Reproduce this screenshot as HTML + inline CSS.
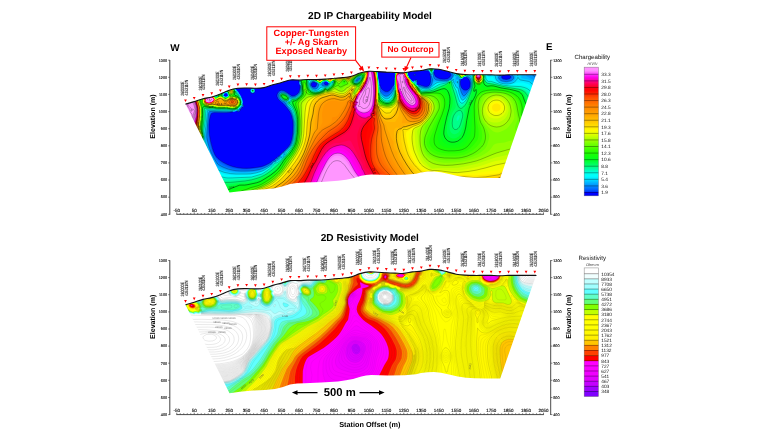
<!DOCTYPE html>
<html lang="en"><head><meta charset="utf-8"><title>2D IP Chargeability and Resistivity Models</title>
<style>html,body{margin:0;padding:0;background:#fff;overflow:hidden}svg{display:block}</style></head>
<body>
<svg width="768" height="432" viewBox="0 0 768 432" text-rendering="geometricPrecision" font-family='&quot;Liberation Sans&quot;, sans-serif'>
<rect width="768" height="432" fill="#fff"/>
<clipPath id="clipip"><rect x="181.0" y="61.0" width="360.0" height="136.0"/></clipPath>
<g clip-path="url(#clipip)">
<rect x="181.0" y="61.0" width="360.0" height="136.0" fill="#0000ff"/>
<g transform="scale(.1)">
<path fill="#004fff" d="M1830 620l38 0 34 110 19 50 20 45 20 40 22 35 17 22 15 12 20 6 60-1 20 3 20 6 10-1 5-6 6-11 22-75 17-32 15-16 15-10 15-6 20-2 20 3 15 6 15 10 12 12 18 25 20 48 25 27 10 19 9 11 3 10 11 15 12 45 0 5-5 15 10 10 3 10-1 5-5 5-13 5-4 12-12 8-1 10-7 9-5 2-10 0-15-6-5-1-10 8-15 0-45 8-55 3-90-2-20 3-10 6-11 20-9 40-5 55 2 70 8 62 8 38 22 80 18 45 16 25 11 12 25 21 30 20 43 22 37 15 34 10 36 7 45 5 40 2 65-4 70-11 20-4 28-10 41-20 21-14 15-13 16-8 14-15 15-9 10-10 10-6 8-10 12-9 8-11 13-10 54-55 14-20 11-25 10-36 7-39 4-90-1-35-11-55-9-25-10-19-25-35-30-36-15-16-35-29-13-15-12-25 0-15 7-20 8-12 15-11 15-4 20 3 15 7 65 44 10 3 20-3 10-4 15-10 17-18 9-25 4-30-15-75-10-25-20-26-46-44-23-25-19-25-19-30 974 0-22 45-15 36-7 24 2 35 4 35 11 45 10 28 10 20 14 12 16 11 10 4 10 1 15-2 20-14 13-15 12-25 10-5 5-13 2-27-1-10 5-10-1-10 5-25-2-15 2-60 10-65 757 0 11 65 6 15 6 5 10 1 25-4 20 0 45 13 20 3 15-2 15-5 15-8 15-12 22-26 24-45 434 0 0 1340-3570 0 0-1335zM2250 934l-5 3-4 8-1 5 2 5 4 5 9 4 10-1 10-5 3-8-8-16-10-2-5 0zM3125 824l-7 6-6 10 0 10 3 8 5 7 10 5 10 1 10-2 6-4 6-10 6-15-1-5-7-5-15-7-10-2-5 1zM3255 819l-9 6-3 5 2 10 3 5 8 5 9 1 5-1 7-5 3-5 0-10-7-10-8-3-5 0zM4125 665l-15 8-10 12-10 18-8 22-3 20 15 35 10 10 6 12 16 13 9 0 15-13 10-4 5 0 5 3 4 9-1 10-7 15 4 8 10 3 10 0 59 19 21 0 13-5 11-10 6-12 5-18 2-20-2-35-10-47-5-4-10-5-35-2-15-4-40-15-40-21-10-3-10-1zM4375 684l-25 13-10 9-4 9 9 32 5 11 5 6 25 17 30 9 30 3 35-6 20-14 12-18 1-5-2-10-14-20-27-21-30-14-30-5-25 3zM4635 773l-5 3-5 10-13 4-5 5-4 30 2 24 10 26 15 17 10 6 10 3 20-2 15-9 13-20 3-20 1-25-12-29-8-11-17-11-15-3-10 1zM5045 748l-18 7-7 5-4 10 4 10 15 10 15 3 15 1 20-3 13-6 7-6 3-9-4-10-7-5-22-8-15-2-10 2zM4149 740l6 2 2 3 0 5-2 4-5 3-10-2 0-7 5-7zM2513 890l7-3 10-1 10 3 6 6 3 5 2 10-2 10-4 6-10 7-10 1-10-3-8-6-3-5-1-10 2-10 5-7z"/>
<path fill="#0067ff" d="M1830 620l33 0 35 110 20 50 20 45 20 40 22 35 20 25 15 12 10 4 15 2 60-2 15 3 20 6 10 0 5-5 6-10 21-70 8-20 10-16 15-17 15-11 15-6 20-2 15 1 15 5 15 9 15 13 20 29 20 45 25 28 9 17 9 10 3 10 10 15 7 25 6 25-5 10 0 5 8 10 2 10-2 5-7 4-15-4 4 15-4 6-5 2-10-2-3 4 5 5 1 5-3 9-5 4-10 1-20-6-10 8-15 0-45 6-60 2-90-2-23 3-12 7-6 13-4 15-7 55-4 65 1 50 13 95 17 63 12 32 14 30 19 30 15 18 25 22 25 16 36 19 34 14 35 10 35 7 40 5 40 2 75-3 65-9 50-14 50-22 26-15 19-20 15-6 10-14 15-9 9-11 15-10 26-29 15-11 50-50 15-20 10-20 15-55 7-60 3-60-2-35-10-50-12-35-16-29-55-74-25-16-26-26-6-10-5-15-1-15 5-15 13-16 15-7 15-1 15 2 25 13 50 37 15 1 20-4 25-16 15-18 5-12 4-19 3-25-2-15-8-25-6-40-11-27-20-26-61-62-19-25-19-30 962 0-18 38-22 62-2 10 6 50 7 45 13 50 3 20 5 13 10 10 15 8 15 6 10 1 20-4 15-9 10-8 15-17 20-37 4-18 1-35 3-10-1-10 3-10-1-35 3-55 5-30 9-35 747 0 12 70 5 14 5 5 10 2 30-7 20 0 15 4 30 11 25 3 15-1 15-5 15-8 17-13 23-28 26-47 400 0 13 45 11 28 0 1267-3570 0 0-1335zM2260 930l-15 5-5 9-1 6 0 5 4 5 12 6 5 0 10-3 5-3 4-5 0-5-6-15-3-3-9-2zM3130 819l-10 4-6 7-5 10 0 10 4 10 7 9 10 6 15 2 10-2 10-10 8-15 2-10-2-5-5-5-23-10-10-2zM3260 815l-30 14-2 6 1 5 5 5 26 10 15-4 6-6 2-5 0-5-3-10-5-6-10-4zM4125 653l-15 10-10 13-10 20-10 29-2 20 15 35 10 10 7 12 15 14 10 0 10-9 10-5 10 0 6 8-1 10-5 15 1 5 4 5 15 7 55 16 15 2 15 0 15-6 12-9 9-15 4-17 2-23-4-35-5-15-4-25-4-10-15-8-50-11-30-14-45-25-15-5-10 0zM4395 674l-20 6-15 7-15 11-9 12-1 10 5 22 5 17 5 8 10 10 10 7 14 6 16 4 40 4 45-4 9-4 6-7 12-18 4-10-2-15-9-14-25-26-25-16-26-9-29-1zM4645 770l-15 5-6 10-15 5-4 5-5 25-1 15 6 30 10 22 20 23 5 3 10 3 10-3 15-8 10-9 10-14 7-17 4-35-6-24-11-21-6-5-13-7-20-3zM5045 745l-20 6-12 9-5 10 0 5 5 10 16 10 26 6 15-1 20-4 15-6 10-10 1-10-5-10-11-9-25-8-15-2-10 2zM2515 890l10-3 10 1 5 3 8 9 1 15-2 5-7 8-10 4-10-1-5-2-8-9-2-15 5-10 5-5z"/>
<path fill="#0080ff" d="M1830 620l28 0 36 110 38 90 21 40 22 37 20 27 15 13 10 5 15 3 65-3 20 4 20 7 5-1 5-3 8-14 21-70 9-20 10-15 12-14 15-10 15-7 20-3 15 2 15 5 15 9 15 13 20 29 18 41 27 30 7 15 9 10 3 10 10 15 8 25 6 25-5 10 0 5 8 15 0 5-6 5-5 1-10-2-2 1 3 15-6 5-15 0-1 5 5 5 1 5-1 5-4 5-10 2-20-6-10 8-15 0-40 5-65 1-85-3-35 3-10 3-9 22-4 30-8 90-2 75 12 90 7 30 14 40 19 45 16 28 15 23 20 23 15 15 30 18 30 15 30 12 30 8 30 7 75 7 75-1 75-8 30-7 30-9 55-25 30-17 15-20 10-4 10-1 5-14 5-5 15-8 8-12 12-8 9-12 8-5 8-11 14-9 50-50 17-20 11-20 14-50 9-67 2-68-2-35-8-40-11-35-16-34-35-46-18-30-7-6-25-14-24-25-8-20-1-15 6-15 12-13 10-4 20-3 15 4 25 13 22 18 18 17 15 1 25-4 10-5 15-11 16-18 5-10 4-17 3-33-2-15-7-25-6-45-11-25-17-24-62-66-35-50 951 0-19 44-20 61 6 55 19 111 5 20 10 13 20 15 10 6 15 3 20-4 15-10 10-8 20-24 8-22 8-15 5-25 2-25-2-10 4-10-2-10 3-10-1-35 3-50 7-35 12-35 736 0 12 70 5 15 5 7 10 4 35-10 20 0 15 4 30 12 30 5 15-1 15-5 20-10 14-11 21-26 31-54 354 0 10 65 8 25 15 25 27 28 0 1197-3570 0 0-1335zM2255 929l-12 6-5 10 0 10 7 8 15 5 15-6 5-7 0-5-6-15-4-4-10-2zM3120 820l-10 10-4 10 0 10 6 15 8 8 15 8 15 2 10-3 10-9 8-16 2-10-2-10-4-5-29-12-10-2-10 1zM3255 814l-27 11-4 5-2 10 3 7 5 4 20 5 15 1 15-7 5-8 1-7-8-15-8-5-10-2zM3580 789l-10 11 0 3 5 0 10-8 2-5-2-4zM4130 640l-15 6-10 10-10 20-10 27-6 22-2 15 2 10 10 25 6 8 8 7 7 13 15 13 10 2 10-9 10-5 5 0 5 2 4 9-5 20 1 7 20 15 50 14 25 4 20-4 15-7 12-14 6-15 4-40-18-75-4-6-10-7-55-18-26-14-44-28-15-6-10-1zM4390 670l-20 7-15 10-15 14-6 9 0 10 6 39 10 19 10 9 10 5 31 8 39 3 50-3 17-15 13-20 4-10-3-15-11-17-25-28-15-11-15-9-15-6-15-2-15-1-15 2zM4640 770l-10 4-7 11-17 5-5 5-5 40 4 30 10 27 20 35 8 8 7 1 10-4 10-9 20-21 10-14 10-23 4-35-2-15-4-15-5-10-7-10-7-5-13-5-26-1zM5050 739l-30 9-11 7-10 15-1 5 3 10 14 13 15 5 30 5 30-4 20-8 10-7 5-9 1-5-3-10-8-10-10-7-35-10-15 0zM2518 890l7-2 10 1 5 4 6 7 2 5-1 10-6 10-6 4-15 0-11-9-2-5-1-10 2-5 7-8z"/>
<path fill="#009aff" d="M1830 620l23 0 37 110 39 90 21 40 24 40 21 27 15 13 10 5 15 2 50-4 15 0 20 4 20 7 5 1 5-3 5-7 7-15 20-65 16-30 12-14 15-11 15-7 20-3 15 2 15 5 15 8 15 14 19 26 18 40 27 30 7 15 9 10 3 10 10 15 8 25 5 25-5 10 0 5 7 10 1 5-4 7-5 2-10-2-3 3 2 10-1 5-3 3-10 0-6 2-1 5 4 5 1 5-2 5-6 4-10 0-15-4-10 8-55 4-70 0-80-3-50 1-4 5-7 30-15 195 0 30 3 20 13 55 15 47 21 48 18 35 38 60 48 29 50 19 55 14 55 6 60 2 40 0 70-7 30-6 30-9 55-23 50-30 9-15 6-5 5-2 10 0 5-3 4-15 6-5 12 0 5-15 5-5 11-5 5-10 12-10 7-10 13-7 15-17 30-27 21-24 12-20 8-20 7-30 10-70 2-70-3-35-6-35-12-40-18-40-35-45-15-30-7-5-24-11-24-24-8-20-2-15 7-15 7-8 10-5 20-3 15 4 25 12 24 20 11 15 5 2 30-3 15-3 10-6 15-12 15-20 6-23 4-35-2-15-8-25-5-46-10-27-20-28-58-64-32-45 941 0-16 38-20 63 0 14 5 46 19 119 4 15 7 11 25 24 15 8 10 2 20-4 20-14 15-16 17-26 5-20 7-15 4-25-1-10 2-15-1-10 3-10-1-10 1-10 0-35 4-53 8-32 14-35 727 0 15 80 6 15 5 5 10 1 30-12 20-2 20 5 35 15 35 6 15-3 20-7 15-9 15-12 17-22 34-60 311 0 2 35-2 60 5 20 13 16 75 56 0 1153-3570 0 0-1335zM2250 929l-5 3-5 6-4 12 0 5 3 5 6 5 15 4 15-5 6-9 0-5-6-17-4-3-6-2-10 0zM3125 815l-10 5-10 14-2 11 2 11 7 14 13 11 15 7 15 1 11-4 9-9 10-21 0-10-4-10-6-7-30-12-15-2zM3250 814l-26 11-6 15 1 10 6 5 10 3 25 2 10-2 13-8 4-5 1-10-5-10-8-8-10-5-10 1zM3590 778l-12 7-10 10-6 10 0 5 3 2 7-2 13-10 10-13 1-7-1-1zM4120 628l-10 6-10 15-20 65-3 21 0 10 12 30 6 9 7 6 8 13 15 14 10 2 10-9 10-4 5 0 4 4 2 5-3 20 1 10 11 6 10 9 60 17 15 2 15-2 20-8 15-14 9-20 5-30 0-15-7-15-4-15-5-10-8-30-3-5-7-7-10-5-34-13-20-10-71-47-15-6-15 0zM4410 660l-20 4-20 9-20 15-15 17-2 5-1 10 5 50 8 16 10 8 10 5 15 3 30 4 45 1 35-4 21-13 20-30 0-10-7-15-13-20-16-19-15-13-15-11-15-7-15-5-20-1zM4640 769l-10 4-10 13-18 4-7 5-3 40 4 35 19 55 7 15 6 10 7 5 5 1 10-5 10-9 35-48 13-29 4-35-1-15-4-15-6-15-6-8-10-6-10-3-15-1-15 1zM5055 734l-18 6-17 2-10 4-19 19-4 10 1 5 10 15 17 13 40 8 15-1 30-6 20-9 11-10 4-7 2-8-2-6-6-9-19-15-25-5-15-6-10 0zM2521 890l14 1 6 4 5 10 0 10-3 5-8 7-5 2-10-2-4-2-8-10 0-10 1-5 4-5 7-5z"/>
<path fill="#00b6ff" d="M1830 620l18 0 38 110 21 50 21 45 22 40 25 40 20 26 15 12 10 4 10 2 55-5 15 0 20 4 20 8 10-1 5-5 8-15 20-65 17-33 15-16 15-10 15-6 20-1 15 2 15 6 15 11 10 9 16 23 19 40 27 30 7 15 9 10 4 10 7 10 7 20 8 30 1 5-5 10 0 5 6 10 1 5-3 5-4 2-10-1-4 4 1 10-2 5-15 2-2 3-1 5 3 5 0 5-5 6-10 1-15-4-10 9-50 2-75 0-75-4-50 0-10 2-4 3-7 30-4 55-12 125-8 55 1 10 11 25 18 60 15 42 40 83 24 45 6 8 10 8 23 14 52 21 55 15 50 6 95 3 75-5 60-11 30-10 30-12 35-19 30-20 9-8 11-16 5-3 15-1 3-5 2-10 5-6 5-1 11 2 3-5-1-10 2-5 10-5 15 3 5-2 1-6-11-4 0-6 13-10 7-9 10-3 5-4 10-14 40-38 15-18 10-16 7-18 8-30 11-75 1-75-2-30-6-35-12-40-12-32-14-23-29-35-9-25-16-10-17-6-25-23-6-11-4-15-1-10 8-15 8-8 20-5 10 0 25 10 13 8 21 20 11 17 5 0 45-7 10-6 15-12 10-11 7-11 6-20 4-40-2-15-8-25-5-50-9-25-18-26-60-69-28-40 930 0-22 61-10 35-2 14 23 170 4 17 4 8 21 25 20 16 15 4 10 0 10-4 20-13 15-16 21-37 3-15 7-20 3-25-1-10 3-15-2-10 2-10-1-10 2-25-1-20 5-50 10-35 18-35 119 0-9 20-18 90 0 15 12 30 7 10 7 5 8 14 15 14 10 3 15-12 5-1 6 2 3 5 0 5-2 25 13 8 5 7 30 13 40 9 15 0 15-3 15-5 10-7 7-7 10-15 11-30 7-9 5-1 25 3 65 4 25-1 20-5 15-1 10-8 10-3 3-4 19-30-2-15-10-18-15-21-20-23-15-13-15-9-15-6-15-3-15 0-20 5-20 9-20 14-15 16-8 14-1 40-6 16-5-3-10-14-9-29-6-9-15-10-51-26-59-45-16-10 546 0 16 85 4 12 5 6 5 3 10-1 25-12 25-4 20 5 35 17 25 6 15 2 15-2 19-7 20-10 13-10 16-20 40-70 268 0 2 20-2 25-4 25-13 45-1 10 1 10 10 10 81 40 25 18 25 22 0 1115-3570 0 0-1335zM2250 928l-5 2-5 6-4 9-2 10 3 5 6 5 12 5 5 0 16-5 7-10 0-5-9-20-9-3-10 0zM2840 1537l-5 3-2 5 2 5 5-2 2-3-1-5zM3120 813l-10 8-9 14 0 15 4 13 10 14 15 12 15 6 15 0 11-5 9-9 10-21 2-10-12-20-5-4-35-14-15 0zM3245 814l-17 6-7 5-9 20 0 5 2 5 8 5 8 2 30 1 10-2 10-5 7-6 3-6 0-9-5-10-11-10-14-4-10 1zM3320 814l-1 1 1 5 5 0 1-5-1-1zM3590 775l-17 10-13 15-3 10 3 5 5 1 5-1 14-10 11-12 4-8 1-5-5-5zM4670 765l-25 2-10 3-8 5-7 10-20 3-10-1-10-17-5-2-10 4-5 8 1 5 4 5 15 2 5 4 2 4 2 10-1 25 2 30 12 50 8 25 10 20 5 7 10 5 5-1 10-6 15-18 35-57 11-30 3-40-4-23-5-14-5-9-5-4-10-4-14-1zM5055 730l-20 6-20 1-17 8-16 15-4 10 0 10 4 10 7 10 21 16 20 5 25 3 15 0 35-7 20-9 15-14 5-9 2-10-3-10-4-6-20-16-15-5-45-9zM2514 895l11-5 10 2 4 3 6 10-1 10-3 5-11 7-11-2-6-5-3-5-1-10 2-5z"/>
<path fill="#00d3ff" d="M1830 620l13 0 20 60 23 60 24 55 25 50 41 65 19 24 13 11 12 5 10 1 50-6 20 0 20 4 20 8 10 1 5-4 8-14 22-69 17-31 13-15 15-10 15-6 20-2 15 3 15 6 15 10 10 10 15 20 20 41 25 28 8 15 9 10 3 10 7 10 8 20 8 30 1 5-5 10 0 5 6 10 0 5-5 5-10 0-5 5 0 11-5 3-10 2-4 4 0 5 3 5-1 5-3 4-10 1-15-3-10 8-35 2-50-2-45 1-90-5-35 0-15 4-6 30-5 85-20 155 1 13 13 32 17 56 14 39 56 122 15 23 10 10 15 11 45 19 55 15 55 8 110 2 65-4 35-5 30-7 30-10 25-10 40-22 30-21 15-14 13-17 7-3 10 0 4-2 6-17 5-2 10 3 5-2 3-7-2-10 4-6 5-1 15 4 6-2 5-5 2-5-3-4-11-1 0-5 11-6 4-4 1-5 5-3 2 3-4 5-1 5 3 5 5 0 8-5 3-5-1-15 4-10 38-35 21-25 10-15 7-20 8-30 10-70 2-80-2-30-6-35-11-40-13-35-13-21-29-34-5-10-1-15-3-5-37-14-22-21-7-10-4-15 0-10 4-10 9-9 20-6 10 0 25 10 15 10 16 15 9 19 5 4 55-12 25-20 15-21 5-20 3-40-2-15-7-20-2-15-2-40-8-25-17-27-58-68-29-40 921 0-19 55-10 37-3 18 16 110 7 65 6 20 24 33 20 16 15 6 20-4 15-9 10-8 15-19 20-40 1-15 5-15 4-30 0-35 2-10-1-10 2-25-1-20 5-45 5-20 8-22 10-19 11-14 94 0-1 45-9 75 4 15 12 25 10 10 9 15 10 10 15 7 5 6 0-8 5-7 10-3 5 2 3 8-3 25 15 10 5 7 30 15 30 7 20 2 25-4 20-9 14-13 21-30 5-5 9-5 26-4 80-1 20-7 15-1 10-7 10 0 5-2 21-33 2-10 0-5-7-15-16-24-20-26-15-15-15-12-15-8-15-4-15-1-20 3-20 7-20 13-15 13-10 12-9 17-3 35-3 7-5 2-5-3-4-6-8-25-8-11-15-11-49-28-59-50 524 0 8 35 10 60 6 12 5 3 10 1 35-18 10-2 15 0 15 5 25 14 30 11 25 6 15-2 40-14 10-3 10-7 8-11 26-55 21-35 228 0 2 25-4 30-9 30-22 50-3 10 0 10 3 4 5 3 65 13 24 10 42 30 49 47 0 1078-3570 0 0-1335zM2245 929l-6 6-5 10-1 10 2 5 5 5 15 6 15-2 7-4 7-10 0-5-8-20-11-4-15 1zM3125 809l-14 6-8 10-5 15 1 15 7 15 14 16 15 10 20 5 15-3 12-8 8-10 6-15 4-5 5 0 11 5 9 2 45-4 10-4 10-9 3-5-1-10-6-10-11-11-10-4-10 0-31 10-14 21-5 5-5 1-10-7-13-15-32-13-15-3zM3320 812l-3 3 1 5 2 2 5 1 3-3 1-5-4-3zM3585 774l-20 16-10 15 0 10 5 4 10-2 18-12 12-15 3-10-2-5-6-3-5 0zM4565 764l-11 11-1 5-1 20-9 10-1 10 3 7 5 4 5-1 5-9 1-16 9-5 5 1 7 4 2 10-1 20 2 15-3 15 6 15 10 50 8 25 10 20 9 10 5 2 5-1 10-6 15-16 15-23 30-56 7-20 4-30 0-20-4-25-7-18-5-6-5-3-20 0-30 3-15 6-10 12-15 2-10-2-4-4-9-15-12-3zM5055 725l-20 4-35 2-20 7-6 7-4 10-3 15 1 10 3 10 9 14 13 11 12 8 30 8 35 2 40-8 25-13 17-17 4-10 1-15-3-10-4-7-9-8-11-6-20-7-20-2-30-6zM4570 859l-4 1 4 3 2-3zM2516 895l4-3 10-1 10 6 4 8 0 5-5 10-4 4-10 2-10-6-5-10 2-10 3-4z"/>
<path fill="#00ebff" d="M1830 620l8 0 20 60 22 55 24 55 23 45 43 71 20 26 15 14 10 5 10 2 55-7 20 0 20 4 24 10 9 0 2-2 12-23 21-65 17-29 10-11 15-11 15-6 20-2 15 2 15 6 15 10 10 10 15 21 20 40 25 27 6 13 9 10 4 10 7 10 8 20 8 30 0 5-4 10 0 5 5 10 0 5-3 3-10 1-5 4-2 12-13 5-5 5 2 10-1 5-6 3-20-2-10 7-35 2-45-3-50 1-90-5-45 0-10 3-2 4-3 30-4 60-5 50-13 90 0 25-3 25 32 100 13 38 48 112 17 31 15 18 13 11 37 16 40 12 65 10 120 2 65-3 40-6 40-10 45-16 45-27 30-22 33-36 12 0 5-2 3-3 7-15 10 3 7-3 4-5 2-5-3-11 5-1 15 3 12-6 8-10 17-15 3-10 0-15 3-5 37-33 22-27 9-15 8-20 7-30 10-75 2-75-7-65-12-40-15-40-12-20-23-25-7-10-4-15 3-15-16-1-25-9-10-6-15-15-6-9-4-15-1-10 5-10 6-7 20-6 10 0 25 10 15 10 15 15 10 24 5 3 20-9 35-5 25-20 15-20 6-20 4-45-2-15-8-25-2-15 0-35-8-27-17-28-54-65-29-40 910 0-20 67-8 43 15 110 7 70 6 20 20 30 20 19 10 6 10 3 20-3 15-8 10-9 10-11 8-12 17-37 3-8 0-15 5-15 3-30 0-35 2-10-1-10 2-25-2-15 6-50 7-24 10-21 10-15 14-15 72 0 6 20 3 25-6 75 2 10 11 25 33 41 15 8 5 6 6 0-4-5-1-5 4-5 10-3 5 3 1 5 0 20-2 5 1 3 10 4 10 12 30 17 40 9 15 0 15-3 15-4 15-8 35-35 28-15 22-4 60-2 10-2 16-7 14-1 10-8 15 3 10-3 7 24 14 20 7 20 7 7 15 9 9 44 11 35 15 32 5 6 5 2 5 0 10-5 15-15 10-14 35-64 13-32 4-20 2-35-7-40-7-15-10-3-50 8-15 6-10 13-20-1-5-3-8-15-6-5-11-3-15 2-40-63-20-25-15-14-25-15-25-5-15 2-20 6-20 10-15 12-15 17-10 14-6 12-4 32-5 6-5-1-14-32-6-8-62-42-48-45 507 0 11 45 9 60 3 7 4 3 16-1 30-17 15-4 10-1 20 6 25 15 50 23 15 0 25-6 17 0 8 5 7 30 5 10 7 10 10 10 26 15 30 7 25 3 20-1 25-3 31-11 15-10 10-10 11-15 3-11 5-6 10 17 15 10 80 14 13 6 52 46 50 53 0 1041-3570 0 0-1335zM2260 925l-10 1-10 6-7 13-2 10 2 5 5 5 12 6 10 2 19-8 6-10-8-25-7-5-5 0zM3115 809l-9 6-6 7-4 8 0 20 7 20 12 16 15 12 20 7 15 0 21-10 19-21 60-7 15-5 14-12 3-10-2-5-12-15-8-7-10-4-10-1-23 7-10 5-12 17-10 5-10-5-10-12-11-5-29-11-20-1zM3320 811l-4 4 0 5 4 4 5 1 5-4 1-6-6-4zM3595 770l-5 0-11 5-12 10-9 10-6 15 3 9 5 3 10-2 8-5 12-9 10-12 5-9 0-5-1-5-8-5zM5035 620l185 0 3 30-4 30-12 30-22 39-5 6-30-20-30-9-30-2-25-6-40 3-21-6-6-5-2-5 2-20 14-30 19-30zM4535 790l2 5-2 3-3-3zM4572 815l3-4 1 14-1 7-3-2 0-10zM2518 895l7-3 5 0 5 2 5 5 3 11-6 10-7 4-5 0-8-4-6-10 0-5 4-7z"/>
<path fill="#00ffff" d="M1830 620l3 0 23 65 24 60 38 80 23 40 26 40 23 31 15 14 10 4 10 1 55-8 20 0 20 4 20 9 15 4 14-29 20-60 16-29 10-12 15-11 15-7 20-2 15 2 15 7 15 10 10 9 15 21 19 37 26 30 4 10 9 10 12 22 7 18 8 28 1 7-4 10 0 5 4 10-1 5-15 6-3 4-1 10-11 4-5 5-1 6 1 5-5 6-20-2-10 7-35 2-45-4-50 1-85-5-50-1-10 2-6 4-1 5-8 115-15 100 0 40-3 25 3 14 35 115 55 137 15 27 15 18 20 16 40 19 30 8 44 6 51 2 160-3 85-20 30-11 30-17 35-23 25-21 27-32 3-2 10 0 8-3 9-10 18-7 10-14 15-5 10-7 25-27 3-10 2-15 35-34 22-26 10-15 8-20 8-30 11-75 2-55-1-30-7-65-18-60-9-20-11-17-25-27-7-11-2-10 6-15-2-3-20 0-30-12-21-20-5-10-3-15 2-10 3-5 6-5 8-4 20-2 25 10 15 11 15 16 7 19 0 5-5 10 0 5 3 2 5-2 11-15 9-6 10-2 25-3 10-4 28-25 7-10 6-15 5-60-11-45 0-40-3-20-7-15-12-20-57-70-25-35 901 0-17 60-9 50 15 110 6 70 3 14 5 11 20 32 20 19 10 6 10 4 10 0 10-2 20-12 17-17 13-24 15-41 1-15 4-16 3-54-2-10 3-10-2-10 2-25-1-15 7-51 8-24 12-23 15-17 14-10 47 0 5 5 9 15 4 15 2 30-3 55 2 10 12 25 33 42 14 8 6 6 5 1 2-2-4-5-1-5 3-4 5-3 7 2 2 5 1 20-3 5 2 5 11 4 10 11 30 20 20 6 20 3 30-3 31-11 39-31 23-14 12-5 75-8 25-11 10-1 10-7 5 0 14 7 4 5 7 17 19 38 19 20 12 50 15 43 10 19 10 8 5 1 10-3 10-7 10-12 25-42 30-62 7-25 4-40-3-35-6-35 4-5 24-9 25-17 20-5 15 2 11 4 19 13 24 12 36 28 10 1 25-6 4 2 19 30 17 15 27 15 31 10 42 6 40-1 30-5 40-14 20-2 35 1 50 16 20 12 35 30 30 32 35 43 0 1002-3570 0 0-1335zM2250 924l-10 6-3 5-7 20 1 5 5 5 14 7 10 2 20-8 7-11-1-5-4-5-4-15-3-4-5-2-15 0zM3120 805l-16 5-6 5-3 5-3 25 6 20 12 20 15 14 20 9 15 2 15-4 14-6 29-20 27-8 25-4 10-4 10-6 7-8 3-10-6-10-14-14-15-8-15 0-21 7-9 5-10 14-5 4-5 1-5-1-15-14-8-4-27-12-20-3zM3320 810l-5 5 0 5 5 7 5 1 5-4 3-9-8-5zM3585 770l-21 15-9 10-5 10-1 10 2 5 9 4 5 0 10-4 14-10 16-20 2-10-2-7-5-4-10-1zM4197 620l491 0 14 60 5 60-2 5-15 8-55 15-10 7-5 8-5 0-15-2-5-6-5-11-5-5-30-12-45-66-15-19-20-18-20-10-20-4-20 1-25 9-20 14-20 19-15 22-7 15-3 21-5 10-5-1-13-25-7-9-54-41-41-42zM5048 625l5-5 137 0 6 20 0 25-6 22-11 18-14 10-15 2-55-1-30-5-30-1-10-4-7-6-2-5 0-15 10-25 19-26zM2520 895l10-2 9 7 2 10-6 10-10 3-6-3-5-5-1-5 2-11z"/>
<path fill="#00ffee" d="M2902 620l892 0-14 52-10 58 15 110 6 75 9 27 20 32 25 22 10 5 10 3 10-1 10-3 15-9 16-16 14-23 15-44 3-13-1-10 4-10 3-60-2-10 2-10-1-10 2-10-2-30 10-55 12-29 15-20 20-15 20-5 10 1 10 5 10 9 8 14 6 30-1 65 17 35 10 10 9 15 11 13 13 7 7 7 5 1 4-3-4-5 0-7 5-3 5 1 3 4 1 20-4 5 2 5 13 5 10 12 25 21 15 6 25 4 20-1 25-4 30-13 35-24 30-17 15-4 60-9 25-14 10-1 10-6 5 0 9 5 5 5 23 55 18 25 31 100 9 16 5 5 8 4 7 1 10-4 10-7 10-12 30-53 25-55 8-25 4-30 1-20-4-55 2-10 5-5 19-9 15-13 10-5 15-3 15 2 10 4 20 15 15 7 9 7 8 10 5 10 6 20 10 10 7 2 20-1 10 1 46 23 34 14 35 8 50 6 30 0 70-4 25 0 20 4 45 14 25 15 30 27 30 36 40 54 0 961-3570 0 0-1334 40 104 22 50 23 45 23 40 26 40 26 34 15 14 10 4 10 1 55-10 20 0 20 4 30 13 10 7 5-1-5-11 12-25 17-55 13-25 13-16 15-12 15-7 20-2 15 2 15 6 15 10 10 10 15 21 17 33 26 30 4 10 12 15 11 20 13 40 1 10-3 10 0 5 4 10-3 5-12 5-8 15-7 3-5 4-2 3 0 10-3 3-5 2-15-2-12 7-13 1-65-5-55 1-90-6-45 0-12 4-4 5-2 10-5 90-6 55-10 55 0 30 2 20-3 25 3 20 22 80 13 40 47 125 18 35 12 17 15 15 20 15 25 13 20 7 30 5 65 4 185-6 105-30 40-24 35-25 25-23 25-30 20-4 25-16 15-14 21-14 27-30 8-25 34-34 21-26 9-15 8-20 8-30 11-75 2-55-1-30-7-65-17-60-8-20-13-20-25-25-7-10-2-10 7-15-2-5-24 0-20-7-10-6-21-22-6-20 2-10 5-6 15-7 15-1 25 10 18 14 12 15 4 20-6 15 2 5 5 0 10-5 6-10 9-8 10-3 25-2 10-3 30-27 8-12 5-10 2-15 3-50-12-45 2-40-4-25-7-15-12-18-53-67-22-31zM3105 805l-12 5-3 5-1 15 2 25 11 25 13 15 20 14 20 5 15-2 25-10 37-22 18-6 20-3 15-7 17-14 2-10-2-5-22-21-15-7-15 0-24 8-7 5-9 12-10 4-10-4-15-12-30-13-20-5-15 2zM3320 809l-6 6 0 5 6 10 5 0 7-5 2-10-3-5-6-1zM3580 770l-14 10-9 10-7 10-3 10 1 10 6 5 6 1 10-1 25-18 9-12 5-10 0-10-4-6-10-3-10 1zM2245 925l-6 5-6 10-5 15 2 5 4 5 16 8 10 2 5-2 15-6 8-12 0-5-5-5-3-15-5-5-10-3-15 1zM4207 620l477 0 10 35 6 30 3 35-3 17-6 8-7 5-52 17-10 7-5 8-5 1-13-3-5-5-8-15-28-15-6-5-55-81-20-21-20-12-20-4-20 1-25 8-20 13-15 13-15 19-15 26-8 28-2 4-5 0-5-5-6-14-9-11-52-44-33-37zM5074 625l8-5 69 0 12 15 5 20-4 20-6 10-8 8-20 8-35 3-40-7-7-2-7-5-4-10 3-15 13-20 17-17zM2522 895l8-1 5 3 5 8-2 10-8 6-10-2-5-6-1-8 6-9z"/>
<path fill="#00ffd4" d="M2908 620l883 0-13 55-9 55 15 110 7 80 9 29 20 31 25 22 20 8 10 0 10-3 19-12 16-17 13-23 12-38 5-22-1-10 3-10 2-35-1-10 1-15-1-10 2-10-2-10 2-10-1-30 9-50 12-29 15-20 15-12 20-6 15 2 10 5 9 10 6 11 7 29 1 60 16 35 10 10 9 15 12 13 12 7 8 8 5 1 5-4-5-10 5-3 5 2 3 21-4 5 1 5 15 6 10 13 25 24 10 6 15 3 25 1 45-9 23-9 70-40 67-15 10-5 13-10 12-3 10-6 10 4 7 10 19 50 19 35 31 100 9 15 5 6 10 6 10-1 10-4 10-8 10-12 20-34 38-83 8-25 3-25 1-60-2-20 3-10 6-5 13-6 10-10 10-7 20-5 15 2 10 4 20 16 19 11 4 5 4 10 0 15 3 11 10 14 15 10 20-1 10 1 80 27 40 10 65 8 105 6 30 6 30 11 21 12 22 20 25 30 29 40 38 58 0 917-3570 0 0-1320 40 100 44 90 24 40 27 40 25 33 15 13 15 4 60-11 20 0 20 4 27 12 13 10 5-2 3-3-5-10 9-20 18-55 15-29 15-17 15-11 15-5 20-2 15 4 15 7 15 12 10 11 10 15 19 35 21 25 8 15 9 10 17 35 8 30-2 15 2 15-4 5-10 5-4 10-14 10-3 5-2 9-5 3-15-1-15 7-10 1-65-6-55 1-80-6-55 0-11 2-7 5-5 15-4 90-16 110 4 50-3 20 0 15 27 109 47 136 15 35 17 30 21 24 20 16 25 15 25 9 35 5 30 1 215-9 105-31 45-29 30-22 25-23 25-31 5-3 20-5 20-13 41-34 26-30 10-25 29-30 30-40 11-25 6-25 11-75 3-65-5-75-11-50-16-45-15-25-30-29-3-11 3-9 5-6 15-3 4-2 10-15 6-5 10-3 25-2 10-3 31-27 10-15 5-15 4-55-2-15-7-20-3-15 3-45-6-25-20-35-70-92zM3115 800l-20 3-5 2-5 5 2 35 5 20 10 20 13 15 20 12 20 5 18-2 22-8 50-29 30-5 15-8 12-10 8-10 1-5-3-5-13-8-15-14-15-7-15 0-20 6-10 5-15 16-5 1-5-1-15-11-30-15-15-5-15-2zM3320 809l-6 6-1 10 2 5 5 4 5-1 9-8 2-10-3-5-8-2zM3590 764l-10 4-16 12-14 15-5 10-1 10 1 5 3 5 7 3 10 0 10-4 15-10 10-10 10-14 2-10-3-10-6-5-8-2zM2245 923l-8 7-5 10-5 10 1 10 5 5 12 7 10 4 5 0 20-8 9-13 1-5-6-5-3-15-6-7-10-2-15 1zM4217 620l186 0-23 13-25 24-20 32-15 40-5 2-5-5-5-11-10-13-45-42-30-36zM4468 620l211 0 11 32 7 33 2 30-3 20-8 10-8 5-45 17-10 7-5 7-5 1-10-2-5-4-10-17-25-16-9-8-56-87-15-16-15-11zM5095 645l10-2 10 2 7 5 3 5 1 10-2 5-12 10-12 3-10 0-11-3-6-5-2-5 3-10 6-6 10-7zM2517 900l8-5 5 0 7 5 2 10-4 7-5 3-5 0-7-5-3-10zM2815 935l15-2 20 5 15 8 16 14 7 10 4 15-2 10-5 9-5 3-20 1-20-5-15-8-15-15-9-15-1-15 5-9 10-6z"/>
<path fill="#00ffaf" d="M2914 620l874 0-13 61-6 49 14 110 2 40 5 45 10 30 18 30 27 23 20 7 10 1 10-3 20-12 19-21 11-21 12-39 5-25-1-10 3-10-1-20 1-15-1-10 2-12-2-13 2-10-1-10 1-10-1-30 9-45 9-25 13-19 10-10 10-7 20-5 10 1 10 4 10 9 7 12 7 25 3 60 17 35 10 10 9 15 12 14 10 6 10 9 5 1 10-3 2 8-4 5 2 7 15 5 30 36 15 11 10 3 25 0 30-4 25-6 32-12 63-33 65-20 10-7 11-10 9-2 10-5 7 2 4 5 19 55 20 43 31 102 12 20 12 10 10 0 10-3 15-12 10-12 16-28 34-75 10-25 9-30 4-45-1-60 3-5 15-9 15-15 10-5 10-3 15 1 10 3 25 19 15 9 6 10-1 20 2 10 13 20 13 10 7 2 20 0 130 34 55 9 105 12 35 8 26 10 19 12 22 23 26 35 77 124 0 871-3570 0 0-1307 41 97 43 85 24 40 28 40 24 31 15 14 15 3 60-13 20 0 20 4 25 11 11 10 9 0 6-5 0-5-5-5 7-15 18-55 15-30 14-17 15-11 15-6 20-1 15 3 15 7 15 12 10 11 10 15 17 32 38 51 17 34 9 30-3 15 2 15-13 10-5 10-12 9-10 15-15 0-15 6-10 1-65-6-55 1-90-6-50 0-15 5-5 7-3 13-3 80-16 115 1 20 5 35-4 35 5 27 20 83 49 150 16 36 18 29 22 25 25 20 25 14 25 7 30 3 35 0 55-2 155-12 95-29 16-6 69-46 26-24 29-35 20-7 15-9 50-44 22-25 17-30 26-29 29-41 11-25 6-25 12-80 2-65-4-75-13-55-15-40-18-27-26-23-5-10 1-5 5-6 15-3 5-3 15-20 10-4 20 0 15-5 19-14 15-15 10-15 5-15 2-55-1-15-11-35 0-10 6-35-6-25-19-35-70-94zM3095 799l-10 5-3 6-1 5 4 40 5 15 8 15 12 15 20 14 20 6 20-1 20-6 18-8 17-9 12-11 8-4 10-3 15 1 25-13 14-11 11-15 10-7 5-6 3-12-3-5-10-3-8 3-4 5-3 12-5 2-10-4-25-19-10-2-10 0-25 9-9 7-6 8-10 5-10-4-15-11-35-16-20-4-20 0zM3585 763l-25 18-12 14-5 10-1 15 3 6 10 4 15-1 25-16 14-18 4-10 1-10-4-8-10-5-10 0zM2265 920l-15 1-10 4-5 6-11 24 2 5 5 5 24 12 10-2 15-6 10-14 1-5-7-5-4-19-5-4-10-2zM4226 620l162 0-18 14-20 24-15 26-15 41-5 2-20-27-43-45-23-30zM4485 620l190 0 11 30 7 30 3 30-3 20-5 10-8 7-16 8-34 13-7 7-3 6-5 0-7-1-7-5-11-18-24-17-10-10-13-20-33-59-11-16-14-15zM4148 820l2-1 3 1 0 5-3 2-1-2zM2519 900l6-4 5 1 5 3 3 5-1 5-2 5-5 3-5 0-6-3-3-5 0-5zM2823 935l12 0 20 8 18 12 12 14 5 16-2 10-3 6-5 3-10 3-15-1-18-6-17-12-12-13-5-10-1-15 2-5 5-5 11-5z"/>
<path fill="#00ff8a" d="M2920 620l865 0-10 51-7 59 11 80 7 95 4 27 7 23 18 34 25 22 10 5 15 4 20-2 20-11 15-14 15-25 9-28 10-45-1-10 2-10-1-20 1-15-1-10 1-15-1-10 2-10-1-50 8-40 9-25 13-20 10-10 10-6 20-5 10 2 10 4 10 10 6 10 7 25 3 55 6 15 11 20 11 10 6 12 15 18 10 6 10 9 5 1 10 0 1 4-4 5 3 8 15 5 5 9 13 13 12 18 15 12 10 2 30-1 45-7 25-7 28-12 49-25 58-22 15-8 8-10 6-5 11-2 5-4 5 2 4 4 4 20 11 35 21 53 30 102 15 28 10 9 5 2 10-3 15-9 15-15 9-12 15-30 35-80 9-25 8-30 4-40 0-65 5-7 10-4 15-16 10-6 10-2 10-1 15 4 10 7 10 10 16 10 6 10-2 25 3 10 12 18 15 13 10 3 20 1 130 31 55 10 95 13 30 7 25 10 20 13 16 16 15 20 36 60 45 85 28 40 0 825-3570 0 0-1295 41 95 43 80 25 40 28 40 23 30 15 14 5 1 10 1 60-15 20 0 25 6 20 9 10 10 10 0 8-6 3-5-2-10 11-41 11-29 14-25 13-15 14-10 18-6 15-1 15 3 15 7 15 12 10 11 40 67 24 32 16 30 9 30-2 15 1 15-13 10-5 10-10 7-10 14-15 1-20 6-75-6-60 1-80-7-50 1-20 4-4 4-3 15-3 30 0 51-15 114 1 20 6 40-4 25 0 15 12 63 11 47 49 156 15 34 20 32 25 29 25 20 25 14 25 7 20 2 55-1 130-10 70-9 90-27 30-14 40-25 31-23 22-20 22-25 40-28 50-47 24-30 16-25 26-30 27-40 8-20 8-25 12-80 2-70-3-70-9-50-16-45-10-19-12-16-13-13-15-11-3-6 1-5 7-5 15-3 15-21 5-3 25-1 15-5 35-29 10-13 5-15 3-60-2-15-6-20-4-20 7-40 0-10-4-15-20-35-69-95zM3095 795l-11 5-4 5-2 10 4 40 4 15 8 15 11 15 20 15 20 7 20 0 25-5 26-12 10-5 19-17 10-2 15 3 25-14 20-15 20-25 4-10 1-5-3-5-7-4-10 2-5 3-10 15-10-3-25-18-10-2-10 0-25 9-15 14-10 5-5-1-20-13-35-17-20-5-20-1zM3590 760l-10 4-20 14-15 17-4 10-2 10 2 10 9 6 15 2 10-4 20-14 19-25 3-15-2-6-5-6-5-3-10-1zM4585 1153l-12 12-7 20-1 10 3 10 2 3 5 0 5-3 10-15 7-20 1-10-3-6-5-2zM2250 919l-10 4-5 6-13 26 1 5 5 5 22 12 10 1 21-8 11-15 0-5-7-5-2-15-3-5-10-6-15 0zM4234 620l143 0-17 17-15 22-10 20-15 41-5 4-20-26-37-43-23-34zM4498 620l173 0 12 30 7 30 3 30-3 20-6 10-9 7-45 21-8 7-2 5-5 1-12-6-13-20-25-20-9-10-15-25-26-53-15-24zM2520 900l5-3 5 1 5 4 1 8-6 7-5 0-5-3-2-9zM2813 940l12-3 15 2 15 6 16 10 12 15 5 10-1 15-7 7-15 3-20-4-25-15-15-21-1-15 6-8z"/>
<path fill="#00ff69" d="M2925 620l858 0-10 50-6 60 11 80 7 95 5 35 5 18 10 24 9 13 26 21 10 5 15 4 10 0 15-4 19-11 16-17 15-28 6-20 10-50-1-145 7-40 9-25 14-21 15-13 10-5 10-2 15 2 10 5 9 9 6 10 7 25 4 50 6 15 11 20 10 10 7 12 15 19 10 5 10 9 13 5-2 5 4 10 15 5 5 9 10 11 13 20 17 15 10 2 35-2 40-6 30-7 30-12 45-22 45-18 25-15 11-15 4-3 15-6 5 3 13 56 27 83 23 87 12 26 10 13 10 5 10 0 5-3 15-11 24-30 14-25 39-100 16-50 4-45 0-65 4-5 10-5 14-16 15-7 15-2 15 5 8 5 12 13 15 9 4 8-3 25 4 13 15 24 15 11 55 8 105 25 162 29 23 8 20 12 15 13 13 17 45 80 42 93 20 30 25 28 0 784-3570 0 0-1284 40 89 41 75 25 40 28 40 26 34 15 13 5 2 10-1 55-15 20-2 25 4 25 12 10 10 10 0 10-7 4-5 1-20 7-30 12-30 11-20 13-15 12-10 15-6 20-2 15 2 15 7 15 12 10 11 10 15 22 41 3 10 25 29 20 36 7 25-2 30-10 8-7 12-8 5-10 12-5 3-35 6-70-7-80 0-65-7-70 1-5 2-2 5-3 40 0 60-13 110 1 25 7 40-4 25 0 20 9 54 11 51 46 155 16 40 21 35 26 32 25 22 30 17 25 8 20 2 45-2 145-14 65-11 70-20 30-12 30-15 40-25 30-22 35-30 40-39 54-56 25-30 41-54 24-36 11-25 7-25 11-75 4-70-3-70-9-55-5-20-12-30-13-23-15-19-10-9-10-4-4-5 1-5 18-3 7-7 8-15 5-4 25-1 10-3 30-21 15-14 8-12 5-15 2-60-2-15-8-25-3-15 10-40 0-10-4-15-19-35-65-90zM3085 794l-6 6-4 10 1 30 5 25 6 15 9 15 9 10 15 10 25 10 25-1 20-4 35-15 7-5 8-10 10-6 10 0 10 7 35-23 15-13 15-21 6-14-1-10-5-3-5-2-10 2-5 3-10 14-5 0-30-20-10-2-10 0-25 9-20 18-5 1-5-1-20-13-40-20-25-4-20 0zM3585 759l-15 9-14 12-13 15-5 10-1 15 5 10 13 5 15-1 29-19 15-20 4-10 1-15-4-8-10-5-15 1zM4590 1104l-10 4-15 10-20 22-12 25-8 35-3 40 5 30 4 10 9 11 10 4 10 1 10-4 10-7 15-19 10-25 21-71 1-25-7-24-10-13-5-4-10-1zM2245 919l-5 2-7 9-11 20-2 5 1 5 5 5 24 13 10 1 22-9 11-15 0-5-8-7-1-13-2-5-6-5-6-3-20 1zM4243 620l124 0-12 15-12 20-23 60-5 6-5-5-42-56-23-36zM4509 620l157 0 13 30 8 25 3 30-2 20-4 10-10 10-17 10-27 12-10 11-5 2-11-5-12-20-23-20-13-15-13-25-33-73zM2522 900l3-2 7 2 3 5 0 5-5 5-5 0-6-5 1-8zM2818 940l12-1 15 3 15 8 13 10 8 10 5 10-1 14-6 6-14 3-17-3-11-5-15-10-12-14-4-11 0-10 3-5 6-4z"/>
<path fill="#00ff4b" d="M2931 620l849 0-8 50-5 60 11 80 7 105 5 33 12 37 8 13 30 23 10 4 15 3 10 1 15-4 20-11 15-15 16-29 8-30 8-45-2-90 1-55 3-20 8-30 12-25 16-17 15-8 15-2 10 2 10 6 8 9 7 12 4 13 6 55 14 30 14 15 7 13 15 19 10 5 10 9 8 4 3 10 4 6 15 6 16 23 9 16 15 17 5 3 85-7 35-7 115-48 30-23 9-16 16-6 4 6 1 20 11 55 24 85 12 80-1 10-3 10-28 44-16 41-11 55-3 30 0 26 5 29 10 20 15 12 15 5 10 0 15-5 20-13 18-24 14-30 9-30 17-75 2-20-2-35 2-15 6-15 21-40 11-25 49-150 3-45-1-20 1-20-2-20 1-5 15-10 7-10 9-8 15-5 10 0 10 2 11 6 14 15 14 10 2 10-3 20 2 10 6 15 8 15 16 14 10 3 30 2 30 4 85 21 162 31 23 9 15 9 14 12 12 15 48 95 24 70 12 26 25 36 40 40 0 748-3570 0 0-1274 39 84 42 75 55 80 29 38 10 9 10 1 37-13 28-7 15-1 25 4 25 12 10 10 10 0 12-8 4-5 2-25 7-25 10-26 15-25 13-14 12-8 15-6 15-1 15 3 15 7 15 11 10 11 10 15 17 33 8 25 25 24 20 36 5 20-1 25-2 5-7 6-10 14-15 14-5 3-35 6-30-2-40-5-75 0-65-7-35 1-40-3-11 3-4 10-1 100-10 110 1 20 8 45-5 30 1 20 6 43 11 57 40 145 14 40 15 32 20 31 25 30 25 22 30 18 25 9 30 2 60-6 70-11 60-6 55-10 70-19 30-14 35-18 60-39 40-31 20-18 59-72 16-16 37-44 30-40 23-35 12-25 6-20 13-80 4-75-1-65-8-55-8-30-15-35-26-40-3-10 11-25 5-6 5-2 20 2 10-3 41-31 15-20 4-10 2-15-1-60-12-45 12-35 0-10-2-15-9-20-12-20-64-90zM3085 790l-8 5-4 10 0 35 7 33 15 26 20 17 25 10 20 2 30-5 41-18 12-15 7-4 10 1 10 9 35-23 16-13 16-25 6-15-1-10-7-5-10 0-10 5-10 12-5 1-30-20-10-2-10 0-25 9-20 17-5 2-5-1-20-13-40-20-25-6-20 0zM3595 755l-15 4-15 11-16 15-12 15-3 15 2 10 3 5 11 6 15 1 10-3 22-14 17-20 5-10 4-20-3-9-10-6-10-1zM2240 919l-6 6-9 17-6 8-2 5 2 5 5 5 31 15 10-2 15-6 14-17 1-5-8-5-2-4-2-16-5-5-8-4-25 1zM4251 620l107 0-18 32-17 53-3 7-5 5-5-3-10-14-30-45-17-30zM4519 620l142 0 14 28 7 22 5 25 0 20-4 15-12 15-41 22-10 10-5 2-10-5-10-18-27-26-11-15-14-30-23-63zM2524 900l6 0 4 5-1 5-3 3-5 1-4-4-1-5zM2813 945l12-4 10 1 11 3 19 11 5 4 11 15 3 10-2 10-12 6-11-1-14-3-19-12-17-20-1-10 2-8z"/>
<path fill="#00ff2d" d="M2936 620l841 0-7 50-4 60 11 80 7 110 6 37 9 33 6 11 35 24 25 7 10 0 15-3 10-4 15-10 15-17 14-28 12-50 0-15 3-10 1-15-4-25 0-105 2-15 8-30 12-25 17-19 15-7 10-2 10 1 10 4 10 9 6 9 6 15 9 60 12 25 15 15 7 14 15 18 10 6 15 12 10 17 15 7 14 21 11 20 15 18 5 2 85-5 35-7 80-32 40-14 25-22 13-25 12 0 4 80 17 80 2 25-1 25-6 35-26 75-12 45-11 65-5 55 5 30 6 15 7 10 16 15 10 5 14 4 15 0 15-2 15-6 16-11 14-14 10-14 20-42 13-50 16-85 10-70 35-90 12-60 14-56 7-19 1-30-2-30 1-20-2-25 1-5 14-9 7-11 8-7 10-4 10-2 15 3 10 6 15 16 12 8 2 10-4 20 8 30 6 15 6 8 15 11 10 2 30 0 25 2 80 21 105 18 55 12 20 7 16 9 12 10 12 15 10 20 16 40 21 40 7 25 11 50 12 30 13 20 21 25 24 25 30 27 0 713-3570 0 0-1264 38 79 40 70 48 70 39 53 10 8 10 1 35-15 30-8 15-1 25 4 25 12 10 10 10 0 13-9 4-5 6-30 7-25 10-24 10-16 13-15 12-9 15-6 15-2 15 3 15 7 15 11 10 11 10 15 15 30 3 30 5 5 12 5 10 8 12 17 11 20 5 20-1 25-17 22-15 15-10 4-30 5-35-2-35-6-85 0-50-8-40 2-45-6-10 4-6 10 0 100-8 100 1 30 9 50-5 30 1 25 7 55 10 50 39 150 15 40 18 35 24 36 25 28 30 24 30 17 30 10 25 1 110-26 75-6 100-21 40-15 70-40 55-38 30-24 15-15 56-76 58-65 26-36 25-39 11-25 6-20 11-70 5-65 0-80-5-40-9-45-16-40-22-40-3-10 1-5 6-21 5-3 20 2 15-6 35-27 10-10 9-15 6-20-2-65-11-45 3-11 9-19 3-10-4-20-14-30-70-100zM3090 785l-10 3-5 3-3 4-3 10 1 40 4 20 5 15 12 20 19 17 25 11 25 2 30-5 40-16 6-4 6-10 8-7 5 0 5 2 5 7 5 2 5-1 15-12 15-8 20-18 17-30 3-10-1-10-9-6-10 0-10 5-10 11-5 1-30-18-10-3-10 0-25 9-20 17-5 2-5-1-20-14-35-18-25-8-20-2zM3585 755l-20 12-14 13-13 15-6 15 1 15 7 9 20 5 15-2 20-12 10-10 14-20 7-20-1-15-5-6-10-3-20 2zM2250 914l-10 3-5 4-10 19-9 10-2 5 7 10 34 16 5 0 20-8 16-18 0-5-7-5-3-5-1-12-5-9-10-4-15-1zM4259 620l91 0-16 35-13 50-6 9-5-3-8-11-26-45-16-33zM4529 620l127 0 16 30 10 30 3 30-3 15-5 10-16 15-31 16-10 9-5 3-5-2-6-6-9-15-28-30-9-15-15-35-13-51zM2522 905l3-4 5 1 2 3-2 6-5 1-2-2zM2818 945l12-1 15 4 21 12 15 20 0 10-4 5-7 3-20-3-20-10-10-10-9-15 1-10 3-3z"/>
<path fill="#05ff19" d="M2941 620l833 0-5 45-4 65 11 80 9 126 10 54 7 15 28 19 20 9 20 3 20-3 20-9 15-14 15-24 12-36 5-30 0-15 3-10 1-15-5-25 0-105 8-35 13-30 8-11 10-9 10-6 10-3 10 0 10 2 15 12 8 15 5 20 6 40 14 30 14 15 8 14 12 16 28 22 5 11 5 5 13 7 14 20 11 20 17 22 10 2 20-3 60-2 30-4 85-29 25-5 10 2 15 7 15 20 11 25 8 35 1 30-2 35-8 50-21 75-16 65-12 65-3 35 2 19 5 16 7 15 8 12 21 18 14 7 15 4 20 1 20-2 20-6 15-7 20-16 15-16 10-16 9-19 9-30 10-40 9-65 25-125 16-40 34-60 12-25 8-25 1-15-3-21-15 19-5 2-3-5 3-25 7-15 3-10-12-50 1-25-3-20 3-10 11-7 9-13 6-5 10-5 10-1 15 2 10 6 15 18 9 5 2 10-3 20 4 20 0 25 2 5 10 15 11 8 20 4 30-4 25 1 75 20 85 14 55 12 30 9 15 7 12 9 12 15 15 30 12 35 14 25 6 15 6 30 6 50 4 15 7 15 17 25 29 34 30 30 35 31 0 680-3570 0 0-1255 37 75 41 70 27 40 60 82 10 9 10 0 18-11 17-7 30-8 15-1 25 4 20 9 15 14 10-1 15-10 7-10 9-45 9-21 15-25 13-14 12-7 10-4 15-2 15 2 15 7 15 11 10 11 11 17 12 25 1 10-4 25 5 5 20 5 10 8 10 12 11 20 5 20-2 25-15 20-14 14-10 5-15 3-10 2-25-1-50-7-50 1-35-1-20-2-30-7-40 2-45-8-10 2-5 3-5 13 0 86-7 110 2 35 9 45-5 40 1 34 6 46 9 50 25 105 15 53 15 39 20 39 25 36 25 28 30 25 35 21 35 14 25 4 10-3 20-11 75-28 70-3 93-19 22-6 35-16 75-46 55-41 20-17 18-19 55-80 65-75 20-30 21-35 11-25 6-20 11-70 4-55 0-85-4-45-8-45-13-35-21-45-3-10 0-10 4-10 14 0 10-3 44-32 15-15 9-15 5-20-3-35 0-30-11-45 6-13 11-17 2-10-5-20-15-30-68-100zM3075 785l-7 5-3 10 1 40 4 25 5 15 11 20 9 10 15 11 25 10 15 2 15-1 30-6 38-16 7-5 4-10 6-5 5 0 5 2 5 8 10 0 30-18 24-22 13-25 5-15-1-10-4-5-7-3-10 1-10 6-10 10-5 1-5-1-25-17-10-3-10 0-10 2-15 7-20 17-5 1-10-3-40-25-20-9-30-7-20 1zM3595 750l-15 5-20 14-21 21-9 15-1 15 5 10 5 5 16 5 20 0 15-8 15-13 15-21 7-18 3-15-1-10-4-4-5-2-20 0zM2240 915l-7 5-8 17-14 13 0 5 9 11 30 15 5 1 10-2 20-10 12-15 0-5-7-5-3-5-2-15-5-7-10-5-25 0zM4268 620l73 0-12 35-8 45-1 5-5 6-5-2-7-9-23-50-10-25zM4539 620l111 0 13 20 10 20 6 20 3 20 0 15-2 10-10 15-12 10-28 15-10 9-5 2-5-1-5-5-10-17-25-28-11-20-14-40-6-40zM4494 825l6 0-5 8-1-3zM2523 905l2-2 6 2-1 3-5 1zM2817 950l8-2 15 2 20 10 15 17 2 8-1 5-6 4-5 0-20-4-8-5-12-10-7-10-3-5 0-7z"/>
<path fill="#0fff0f" d="M2947 620l825 0-5 45-2 65 11 80 8 130 9 55 2 7 5 7 30 19 20 8 20 3 25-4 19-10 16-15 11-20 10-25 8-45-1-15 3-10 0-15-4-25 0-105 6-30 12-29 10-14 10-9 10-6 10-3 10 0 10 3 11 8 10 15 6 20 6 40 14 30 15 15 8 15 11 15 4 4 10 5 15 14 5 12 5 5 11 5 14 20 10 20 20 25 10 2 20-2 65-4 30-3 70-17 20-2 10 2 6 4 10 10 11 15 11 25 5 25 2 30-2 40-10 50-38 130-14 55-7 35-1 30 3 20 7 20 8 15 9 12 15 13 15 8 15 6 20 4 25 1 30-2 25-6 23-11 20-15 17-18 14-22 11-25 8-25 7-40 10-90 23-130 15-45 47-95 6-20-3-45-3-5-15-12-7-8-11-25-3-10 2-20-3-15 0-10 3-5 9-5 6-10 9-9 15-6 10 0 10 2 12 8 22 25-3 25 3 20-1 10-23 40 1 5 3 5 11 7 15 4 25 1 20-2 30-6 20 0 70 17 90 15 55 14 25 9 18 11 13 15 15 30 29 75 5 30 1 55 7 20 27 41 35 42 35 35 40 34 0 648-3570 0 0-1246 36 71 35 60 94 133 5 6 5 3 10-1 13-11 17-9 45-11 30 3 20 9 15 15 10-1 16-11 11-15 4-25 4-16 10-22 14-22 10-10 11-8 10-4 15-2 15 2 15 6 15 11 10 10 13 20 8 20 0 10-7 25 0 5 11 5 15 2 10 5 12 13 12 20 5 20-3 25-15 20-11 11-10 5-15 4-15 2-20-1-50-7-50 1-40-1-45-10-35 2-25-2-35-8-5 1-5 4-3 14 1 70-8 125 2 35 11 50-6 40 1 40 6 55 11 55 21 95 16 55 18 45 18 35 24 35 28 31 35 30 35 22 40 17 25 3 24-8 41-21 35-21 60-4 105-22 22-7 33-16 80-51 55-43 35-35 14-20 37-60 28-35 26-27 15-19 36-59 11-25 6-20 10-55 6-55 2-90-4-50-7-50-9-30-21-50-3-15 1-5 4-5 18-11 49-39 9-10 9-15 4-20-4-40 1-25-10-45 7-11 19-14 1-5-9-25-15-30-71-105zM3075 779l-15 6-6 5-1 5 7 20 8 55 15 30 7 10 10 9 20 11 25 5 25-2 25-5 40-17 5-4 5-9 5-6 5-1 5 3 5 8 10 1 30-18 23-20 7-10 12-25 2-10-1-10-8-7-10-2-15 7-10 10-5 1-5-1-25-17-10-3-10 0-20 6-10 6-15 14-5 1-10-3-35-23-25-12-30-8-20-1zM3605 745l-20 5-20 13-29 27-9 15 0 15 4 10 5 5 14 6 25 2 15-7 15-13 17-23 6-15 6-25-2-10-7-5-15-1zM2250 910l-10 2-5 3-5 5-6 15-19 15 0 5 15 12 35 17 10-3 20-10 5-8 9-8 0-5-11-10-2-15-6-9-10-5-15-1zM4279 620l52 0-7 35-4 44-5 9-5-1-5-8-15-39-10-35zM4548 620l96 0 16 22 12 23 7 25 0 25-4 15-13 15-32 20-10 8-5 2-5-2-15-22-22-26-11-20-12-40-2-20 0-20zM2831 960l4-3 5-1 10 4 8 5 7 10-1 5-5 5-11 0-15-10-3-5 0-5z"/>
<path fill="#19ff05" d="M2951 620l818 0-4 45-1 65 11 80 8 130 8 60 4 10 5 5 26 15 19 8 25 4 25-4 20-9 15-14 12-20 11-30 7-45-1-15 3-10 0-15-4-25-1-90 1-20 3-15 13-35 16-20 10-8 10-4 15-1 10 4 12 9 9 15 6 20 5 35 15 30 15 15 8 15 10 15 5 5 10 5 15 15 4 10 4 5 12 6 13 19 12 23 15 20 5 4 10 3 20-2 35-1 95-10 35-2 15 4 10 6 10 10 10 15 9 25 4 25 1 30-3 30-14 55-41 115-11 38-16 67-2 40 3 20 5 18 9 17 8 10 13 11 20 12 20 7 23 5 37 3 40-2 34-6 26-9 20-12 20-17 17-22 18-30 13-30 8-40 5-55 10-165 7-50 18-55 14-30 24-35 11-26 5-5 30 3 95-12 25 2 110 16 50 12 45 18 20 12 20 25 15 30 20 60 4 35-4 50 5 15 40 62 35 45 40 41 45 36 0 616-3570 0 0-1237 30 57 32 55 34 50 52 70 22 37 5 2 14-4 11-14 15-8 30-10 15-3 20 2 15 4 18 9 7 9 5 4 5 0 10-4 13-9 12-13 5-1 10 5 10 7 15 6 15 10 10 0 20-8 21-21 0-5-11-8-2-17-3-5-10-9-15-3-20 1-10 6-10 20-15 6-5-6 1-10 4-13 14-27 11-15 10-10 10-6 14-4 11 0 20 5 15 8 15 15 10 15 8 17 1 10-3 15-8 15 0 5 2 3 5 3 25 5 10 5 10 9 12 20 5 20 0 15-3 10-14 18-13 12-7 4-15 4-35 1-50-7-50 1-40-1-45-10-35 2-25-3-40-12-5 2-3 4-3 10 1 80-8 120 3 38 10 40 1 12-7 45 1 45 6 50 10 55 19 91 16 59 17 45 22 42 25 36 30 34 35 31 40 25 35 14 15 3 15 0 20-4 27-11 23-10 30-18 10-4 40-7 50-15 60-13 24-8 41-20 62-40 53-41 45-43 20-26 39-65 23-30 28-30 25-35 26-45 15-40 10-55 7-60 1-90-4-65-9-50-21-60-3-15 4-10 29-29 34-26 12-15 5-10 3-20-5-40 0-35-6-30 2-6 5-5 10-1 10 5 5 6 8 31 3 25 14 26 10 15 10 8 10 6 25 7 25 0 35-7 40-17 5-3 9-15 6-2 5 3 5 7 5 2 10-2 30-18 22-20 10-15 6-15 4-20-5-10-7-4-5-1-10 2-10 6-10 9-5 1-5-1-25-17-10-3-10 0-20 6-10 6-15 14-5 1-10-3-40-26-25-12-30-8-30-1-10-2-10-9-32-53-58-85zM3615 740l-25 6-20 10-37 34-10 15 1 15 5 10 6 7 15 6 25 3 10-3 15-11 20-25 9-17 8-25 0-15-7-8-10-2zM2015 1021l0 7 1-3zM4294 620l22 0-1 30 3 45-3 11-5-2-6-14-4-20-5-45zM4559 620l78 0 18 21 15 29 7 30 0 15-3 10-9 15-11 10-24 14-10 8-5 2-5-2-11-17-23-30-13-25-5-20-3-20 0-20 2-15zM4768 730l17-4 15 2 10 7 21 25 1 5-2 20 1 15-1 11-15 25-15 13-10 4-5 0-20-9-9-9-14-25-1-10 1-15-3-15 1-10 10-9 7-11 8-8z"/>
<path fill="#28ff00" d="M2956 620l810 0-2 45-1 65 12 80 7 130 7 65 6 11 30 18 20 8 20 3 25-2 21-8 19-14 13-21 13-35 6-45-2-15 3-10 0-15-5-20-1-55 0-50 4-20 12-35 7-11 10-12 10-7 10-4 15-1 10 4 10 8 10 15 5 16 8 42 13 25 15 15 8 15 11 16 5 5 10 5 14 14 6 14 16 11 23 40 15 20 6 5 15 3 15-2 40 0 50-6 35 0 15 1 17 4 13 6 15 13 11 16 7 20 5 25 0 30-5 30-8 30-12 35-36 85-9 25-32 105-5 25-1 20 2 25 4 15 7 15 12 14 15 11 20 10 29 10 26 6 45 3 60-1 40-6 30-9 26-13 19-15 14-15 44-60 8-15 4-15 5-55 0-40-8-165 0-40 3-25 10-40 14-30 21-26 15-14 25-12 25-7 65-7 65 1 55 6 30 6 26 8 36 15 18 11 20 15 14 14 11 15 13 30 13 50 2 35-5 40 4 15 48 85 30 42 20 23 25 24 55 42 0 584-3570 0 0-1229 32 59 30 50 27 40 63 85 10 20 3 11 5 8 7 6 3 25 7 10 1 105-9 120 4 40 11 45 0 10-7 45 1 55 9 65 18 98 15 63 16 49 19 42 25 42 30 38 30 30 35 28 35 19 30 9 30 1 20-4 20-6 30-12 40-20 40-12 45-18 60-15 20-7 44-20 71-45 50-40 46-45 19-26 46-74 15-20 29-32 20-28 28-50 15-35 9-40 9-75 2-90-2-55-9-65-19-60-1-20 8-15 17-20 27-20 10-10 11-15 5-10 3-20-6-40 1-25-3-35 3-5 7-2 5 2 5 5 10 25 3 25 17 33 8 12 17 12 15 5 15 3 30-2 35-8 36-15 6-5 8-13 5-2 5 2 5 8 5 2 10-2 30-17 25-23 14-20 5-15 1-15-5-10-10-5-15 1-15 12-10 4-5-1-25-17-10-3-15 1-20 8-20 17-5 1-10-3-35-24-25-13-30-10-41-8-9-7-10-12-80-121zM3440 812l-2 3 2 6 4-1 1-5zM3600 739l-20 9-25 18-29 29-4 5-3 10 4 15 7 10 6 5 34 9 15-1 10-7 10-10 19-26 11-25 6-20-1-13-5-7-15-4-15 2zM4567 625l4-5 57 0 12 10 20 25 11 25 3 15 1 15-5 20-7 10-12 10-31 21-5 2-5-3-32-45-11-25-5-20-2-20 1-15 4-15zM4309 690l1-3 5 8 0 5-5-2-1-3zM4770 730l10-3 10 0 15 5 24 28 2 5-3 45-18 26-15 9-5 2-10-1-15-7-5-4-13-20-4-10 0-20-3-15 2-10 8-8 10-15 10-7zM2260 855l15-2 15 3 15 7 15 12 14 20 8 20-2 15-11 20-1 5 3 5 4 2 30 6 10 6 10 10 10 16 5 20-1 20-18 25-12 10-14 6-15 2-20 0-20-2-30-6-90 0-20-2-30-8-30 2-30-3-20-6-14-8-5-5 0-5-7-10-2-10 0-20 2-10 4-10 17-11 35-11 15-2 25 4 20 9 10 11 5 4 10-2 12-7 18-14 5-1 10 2 10 8 15 5 10 7 10 4 10-2 20-11 6-8 12-10 0-5-13-9 0-11-3-10-12-11-10-3-15-2-15 2-6 4-4 5-7 15-3 3-5 0-3-3 0-5 3-11 20-37 15-15 15-7z"/>
<path fill="#3cff00" d="M2961 620l803 0-2 40 1 65 11 85 7 130 6 70 3 6 4 4 31 18 20 7 20 3 25-2 25-9 16-12 14-21 12-34 6-50-2-15 3-10 0-15-5-20-1-30-1-70 3-21 12-34 8-14 10-11 10-7 15-5 10 0 10 4 10 8 9 15 5 15 9 40 13 25 15 15 8 15 11 17 5 5 10 5 12 13 8 15 15 11 20 36 20 27 10 6 10 2 55-1 50-5 39 4 13 5 16 10 14 15 9 15 8 25 3 25-2 25-6 30-19 49-37 81-28 75-37 80-7 25-2 20 1 15 7 20 13 19 16 16 19 13 24 12 26 8 30 7 55 5 75-1 41-4 38-10 33-15 29-20 39-40 28-35 10-20 5-20 3-25 0-25-3-35-13-60-6-40-8-105 0-45 7-40 12-25 10-13 20-18 20-12 20-8 20-6 30-4 60-2 75 5 45 10 25 10 20 10 35 25 13 13 12 15 15 30 10 40 3 30-1 45 1 15 47 109 25 39 33 37 40 35 47 33 0 552-3071 0 46-15 50-24 80-33 70-21 40-17 61-35 37-25 47-40 44-45 18-25 51-80 37-45 21-30 28-50 13-35 9-40 9-70 2-85-2-60-8-70-16-60-1-15 4-15 10-15 9-10 32-25 13-15 7-15 3-20-8-45 2-35 3-12 5 0 5 4 5 8 3 30 27 49 10 8 10 5 30 6 30-3 35-8 40-17 5-5 5-11 5-2 5 2 5 7 5 2 15-3 27-15 32-30 10-15 5-15 0-15-6-10-8-5-10-2-10 2-15 13-10 3-5-1-25-17-10-3-12 0-18 6-10 6-15 14-5 1-10-3-35-24-25-14-20-7-40-11-10-4-10-9-10-12-76-113zM3440 803l-9 7-4 10 1 10 7 5 10 0 5-2 6-8-2-10-9-11zM3605 735l-25 10-20 14-38 36-3 5-3 10 3 15 8 10 8 7 40 11 10 0 15-12 25-34 10-21 8-26 1-10-4-10-7-5-8-2-15 0zM4580 625l8-5 27 0 20 12 20 22 13 26 4 25-2 20-10 15-11 10-29 20-5 2-5-3-32-49-9-25-4-20 0-15 3-15 7-15zM4773 730l17-2 15 5 22 27 2 5-1 35-3 10-15 22-15 9-15 1-15-7-16-20-4-10 0-20-4-15 2-10 10-10 7-11 10-8zM1830 740l34 60 28 45 28 40 50 65 13 20 4 10 8 25 6 10 4 16 7 19 4 95-9 130 4 35 12 45-9 60 2 60 8 65 16 91 13 59 16 50 16 39 20 38 25 37 25 30 30 29 30 22 30 16 26 9-441 0 0-1215zM2260 860l15-3 15 2 15 7 15 12 13 17 7 20-2 15-14 20-1 5 4 5 8 5 25 4 10 4 10 7 13 20 6 20-2 20-17 23-20 14-20 5-20-1-50-7-90 0-20-3-30-7-30 1-20-2-20-4-15-6-9-8-9-15-2-10 1-30 5-10 6-5 13-7 35-11 20 0 20 5 16 8 9 11 5 4 10-2 30-20 5-1 10 2 10 7 15 5 15 10 5 1 10-2 20-11 8-9 14-10-1-5-14-10-2-15-5-10-5-5-10-6-35-6-5-3 3-10 6-10 16-13z"/>
<path fill="#50ff00" d="M2966 620l795 0-1 40 2 65 11 85 8 150 4 52 5 9 30 19 20 7 25 5 25-2 25-9 20-16 13-20 12-35 3-30 1-25-2-10 3-10-1-15-4-20-2-55 0-45 2-20 13-35 7-11 10-12 10-7 10-4 15 0 10 4 10 8 7 12 6 15 9 40 13 25 16 15 7 15 12 18 5 5 12 7 9 10 7 15 17 14 20 36 20 26 10 6 15 4 50 0 50-2 25 6 15 7 15 13 12 15 8 15 6 20 2 25-1 25-6 25-13 30-43 85-30 71-43 79-10 30-3 30 2 20 8 25 12 20 18 20 21 16 25 14 25 10 30 7 60 6 85 1 50-3 40-9 43-17 42-25 46-40 29-34 12-21 7-25 2-25-1-30-8-45-21-55-8-30-12-105-3-55 4-35 8-22 12-18 22-20 21-13 19-7 16-4 30-5 55-2 75 6 40 10 25 10 18 10 32 25 20 25 13 25 8 30 6 35 6 65 13 40 14 60 14 35 26 40 37 40 44 35 54 35 0 520-3028 0 138-65 65-21 45-20 60-34 40-27 45-39 42-44 19-25 55-85 36-45 20-30 27-50 13-35 9-40 8-65 2-90-1-60-9-75-13-55 0-15 4-15 9-15 41-35 12-15 8-15 2-10 0-10-7-25-2-15 5-37 6 2-1 15 2 10 17 25 6 20 7 10 8 6 15 6 30 4 20-2 25-5 50-17 13-7 9-15 3-2 5 2 5 8 5 2 15-3 30-16 10-11 25-20 13-15 2-15-2-15-6-10-12-7-15 0-10 5-10 9-10 3-5-1-25-17-10-3-15 0-20 9-20 17-5 2-10-4-35-25-20-11-25-11-45-16-13-10-12-14-71-106zM3440 799l-5 2-10 9-9 20-1 10 4 5 6 2 20-3 11-4 7-5 2-5-3-10-9-15-8-6zM3615 729l-20 6-25 14-46 41-9 10-2 5 0 15 16 20 9 5 42 14 5-1 10-7 20-25 16-26 12-30 4-20-3-10-9-7-15-4zM4589 630l11-4 10 1 15 5 10 7 10 9 10 13 8 14 5 15 2 25-3 10-5 10-14 15-28 19-5 1-6-5-26-40-10-25-3-20 1-20 4-15 10-12zM4775 730l15-2 15 6 6 6 17 25-2 35-3 10-18 23-15 7-15-2-10-6-15-18-5-14 1-15-4-15 3-10 20-25 10-5zM1830 750l0-4 33 59 33 50 81 110 10 20 3 15 9 20 10 30 4 40 1 55-9 126 5 41 12 43-10 60 1 65 7 65 15 90 12 55 13 46 15 39 15 32 20 34 20 29 25 29 25 24 28 22 26 15-404 0 0-1205zM2261 865l19-3 15 2 20 12 13 14 8 15 2 15-5 15-13 13-5 2-5-1-15-9-6-20-9-13-10-6-19-6-7-5-1-5 1-5 9-10 7-4zM2078 960l17-3 25 4 20 9 10 13 5 3 10-2 25-17 10-4 10 2 10 6 15 6 15 11 10 0 25-12 10-11 20-9 20 11 30 6 15 10 12 17 4 15 1 15-5 15-11 15-16 13-10 4-15 3-20 0-55-8-85 0-20-3-30-7-35 1-25-3-15-4-16-11-12-20 1-35 5-10 6-5 16-8 20-6z"/>
<path fill="#66ff00" d="M2971 620l788 0-1 35 3 70 12 85 10 205 2 5 5 5 20 15 25 10 30 5 30-3 25-10 20-17 12-20 10-30 3-35 0-25-2-10 2-10 0-15-5-20-1-30-1-70 2-17 15-38 15-20 10-7 15-5 10 1 10 4 10 9 8 13 13 50 14 25 8 10 7 5 8 15 12 19 5 5 11 6 9 11 6 14 18 15 19 35 19 25 8 7 15 6 75 6 35 10 18 11 11 10 13 15 8 15 6 20 3 20-1 20-5 20-28 55-59 100-26 55-15 36-9 29-6 30-1 20 3 25 9 30 14 25 20 24 20 16 26 15 29 11 35 9 65 6 90 1 50-4 45-10 50-18 50-26 27-19 24-20 15-15 14-18 12-22 9-25 4-25-1-30-6-35-7-25-11-25-23-40-8-25-12-70-5-75 4-40 10-30 13-20 16-15 16-10 14-6 15-5 30-5 50-3 45 3 30 4 40 10 35 17 26 20 13 15 11 15 11 25 8 30 16 90 11 40-1 55 2 20 5 20 12 25 15 25 15 20 39 40 52 38 65 38 0 489-2998 0 113-58 65-25 45-20 60-33 40-28 42-36 43-45 20-26 59-89 31-41 20-29 27-50 14-35 9-40 8-65 3-90-1-60-9-85-10-50 1-20 6-15 6-10 31-26 18-19 10-15 12-24 1 4 14 10 25 7 30 2 35-6 25-6 40-15 10-7 10-15 10 10 5 2 10-1 10-4 24-12 16-17 45-24 5-1 5 3 15 14 10 0 29-15 27-10 9-5 1-5-1-5-14-20-11-11-10-3-10 4-6 5-24 28-10 6-5 1-5-3-20-32-10-7-10-3-15 4-15 13-10 2-5-1-25-17-10-3-15 0-20 9-20 17-5 2-5-1-55-37-25-12-41-16-15-10-24-28-61-92zM3600 730l-30 16-50 44-8 10-5 15 3 10 20 19 30 10 20 11 5-1 10-8 10-12 25-38 11-26 7-25 1-10-2-5-11-10-16-4-15 2zM4599 635l11-1 10 2 20 13 10 11 9 15 8 25-1 20-6 15-14 15-26 18-5 1-5-4-19-30-10-20-6-20-1-20 3-15 7-15 11-9zM4779 730l16 0 10 5 19 25 3 10-3 30-3 10-16 20-15 7-10 0-15-8-15-18-4-11 0-15-3-15 3-10 15-20 14-9zM1830 755l63 100 82 110 8 15 7 25 17 45 5 40 0 55-8 105-1 25 7 45 10 35-11 60-1 30 2 40 6 60 13 85 11 58 13 47 12 36 15 34 16 30 19 30 20 27 25 28 25 22 25 18-380 0 0-1200zM2264 870l16-4 15 2 15 7 15 14 9 16 3 10-4 15-8 10-5 4-10 1-11-5-4-3-4-17-6-10-10-9-18-11-3-5 1-5 5-7zM3048 895l2-4 5 0 5 4 5 5 1 10-1 14-5 1-10-18-2-7zM2080 960l15-2 25 3 19 9 11 14 5 3 10-2 25-16 10-4 10 1 25 12 10 9 10 3 10-3 20-10 10-10 15-5 5-1 20 7 30 7 15 10 10 15 5 15 0 15-5 15-11 15-14 11-15 6-15 2-25-1-45-8-85 1-20-3-30-8-35 2-25-4-15-4-13-9-13-20-1-5 2-10 0-20 5-10 7-5 13-6 25-9z"/>
<path fill="#7dff00" d="M2975 620l781 0 0 35 5 70 10 75 3 40 7 175 4 9 15 17 35 12 30 5 30-2 15-5 15-8 10-8 10-11 15-29 5-20 1-35 0-25-2-10 2-10-1-15-4-20-2-30-1-70 2-15 13-35 7-12 10-11 10-7 10-4 15 0 10 4 10 10 6 10 6 15 9 35 13 25 9 10 7 5 7 15 13 20 5 5 10 5 10 13 5 12 16 15 20 35 19 26 10 8 15 8 65 10 28 13 14 10 15 15 10 15 8 15 5 20 3 20-3 20-8 20-35 60-22 30-40 45-9 15-5 10-6 45-13 65-2 25 0 25 5 30 10 30 15 29 20 25 21 16 29 16 35 13 40 9 65 6 80-1 60-5 59-13 60-20 52-25 24-15 25-19 17-16 12-15 12-25 18-60 4-20-1-20-6-20-14-30-47-75-10-21-12-49-6-55 0-45 6-35 13-35 10-15 9-10 25-15 15-5 30-7 45-3 60 4 40 10 33 16 26 20 20 25 10 20 6 20 30 135-1 20-18 50-6 25 0 15 7 15 53 70 19 20 23 20 27 20 32 20 89 46 0 459-2974 0 94-51 105-46 34-18 34-20 52-39 45-42 30-34 125-179 27-51 14-35 8-35 8-55 3-45 1-100-8-105-8-60 4-20 10-15 29-25 27-28 10-6 60 1 50-9 20-6 40-15 8-7 7-10 10 7 5 2 10-1 10-3 25-12 18-18 27-10 15 2 25 14 15 0 10-5 22-21 10-5 20-5 11-10 1-10-34-30-8-5-7-1-15 6-25 23-10 2-10-3-22-22-8-4-10-2-15 4-15 13-10 3-30-19-10-3-15 0-20 9-20 17-5 2-5-1-55-38-65-30-15-10-25-30-57-86zM3610 724l-25 10-25 18-48 43-11 25-1 5 3 5 27 17 30 9 10 9 5 8 5 2 15-14 30-43 12-23 13-39 1-11-6-12-15-9-15-1zM3565 899l-5 3-5 7 0 8 5-3 5-8 1-6zM4596 645l9-3 10 0 10 3 10 6 18 19 10 25 2 20-2 10-5 10-14 15-24 17-5 1-5-5-22-38-9-25-1-15 2-17 5-13 10-10zM4768 735l7-3 10-2 15 3 10 9 15 23 0 10-3 30-12 18-10 8-15 4-10-2-15-11-11-17-4-40 2-5 18-23zM1830 765l0-5 33 55 30 45 80 105 10 20 4 15 16 45 7 40 1 60-9 130 6 45 10 35-11 60-1 65 9 94 17 106 11 45 12 40 15 37 20 39 20 33 25 33 26 28 29 25-360 0 0-1190zM2270 875l10-4 15 0 15 7 10 8 10 13 4 11-1 15-6 10-12 7-5 0-10-4-3-3-7-20-10-14-12-11-3-5 1-5zM2083 960l17-1 25 5 14 6 11 15 5 3 10-2 25-16 10-3 10 0 25 13 10 8 10 4 10-3 20-11 10-9 10-4 15 1 45 10 13 9 10 15 6 15 0 15-6 15-12 15-12 10-14 5-15 2-25 0-45-8-90 0-45-10-35 1-25-3-15-5-11-7-14-20-1-5 2-10 0-20 4-8 9-7 36-14z"/>
<path fill="#94ff00" d="M2980 620l773 0 1 35 6 70 12 90 8 205 9 15 3 10 3 2 45 11 25 4 20-1 15-3 25-11 20-18 15-25 5-13 2-11 0-35 1-5-4-35 2-10 0-15-5-20-1-30-2-70 2-13 5-16 10-22 15-20 10-7 15-4 10 1 10 4 10 9 7 13 13 45 14 25 8 10 8 5 7 15 13 21 5 5 10 6 10 13 3 10 20 20 17 31 17 24 13 11 15 9 51 10 24 11 12 9 15 15 11 15 9 20 7 25 1 20-5 20-8 20-29 50-19 25-44 50-11 15-7 15-14 90-3 35 2 35 6 35 10 35 15 30 17 23 20 18 20 13 30 13 35 12 35 8 35 5 40 1 55-2 60-6 50-8 50-11 45-13 36-13 43-20 35-20 22-15 17-15 18-20 24-35 15-11 25-6 70-9 55-16 20-4 20 1 20 7 117 63 123 56 0 429-2952 0 77-46 144-69 33-20 48-36 45-43 35-41 118-170 27-50 14-35 10-35 7-45 4-55 1-105-5-105-6-60 5-20 11-15 44-40 10-7 15-4 55-5 35-8 60-20 11-6 9-8 15 4 15-2 30-12 18-17 12-5 10-1 10 1 25 15 10 4 15 2 10-2 12-9 18-26 5-2 20-3 25-16 10 1 15 6 22 5 9 5 4 5 2 5 0 10-17 25-5 15 0 9 5 2 5-3 11-13 15-30 44-64 15-29 12-37 0-15-7-10-7-5-13-4-10-1-25 8-25 17-55 49-10 16-5 5-5 3-5 0-10-4-20-17-10-5-15 2-25 19-15 5-10-4-20-15-15-6-15 2-10 6-10 9-10 3-30-19-15-4-20 4-15 9-15 14-5 2-5-1-50-36-65-33-20-14-28-35-52-79zM4602 650l8-2 10 1 10 4 10 8 15 19 7 20 0 20-6 15-14 15-22 16-5 0-5-4-18-32-9-25-1-20 3-15 5-10 10-9zM4769 735l16-4 15 3 10 9 14 22 0 10-4 30-10 15-10 9-15 4-10-2-15-11-10-15-4-30 0-10 19-27zM1830 770l0-3 33 53 31 45 77 100 10 20 22 65 6 40 0 55-9 130 7 45 10 35-13 65-1 65 7 85 15 105 10 45 13 45 15 40 17 35 20 35 25 35 25 29 23 21-343 0 0-1185zM2290 875l10 1 15 8 10 10 6 11 2 10-2 10-6 9-10 5-10-1-6-3-9-23-14-22-1-5 2-5 8-4zM4940 940l40 0 40 7 35 14 20 13 12 11 20 25 14 30 14 60 7 50 1 25-8 25-19 30-31 38-20 19-25 16-35 15-25 6-25-2-25-10-30-24-30-31-25-31-16-26-10-30-7-35-2-40 4-40 11-35 15-31 15-18 15-11 35-14 30-5zM2087 960l28 1 20 8 8 6 7 11 5 3 10-2 25-16 10-3 10 0 23 12 12 10 10 3 10-3 20-11 10-8 10-3 15 0 45 10 10 7 12 15 5 15 1 15-6 15-12 14-15 11-15 5-35 0-45-8-90 1-45-10-35 1-25-4-15-5-10-7-13-18-2-5 2-30 7-10 8-5 38-15z"/>
<path fill="#adff00" d="M2984 620l767 0 1 35 7 70 12 90 7 205 8 15 1 10 2 5 51 12 25 3 20 0 15-3 25-10 15-12 9-10 16-30 5-20 0-25-2-10 2-5-4-15-1-20 2-10-1-15-5-25-2-95 1-11 13-34 7-12 10-12 10-7 15-4 10 1 10 5 10 9 6 10 13 45 14 25 17 16 6 14 14 23 15 11 8 11 4 10 18 20 20 34 15 21 10 10 15 10 50 14 14 6 11 7 14 13 13 15 9 15 6 15 5 25-1 20-5 20-13 30-17 30-18 25-58 65-15 25-8 25-4 25-3 55 2 50 6 40 10 40 15 35 17 26 25 25 30 21 30 14 30 8 30 5 35 4 50 1 90-7 95-15 60-12 45-13 40-14 150-61 130-39 45-9 40 1 50 11 65 22 110 42 0 400-2934 0 59-37 68-38 47-20 48-25 42-29 32-26 38-37 36-43 95-135 23-35 24-45 15-35 10-35 8-45 5-55 2-100-7-170 4-20 6-10 9-10 33-30 17-10 65-14 50-14 40-13 20-12 20 1 10-2 33-11 22-17 10-1 10 3 25 15 15 6 15 2 15-3 18-10 17-22 20-7 20-17 10-4 35 6 7 4 4 5 1 10-17 32-6 18 0 10 1 4 5 1 10-7 15-18 16-30 42-65 12-24 13-41 1-15-4-8-10-9-10-4-15-2-20 6-25 15-59 52-16 19-5 3-10 0-25-18-15-5-15 5-20 15-10 3-15-3-25-15-15-2-15 4-15 14-10 2-30-19-15-4-20 4-15 9-15 13-5 3-5-1-55-40-55-29-20-13-14-15-16-21-50-77zM4610 655l10 0 10 4 15 13 11 18 4 20-2 15-8 15-15 15-15 10-5 0-11-15-12-25-5-15-2-15 2-15 3-10 10-11 10-4zM4771 735l14-3 15 3 10 9 13 21 0 10-4 30-9 13-15 11-10 2-15-5-15-15-5-11-4-25 1-10 13-20 10-10zM1830 775l57 85 83 107 9 18 22 65 7 40 0 50-10 135 7 45 10 35-13 65-2 30 0 40 6 80 13 100 10 50 11 40 14 40 15 35 21 40 20 30 23 30 25 25-328 0 0-1180zM2290 880l10 0 15 7 10 10 5 8 2 10-3 10-4 6-10 6-10-1-6-6-17-40 1-5 7-5zM4931 955l29-5 25 2 25 5 27 13 23 18 16 17 16 25 11 30 7 40 0 20-8 45-10 25-17 25-20 22-25 17-30 12-25 4-30-2-30-9-25-14-20-17-20-25-12-23-10-30-5-35 1-25 6-30 12-30 20-30 21-20 27-17 20-8zM2073 965l17-5 30 3 17 7 13 17 5 3 10-2 30-17 15-2 21 11 14 12 10 3 10-3 10-7 25-14 20-1 40 8 13 7 9 10 8 15 2 15-4 15-7 10-11 12-15 9-15 3-20 0-55-8-85 1-15-2-35-9-35 1-35-7-11-5-16-20-1-10 1-10 0-10 2-8 6-7 14-8 15-6z"/>
<path fill="#c6ff00" d="M2988 620l760 0 4 45 18 145 5 85 1 120 8 20 0 15 6 3 45 12 30 4 20 0 15-2 25-10 15-12 9-10 16-27 4-13 2-15 0-25-2-10 2-5-4-15-1-45-4-25-3-95 1-9 5-17 9-19 16-22 10-7 15-4 10 1 10 5 10 10 5 8 14 44 13 25 18 17 6 13 14 24 15 12 10 19 22 25 17 30 15 20 16 16 10 7 45 15 25 14 25 28 8 15 6 15 4 25-3 25-13 35-12 25-21 30-20 25-64 67-24 23-4 15 13 150 8 40 13 40 17 35 20 30 57 62 10 8 10 5 15 1 40-7 165 1 40-3 40-6 95-20 60-15 135-47 45-13 155-35 40-7 45 0 55 8 65 17 85 29 0 372-2918 0 45-30 68-41 50-22 52-27 38-26 34-29 36-35 38-45 40-55 74-110 22-40 18-40 10-30 7-35 7-45 2-40 3-100-1-160 6-20 16-20 23-21 24-14 106-32 35-12 20-10 25-1 35-10 25-12 10 0 30 16 20 6 20 2 12-2 13-6 14-9 31-25 15-17 15-7 30 3 8 6 0 10-18 35-7 25 3 10 4 2 5-1 15-14 13-17 67-115 15-45 1-15-6-11-10-8-10-5-15-2-20 6-25 15-80 73-10 0-29-18-11-3-12 3-23 15-10 3-10-1-30-15-10-2-10 1-10 4-15 14-10 2-30-19-10-3-10 0-20 6-25 19-5 3-5-1-50-37-59-34-21-15-30-37-45-70zM4603 665l12-4 15 4 15 12 10 18 3 15-2 15-8 15-15 15-13 8-5 0-9-13-12-25-5-20 0-15 5-15 6-8zM4773 735l12-3 15 4 10 9 12 20 1 10-6 30-7 11-15 11-10 2-15-5-15-14-4-10-4-25 1-10 12-20 10-9zM1830 780l54 80 71 89 15 21 8 15 22 65 6 40 1 50-10 135 6 45 10 35-14 70-2 70 5 80 11 95 9 45 9 40 14 42 15 37 20 40 19 31 21 29 23 26-313 0 0-1175zM2293 885l7-1 10 2 10 8 5 6 4 10 0 10-4 8-5 4-10 3-9-5-12-30-1-10 2-3zM2075 965l20-4 25 3 16 6 5 5 9 13 5 3 10-2 30-17 15-1 20 10 15 13 10 3 10-3 12-9 23-12 20-1 40 8 10 4 11 11 7 15 2 15-4 15-7 10-9 10-15 9-15 3-20 1-55-8-90 0-45-10-35 1-35-7-10-6-15-18-2-10 2-10-1-10 4-10 5-5 12-7 20-8zM4957 965l23 0 21 5 24 12 20 17 18 21 12 20 8 25 3 25-2 25-8 25-11 24-15 20-15 14-20 13-20 9-25 5-25 1-25-3-20-7-20-14-15-16-12-21-9-25-4-25 1-25 5-25 10-25 14-22 20-21 20-15 20-10 25-7z"/>
<path fill="#deff00" d="M2993 620l752 0 3 35 22 155 4 85 1 120 7 20 0 15 8 6 40 12 35 6 35-2 25-10 15-11 10-11 15-25 5-15 3-20-2-10 2-15-3-10 3-5-5-15-2-20 2-15-6-35-2-102 5-17 7-16 8-13 10-12 10-7 15-4 10 1 10 5 10 10 5 9 13 41 11 20 7 10 14 13 5 12 15 25 15 13 8 17 22 25 17 30 15 20 23 23 50 20 20 13 25 29 8 15 5 15 1 25-5 30-11 30-19 35-32 40-47 46-20 15-37 19-6 10-2 10 8 110 5 45 11 45 16 45 21 45 20 30 27 25 47 35 30 8 40-3 170 11 35 0 30-3 72-13 93-21 55-16 95-32 35-10 90-15 85-19 40-5 50 0 50 7 60 14 70 22 0 345-2904 0 99-67 55-23 57-30 35-25 33-28 46-47 44-55 63-90 35-55 24-45 14-30 11-30 7-30 7-40 4-35 6-205 5-65 3-15 6-15 20-25 17-15 26-15 122-41 25-11 20-1 60-12 10 1 30 12 20 5 20 2 15-3 15-7 16-10 28-25 13-15 8-6 10-4 15 0 10 2 4 3 1 5-16 35-10 30 1 11 5 6 5 0 5-2 15-15 15-20 55-93 11-22 8-20 8-30 1-10-2-5-6-8-10-9-10-5-15-1-20 5-25 15-60 54-15 16-5 2-5 1-10-2-20-13-15-5-15 4-20 12-10 3-10-1-30-13-10-1-10 1-10 4-15 15-10 1-30-19-10-3-10-1-20 7-25 19-5 3-5-1-50-38-60-36-20-16-28-35-42-66zM4606 670l14-3 15 6 11 12 9 20 0 15-5 15-12 15-13 10-5 2-5 0-5-6-10-21-7-20-1-15 1-10 4-10 8-9zM4774 735l16-2 10 4 10 10 11 18 1 10-6 30-11 14-10 6-10 3-15-5-13-13-5-10-4-25 1-10 12-20 9-8zM1830 790l0-4 29 44 33 45 63 77 13 18 10 20 20 60 7 40 1 45-11 140 7 45 9 35-15 70-2 35-1 40 5 80 9 85 8 47 10 43 12 40 13 35 16 35 20 35 20 30 24 30-300 0 0-1165zM2295 890l5-2 10 1 10 7 5 7 3 7-1 10-7 10-10 2-5-2-4-5-8-25 0-5 2-5zM2077 965l18-4 25 3 15 6 6 5 9 14 5 3 10-2 25-15 10-3 10 0 20 11 15 12 10 3 10-3 15-10 20-9 25-2 35 7 10 5 10 11 7 13 2 15-4 14-7 11-11 10-12 8-15 3-20 1-15-1-40-8-90 1-45-11-35 1-35-7-10-6-15-19-1-7 2-10-1-10 4-10 6-5 15-9 15-5zM4944 985l16-3 20 1 15 3 20 11 17 13 13 15 12 20 6 20 2 20-2 20-8 20-8 15-12 14-15 12-15 8-20 8-20 3-25 0-20-5-15-6-15-10-13-14-8-15-7-20-2-20 2-20 5-20 9-20 12-15 17-16 15-10 20-8z"/>
<path fill="#f3ff00" d="M2997 620l746 0 26 185 4 90 1 120 1 8 5 12 0 15 10 8 35 14 20 5 20 2 35-2 25-9 15-11 10-10 14-22 6-16 3-14 1-15-1-15 1-10-3-5 0-5 3-5-5-15-2-20 1-15-5-30-3-105 10-29 10-17 10-12 10-7 15-4 10 2 10 5 10 10 5 9 12 38 11 20 7 10 15 13 5 12 15 27 14 13 7 15 24 28 20 34 15 18 20 20 45 20 22 15 24 30 10 25 2 20-4 30-9 30-16 30-17 25-16 20-41 39-25 17-40 17-10 7-8 10-5 15-7 60 1 30 3 35 11 55 11 35 34 75 20 33 20 21 28 21 38 20 14 5 25 5 55 1 150 19 40 1 40-3 100-12 55-10 90-22 105-30 85-17 85-21 60-7 45 1 50 6 55 12 60 18 0 319-2890 0 90-65 55-22 30-14 25-15 35-25 35-29 45-46 47-59 60-85 35-55 30-55 11-25 11-30 8-30 7-40 4-30 12-210 6-50 5-25 6-15 12-20 13-15 18-15 28-15 52-20 70-23 20-2 25-5 30-2 10 1 35 11 23 5 17 2 15-2 15-7 20-14 26-24 14-17 10-6 10-3 19 1 1 5-25 65 0 10 5 10 5 3 5-1 10-7 27-35 53-90 13-25 7-20 9-30 0-10-1-5-8-11-10-9-10-4-15-2-20 5-25 15-80 72-10 1-25-15-15-4-15 3-20 12-10 2-10-1-25-9-15-3-10 1-10 5-15 15-5 2-10-3-25-17-10-3-10-1-20 6-25 20-5 3-5-1-45-36-61-38-19-15-29-35-41-65zM4610 675l10-2 15 6 10 11 7 15 1 15-3 10-9 15-11 10-10 6-5-1-7-10-9-20-3-15-1-15 5-15 5-7zM4777 735l13-1 13 6 15 20 3 10-3 25-3 10-10 12-15 8-5 1-10-2-15-12-7-12-4-25 1-10 2-5 13-19 10-6zM1830 795l0-4 29 44 30 40 77 95 11 20 21 65 6 35 0 50-10 135 6 45 9 35-15 70-3 35-1 40 3 80 9 85 8 50 9 40 11 40 13 35 15 35 18 35 19 30 23 30-288 0 0-1160zM2298 895l7-3 5 1 10 6 6 11-1 10-5 7-5 3-5 0-5-3-6-12-3-15zM2079 965l16-3 20 2 10 3 10 3 5 5 10 16 5 2 10-2 25-15 10-3 10 0 20 12 11 10 14 5 10-3 15-10 20-9 25-2 35 7 10 5 11 12 4 10 2 15-2 10-9 15-11 10-10 6-15 3-25 1-50-8-90 0-45-10-35 1-35-8-10-6-14-19 0-25 4-9 7-6 13-8 15-5zM4936 1005l14-3 20-1 15 2 10 3 16 9 14 12 10 13 7 15 3 15 1 15-7 25-9 14-10 10-15 10-15 7-15 3-20 1-15-2-15-6-15-9-10-9-10-14-7-15-3-15 1-15 3-15 6-14 9-11 11-11 10-7 15-7z"/>
<path fill="#fffa00" d="M3001 620l739 0 28 185 4 90 0 120 2 10 5 10 0 15 11 11 30 16 20 6 25 3 30 0 15-4 15-7 15-10 10-10 8-10 9-15 4-15 3-20 1-15-1-10 2-15-3-5-1-5 3-5-5-15-2-20 1-15-5-30-4-104 10-28 10-17 10-12 10-7 15-4 10 2 10 5 10 10 5 9 14 41 8 15 8 11 15 13 4 11 16 29 13 11 7 15 24 30 21 35 30 34 20 12 30 13 20 16 20 25 10 25 2 15-1 15-8 40-13 30-19 30-26 30-35 31-20 13-42 16-16 10-14 15-16 25-7 15-4 15 1 40 9 60 13 55 15 40 28 55 26 40 12 15 20 18 15 12 15 8 45 13 25 1 20 4 65 5 90 19 45 6 30 1 180-10 140-20 80-7 15-5 50-28 35-13 55-16 55-9 50-1 50 4 60 12 65 18 0 293-2878 0 78-59 80-34 30-16 40-28 30-25 48-48 49-60 40-55 40-60 32-55 18-35 15-35 11-35 8-40 4-30 10-142 8-78 6-40 6-30 8-20 11-20 12-15 24-20 29-15 56-21 45-13 40-7 25-1 20 2 55 16 20 2 15-2 15-7 15-10 35-33 10-13 10-6 10-3 9 1 2 10-5 20-13 30-1 15 3 11 5 6 5 1 5-2 10-8 29-38 53-90 12-25 8-20 8-30 1-10-2-5-9-14-10-8-10-5-15-2-20 5-25 15-80 73-10 0-25-14-15-4-15 3-20 10-10 3-10-1-25-8-15-2-10 1-10 5-12 13-8 4-10-3-15-12-10-5-20-4-20 6-25 20-5 2-5 0-45-36-60-40-20-17-28-35-38-60zM4614 680l11-1 10 5 5 5 7 11 3 15-2 15-5 10-13 14-10 6-5-1-6-9-8-20-3-15 2-20 5-9 5-4zM4781 735l14 1 10 7 12 17 3 10-3 25-7 15-10 9-15 5-15-5-10-9-6-10-4-25 0-10 13-20 7-7 10-3zM1830 800l0-3 56 78 79 96 12 24 20 60 6 35 0 45-11 140 7 45 8 35-16 75-3 35-2 40 3 75 8 85 14 85 11 40 13 40 15 36 17 34 18 30 22 30-277 0 0-1155zM2300 900l5-4 10 2 6 7 3 10-4 9-5 3-5 0-7-7-4-15zM2081 965l14-3 15 2 23 6 7 5 10 17 5 3 10-3 25-14 20-4 18 11 12 11 15 6 10-3 15-11 20-8 25-2 20 2 15 4 10 6 9 10 6 14 1 11-3 10-8 13-10 10-12 7-13 3-25 1-50-9-90 1-45-10-35 0-30-6-11-5-17-20-1-5 1-20 3-7 9-8 11-7 20-8zM4945 1020l25-2 20 5 20 13 13 19 3 10 1 15-6 20-6 11-9 9-21 11-25 4-15-3-10-3-19-14-13-20-3-10-1-15 6-20 15-18 20-11z"/>
<path fill="#ffe900" d="M3005 620l732 0 19 105 12 80 4 90-1 120 2 10 4 10 1 15 12 14 35 24 15 6 30 5 15 0 15-2 30-16 25-22 14-24 5-20 2-60-3-10 3-5-6-15-2-20 1-15-5-30-4-102 10-29 10-17 10-11 10-7 15-4 10 2 10 5 10 11 5 9 11 33 8 15 10 15 16 15 3 10 17 30 11 10 7 15 25 30 20 35 32 36 50 27 14 12 20 25 10 25 2 15-1 20-9 40-17 35-25 35-19 20-25 20-25 15-52 20-38 29-25 16-6 5-3 10-1 15 2 25 13 70 15 65 17 45 26 50 31 45 31 33 25 22 10 6 13 4 22 2 55 1 25 6 55 6 65 18 70 12 35 1 55-5 120 4 55-4 175-17 15-5 50-32 35-15 50-14 50-7 50-2 55 5 55 10 65 18 0 268-2866 0 69-55 82-34 30-15 35-24 39-32 41-41 53-64 45-60 40-60 29-50 20-40 14-35 10-35 13-60 11-145 18-130 6-25 10-25 12-20 12-15 11-10 15-10 41-19 69-21 36-6 35-1 70 18 20 2 15-2 15-6 20-14 40-43 15-8 5 0 5 3 1 12-2 10-14 30-2 15 7 20 5 3 5 0 15-12 30-40 53-91 12-24 8-21 9-35-2-12-10-14-10-9-10-5-15-2-20 5-25 15-70 65-10 8-10 1-25-14-15-3-15 2-20 9-10 3-10-1-25-7-15-2-10 2-10 5-13 14-7 4-10-4-15-12-10-6-20-3-20 6-25 20-5 2-5 0-45-37-58-40-17-15-29-35-38-60zM4618 685l7 0 10 5 8 10 5 15-2 15-5 10-8 10-13 9-5-2-5-7-7-20-2-15 1-10 3-10 5-6 5-3zM4769 740l11-4 15 1 10 7 11 16 3 15-3 20-4 10-7 9-15 8-10 0-15-8-7-9-4-10-4-25 3-10 12-17zM1830 805l0-2 56 77 64 74 15 20 13 26 20 65 4 25 0 50-12 135 3 20 11 60-16 75-3 35-2 40 2 75 6 80 14 90 21 75 14 37 16 33 19 35 21 30-266 0 0-1150zM2306 900l4-1 5 2 6 9-1 10-5 4-5 0-5-5-3-9 3-10zM2083 965l12-2 20 2 20 7 4 3 11 18 5 3 10-2 22-14 23-5 15 10 15 14 15 5 5-1 20-13 20-8 25-3 32 6 10 5 10 10 5 10 2 15-4 13-9 12-11 9-10 5-15 3-20 0-50-8-90 1-45-11-35 1-30-7-10-5-16-18-1-5 1-20 1-5 11-10 9-6 20-8zM4944 1040l16-4 20 2 13 7 8 10 5 15-1 15-7 15-13 11-15 4-15 0-15-5-12-10-7-15-1-15 6-15 4-6 10-7z"/>
<path fill="#ffdc00" d="M3010 620l724 0 21 101 12 79 4 95-1 120 2 10 5 15 0 10 38 46 15 16 20 14 15 5 25-1 15-5 14-20 36-35 15-24 5-16 1-15 1-35-1-10 1-15-3-10 3-5-6-15-2-20 1-15-5-30-5-101 5-17 10-20 10-14 10-9 10-5 10-2 10 2 11 6 9 10 5 9 12 36 6 10 10 15 17 15 3 10 15 30 11 10 7 15 25 30 20 35 34 38 46 27 18 15 18 25 7 20 2 15-2 25-5 25-7 20-10 20-13 20-16 20-18 19-20 16-15 9-60 23-50 27-20 6-30-1-5 2-2 4 3 15 5 60 7 40 21 85 20 55 25 45 36 50 33 35 32 31 10 7 10 2 15 0 75-6 30 8 50 8 75 22 60 11 35 1 50-4 110 10 30 1 95-7 130-21 10-3 50-28 30-12 45-12 50-8 50-1 55 4 60 11 65 18 0 243-2855 0 60-50 20-10 70-27 28-13 32-22 45-36 38-37 54-65 60-80 27-40 25-45 19-40 16-40 12-40 13-60 10-135 22-140 6-25 10-25 11-20 12-15 25-20 30-15 30-10 75-17 20-1 20 2 50 15 20 4 15 1 15-2 15-6 20-14 10-9 32-38 8-5 5-1 5 2 3 4 0 10-16 35-2 15 3 15 5 10 7 4 5-2 15-14 30-40 55-93 10-21 9-24 9-35 0-5-3-10-10-14-10-9-10-5-15-2-20 5-25 15-70 66-10 7-10 1-25-13-15-3-15 2-30 11-35-7-15-1-10 2-10 4-13 16-7 3-9-3-16-13-10-6-20-3-20 6-25 20-5 2-5-1-45-37-59-43-17-15-28-35-36-59zM4611 695l9-5 10 2 9 8 5 10 1 10-1 10-5 10-8 10-11 7-5-2-6-10-4-15-1-15 1-10 5-9zM4770 740l10-4 15 2 10 7 10 15 3 10-2 20-3 10-8 12-15 8-10 0-10-4-11-11-4-10-4-25 3-10 11-16zM1830 810l53 70 67 76 14 19 12 25 21 65 3 25 1 50-12 135 13 80-15 70-7 60 0 80 6 95 13 90 20 75 15 40 16 35 16 30 19 30-255 0 0-1145zM2307 905l3-2 5 2 4 5 0 5-4 6-5-1-5-10zM2085 965l10-1 20 1 20 7 15 23 5 3 10-3 25-15 15-3 5 0 5 3 25 21 15 4 10-3 19-12 16-6 25-3 30 5 10 5 10 9 6 10 2 15-3 10-10 14-15 11-10 4-35 1-45-8-90 1-40-10-15-1-25 1-30-7-10-5-14-16-2-5 1-20 5-9 10-8 30-13z"/>
<path fill="#ffd100" d="M3014 620l717 0 24 104 11 76 4 95-1 120 1 10 5 15 1 10 22 35 27 47 15 14 10 5 10 3 15 0 15-3 15-6 10-7 45-60 13-23 4-20 2-20-2-45 1-15-3-10 3-5-6-15-3-20 1-15-5-30-5-100 5-17 10-20 10-13 10-9 10-5 10-2 10 2 10 5 8 9 7 12 12 33 5 10 10 15 13 10 4 5 3 10 15 30 10 10 8 15 24 30 21 35 35 40 45 28 14 12 18 25 7 20 2 15-2 25-3 20-6 20-20 37-15 20-16 18-25 20-24 13-50 17-55 24-15 4-25 1-10 2-5 4-8 10-5 10-3 15 0 45 4 40 16 75 14 35 37 73 32 47 28 34 24 26 28 25 16 10 12 4 20 0 70-12 10 0 35 9 40 8 70 23 55 12 40 4 65-3 100 13 40 2 75-4 65-11 85-22 60-25 35-11 40-9 40-5 55-1 55 5 60 12 65 18 0 218-2844 0 54-46 19-9 101-39 51-36 32-25 31-30 52-60 89-121 25-44 20-44 15-39 16-52 14-65 10-135 16-80 10-60 6-25 8-20 11-20 12-15 17-15 30-16 25-9 75-16 20-1 20 1 50 16 20 3 20 1 15-3 15-7 20-15 37-44 8-6 5 0 5 4 1 7-16 30-4 15 4 21 5 14 5 5 5 0 10-8 10-11 30-41 56-95 10-20 9-25 10-40-4-10-11-17-10-8-10-6-15-2-20 4-25 15-70 68-10 7-10 1-25-13-15-3-15 1-30 11-35-6-15-1-10 2-10 5-5 4-9 13-6 2-7-2-18-14-10-6-20-3-20 6-25 20-5 2-5-1-45-38-49-36-22-20-29-35-35-58zM4614 700l6-4 10 2 5 4 5 8 2 15-2 10-6 10-9 9-5 2-5-3-2-3-6-25 0-10 3-10zM4771 740l14-3 13 3 10 10 8 15 1 10-5 25-7 10-10 7-10 2-10-2-10-7-7-10-6-30 6-15 12-14zM1830 815l54 70 61 68 17 22 15 30 19 60 3 25 1 45-13 140 13 80-17 75-6 55-1 80 5 95 11 85 9 40 11 40 13 37 15 35 17 33 18 30-245 0 0-1140zM2310 910l5 0 0 5-5 0zM2088 965l27 1 20 7 15 24 5 2 10-2 10-7 15-8 15-3 5 0 5 3 25 21 15 5 10-4 23-14 15-5 22-2 30 5 10 5 10 10 5 12 1 10-6 15-9 10-11 8-10 4-35 2-45-9-90 1-40-10-15-1-25 1-30-6-10-7-12-13-2-5 0-20 4-7 10-9 30-13z"/>
<path fill="#ffc600" d="M3018 620l710 0 26 105 11 75 5 95-2 125 6 20 0 10 7 10 29 67 10 18 10 12 10 8 10 4 10 3 15-1 20-4 15-6 15-11 18-25 22-37 10-22 4-16 2-20-4-60 2-15-3-10 2-5-5-15-3-20 1-15-7-55-3-75 4-15 10-20 10-14 10-8 10-6 10-1 10 1 12 8 13 19 11 31 5 10 11 15 16 15 18 40 13 15 4 10 15 20 9 10 14 20 7 15 35 40 44 30 16 15 17 25 5 20-1 40-9 35-20 37-14 18-18 20-23 17-25 12-110 38-40 7-32 26-6 10-4 15-3 45 1 35 18 75 10 30 53 95 31 45 52 64 20 16 19 10 21 7 20 1 25-4 50-12 15-1 70 17 70 25 55 13 40 5 70 0 100 14 40 3 60-3 60-9 50-13 65-23 60-19 45-10 50-6 55-1 60 6 60 11 70 20 0 194-2833 0 33-30 15-11 30-14 90-31 85-60 31-29 54-60 85-117 29-53 16-35 19-50 17-55 14-60 11-130 19-85 9-65 6-22 10-23 12-20 11-15 11-10 15-10 23-10 89-20 19-1 15 1 45 14 20 5 20 1 20-3 15-7 27-20 30-40 8-7 5 1 3 6-3 8-12 17-5 10-1 10 10 40 3 4 5 3 5-2 10-9 15-19 40-58 42-74 10-20 9-25 10-40-3-10-13-19-10-9-10-6-15-2-20 4-25 15-20 18-50 50-10 8-10 0-25-12-15-3-15 1-30 10-35-5-15 0-10 2-10 5-8 8-6 10-6 1-6-1-24-19-10-4-15-1-20 6-10 6-15 13-5 3-5-1-45-39-51-39-19-18-29-37-31-51zM4616 705l9-3 5 2 6 6 3 10 0 10-4 10-10 12-5 2-5-3-5-16 0-19 5-10zM4773 740l12-3 10 2 5 3 7 8 8 15 2 10-7 25-5 8-10 7-10 2-10-2-10-6-6-9-7-30 6-15 12-14zM1830 820l51 65 64 71 19 24 12 25 20 65 2 25 0 45-12 135 11 80-2 15-14 60-7 55-2 80 4 95 10 85 9 40 10 40 26 70 17 35 17 30-235 0 0-1135zM2093 965l22 1 20 7 15 25 5 4 10-3 23-14 17-4 5 0 5 3 20 19 15 6 10 0 25-16 20-7 25-1 26 5 9 5 10 11 4 14-1 10-8 13-14 12-11 5-15 2-20 0-45-9-90 1-50-11-25 2-35-7-11-8-12-15 0-20 3-5 15-13 30-12z"/>
<path fill="#ffbb00" d="M3022 620l703 0 29 105 11 75 4 95-2 125 6 20 0 10 6 10 26 73 10 20 20 25 10 7 15 5 20 0 15-2 15-5 10-5 16-13 13-15 10-15 9-20 12-40 3-20 0-25-4-30-1-30 2-15-3-10 2-5-5-15-3-20 0-15-5-30-2-35-3-65 4-14 10-20 10-13 10-9 10-5 15-1 10 4 10 8 10 16 10 29 6 10 10 15 17 15 17 41 12 14 5 10 14 20 10 10 16 25 4 10 14 14 21 26 44 32 13 13 17 25 5 20-1 40-9 35-20 36-10 14-20 22-25 18-20 8-123 37-27 6-20 16-15 3-11 5-12 15-5 15-4 50 4 40 16 65 17 44 34 66 46 75 47 65 12 10 16 10 35 13 30 4 30-4 55-15 20 0 65 17 80 29 45 10 40 5 70 4 95 13 45 3 55-1 55-8 60-17 70-29 75-16 60-7 60 0 65 6 65 13 70 20 0 170-2823 0 33-29 20-12 35-13 65-19 15-7 85-60 33-30 47-50 20-26 65-96 18-33 27-55 20-53 20-62 17-65 5-40 8-90 20-80 9-65 11-31 10-17 14-17 21-18 25-14 75-23 20-4 20 0 60 19 25 2 20-3 15-7 45-34 12 52 8 12 5 2 5-3 15-18 51-73 18-35 11-15 3-10 10-15 10-20 10-25 9-40-3-10-9-16-10-12-15-9-15-2-20 4-25 15-20 17-52 53-8 6-10 1-25-12-15-3-15 1-30 9-35-4-15 0-20 8-9 9-6 10-5 1-5-2-25-19-10-4-15-1-20 5-10 7-15 13-5 3-5-1-45-40-52-42-16-15-27-35-31-50zM4619 710l6-1 5 2 6 9-1 15-10 15-5 2-6-7-2-15 3-16zM4774 740l16-2 10 5 10 12 5 10 1 10-6 23-5 8-10 7-10 3-10-2-10-7-7-12-5-25 6-15 11-13zM1830 825l52 65 63 69 15 18 15 28 19 65 3 25 0 45-13 135 11 80-2 15-15 60-8 60-2 80 3 90 10 85 17 80 25 70 16 35 17 30-226 0 0-1130zM3519 895l4 0-3 7-5 4 0-6zM2078 970l12-4 20 0 10 2 15 6 15 27 5 3 10-2 25-15 15-4 5 1 25 22 15 6 10-1 26-16 19-7 20-2 25 4 12 5 8 7 5 8 2 10-2 10-5 10-10 10-8 5-17 4-20 1-50-9-90 1-50-12-25 3-30-5-10-5-13-13-3-5-1-15 3-10 11-10 18-9z"/>
<path fill="#ffb000" d="M3026 620l695 0 32 105 11 75 4 90-2 130 5 20 1 10 6 10 26 85 16 32 15 19 15 12 15 8 20 4 50 1 15-2 10-11 20-33 7-15 3-25-5-105-5-30-1-30 2-15-3-10 2-5-1-5-5-10-3-20 1-15-8-65-3-65 4-13 10-19 10-13 10-9 10-5 15-1 10 3 10 9 10 16 15 37 10 15 17 15 5 15 13 29 10 11 5 10 15 21 10 10 8 14 8 10 3 10 16 15 20 25 44 35 9 10 17 25 5 20 0 20-2 25-11 35-10 20-14 20-18 20-12 10-18 11-20 8-100 22-40 12-10 5-15 15-5 2-30-4-15 1-5 3-9 10-5 15-2 20 0 35 4 20 9 35 6 45 8 25 19 32 16 53 11 20 25 35 23 48 27 42 24 30 13 10 16 9 35 12 20 4 20 1 30-4 60-16 25 0 53 14 87 32 45 11 35 5 80 7 90 12 40 4 55-1 55-8 60-17 80-35 60-9 55-5 65 0 65 7 70 14 75 21 0 147-2812 0 27-24 19-11 36-13 75-22 60-39 33-26 60-55 32-37 30-43 40-65 35-68 23-52 29-85 17-55 14-60 4-25 5-60 18-75 9-65 10-25 17-25 19-18 26-17 31-15 43-16 20-5 15 0 55 17 20 3 20 0 15-4 10-5 24-20 11-6 5 0 5 5 4 11 5 25 8 10 8 6 5-4 67-97 19-35 9-13 5-12 10-15 3-10 7-10 9-25 9-40-3-10-10-19-10-12-15-9-15-2-20 4-25 14-20 18-50 52-10 8-10 1-25-12-15-3-15 1-30 8-35-3-15 1-20 7-7 6-8 13-5 2-9-5-21-16-10-4-15-1-20 5-10 6-15 14-5 2-5 0-109-96-27-35-31-50zM4618 720l2-3 5-1 5 3 3 11-3 10-5 7-5 3-5-10 0-15zM4776 740l14-1 10 5 9 11 6 15-2 15-5 15-8 9-10 4-15-1-10-6-5-8-6-23 1-10 5-10 5-8 10-7zM1830 830l53 65 62 66 15 19 13 25 20 65 3 40-1 40-13 120 11 85-2 15-17 65-7 55-3 80 2 90 9 85 17 80 23 70 15 33 17 32-217 0 0-1125zM2079 970l11-4 20 1 10 1 15 6 15 31 5 3 10-4 25-14 15-3 7 3 18 17 10 6 10 2 10-1 30-19 15-5 20-2 25 4 10 4 9 9 6 15-2 10-6 10-17 13-15 4-20 1-50-9-90 1-50-13-25 5-30-5-10-6-11-11-5-10 0-10 4-10 10-10 17-8z"/>
<path fill="#ffa500" d="M3030 620l688 0 5 20 27 76 10 54 5 50 3 70-3 135 5 25 6 10 4 20 20 72 10 24 15 27 35 47 15 44 20 41 15 40 23 40 2 10-1 30 4 20 9 20 24 30 4 40 10 25 12 20 21 25 19 45 30 50 23 25 30 20 20 9 20 6 25 4 20 1 35-3 65-16 15-2 15 2 40 10 90 32 50 13 195 27 45 4 60-1 55-8 60-18 68-30 17-6 35-5 55-4 75 1 70 8 70 15 80 23 0 123-2801 0 21-17 20-12 30-11 75-20 19-10 36-24 40-32 61-54 32-35 30-40 32-56 59-119 42-110 31-90 17-40 3-15 0-35 3-25 20-119 10-31 9-15 11-15 22-20 23-15 30-15 30-10 20-5 11 0 59 16 15 2 20 0 15-3 10-5 10-7 17-18 8-4 5 1 5 7 2 21 6 10 15 15 2 1 3-1 34-55 23-29 5-11 8-10 5-10 7-10 7-15 8-11 6-14 9-13 4-12 7-10 9-25 9-40-4-13-10-19-10-12-15-9-15-2-20 4-25 14-20 17-60 61-10 1-25-11-15-3-15 1-30 8-45-2-15 3-10 5-8 7-7 12-5 2-7-4-23-17-10-4-15-2-20 6-10 6-15 13-5 3-5-1-45-42-44-37-20-20-27-35-29-49zM3999 705l11-4 10 0 10 4 10 9 10 16 14 35 15 20 12 10 5 15 8 15 5 15 10 10 4 10 12 15 5 9 10 9 6 12 9 10 3 10 16 15 21 27 44 38 12 15 8 15 5 20 0 25-3 25-7 25-10 20-18 25-16 17-20 15-25 10-45 9-100 6-5 1-6-3 0-5 7-30 0-20-6-25-20-49-7-31-8-55-3-10-2-35 2-15-2-10 1-5-1-5-5-10-3-20 0-15-4-30-5-60-1-40 3-12 15-26 15-14zM4624 725l4 5-3 12-5 2-2-9 2-7zM4779 740l11 0 10 4 9 11 5 15-2 15-5 15-7 7-10 5-15-1-10-7-5-8-6-21 2-10 4-10 8-10 7-4zM1830 835l50 60 65 69 15 19 12 22 20 65 3 30-1 45-14 125 10 85-2 15-16 65-8 55-4 80 1 90 9 85 15 78 23 72 15 35 15 30-208 0 0-1120zM2080 970l15-3 20 1 20 7 12 25 1 15 2 2 30-18 11-4 9 0 5 14 10-1 20 9 15 3 10-1 26-19 14-6 25-4 20 3 10 3 10 7 5 7 2 10-2 10-5 8-15 12-15 5-20 1-50-10-95 0-15-4-15-8-5-1-15 1-10 5-10 1-30-4-10-6-10-10-5-10 0-10 5-10 9-10 21-10z"/>
<path fill="#ff9c00" d="M3033 620l681 0 8 25 28 74 5 26 8 55 3 70 1 50-3 100 1 20 9 20 11 55 12 45 23 55 18 35 7 40 25 80 45 136 15 39 16 35 39 70 64 95 26 24 30 19 20 9 25 8 45 5 40-3 70-16 30 0 35 8 90 32 55 14 180 27 55 5 60 0 60-8 55-16 90-36 30-6 45-3 75 2 75 9 75 16 85 26 0 99-2788 0 18-14 20-10 30-11 65-16 20-9 30-20 35-26 79-69 31-34 30-40 25-45 65-136 75-187 13-23 24-30 12-140 5-35 6-25 10-25 8-15 11-15 17-15 24-15 24-10 26-7 30-2 60 15 15 0 20-2 15-7 15-10 7-7 8-12 5-4 5 3 1 18 6 10 23 19 5-2 34-57 36-50 18-35 8-10 6-15 7-10 4-10 9-15 9-25 9-40-10-27-10-16-10-9-10-5-15-2-20 4-25 14-25 23-50 53-9 5-6-1-25-11-15-2-15 0-30 8-45-1-15 3-10 5-10 9-5 10-5 2-6-2-24-19-10-3-15-2-20 5-10 6-15 14-5 3-5-2-105-97-27-35-28-47zM4003 705l12-2 10 2 15 11 10 16 14 33 14 20 13 10 5 20 7 10 4 15 10 10 7 15 10 10 5 10 11 10 4 10 10 10 2 10 4 5 13 10 22 29 39 36 12 15 8 15 5 20 0 25-3 25-8 25-13 24-16 21-19 18-21 12-29 8-35 4-25-3-22-9-12-10-7-10-42-70-14-30-9-30-7-40-4-10-2-35 2-15-2-10 1-5-1-5-5-10-3-20 0-15-3-10-5-55-3-65 3-11 10-18 10-13 15-12zM4769 745l11-5 10 0 10 5 8 10 4 10 1 10-5 20-8 10-10 5-10 0-10-4-7-6-7-20-1-10 3-10 7-11zM1830 840l0-2 51 62 64 66 15 19 13 25 18 60 3 35-1 45-14 120 9 85-2 15-17 65-9 60-4 80 1 85 7 85 15 80 21 70 30 65-200 0 0-1115zM2082 970l13-3 20 1 20 8 8 14 3 15-8 20-8 4-10 2-10 5-10 3-30-5-19-14-5-10 0-10 1-5 13-15 20-9zM2303 995l17-3 15 0 15 4 13 9 6 10 0 5-3 10-7 10-14 9-15 3-20 0-15-3-35-12-15 0-8-2 6-5 12 2 5-3 17-19 23-14zM2177 1010l5 0 2 15 6 10-3 5-7 2-19-2-8-5-1-5 7-10 16-10z"/>
<path fill="#ff9400" d="M3037 620l673 0 7 20 33 82 9 53 5 45 2 70-2 150 7 20 10 55 12 50 33 90 19 109 25 93 35 103 20 40 35 61 31 44 43 55 22 20 32 20 22 10 25 8 25 5 25 2 45-2 80-16 30 1 30 6 95 33 55 14 160 25 65 7 60 0 60-7 60-16 95-36 30-5 35-2 75 3 75 10 80 18 85 27 0 75-2774 0 19-12 20-9 70-18 20-7 20-10 22-14 28-21 91-79 29-31 30-39 20-35 33-75 39-80 73-170 15-25 33-40 35-65 3-15-6-55 3-40 11-50 7-15 9-13 15-13 20-12 20-6 30-4 25 0 50 15 20-1 15-5 30-23 10-4 10 3 27 18 3 1 5-2 35-59 35-49 19-36 8-10 6-15 8-10 3-10 8-15 9-25 9-40-10-30-10-16-10-9-10-5-15-2-20 4-25 14-25 22-50 53-10 6-30-11-15-3-15 1-30 7-45 0-15 4-10 5-10 8-5 9-5 4-30-21-10-4-15-1-20 5-10 6-17 14-3 2-5-1-102-96-26-35-27-45zM4009 705l6-1 10 2 15 12 10 16 13 31 14 20 13 10 5 20 7 10 3 16 10 9 6 15 9 6 6 14 12 10 4 10 11 10 2 10 3 5 14 10 23 30 39 40 10 15 6 15 3 20-1 30-5 25-11 25-16 24-20 20-20 12-20 7-25 4-20-1-20-6-20-13-25-27-34-45-16-28-13-32-9-40-4-10-1-65-6-15-4-20 0-15-2-10-6-59-3-61 8-20 10-15 10-10 15-9zM4770 745l10-4 10 0 10 5 7 9 5 10 0 10-5 20-7 9-10 5-10 0-10-4-5-5-5-11-4-19 3-10 6-10zM1830 845l0-2 53 62 57 59 20 24 12 22 13 40 5 23 3 37-1 40-15 120 9 85-3 15-17 65-9 60-5 80 0 85 7 85 14 80 20 70 28 65-191 0 0-1110zM2083 970l12-2 20 1 20 8 7 13 2 15-7 15-7 6-30 11-30-4-18-13-6-15 2-10 12-14 20-10zM2312 995l18-1 15 3 14 8 6 10 0 10-6 10-13 10-11 3-15 2-15-2-24-8-8-5-2-5 1-5 6-10 17-14 15-6zM2168 1030l2 0z"/>
<path fill="#ff8c00" d="M3041 620l665 0 7 20 27 58 11 32 10 70 4 70 1 45-4 125 7 20 8 55 12 55 26 85 16 135 13 55 19 65 15 45 15 35 27 50 25 40 40 54 26 31 27 25 32 21 25 12 25 8 25 6 30 4 50-2 85-14 35 1 35 8 95 31 50 12 135 23 75 9 65 1 60-7 60-14 100-35 30-6 40-2 75 5 75 12 75 18 85 28 0 51-2756 0 34-15 72-20 20-8 20-12 40-29 35-32 47-39 33-33 30-37 20-32 40-93 38-80 42-93 30-61 20-33 55-62 20-13 44-23 23-20 8-10 4-10 0-25 6-8 10-3 20 0 10-4 10-8 15-20 31-52 34-45 14-25 8-10 8-5 10-1 10 3 20 11 6-3 8-10 27-50 34-47 6-13 8-10 6-15 8-10 3-10 10-15 4-10 8-15 9-25 9-40-11-35-10-16-10-9-10-4-15-2-25 6-25 16-20 18-50 54-10 6-30-10-15-3-15 1-30 6-45 1-15 4-10 5-9 7-11 14-30-20-10-4-15-1-20 5-30 21-5-1-83-79-19-20-26-35-23-40zM3999 710l11-4 10 0 10 4 10 9 9 16 13 30 15 20 13 12 3 18 8 10 3 20 10 5 6 17 5 2 6 6 4 12 12 8 3 11 12 9 2 10 3 5 13 10 23 30 33 35 14 25 6 20 1 25-2 20-7 25-10 20-13 19-15 15-15 11-25 9-25 4-20-3-25-12-30-26-28-32-24-35-16-30-17-56-1-64-6-15-4-20 0-15-3-10-5-55-3-50 0-15 7-19 10-14 15-15zM4771 745l9-3 15 1 8 7 6 10 3 10-2 12-5 14-10 9-10 3-10-2-9-6-3-5-6-25 5-15 8-9zM1830 850l0-3 45 53 65 66 20 24 10 20 13 40 6 25 2 35-1 40-15 120 8 85-2 15-18 70-9 55-6 80-1 85 6 85 12 75 20 72 12 33 16 35-183 0 0-1105zM2085 970l10-2 25 2 15 8 7 12 2 10-1 5-9 15-4 4-15 5-5 4-10 3-30-4-15-11-5-6-3-10 3-10 10-13 20-10zM2304 1000l11-3 15-1 15 4 9 5 7 10-1 10-7 10-8 6-15 5-15 0-15-3-15-8-3-5 0-10 7-10 11-8z"/>
<path fill="#ff8200" d="M3045 620l656 0 8 20 36 73 5 14 3 18 8 55 3 70 1 45-4 125 5 20 19 115 21 80 4 35 1 70 3 35 10 55 18 70 13 40 18 40 24 45 23 35 48 65 22 26 31 29 34 23 25 12 27 10 28 7 30 4 55-1 90-12 40 1 35 9 95 29 50 12 115 20 80 10 65 2 65-6 60-12 110-35 35-5 35-1 70 5 75 13 76 20 84 28 0 27-2734 0 89-27 20-9 24-14 31-23 40-37 45-36 40-41 25-32 20-31 16-35 25-65 64-133 30-58 35-59 30-37 25-23 20-12 55-28 54-40 26-25 25-32 40-63 25-51 8-29 7-10 8-5 7-1 10 3 15 8 5-2 7-8 30-55 33-46 7-14 8-10 5-13 9-12 3-10 10-15 4-10 8-15 9-25 9-40-2-11-10-28-10-17-10-8-10-4-15-2-25 7-25 15-20 19-50 53-10 6-10-1-20-8-15-2-15 1-35 6-40 2-15 4-10 4-11 9-9 11-5-1-25-18-10-3-15-1-20 4-10 6-15 12-5 3-5-1-80-77-18-20-26-35-23-40zM4003 710l7-2 10 0 10 4 10 9 8 14 13 30 14 19 15 15 2 16 8 10 2 20 10 5 3 5 2 10 3 5 5 1 5 4 4 15 12 5 4 13 11 7 4 15 19 15 16 23 32 37 11 20 6 20 1 25-1 20-7 25-9 20-13 19-15 14-20 12-25 7-20 1-20-6-20-11-30-25-30-33-20-28-20-38-14-47-2-60-6-20-3-15-9-80-3-65 7-17 10-15 10-10 10-7zM4772 745l13-3 10 2 7 6 6 10 3 10-1 10-6 15-9 8-15 3-10-4-6-7-5-15-2-10 6-15 7-9zM1830 855l0-3 46 53 64 64 18 21 12 22 12 38 6 25 2 30-1 45-16 120 7 65 1 20-4 20-17 65-9 55-7 80-1 85 5 85 12 78 19 72 26 65-175 0 0-1100zM2087 970l23-1 15 3 10 7 6 11 2 10-1 5-10 15-27 14-35-3-15-11-6-10-1-10 10-15 7-6 20-9zM2311 1000l14-2 10 1 14 6 5 5 2 5-1 10-9 10-11 5-10 2-15-1-10-4-8-7-2-5 1-10 10-10 9-5z"/>
<path fill="#ff7600" d="M3049 620l648 0 7 20 26 45 15 31 5 14 6 40 6 50 2 70-5 150 5 20 15 110 19 90 2 35-3 65 1 40 9 70 13 60 13 40 15 35 19 35 23 35 65 84 20 23 30 28 36 25 24 12 30 12 30 8 30 4 55 1 100-11 45 3 35 8 95 27 55 13 105 18 75 10 65 2 65-4 60-11 120-33 35-5 35 0 65 5 75 14 80 22 80 28 0 2-2702 0 67-21 25-13 20-12 25-19 43-40 42-35 26-25 22-25 19-25 21-35 14-30 29-75 59-120 30-52 30-45 32-43 25-25 21-15 61-35 29-20 36-30 33-35 28-40 25-44 23-51 3-25 4-10 5-5 10-2 20 8 5-2 9-9 29-55 32-45 16-25 4-11 10-14 3-10 10-15 4-10 8-15 9-25 9-40-3-14-8-26-7-14-10-12-10-5-15-3-25 5-25 14-25 22-50 53-10 6-10-1-25-7-15-1-45 7-40 2-25 9-20 18-5-1-17-12-13-6-10-2-15 0-20 6-25 17-5 0-95-95-25-35-25-43zM4008 710l7-1 10 2 15 12 8 12 12 30 15 20 14 15 2 15 8 10 1 5 0 15 10 5 4 5 2 15 9 2 4 3 3 15 3 3 5 0 5 3 4 14 11 5 4 15 19 15 45 60 10 20 4 20 1 30-4 25-9 24-13 21-15 15-17 11-20 6-20 2-20-4-20-10-25-19-30-29-20-24-18-28-14-30-11-35-2-60-6-20-6-40-8-80-2-40 7-16 10-14 10-11 15-8zM4773 745l12-2 10 2 6 5 7 10 2 10-1 10-7 15-7 7-15 2-10-4-5-6-5-14-2-10 5-15 7-8zM1830 860l0-4 47 54 63 61 16 19 12 20 13 40 6 25 2 35-1 40-17 120 7 60 0 25-3 20-18 65-10 60-7 75-2 85 5 85 10 75 19 75 25 65-167 0 0-1095zM2089 970l26 0 10 3 10 7 7 15-2 10-10 15-15 6-10 6-30 0-5-2-14-10-6-10-1-10 10-15 6-5 20-9zM2307 1005l13-4 10 0 15 6 5 8 0 5-5 10-5 3-10 4-10 1-15-4-5-5-4-9 1-5 8-8z"/>
<path fill="#ff6a00" d="M3053 620l638 0 8 20 31 48 18 37 11 75 4 115-5 125 15 125 17 100 0 30-8 70-1 45 6 80 4 30 7 30 10 30 16 35 17 30 21 30 100 120 33 30 35 24 25 13 25 10 25 7 30 6 30 3 30 1 110-9 45 2 40 8 100 27 65 14 95 17 70 8 65 3 65-4 60-11 115-28 30-4 35-1 55 3 60 10 65 15 68 21-2605 0 27-9 25-11 25-15 20-14 95-84 30-29 24-28 30-45 17-35 31-80 28-60 30-56 30-47 35-46 57-66 30-25 64-40 29-21 35-32 28-32 30-45 25-50 16-40 1-10-2-15 2-6 3-4 7-3 5 0 10 6 5 0 5-2 11-11 27-55 33-45 16-25 3-10 10-13 4-12 10-15 3-10 8-12 10-28 8-40-3-19-9-31-6-11-10-11-10-4-15-2-25 5-25 14-25 22-45 48-15 11-10 0-25-6-15-2-45 7-35 2-25 7-10 6-15 13-5 0-20-12-10-4-10-3-15 0-20 7-25 16-5-1-10-8-81-84-26-35-23-41zM3999 715l11-4 10 0 10 5 10 9 7 10 12 30 16 21 13 14 1 15 9 10 1 5 0 15 11 7 3 3 1 15 13 5 4 15 4 4 7 1 3 5 2 10 13 7 1 8 4 8 17 12 29 40 18 30 6 20 2 20-2 25-4 20-8 20-9 15-13 15-14 10-22 8-20 2-20-4-25-13-30-23-29-30-21-28-18-32-14-40-2-15 2-25-2-20-7-20-6-40-9-105 0-15 6-15 10-14 15-14zM4775 745l10-2 10 3 6 4 6 10 2 10-2 10-6 15-6 5-10 3-10-2-5-3-5-7-5-13-1-8 5-15 6-7zM1830 865l0-4 49 54 61 59 15 16 11 20 13 40 6 25 3 35-2 45-17 115 6 60 1 25-4 20-19 70-10 55-7 75-2 85 3 85 10 75 18 73 24 67-159 0 0-1090zM2093 970l22 1 13 4 7 6 6 14-2 10-9 14-30 13-30-3-15-11-5-13 2-10 8-10 7-5 23-10zM2318 1005l7-1 10 2 7 4 3 5 0 5-3 5-12 7-15 1-6-3-5-5 0-10 3-5 8-4z"/>
<path fill="#ff5c00" d="M3057 620l628 0 8 20 32 44 20 37 3 9 7 41 5 49 2 70-5 150 4 60 20 170-2 30-11 65-3 30-1 60 1 50 5 40 10 42 13 33 20 35 29 35 58 60 35 43 26 27 24 20 25 17 25 14 30 13 50 14 50 7 45 0 95-6 50 3 40 7 130 33 95 18-1857 0 41-20 36-25 90-80 44-45 26-35 33-60 13-30 20-55 39-80 25-41 35-49 25-29 84-86 18-15 53-34 25-19 30-27 31-35 15-20 19-33 22-47 19-45 1-10-6-15 0-5 9-5 10 5 5 0 5-2 13-13 26-55 34-45 15-25 3-10 9-11 5-14 10-14 3-11 7-10 11-30 8-40-4-25-8-30-4-10-8-10-10-6-15-2-25 4-15 7-15 9-25 22-45 48-15 10-10 1-25-5-15-1-45 7-35 3-25 7-25 17-5 0-30-15-15-2-10 0-20 6-25 15-5-1-10-8-78-81-25-35-23-40zM4002 715l8-2 10 0 10 4 10 9 8 14 11 25 16 23 12 12 1 15 9 10 1 5 0 15 2 3 11 7 2 15 2 2 11 3 4 17 5 4 5-1 4 5 1 10 10 4 5 5 0 7 5 8 16 11 27 40 14 25 6 20 2 20-1 25-6 25-9 20-10 15-14 13-15 8-20 5-20 0-20-7-25-15-25-20-25-26-25-35-14-28-11-29-3-16 2-25-2-20-7-22-6-38-8-85-2-35 6-14 10-14 10-10 10-6zM4777 745l8-1 10 2 9 9 4 10 0 10-3 10-7 10-8 5-10 1-10-5-10-21 1-10 3-10 6-7 5-3zM1830 865l50 55 65 61 15 19 7 15 15 50 3 20 1 30-4 65-15 85 1 20 5 45 0 25-4 20-19 70-10 55-8 75-3 80 3 85 10 80 17 75 23 65-152 0 0-1090zM2079 975l16-5 20 1 10 3 8 6 7 10 1 10-9 15-7 6-25 10-25-1-5-2-12-8-6-10-1-10 10-15 14-8zM2317 1010l8-1 10 3 2 3 0 5-4 5-8 3-12-3-3-5 1-5 4-4zM5051 1935l44-2 50 4 55 9 59 14-335 0 81-18 45-7z"/>
<path fill="#ff4b00" d="M3060 620l617 0 7 20 36 40 25 43 5 21 8 56 2 45 2 70-6 115 1 25-2 15 3 10-2 15 4 20 11 160-3 25-14 65-5 35-3 60-1 55 3 45 5 40 8 25 12 25 15 20 22 25 70 66 65 69 24 20 26 18 25 15 26 12 54 17 55 9 50 2 105-5 50 4 45 8 125 30-1743 0 38-22 36-28 79-71 30-31 28-33 25-40 24-45 11-25 27-69 25-52 43-69 31-40 31-32 80-72 20-15 42-26 23-18 33-32 27-32 27-43 32-70 18-50-4-20 12-2 20-18 22-50 13-20 24-30 6-13 9-12 4-10 7-10 6-15 9-12 20-48 6-25 3-25-7-45-5-20-7-10-5-4-10-4-15-1-25 6-30 16-25 22-45 47-15 11-10 1-25-4-20 0-75 10-25 7-25 16-5 0-30-13-10-2-15 0-20 5-20 13-5 1-5-1-15-13-69-73-25-35-23-40zM4007 715l8-1 10 2 15 12 7 12 11 25 17 24 11 11 1 15 2 5 7 5 0 20 4 5 10 5 1 15 4 4 10 2 5 18 5 3 5 0 3 3 1 10 11 6 4 4 1 9 4 6 16 10 26 40 12 25 4 20 1 25-3 25-6 20-10 20-12 15-14 10-18 7-20 1-25-6-25-14-25-20-25-26-20-27-15-26-13-34-4-15 2-25-2-25-6-15-8-40-10-120 6-13 10-13 15-14 10-5zM4779 745l6-1 10 3 8 8 4 10 0 10-4 10-7 10-6 3-10 1-9-4-6-9-4-11 0-10 4-10 10-9zM1830 870l52 55 63 59 15 19 6 12 15 50 3 25 1 25-5 66-15 84 6 65-1 25-3 20-20 70-10 55-9 75-4 80 3 85 9 80 15 70 23 70-144 0 0-1085zM2080 975l15-4 20 1 10 2 8 6 6 10 1 10-9 15-6 5-25 10-25-1-15-8-8-11 0-10 9-15 14-7zM5030 1960l55-3 55 3-110 0z"/>
<path fill="#ff3a00" d="M3064 620l605 0-1 20 2 7 25 14 15 12 15 18 20 34 12 75 2 45 2 70-7 115 1 25-3 10 2 20-4 10 6 20-2 20 2 15-1 20 2 20-1 40 3 50-3 25-16 60-7 35-5 60-3 55 2 45 4 40 8 30 11 25 25 35 40 45 55 49 58 56 47 37 25 15 30 15 55 19 55 10 55 4 100-2 40 1 50 7 67 14-1643 0 46-32 80-70 35-34 37-44 26-40 30-55 24-50 27-65 11-23 42-72 26-35 32-30 75-58 86-57 29-28 25-30 18-27 14-25 27-65 10-20 7-35 8-20 0-15 11-14 10-8 9-23 14-30 13-20 24-30 5-11 7-9 7-15 8-10 5-15 8-10 5-15 7-10 3-12 6-13 6-25 3-25-7-85-13-4-20-1-20 3-15 5-30 16-25 21-45 48-15 11-10 2-45-3-75 10-20 5-30 17-5 0-30-12-25-2-20 6-20 11-5 1-5 0-15-13-70-76-24-35-21-38zM3730 1163l0 4 4-2zM3998 720l12-4 10 0 10 4 10 10 6 10 11 25 18 25 10 10 1 15 2 5 7 7 0 18 5 7 8 3 2 15 5 5 5 1 5 3 4 16 12 5 1 10 16 10 1 10 3 5 16 10 30 50 7 20 2 15 0 20-3 25-6 20-11 20-12 15-10 7-20 7-20 1-20-5-20-11-25-18-25-24-20-25-20-34-16-43 2-25-2-20-6-20-8-40-10-105 0-15 5-11 10-14 15-13zM4770 750l10-5 10 1 5 2 8 7 3 15-1 7-7 13-6 5-7 2-10-2-5-4-8-16 0-10 4-10zM1830 875l54 55 56 51 17 19 7 15 15 50 3 20 2 25-4 60-17 95 5 65 0 25-4 20-21 75-9 50-10 75-4 80 1 85 9 80 15 73 22 67-137 0 0-1080zM2081 975l19-4 20 2 10 5 9 12 0 10-9 15-25 13-25 1-10-2-10-7-7-10-1-10 8-13 20-12z"/>
<path fill="#ff1600" d="M3068 620l590 0-7 10-6 3-45 15-30 17-25 21-45 47-17 12-13 2-40-2-75 11-20 5-30 16-5 1-30-11-25-2-15 3-30 13-5-1-10-7-63-68-26-35-26-46zM3678 670l7-4 5 0 10 4 10 8 15 17 18 30 3 5 7 45 4 45 3 95-8 140-3 10 1 18-6 7 0 10-4 10 10 5 1 35-6 8-15-4-5 5-1 6 1 6 5 7 5 2 10 2 1 3-6 45 5 40 0 20-28 100-6 45-4 55 0 50 4 45 8 35 11 30 15 26 20 29 35 45 10 10 120 106 35 26 40 22 30 14 30 10 35 9 35 6 55 4 110 0 48 3-1519 0 41-30 90-80 24-25 44-55 25-40 48-90 15-30 21-50 34-70 29-43 23-22 32-24 60-41 70-43 22-17 28-28 20-27 15-25 15-30 25-70 10-20 1-30 9-25-1-15 2-5 4-6 10-6 8-23 16-35 13-20 24-30 4-10 8-10 7-15 8-10 6-15 7-10 5-15 7-10 2-10 7-15 9-45-3-40 3-25zM4001 720l9-3 10 1 10 4 10 9 5 9 11 25 18 25 9 10 2 5 0 10 2 5 6 5 1 5 0 15 6 8 6 2 4 17 5 5 9 3 3 15 3 3 10 2 1 10 4 5 11 5 2 10 3 5 16 10 13 20 15 30 6 20 1 20-1 20-3 20-8 20-10 17-10 11-15 9-20 6-20-2-25-10-25-17-25-22-20-24-20-31-16-37-4-10 3-25-2-20-7-20-8-40-11-105 0-15 5-10 10-14 20-15zM4771 750l9-4 10 0 5 2 7 7 3 10 0 8-5 12-5 6-5 3-10 1-10-6-5-9-3-10 2-10 6-10zM1830 880l0-2 45 47 65 58 15 17 8 15 14 45 3 20 2 30-1 35-3 30-17 90 5 65-1 25-4 20-21 75-11 55-9 75-5 80 2 85 7 75 15 75 20 65-129 0 0-1075zM2083 975l17-3 20 2 10 5 8 11 1 10-9 14-5 4-20 9-10 1-20-1-14-7-6-7-3-8 1-5 6-10 6-6 15-8z"/>
<path fill="#ff0500" d="M3072 620l573 0-10 7-40 18-25 16-25 21-45 47-10 8-10 5-10 1-45 0-70 11-20 5-30 15-5 1-30-10-20-2-20 4-30 11-5-1-10-7-60-65-25-35-26-45zM3685 675l10-1 15 8 15 16 20 32 10 70 4 90-4 95-4 65-5 15 1 15-6 10-1 10-4 10 3 5 5 5 2 5 0 20-6 6-6-1-9-11-3 6 3 50-6 25-2 15 6 40 0 15-3 16-22 64-6 25-3 30-2 55 2 50 5 45 10 40 13 35 23 42 45 68 15 18 20 19 80 70 55 40 30 17 30 14 30 12 35 10-1232 0 39-30 88-77 31-33 29-38 25-39 40-78 31-55 55-120 14-24 13-16 21-20 31-23 151-97 28-25 21-28 15-26 12-26 39-105 1-5-5-15-1-10 8-25-2-15 2-5 4-5 7-4 9-26 16-35 13-20 24-30 5-10 7-10 6-13 9-12 6-15 8-10 5-15 6-10 2-10 7-15 6-25 3-20-1-45 4-14 5-6zM4006 720l9-1 10 2 15 12 5 8 9 24 28 35 1 5 0 10 10 15-1 15 3 5 10 6 2 14 3 5 11 5 5 15 9 7 8 13 12 5 1 10 4 6 16 9 15 25 11 25 5 20 1 25-4 25-5 15-7 15-12 16-15 12-15 6-20 1-20-6-25-14-25-19-20-21-20-27-27-53-1-5 2-25-2-20-7-20-8-40-11-105 0-15 4-9 10-13 15-13 10-5zM4772 750l8-3 10 0 5 2 6 6 3 15-4 12-5 7-5 3-10 1-5-2-5-5-5-9-2-7 2-10 5-9zM1830 885l0-3 47 48 63 56 15 17 6 12 14 45 5 25 1 25-1 26-4 39-17 90 4 65-1 25-4 20-21 75-11 55-10 75-5 80 0 85 7 75 14 70 20 70-122 0 0-1070zM2084 975l16-3 20 2 10 5 8 11 0 10-8 12-5 5-20 9-10 2-20-1-13-7-7-8-2-7 1-5 6-11 5-5 15-8z"/>
<path fill="#ff0000" d="M3075 620l556 0-46 26-20 14-25 22-40 42-10 8-10 5-10 2-45 1-70 12-20 5-25 12-10 3-30-8-20-3-15 2-35 12-10-4-10-9-51-57-26-35-25-45zM3692 680l13 3 10 7 15 19 13 21 7 42 5 48 2 95-8 135-5 15-1 15-5 10-1 10-3 10 1 6 7 9 0 15-2 5-5 1-5-8-5-2-5 4-1 5 2 20-3 15-3 9-16 21-11 25-10 55-13 45-4 25-2 40 3 55 9 80 11 55 20 55 18 35 45 81 26 34 58 55 63 50 53 33 57 27-1154 0 114-95 27-25 22-25 34-55 43-90 37-60 56-120 24-35 20-20 26-20 159-100 28-25 19-25 14-25 13-30 24-70 5-25 9-20-11-20 0-10 6-15-1-20 2-5 7-6 2-4 8-25 16-35 13-20 24-30 5-10 8-10 4-11 11-14 4-13 9-12 5-15 6-10 3-10 6-15 9-45-1-25 3-20 4-10 6-5zM3998 725l12-4 10 0 10 4 10 10 6 10 7 20 27 35 3 20 8 10 0 15 4 7 9 8 4 15 12 8 5 14 10 7 6 11 9 5 10 19 15 7 15 27 8 22 5 20 0 20-2 20-6 20-8 15-12 15-13 10-17 6-20 0-25-9-25-15-20-17-20-22-16-23-24-45-1-5 1-25-2-20-8-23-7-37-12-105 1-15 3-8 10-13 15-12zM4773 750l7-3 10 1 11 7 2 15-3 9-5 7-5 3-10 2-10-8-6-13 1-10 5-8zM1830 890l0-4 43 44 67 58 15 17 5 11 15 50 3 24 1 20-4 60-18 95 4 65-1 25-5 23-22 77-11 55-10 75-6 75 0 80 7 80 12 70 20 70-115 0 0-1065zM2086 975l14-2 20 2 10 5 7 10 0 10-7 11-13 9-17 6-20 0-10-2-10-7-5-7 0-10 5-10 5-5 20-10z"/>
<path fill="#ff0039" d="M3079 620l540 0-39 24-20 15-60 60-20 14-15 3-40 2-65 10-20 6-40 16-30-8-20-2-15 2-35 10-10-4-10-9-48-54-28-40-24-43zM3695 685l10 2 15 12 19 26 4 10 9 65 4 70-1 65-5 80-3 35-5 15 0 10-11 35 1 5 5 10-1 15-2-5-4-2-5 0-5 2-4 10 2 20-3 12-5 6-18 12-46 55-19 30-12 30-4 20-1 20 4 35 6 35 15 58 17 77 15 45 24 55 39 73 17 37 12 20 16 21 20 21 65 57 60 44 57 32-1089 0 111-90 31-28 15-16 38-71 37-85 36-55 33-70 26-50 28-40 27-25 29-20 146-88 25-22 19-25 14-25 13-30 22-75 2-30 8-20 0-5-8-7-5-8 0-10 8-15-4-15 0-5 8-10 10-30 16-35 13-20 20-25 16-25 4-10 11-15 3-11 10-14 5-15 6-10 3-10 7-15 4-25 4-20 1-35 5-14 5-4zM4001 725l9-3 10 1 10 4 10 9 5 9 7 20 12 15 16 25 1 15 8 10 0 15 6 9 7 6 5 15 11 10 7 14 7 6 7 10 11 8 5 12 4 5 16 9 13 26 7 21 3 19 0 25-3 19-6 16-9 14-10 10-15 10-20 5-20-3-20-8-25-16-20-18-20-24-10-15-25-45 2-25-3-25-8-20-7-35-12-115 2-10 6-9 10-10 15-11zM4774 750l6-2 10 0 10 7 2 5 0 10-2 6-8 9-7 3-5 0-10-7-5-11 0-5 5-12zM1830 890l45 45 65 56 13 14 7 15 14 50 3 40-4 60-18 90-1 20 4 50-1 25-6 25-21 75-12 55-10 75-6 75-1 80 6 80 13 75 18 65-108 0 0-1065zM2089 975l11-2 20 2 9 5 8 10 0 10-7 10-15 10-15 5-20 1-10-2-10-7-4-7-1-10 6-10 4-4 20-10z"/>
<path fill="#ff004e" d="M3083 620l525 0-48 35-60 59-13 11-11 5-11 3-45 3-60 10-20 5-40 16-35-8-15-1-15 2-25 8-10 1-10-4-10-9-45-51-28-40-22-40zM3699 690l6 1 10 7 25 32 10 70 4 70 0 45-3 70-7 65-4 15 0 10-11 35 1 15-10 6-6 9-1 10 3 15-2 5-4 6-20 9-64 45-16 17-13 23-16 45-8 35 0 40 5 40 8 35 19 59 8 41 5 10 22 29 8 16 7 20 3 30 5 5 17 12 15 18 15 27 18 38 15 25 33 40 48 45 58 45 56 35-1029 0 116-91 22-19 13-15 20-39 51-121 35-55 34-66 30-52 30-42 20-19 25-17 35-19 50-23 65-41 30-26 22-30 16-30 12-30 8-25 6-35 1-20-5-30 7-20 0-5-11-10-3-10 2-10 5-6 11-4 0-5-11-3-3-7 0-5 7-10 9-30 16-35 13-20 24-30 13-20 4-10 11-15 2-10 11-15 2-10 9-15 2-10 7-15 8-45 0-20 3-15 5-10 7-5zM4005 725l10-1 10 2 15 12 5 9 6 18 12 15 12 21 4 19 7 10 1 15 12 15 6 15 10 10 10 17 15 17 9 6 7 15 17 10 12 25 7 25 2 20 0 20-4 17-5 13-11 15-14 12-15 6-15 2-20-3-25-12-20-14-20-19-15-19-32-53 1-25-4-25-8-20-7-35-2-30-4-20-1-20-3-10-2-35 2-10 10-13 15-12 10-5zM4776 750l14-1 5 3 5 5 1 8-1 7-5 8-5 3-10 2-5-2-6-8-2-5 0-10 2-5 6-5zM1830 895l52 50 53 44 16 16 5 10 14 45 5 25 1 25-2 35-4 30-18 85 0 20 4 50-2 25-5 25-22 75-12 55-11 75-7 75-1 80 6 80 11 70 18 70-101 0 0-1060zM2092 975l13-1 15 2 8 4 8 10 0 10-6 9-17 11-13 4-10 2-20-3-11-8-4-10 3-10 7-8 15-9 10-3z"/>
<path fill="#ff0064" d="M3086 620l513 0-49 39-55 55-20 12-15 3-40 4-60 11-20 5-40 15-35-6-15-1-15 1-30 8-10-2-10-7-38-42-33-45-25-45zM3696 695l9 1 10 6 20 24 5 9 5 40 5 50 2 90-3 70-7 65-3 10-2 15-4 10-2 15-4 10-1 10-3 5-8 7-4 8 1 25-2 3-5 4-20 6-25 14-30 8-35 1-10-5-5-6-29-70-1-10 5-15 0-5-12-15-1-10 3-7 13-8 1-5-11-5-3-5 1-5 7-5 2-5-3-5 6-20 17-40 14-20 24-30 12-20 4-10 9-10 5-15 11-15 2-10 6-10 12-30 10-75 5-10 6-5zM3560 1018l-5 2 1 5 9 0 0-5zM3998 730l12-4 10 0 10 4 10 10 9 25 13 15 12 25 2 15 6 10 3 15 11 15 6 15 13 14 10 17 20 19 8 15 7 6 9 4 3 5 9 20 7 30 2 15-1 20-4 15-8 15-8 10-14 10-20 6-18-1-22-7-20-11-15-12-15-16-15-20-16-29-11-15 0-20-6-30-7-16-10-44-2-30-3-15-1-20-6-35 2-18 10-14 15-11zM4778 750l12 0 8 5 2 4-1 11-4 6-5 4-10 1-5-2-5-5-2-14 2-5 5-4zM1830 900l0-2 53 52 52 42 15 15 5 10 15 49 3 24 1 20-5 60-15 65-4 25 3 70-2 25-5 25-22 75-13 55-11 75-7 75-2 80 5 80 11 70 17 70-94 0 0-1055zM2095 975l10-1 15 2 8 4 8 10-1 10-5 8-20 13-20 4-15-1-10-5-8-9 0-10 8-13 15-9 15-3zM3468 1410l17-4 10-1 10 5 8 10 58 115 19 48 23 32 9 15 5 15 4 30 3 10 35 35 42 65 21 30 33 37 40 38 50 39 46 31-970 0 113-85 21-20 13-15 13-25 43-110 14-30 72-125 30-44 25-31 30-24 35-18 25-4 35 1 40-13 25-6z"/>
<path fill="#ff00cd" d="M3090 620l500 0-40 34-55 55-20 13-15 4-45 5-55 11-60 20-50-7-15 1-30 7-10-2-10-7-35-39-33-45-24-45zM3695 700l10 0 10 6 15 17 7 12 9 70 4 75 0 40-5 85-5 45-5 15 0 10-4 10-3 15-7 20-12 15-4 26-5 4-15 2-25 12-15 1-20-3-20-9-20-14-15-17-14-22-1-5 3-15 0-5-12-15-1-10 3-5 12-10 1-5-12-10 1-3 5-4 10-1 3-2 0-5-14-5 6-23 10-22 20-35 22-25 16-25 4-10 8-10 5-15 8-10 5-15 6-10 11-30 9-70 6-11 5-4zM4001 730l9-2 10 0 10 4 10 10 7 23 13 15 3 5 6 20 3 15 8 15 2 10 13 19 8 16 12 14 10 16 19 20 10 15 13 10 1 10 7 15 8 30 1 10-1 20-5 15-6 10-10 10-12 6-20 5-20-2-20-7-19-12-21-20-20-28-11-22-9-10-2-5-1-15-7-19-1-11-8-20-8-35-4-35-4-20 0-15-6-35 0-15 6-9 10-11 15-9zM4781 750l6 0 8 3 4 7 0 5-4 8-10 4-10-1-5-5-1-6 2-10 9-5zM1830 905l0-3 50 48 55 44 15 16 19 60 3 35-2 40-4 25-12 50-6 35-1 25 3 50-2 25-5 25-24 80-12 55-11 70-8 75-2 80 4 80 10 70 17 70-87 0 0-1050zM2098 975l11 0 16 4 10 11 0 8-5 9-20 13-20 4-15-1-10-5-7-8-1-10 8-12 15-9 15-3zM3413 1450l22 3 25 9 25 15 25 21 15 18 20 29 39 65 29 55 8 25 14 20 17 40 7 10 68 80 33 35 50 44 56 41-910 0 99-73 24-22 17-20 12-20 32-87 40-88 40-69 25-36 20-25 30-28 30-19 40-14 30-7 15-2z"/>
<path fill="#ff00e4" d="M3094 620l489 0-38 34-50 50-15 11-10 5-110 19-60 20-50-6-45 7-10-3-10-7-36-40-28-40-26-48zM3695 705l5-1 10 3 13 13 10 15 10 75 4 75-2 75-5 65-4 25-3 10-2 15-4 10-2 15-10 20-9 10-6 21-5 4-40 9-25-4-25-11-20-13-20-19-4-7 0-20-12-20 3-10 10-10 1-5-9-10 17-10-1-5-10-5-3-5 4-15 6-10 3-11 9-19 11-17 24-28 13-20 8-15 8-10 5-15 10-15 2-10 7-10 10-30 8-65 5-11zM4007 730l8-1 10 2 10 7 5 6 6 21 15 20 5 35 12 25 12 18 12 22 9 10 8 15 20 20 9 15 9 10 2 15 8 15 9 25 0 25-5 15-6 10-10 7-15 6-20 2-15-3-16-7-19-14-15-15-15-21-12-25-23-39-3-16-7-15-11-40-2-30-4-20-2-20-7-35 1-14 7-11 13-12 15-7zM4772 755l13-4 10 3 3 6-3 10-5 3-15 0-5-6 0-8zM1830 910l0-4 50 48 55 43 12 13 18 52 3 18 2 25-2 35-3 25-6 25-9 30-4 30-1 25 2 55-2 25-5 25-24 80-13 55-11 70-8 75-3 80 4 80 10 73 16 67-81 0 0-1045zM2102 975l23 4 10 11 0 5-5 12-11 8-9 4-20 4-20-2-10-8-3-8 3-9 5-7 15-10 20-4zM3386 1480l24-1 25 7 35 21 30 27 25 31 23 35 42 76 36 74 16 25 66 75 37 38 41 37 45 35-848 0 87-63 25-24 19-23 14-25 34-85 45-100 30-50 33-45 25-25 25-17 30-13 35-10z"/>
<path fill="#ff00fa" d="M3098 620l477 0-30 28-46 47-24 18-20 6-95 18-50 17-15 3-45-6-45 6-15-6-21-21-28-35-23-35-18-35zM3695 710l5-2 5 1 9 6 11 15 3 10 1 15 6 35 6 65 2 70-6 90-11 60-6 25-10 15-10 10-9 15-6 3-10 2-30 1-25-5-20-9-19-12-11-11-7-24-8-14-1-6 4-10 5-5 2-5-7-10 12-5 3-5-1-5-9-5-4-5 5-15 6-10 10-27 15-23 22-25 30-45 3-11 10-14 4-15 6-10 8-25 8-65 4-10zM3999 735l11-4 10 0 10 5 9 9 7 25 12 15-2 20 4 18 5 13 8 14 12 17 12 23 9 10 12 20 14 15 13 23 19 42 4 20-4 20-6 10-8 7-15 6-15 1-20-6-15-10-28-28-32-56-15-16-5-18-10-20-10-35-1-30-5-15-1-20-4-10-4-25 0-10 5-10 5-7 15-11zM4774 755l11-3 10 3 2 5-2 7-5 2-15 1-4-5 0-5zM1830 910l53 50 52 40 10 10 5 10 14 45 4 40-3 45-9 40-9 25-4 30-1 30 3 55-3 25-5 25-25 85-13 55-12 70-8 75-3 80 3 75 9 70 16 70-74 0 0-1045zM2080 980l25-4 20 4 9 10 0 5-4 11-20 12-20 4-20-2-10-8-2-7 2-8 5-7 10-6zM3362 1510l33-3 25 5 30 17 25 21 17 20 19 25 64 120 50 70 50 58 44 47 36 35 43 35-786 0 68-49 22-21 18-20 14-20 11-20 58-130 35-70 23-40 22-30 22-22 25-17 30-11z"/>
<path fill="#ff73ff" d="M3101 620l468 0-69 69-25 19-20 8-95 19-50 17-15 2-45-5-45 5-15-7-22-22-27-35-19-30-18-35zM3695 715l5-1 5 1 5 4 4 6 4 15 12 90 0 15 3 10 3 50 0 45-7 80-3 20-9 25-12 23-20 17-10 6-20 6-20 2-15-3-20-7-25-18-16-36-1-5 9-15-1-10 9-5 2-5-2-5-13-10 1-5 2-6 8-9 12-34 7-6 3-10 11-10 43-60 17-35 15-45 8-65 6-10zM4004 735l11-2 10 2 13 10 2 5 4 20 7 15-3 5 2 15 5 20 12 30 16 30 50 70 17 30 7 20 1 20-6 15-12 10-15 4-10 0-10-4-15-9-25-24-21-32-18-35-2-10-6-10-3-16-10-4-3-5-1-5 4-4 3-6-3-2-5 7-10-15-2-15 1-20-7-15-2-20-5-12-3-28 2-10 6-10 20-13zM4775 755l10-2 5 1 5 4 0 5-5 4-15 0-3-7zM1830 915l55 50 57 45 5 10 13 40 4 20 2 25-3 35-4 25-17 55-3 45 3 60-3 30-5 25-26 85-13 55-12 70-8 75-4 80 3 75 8 70 15 70-67 0 0-1040zM2083 980l22-4 19 4 6 6 4 9-4 9-20 13-20 5-15-2-10-4-5-6-2-5 4-10 3-4 15-10zM3352 1535l28-3 15 1 15 4 25 13 25 22 20 23 14 20 52 95 24 35 70 87 40 47 40 41 46 40-724 0 33-24 25-20 20-20 17-21 27-45 48-110 44-85 17-30 22-30 15-16 20-15 20-8z"/>
<path fill="#ff8eff" d="M3105 620l457 0-67 69-25 17-20 7-90 19-50 17-15 3-45-4-40 3-10-2-8-4-17-16-27-34-23-35-18-35zM3693 725l2-3 5-2 5 3 3 7 10 60 8 70 3 90-5 60-6 35-13 25-20 23-20 14-25 7-25-3-15-5-15-9-10-9-13-28 10-20 8-10 1-5-2-5-4-5-10-5 1-5 4-5 8-5 10-20 2-10 7-10 5-15 8-8 28-37 16-25 16-35 13-40 9-65zM4015 735l15 5 9 10 1 15 4 15-1 10 3 15 8 30 11 27 15 29 53 74 15 30 4 20-4 15-8 11-15 6-10-1-15-6-25-20-20-25-12-20-11-25-16-45-6-35-6-15 1-10-6-15 2-10-4-10 0-10-2-5-5-3-5 9-5 1-7-27 2-12 5 1 4 6 0 10 6 8 5-7 0-6-6-15-6-5 2-5 14-10 11-4zM4778 755l7-1 5 1 4 5-4 4-10 1-5-2 0-5zM1830 920l0-2 60 55 40 30 10 9 5 10 14 43 5 40-5 45-4 20-16 50-2 45 2 65-3 25-6 27-25 83-13 55-13 70-9 75-4 80 3 75 7 70 15 70-61 0 0-1035zM2095 980l10-3 17 3 8 7 3 8-5 10-15 10-13 2-10 4-20-3-9-8-2-5 6-13 15-10 10-1zM3348 1560l12-3 15-1 25 4 25 12 25 21 29 37 58 95 39 50 54 75 50 59 54 51-661 0 47-39 31-36 23-40 54-125 47-89 15-23 20-23 15-13 20-11z"/>
<path fill="#ff96ff" d="M3109 620l447 0-61 63-25 19-20 7-85 19-55 18-15 3-45-3-40 2-15-5-20-18-24-30-22-35-19-37zM4004 740l11-3 10 2 9 6 3 5 3 40 3 15 7 30 12 30 13 26 49 69 17 30 4 15 1 10-3 10-8 11-10 4-10-1-15-5-10-6-14-13-11-14-20-31-11-25-9-28-21-87-3-30-3-10 2-15-3-10-6-10 0-5 9-8zM3697 750l3-4 9 24 8 60 5 70-1 50-6 54-7 36-10 20-18 22-10 8-15 7-15 3-15-1-25-8-15-7-18-24 1-5 17-20 2-5-1-10-6-9-3-1-1-5 9-7 6-8 20-45 12-20 19-25 26-50 10-25 8-25 3-30 6-18zM4783 755l3 0 4 6-10 1-3-2 3-3zM3975 775l0-4 4 4-4 2zM3980 785l0 2zM1830 925l0-3 55 51 45 33 8 9 17 45 4 20 3 25-6 45-20 70-2 45 2 60-3 30-7 30-24 80-14 55-13 70-9 75-5 80 2 75 8 70 13 70-54 0 0-1030zM2098 980l7-2 15 2 5 3 6 7 1 5-6 10-15 10-11 0-10 5-15-2-8-3-7-10 5-11 10-5 5-6 15 0zM3368 1580l22 2 20 8 20 13 20 20 20 26 53 81 36 45 40 65 21 30 37 45 45 45-599 0 22-19 20-20 17-21 13-20 10-21 20-54 35-80 25-50 25-42 15-18 20-18 20-12 20-5z"/>
<path d="M1868 620l22 75 25 70 26 60 29 55 20 30 20 21 10 5 10 4 29 1M3822 620l-17 33-20 48M4717 620l11 65 6 15 6 5 10 1 25-4 20 0 45 13 20 3 15-2 15-5 15-8 15-12 22-26 24-45M3949 696l3-31 8-45M4287 712l-12-4-30-1-15-4-40-15-40-21-15-4-15 3-10 7-15 20-10 22M4337 718l9 32 9 14 24 16 26 9 35 4 35-6 20-14 12-18 0-10-4-10-16-20-27-19-25-11-30-5-25 3-20 7-20 16M4149 740l6 2 2 3 0 5-2 4-5 3-10-2 0-7 5-7 4-1M5045 748l-20 8-5 5-4 9 4 10 15 10 25 4 20-2 18-7 9-10 0-10-3-5-9-6-25-8-15 0-10 2M4609 794l-6 31 0 15 5 20 7 15 10 13 15 10 15 4 15-3 15-9 10-15 5-15 2-30-2-11-14-29-17-15-11-3M4148 803l12-5 5 0 5 3 4 9-1 10-3 5M3262 817l-10 3-9 10 2 10 3 5 12 6 10-1 7-5 3-5 0-10M3125 824l-7 6-6 10 0 10 3 8 5 7 10 5 10 1 10-2 6-4 6-10 6-15-1-5-7-5-20-8-5-1-10 3M2990 825l-7-35-13-27-20-24-60-59-23-30-19-30M3795 840l10 28 10 20 14 12 21 13 15 3 10-1 10-4 15-11 13-15 12-25 10-5 5-13 2-27-1-10 4-7M4168 842l7 3 15 1 40 14 25 6 20-3 15-8 10-17 6-28-1-45-4-15-1-15M2550 902l1 8-2 10-9 11-10 3-10-1-13-8-4-10 0-7M2132 947l8 1 5-1 8-12 22-73 15-32 20-23 10-7 15-7 15-4 20 1 20 6 15 8 15 14 14 17 11 21 9 23M2240 950l2 5 4 5M2254 964l6 1M2415 970l3 8M2427 1042l10 13 0 10-7 7-11 3-4 12-12 8-1 10-2 5-6 5-9 2-10-2-9-5M2329 1119l-34 6-30 2-125-1-17 4-8 5-10 18-9 37-6 60 0 35 4 60 12 70 13 50 16 50 15 34 15 22 15 15 25 21 25 16 32 17 35 15 33 11 35 9 35 5 35 3 65-1 90-11 30-6 30-11 39-19 21-14 15-13 16-8 14-15 15-9 10-10 10-6 8-10 12-9 8-11 13-10 49-50 16-20 9-17 10-29 8-34 4-30 4-85-1-35-11-55-9-25-10-19-25-35-30-36-15-16-35-29-16-20-7-15-3-10 2-15 4-10 9-15 11-10 15-7 10 0 15 3 15 7 65 44 15 3 20-4 25-17 15-19 7-25 3-20 0-10-4-19M1853 620l26 80 27 70 28 60 30 55 26 36 20 19 15 6 29 0M3811 620l-11 24-16 45M4704 620l15 80 6 15 5 5 10 1 30-12 20-2 20 5 35 15 35 6 15-3 20-7 15-9 15-12 17-22 34-60M5307 620l2 35-2 60 5 20 13 16 75 56M3954 691l9-36 14-35M4285 705l-39-15-20-10-71-47-15-6-10-1-15 4-6 5-7 10-7 16-14 50M4332 723l4 42 5 15 4 6 10 8 10 5 15 3 55 5 55-4 21-13 20-30 0-10-6-14-25-34-25-23-15-10-15-6-25-4-15 1-15 4-25 12-15 12-10 10M5055 734l-15 5-28 6-7 5-14 15-4 10 1 5 5 10 12 12 16 8 44 6 30-6 15-4 10-6 11-10 5-10 0-10-7-10-10-10-14-7-20-3-15-6-15 0M3590 778l-10 5-10 9-6 8-2 10 3 2 5-1 10-6 10-10 6-10 0-5-6-2M4604 789l-9 6-1 5-2 35 4 35 14 42 15 33 10 10 10-1 15-12 35-48 11-24 4-20 1-35-6-20-5-12-7-8-8-4-22-4M4152 807l8-1 4 4 2 5 0 6M3125 815l-10 5-11 15-1 15 6 15 11 13 15 8 15 4 15-4 11-11 9-20 0-10-4-10-6-7-30-12-10-2-10 1M3247 815l-11 4M2994 821l-5-41-5-15-8-15-16-21-58-64-32-45M3233 820l-6 3M3224 825l-6 15 0 5 2 6 10 6 22 3 13 0 15-7 7-8 1-5-2-10M3792 853l1 5M4180 857l5 3 20 7 50 11 15 0 11-3 14-6 10-8 8-11 6-15 6-35-1-10-7-15-4-15-5-10-4-15M3795 873l5 34 9 18 21 21 10 8 15 6 10 0 10-2 15-8 15-12 10-12 17-26 5-20 8-21M2523 928l-7-3M2538 925l-6 3M2139 954l6 1 5-3 8-12 22-70 15-31 20-22 20-12 15-4 20 0 15 3 15 8 15 12 10 10 11 16 10 21M2236 954l1 3M2427 1048l2 7-1 5-8 4-3-1M2408 1072l0 8-3 3-8 0M2389 1091l3 4 1 5-3 6-10 4-8-2M2325 1115l-25 2-70 0-95-3-39 1-5 5-7 25-2 25-10 125-3 50 0 30 11 55 16 55 16 40 28 56 37 59 7 5 34 20 27 12 40 15 40 9 35 6 50 3 85-1 35-3 40-6 35-8 30-11 40-18 40-24 5-4 9-15 6-5 5-2 10 0 5-3 2-10 3-6 5-4 12 0 5-15 3-4 13-6 7-13 10-7 10-12 13-8 12-14 30-27 21-24 14-25 13-45 9-65 3-70-2-35-4-30-13-45-17-40-14-20-24-30-15-30-7-5-24-11-24-24-6-10-4-15 1-15 8-13 10-8 20-5 10 1 10 3 25 12 24 20 11 15 5 2 30-3 15-3 10-6 15-12 10-12 6-11 5-15 4-30 0-15-3-13M1838 620l28 80 29 70 29 60 32 55 29 41 20 20 15 6 29-1M3800 620l-20 65M4071 620l5 15 3 20 0 25-2 27M4692 620l11 45 8 55 4 12 5 3 15-1 26-15M5220 620l3 30-1 15-5 20-12 30-25 40-25-17-25-9-40-5-25-6-40 3-15-3-10-6-4-7 0-5 4-20 14-30 21-30M3959 690l6-20 10-20 10-15 14-15M4285 700l-52-35-48-45M4806 716l29 17 50 23 15 0 30-7 15 2 5 4 2 5 7 30 14 20 13 10 19 10 30 7 30 3 20-1 25-4 20-7 15-9 16-14 11-15 3-11 5-6 10 17 15 10 80 14 13 6 52 46 50 53M4328 725l-3 17-5 6-5-1-7-15M3595 770l-5 0-10 4-20 18-5 8-3 10 3 9 5 3 10-2 15-10 10-10 8-10 2-10-1-5-9-5M4600 783l-5-3-8-15-6-5-11-3-15 2-30-48-25-34-20-20-25-15-15-4-15-1-15 3-15 5-15 7-15 11-15 15-12 15M4535 790l2 5-2 3-3-3 3-5M4507 802l13 2 10-3 7 24 14 20 7 20 7 7 15 8 10 50 15 43 12 22 7 5 6 0 15-9 21-26 39-74 8-21 3-15 3-40-4-28-6-22-4-5-5-3-35 5M3153 813l-23-6-17 3-13 12-4 8-1 10 3 20 12 21 10 10 10 7 20 7 15 0 15-6 12-9 13-16 60-7 15-5 9-7 7-10 1-5-5-10M4154 811l6 4 1 5M4572 815l3-4 1 4-1 17-3-2 0-15M2998 817l-1-42-4-15-7-15-16-23-51-62-29-40M3318 822l7 3 6-5 0-6M3214 831l-4 6-10 5-11-7M4146 831l0-2M4185 867l20 12 25 7 25 4 20-2 20-5 15-8 35-35 28-15 22-4 60-2 31-10M3795 916l5 14 15 23 20 22 20 12 10 1 10-1 10-4 15-10 10-10 10-13 21-45 2-20 5-12M2150 961l5-3 10-18 17-55 14-30 19-25 20-14 15-4 15-1 15 2 15 6 15 10 10 10 10 13 11 18M2423 1050l0 5-4 4M2386 1094l-1 7-5 2-7 0M2331 1109l-31 1-35-3-45 1-115-5-25 1-5 2-2 4-9 115-16 115 0 25-3 25 40 125 55 130 10 19 10 14 15 16 10 7 55 22 65 13 55 4 100 0 45-2 55-9 55-16 30-14 45-28 25-19 25-30 5-3 10 1 5-2 3-3 7-15 10 3 7-3 4-5 2-5-3-11 5-1 15 3 12-6 8-10 17-15 3-10 0-15 3-5 37-33 22-27 9-15 8-20 7-30 10-75 2-75-7-65-12-40-15-40-12-20-23-25-7-10-4-15 3-15-16-1-25-9-10-6-15-15-6-9-4-15-1-10 5-10 6-7 20-6 10 0 25 10 15 10 15 15 10 24 5 3 20-9 35-5 10-7 20-18 12-20 4-15 4-35 0-15-3-12M2346 1109l-2 0M3791 620l-15 61M4403 620l-18 10-20 16-15 18-16 26M4679 620l10 30 6 25 4 25 0 20-2 10-4 10-13 10-15 6M1830 640l29 75 30 65 31 60 34 55 31 42 20 19 15 4 24-4M5095 645l15-1 12 6 3 5 1 10-6 10-10 6-15 2-15-3-7-5-2-5 3-10 10-10 11-5M3966 685l14-27 15-17 20-11 10-2 10 1 15 6 12 15 8 23 2 29M4289 696l-44-41-28-35M4323 723l-3 6-5 2-5-5M4820 730l10 9 15 8 8 8 4 10 0 15 3 11 10 14 15 10 20-1 10 1 80 27 40 10 63 8 112 7 30 7 30 11 25 17 26 28 30 40 49 73M4585 755l-20-12-9-8-56-87-15-16-17-12M3590 764l-10 4-11 7-19 20-6 15 1 10 3 5 12 4 10-2 20-13 17-19 5-15-3-10-9-6-10 0M4600 776l-2-3M3145 805l-20-5-20 1-15 4-5 5 0 5 3 40 6 15 8 15 8 10 12 10 13 7 15 4 20 0 18-6 21-10 31-20 10-4 20-1 20-10 12-10 8-10 1-5-3-5-11-7M4508 807l12 8 21 55 19 34 25 83 10 25 5 8 10 10 5 2 10-1 10-4 10-8 15-19 15-27 30-63 8-20 9-35 4-40-3-60 7-9 15-7 5-5M3003 818l3-43-2-15-6-15-18-30-47-60-25-35M4145 820l5-3 5 2 1 5M3313 825l2 5 5 4 10-4 6-10 0-5-2-4M4148 833l2-3-2-3M3009 844l-4-12M4185 873l20 20 15 7 30 3 30-4 20-5 20-8 70-40 15-5 55-11 10-5 15-11M2358 910l17 20 20 32M3792 928l13 30 11 17 13 15 16 12 10 5 15 3 10-1 10-4 15-11 10-10 10-14 10-21 10-32 5-22-1-10 3-8M2815 935l15-2 10 2 20 8 16 12 9 10 6 15 1 10-7 14-5 3-15 2-15-3-20-8-16-13-11-15-3-15 0-5 5-9 10-6M2227 952l1 8M2168 970l-5-10 9-20 13-41 10-24 15-26 10-10 12-9 13-6 15-3 15 1 15 5 15 8 10 9 10 11 12 18M2399 969l6 12M2159 974l1 1M2408 988l2 4M2417 1047l-3 7M2381 1091l-2 4-4 2-9-1M2358 1097l-13 6-10 1-65-6-55 1-80-6-55 0-15 4-6 8-4 30-2 70-16 110 4 50-3 20 0 15 27 110 53 150 11 25 11 19 15 19 15 15 20 16 20 11 20 7 20 5 30 3 45-1 190-8 105-31 45-29 30-22 25-23 25-31 5-3 20-5 20-13 41-34 26-30 10-25 33-35 20-26 11-19 7-20 6-25 11-75 2-65-5-75-13-50-14-40-15-25-30-29-3-11 3-9 5-6 15-3 4-2 10-15 6-5 10-3 25-2 10-3 21-17 14-15 8-15 4-15 3-50-5-24M3783 620l-11 57M4367 620l-22 31-16 40M4666 620l9 20 9 25 5 20 1 20-1 15-5 15-10 10-9 6M1830 676l31 69 30 60 32 55 34 50 33 44 15 13 10 2 22-6M3971 685l9-15 15-16 15-8 10-2 10 0 15 7 10 11 8 18 4 20M4295 695l-31-40-21-35M4320 715l-5 6-5-5M4825 743l13 7 4 5 2 10-3 20 9 23 10 14 15 11 65 10 110 26 135 23 30 9 25 14 20 19 17 26 38 70 30 68 14 27 18 25 23 26M4585 748l-16-13-16-20-44-95M3585 759l-25 17-20 24-3 10 0 10 3 8 5 4 15 3 15-3 24-17 15-20 4-10 1-10-2-10-5-5-7-3-20 2M4732 768l0-13 3-4 8-4M3140 798l-15-4-20-3-10 0-11 4-5 5-4 10 2 35 8 30 8 15 7 10 12 10 13 8 15 6 15 1 20-2 20-5 35-16 10-12 10-6 10 0 10 7 5-2 30-21 15-13 19-30 2-10-4-7M4503 812l2-1 6 4 3 20 9 35 27 83 17 67 10 30 7 15 11 14 5 4 10 2 10-4 15-11 15-17 12-18 15-30 33-85 19-60 3-40 0-48M4183 877l17 26 15 12 10 2 25-1 50-7 35-9 70-32 40-16 30-17 13-17M3955 886l0-2M2352 910l8 20 25 29 15 25 10 26 2 18M2247 918l-5 2M2818 940l12-1 15 3 25 15 15 20 1 8-1 10-10 7-15 0-15-3-23-14-12-14-4-11 0-10 3-5 9-5M3790 940l5 18 10 24 10 14 20 17 13 7 17 5 15-1 15-5 14-9 11-11 10-14 10-20 5-17 8-40M2225 945l-5 10 1 5M2179 965l0-15 3-15 8-28 9-22 16-27 10-10 10-8 11-5 14-3 10 0 15 2 15 7 10 8 10 9 14 18M2411 1041l-1 9M2376 1086l-6 4-30 6-35-2-40-5-80 0-60-7-70 1-10 2-2 5-3 40 0 60-13 110 1 25 4 22M4590 1104l-20 10-20 19-15 27-9 30-4 40 3 34 5 14 5 8 5 5 10 4 10 1 10-4 10-7 13-15 12-29 21-71 1-25-7-24-5-8-10-9-5-1-10 1M2034 1356l1 9-4 25 0 15 12 75 17 68 40 132 20 43 25 37 30 31 15 11 20 12 20 8 15 3 60-1 145-14 65-11 60-17 40-15 30-15 25-15 51-37 29-25 40-39 54-56 25-30 41-54 21-31 14-30 8-30 10-70 3-40 1-65-6-60-11-50-17-40-13-20-15-18-5-3-10-4-4-5 1-5 18-3 7-7 8-15 5-4 30-2 15-7 27-22 16-20 6-20 1-60-3-15-7-20-3-15 8-30 2-15-4-20-13-25-75-105M3766 620l-3 55M4628 620l12 10 15 18 10 17 7 20 3 20-2 15-6 15-8 9M3982 687l13-14 10-5 10-3 10 0 10 4 10 8 11 18M4309 690l1-3 5 7 0 6-5-2-1-8M1830 731l29 54 30 50 34 50 52 70 13 20 7 21 5 8 7 6 3 25 7 10 1 5-2 15 2 85-9 120 4 40 8 30M3600 739l-20 9-15 10-30 27-13 15-3 10 2 10 5 10 9 9 10 5 25 5 15-1 15-12 20-25 9-16 6-15 5-17 1-13-6-10-10-4-10 0-15 3M4587 738l-16-28-6-15-4-20 0-30 4-15 6-10M4830 763l1 3M3140 788l-35-13-40-8-15-9-94-138M4829 801l-1 9-3 5-14 20-11 8-10 4-10-1-15-7-8-9-13-21M3440 812l-2 3 2 6 4-1 1-5-5-3M4169 874l17 31 13 19M2277 910l-7-3-15-3-20 2-6 4-4 5-7 15-3 3-5 0-3-3 0-5 2-10 16-30 11-15 14-11 20-6 20 3 20 10 17 17M3269 906l11-1 25-14 35-31 11-20 5-20-2-10-10-9M2341 910l1 15-4 10-9 15-1 5 3 5 4 2 25 5 10 3 10 8 7 9M4200 925l10 10 15 3 15-2 40 0 50-6 35 0 25 3 15 5 16 12 9 10 10 20 6 20 2 25-1 25-5 30-22 67-40 98-33 105-7 40 2 35 4 15 7 15 8 10 14 12 15 9 20 8 40 11 35 4 60-1 45-4 30-7 27-12 23-15 19-20 44-60 8-15 5-20 3-35 1-45-6-115-2-90 4-40 9-35 15-32 30-34 10-7 20-9 40-9 50-5 35 0 60 4 35 5 46 12 29 12 25 14 20 15 15 15 13 19 9 20 9 30 5 25 2 20-5 60 7 15 45 80 30 42 20 23 25 24 55 42M2300 958l3-3 0-5-3-3M2192 962l8-2M3785 972l4 33 6 11 30 18 20 8 25 3 20-2 15-5 14-8 11-9 8-11 16-40 6-35M2390 991l5 9M2395 1000l3 8M2400 1018l-1 22-18 25-11 9-10 5-15 4-13 0M2143 1068l-13-3-30 2-30-3-20-6-14-8-5-5 0-5-7-10-2-10 2-30 4-10 7-6M2163 1073l-12-3M2253 1075l-38 1-38-1M2282 1077l-14-2M2301 1081l-6-1M2025 1360l-9 55 4 70 7 50 13 68 23 97 21 60 26 48 30 43 40 41 35 28 35 19 30 9 30 1 20-4 20-6 30-12 40-20 40-12 45-18 75-20 40-17 65-40 48-35 49-45 18-20 15-20 32-55 18-25 40-47 15-21 20-32 18-35 14-40 10-60 4-50 2-80-1-45-7-55-7-35-16-50 0-15 8-15 17-20 27-20 10-10 11-15 5-10 3-20-6-40 1-25-3-35 3-5 7-2 5 2 5 5 10 25 3 25 22 41 10 10 18 9 17 4 20 1 45-8 41-17 6-5 8-13 5-2M3759 620l0 55M3985 690l15-12 10-4 10-1 15 5 10 9 6 8M4591 734l-8-14-7-20-2-20 1-15 5-14 9-11 11-5 10-1 15 5 15 10 13 16 8 15 6 20 0 15-4 15-7 11M1830 753l30 52 29 45 83 110 11 20 5 18M3646 764l3-19-4-8-5-5-15-6-20 2-20 9-20 13-50 45-6 10-1 15 2 5 15 15 10 6 28 9 17 10 5-1 5-3 10-11 30-44M3642 778l3-9M3140 783l-25-12-41-16-19-13-25-32-59-90M3639 786l1-3M3631 804l4-8M4822 808l-2 4M4814 820l-9 10-15 7-15-2-14-10M4158 870l9 10 21 37M3048 895l2-4 5 0 10 9 1 10-1 14-5 1-5-7-6-13-1-10M2285 910l-10-9-18-11-3-5 1-5 3-5 6-5 16-4 15 2 15 7 15 14M3265 910l5 2 10-1 25-10 10-7 15-16 45-24 5-1 5 3 15 14 10 0 29-15 36-15 1-5-3-10-16-20-12-8-5-1-10 4-30 33-10 6-5 1-5-3-20-32-6-5-9-4M2336 910l1 10-4 10-13 14-10 1-11-5-4-3M4200 933l10 9 15 6 75 6 37 11 22 15 14 15 12 20 6 20 2 15 0 20-2 15-5 15-26 50-72 125-33 80-6 20-4 30 0 30 4 20 7 20 14 25 15 19 15 14 18 12 22 12 25 9 25 7 55 7 105 2 35-2 30-4 55-14 55-24 23-13 27-19 41-36 19-25 11-25 8-30 1-30-4-30-10-40-11-25-23-40-11-35-9-60-5-60 0-25 4-30 4-15 8-20 11-15 16-15 20-12 23-8 52-8 30-1 45 3 30 4 25 5 25 9 25 13 15 10 20 20 20 30 12 35 18 100 11 40-1 55 2 20 5 20 12 25 15 25 15 20 39 40 52 38 65 38M2300 965l15-4 30 9M2351 971l14 4 10 5M3782 1003l3 17 25 20 25 10 20 4 20 1 20-3 15-5 13-7 12-10 8-10 15-30 4-15 2-21M1990 1006l3 7M1995 1017l5 13M2000 1030l7 20 2 14M2091 1061l-21-3-15-4-13-9-7-10M2373 1065l-8 6-11 5M2010 1073l0 2M2011 1164l-1 13M2008 1207l-4 43 0 30 6 40 7 23M2020 1350l0 3M2020 1355l-11 65-1 35 3 45 7 60 12 78 10 52 13 45 12 36 15 34 16 30 19 30 20 27 25 28 25 22 25 18M2402 1960l113-58 65-25 40-17 63-35 37-25 25-20 40-38 25-27 20-26 59-89 31-41 20-29 29-55 14-40 8-35 7-55 3-95 0-40-4-55-6-55-10-50 1-15 6-15 11-15 25-20 15-15 14-20 12-24 1 4 6 5 8 5 15 5 25 3 30-1 45-10 40-15 10-7 10-15 1 1M3751 620l3 55M3991 691l14-9 15-2 15 6 10 9M4594 731l-8-26 1-25 3-10 9-10 6-4 10-1 15 4 10 7 10 12 5 10 4 12 1 15-2 10-6 12M3655 745l-5-13-8-7-9-5-18-3-20 6-15 8-20 15-49 44-16 19-5 3-5 1-10-4-20-15-10-4-15 2-25 17-10 3-10-1-25-15-12-4M1830 773l50 77 29 40 53 65 17 29M3142 778l-62-33-20-15-30-38-46-72M4804 824l-9 5-10 2-10-2-7-4M3624 826l1-2M3615 840l5-8M4150 870l14 15 10 19M4182 918l3 3M2296 921l-14-31 1-5 7-5 10 0 15 7 10 10 5 9 2 9-2 8-4 7-6 5-5 2-10-1-5-4-2-5M4205 945l15 10 53 15 12 6 13 9 16 15 14 20 9 20 4 20 1 20-4 20-10 25-16 30-28 40-54 60-15 25-9 30-6 50 0 50 3 40 10 50 12 35 15 27 20 25 25 22 30 18 20 9 30 8 35 6 55 4 70-3 110-13 70-14 60-15 40-14 125-52 40-15 125-36 45-8 40 2 45 10 65 22 110 42M4931 955l29-5 30 2 25 7 25 13 25 20 18 23 14 25 7 25 6 35 0 20-8 45-10 25-17 25-24 25-26 16-30 11-30 3-25-3-30-10-25-16-20-19-17-22-12-25-9-30-4-35 2-25 7-30 13-30 20-29 20-18 25-15 21-8M3970 960l0-5M2295 973l5-2 15-1 17 3M2357 977l14 7M3780 1024l6 11 1 10 3 5 65 14 25 1 20-3 25-10 20-17 10-15 10-20 5-25M2086 1056l-16-3-15-5-13-10M2368 1063l-16 9M1999 1256l0 24 3 22M2003 1312l12 43-11 50-3 25-2 40 2 50 12 110 16 90 21 71 14 34 16 32 35 55 20 25 23 23M2466 1960l59-37 68-38 47-20 48-25 42-29 32-26 38-37 36-43 95-135 23-35 24-45 15-35 10-35 8-45 5-55 2-100-7-170 4-20 6-10 9-10 33-30 17-10 65-14 50-14 40-13 20-12 20 1 10-2 33-11 22-17 10-1 10 3 25 15 15 6 15 2 15-3 18-10 17-22 20-7 20-17 10-4 35 6 7 4 4 5 1 10-17 32-6 18 0 10 1 4 5 1 10-7 15-18 16-30 29-45M3743 620l7 55M3994 694l11-6 15-2 10 4 11 9M4599 730l-4-20 3-20 7-12 5-3 10-2 15 6 13 16 5 20-1 10-4 10M3655 730l-10-11-15-8-15-2-20 5-15 8-15 11-70 65-10 4-10-2-20-13-10-3-16 1-24 13-10 2-10-1-24-9-11-2M3145 775l-56-35-24-20-27-35-41-65M1830 791l51 74 74 89 14 21M4801 821l-16 5-12-4M4126 841l7 12M3601 874l4-7M3593 887l7-11M4160 888l3 5M2298 895l7-3 5 1 11 7 4 8 1 7-1 5-5 7-5 3-5 0-7-5-7-20 2-10M3586 899l4-6M3579 911l1-2M4210 957l15 9 30 12 14 7 13 10 17 20 12 20 6 20 1 15-3 25-8 30-12 25-19 30-21 26-25 25-25 21-20 12-40 16-9 10-8 15-5 35-3 30 1 30 5 45 10 50 10 30 27 60 17 32 16 23 21 20 23 16 40 21 35 8 50 0 145 19 55 2 105-11 85-14 90-22 103-29 87-18 80-20 45-7 50-1 50 5 60 12 70 20M2295 979l20-3 15 1M2358 982l12 6M2235 990l15 9 5 1 8-2M4936 1005l14-3 20-1 15 2 10 3 15 9 13 10 9 10 8 15 5 15 1 15-2 15-4 12-10 17-10 10-25 15-15 5-20 1-15-1-15-5-25-15-10-11-10-18-4-15-1-15 3-15 5-15 7-11 14-14 11-8 16-7M2380 1044l-2 3M2088 1052l-28-7-9-5-6-7M2366 1059l-11 7-20 4M3787 1057l38 15 20 5 35 2 25-3 20-8 23-18 14-20 9-24M1994 1259l0 21 3 23M1999 1314l10 41-12 50-4 30-3 40 0 45 7 100 12 90 16 70 25 68 30 58 19 29 19 25M2510 1960l90-65 55-22 30-14 25-15 35-25 35-29 45-46 47-59 60-85 35-55 30-55 11-25 11-30 8-30 7-40 4-30 12-210 6-50 5-25 6-15 12-20 13-15 18-15 28-15 52-20 70-23 20-2 25-5 30-2 10 1 35 11 23 5 17 2 15-2 15-7 20-14 26-24 14-17 10-6 10-3 19 1 1 5-25 65 2 15 3 5 5 3 5-1 10-7 10-12M3734 620l12 59M3997 697l8-3 10-2 10 2 11 6M3655 722l-10-11-15-9-15-2-20 5-15 7-15 12-65 62-10 7-5 2-10-3-20-11-15-3-15 2-30 11-45-8M4607 737l-3-17 1-15 5-9 5-4 10-1 10 5 9 14 1 15-6 15M3148 772l-51-37-27-24-27-36-33-55M1830 808l49 67 71 81 14 19M4797 817l-12 4-9-2M2307 905l3-2 5 2 4 5 0 5-4 6-5-1-4-5-1-5 2-5M4218 968l37 21 14 11 17 20 10 20 5 25-2 30-8 30-14 30-16 25-21 24-20 18-20 14-20 10-45 16-55 29-15 4-25-2-9 2-3 5 0 5 3 10 4 50 8 50 21 85 18 50 24 45 35 50 24 27 50 48 10 4 15 1 80-6 30 8 50 8 75 22 60 11 35 1 50-4 110 10 30 1 95-7 130-21 10-3 50-28 30-12 45-12 50-8 50-1 55 4 60 11 65 18M2222 985l13 12 10 6 10 2 13-5M2286 989l19-6 27-1M2352 985l13 6 10 9M2273 997l11-7M2375 1000l5 9M2382 1017l1 8-3 10-11 15-19 12-20 3M2067 1042l-12-6-15-18M2128 1047l-28 1-20-3M2142 1050l-9-2M2253 1057l-75 1M2284 1060l-27-3M2308 1065l-10-2M3787 1063l33 39 25 21 10 5 10 3 30-2 10-4 14-20 41-41 12-24 5-28M1990 1255l0 30 12 70-16 75-6 65 1 100 9 101 15 79 20 68 27 62 33 55M2545 1960l60-50 20-10 70-27 28-13 32-22 45-36 38-37 54-65 60-80 27-40 25-45 19-40 14-35 13-40 14-65 10-140 23-140 7-25 10-25 13-20 13-15 20-15 30-15 30-10 75-17 20-1 20 2 50 15 20 4 15 1 15-2 15-6 20-14 10-9 32-38 8-5 5-1 5 2 3 4 0 10-18 40 0 10 3 15 7 12 5 2 10-5 10-11M3714 620l8 25 16 42M4004 704l11-1 14 3M3659 711l-9-14-15-12-15-4-15 1-20 8-22 15-73 74-10 0-25-11-15-2-15 0-30 8-35-2-16 2M3161 770l-52-45-24-25-25-35-27-45M4790 810l-10 0M1830 838l51 62 73 76M4121 860l4 5M4217 978l32 32 10 15 7 15 3 30-5 40-4 15-10 21-15 22-15 16-15 12-15 9-35 9-30 3-25-3-20-8-14-11-43-70-16-30-12-35-8-40M2303 995l17-3 15 0 15 4 13 9 6 10-1 10-8 14-10 8-20 5-20 0-15-3-35-12-15 0-8-2 6-5 12 2 5-3 17-19 14-10 12-5M2145 1005l0 2M3531 1005l9-15M2177 1010l5 0 2 15 6 10-3 5-17 2-9-2-8-5-1-5 7-10 18-10M2143 1012l-5 13-8 4-5 1M2125 1030l-17 7M3765 1036l3 11M3772 1057l13 58 12 45 23 55 18 35 7 40 15 49 55 167 29 69 41 75 64 95 27 25 32 20 22 9 20 6 45 5 40-3 70-16 30 0 35 8 90 32 55 14 180 27 55 5 60 0 60-8 55-16 90-36 30-6 45-3 75 2 75 9 75 16 85 26M1984 1224l-5 51 9 80-2 15-18 70-8 60-4 90 2 90 8 80 14 70 22 70 28 60M2612 1960l18-14 20-10 30-11 65-16 20-9 30-20 35-26 79-69 31-34 30-40 25-45 65-136 75-187 13-23 24-30 12-140 5-35 6-25 10-25 8-15 11-15 17-15 24-15 24-10 26-7 30-2 60 15 15 0 20-2 15-7 15-10 7-7 8-12 5-4 5 3 0 13 3 10 21 20 7 4M3701 620l8 20 26 51M3664 710l-9-19-10-12-15-7-20-1-20 6-25 15-20 19-50 53-10 6-5 0-30-10-15-1-40 7-40 1-15 3M4005 709l10-1 10 2M3172 775l-57-55-23-25-24-35-23-40M3310 790l-5 6-6-2M3205 795l-5 3-5-1-5-4M4795 803l-15 3M1830 852l51 58 69 70M4116 864l4 6M4212 980l23 30 11 25 3 15 1 20-3 30-12 31-10 16-11 13-11 10-13 8-15 6-15 3-20 1-20-6-25-15-30-26-30-34-18-27-17-33-8-29M2311 1000l19-2 8 2 11 5 7 10-1 10-10 11-15 5-15 1-15-5-8-7-2-5 1-10 10-10 10-5M3536 1006l4-5M3762 1048l4 12 19 115 22 85 3 35 2 75 5 45 19 85 19 60 20 45 25 45 23 35 45 60 22 26 25 24 20 15 25 16 25 11 30 10 25 6 30 3 50-1 90-12 40 1 35 9 95 29 50 12 120 21 80 9 65 2 60-6 60-12 110-35 35-5 35-1 70 5 75 13 76 20 84 28M1980 1220l-7 50 7 65 1 20-3 15-19 75-10 60-6 85 0 85 6 80 13 75 18 68 25 62M2666 1960l89-27 40-20 38-28 37-35 45-36 30-29 30-37 25-38 16-35 25-65 64-133 45-85 27-42 28-32 20-18 20-12 55-28 54-40 26-25 25-32 40-63 25-51 8-29 7-10 8-5 7-1 10 3 15 8M3685 620l8 20 27 36 13 21M3669 710l-9-31-10-14-15-7-20 0-25 7-25 16-21 19-44 47-15 10-10 1-25-5-20-1-40 7-40 3-23 8M4008 713l14 0M3322 773l-17 13-5 0-10-5M3211 784l-11 6-10-4-65-66-18-20-18-25-32-55M4795 798l-10 3-12-3M1830 865l50 55 70 67M4205 980l17 30 6 20 2 30-4 30-11 28-15 21-20 15-20 7-20 0-20-5-25-13-25-20-25-24-20-26-20-33-10-28M2317 1010l8-1 7 1 5 5 0 5-7 7-10 1-5-2-5-6 1-5 6-5M3539 1009l3-2M3993 1008l-3-7M3758 1048l3 52 20 165-2 35-12 75-3 50 2 85 3 30 6 29 16 46 13 25 13 20 29 35 54 55 45 54 35 32 40 27 40 19 45 14 35 7 40 3 40-1 85-6 45 2 45 8 135 34 90 17M1980 1192l-13 73 1 20 5 45 0 25-4 20-19 70-11 60-8 80-2 80 4 85 9 75 17 70 23 65M2763 1960l41-20 36-25 90-80 30-30 22-25 21-30 30-55 13-30 19-52 25-55 30-53 30-45 40-49 78-81 17-15 60-39 25-19 30-27 23-25 19-25 16-25 29-60 20-50 0-5-6-15 0-5 9-5 10 5 8-2M4924 1960l101-22 60-5 40 2 40 5 45 8 49 12M3658 620l-7 10-6 3-45 15-30 17-25 21-45 47-15 11-15 3-40-2-75 11-20 5-30 16-5 1-20-8M3674 710l1-33 5-9 5-2 10 1 10 6 10 10 15 19M3734 709l1 1M4007 718l13 0M3225 770l-25 11-5-1-10-7-50-53-25-30-20-30-22-40M4800 785l-5 6-10 4-10-2-5-4M1830 878l50 52 70 64M4124 880l1 5M4195 975l10 20 6 25 1 25-4 30-11 25-14 20-18 12-20 6-20-2-20-7-25-16-25-21-20-22-20-29-21-45M3539 1016l6-3 0-3M3752 1042l0 13-3 10 2 15-2 5-5 5 0 10-4 10 10 5 1 35-6 8-15-4-5 5-1 6 1 6 5 7 5 2 10 2 1 3-6 45 5 40 0 20-22 75-7 30-7 55-2 60 2 55 6 40 13 40 17 31 50 68 20 21 120 105 35 25 40 22 30 12 30 10 30 8 35 6 55 4 110 0 48 3M1980 1156l-5 37-14 72 5 65-1 25-4 20-21 75-11 55-9 75-5 80 2 85 7 75 15 75 20 65M2829 1960l41-30 90-80 24-25 44-55 25-40 48-90 15-30 21-50 34-70 29-43 23-22 32-24 55-38 75-46 16-12 17-15 23-25 19-28 20-37 30-80 10-20 1-30 9-25-1-15 5-10M3590 620l-40 34-55 55-20 13-15 4-45 5-55 11-60 20-50-7-15 1-30 7-10-2-10-7-39-44-32-45-24-45M3684 719l6-15 5-4 10 0 10 6 20 24 11 75 4 70-1 60-4 75-5 40-4 10-1 15-4 10-3 15-7 20-12 15-4 26-5 4-15 2-20 10-10 3-15 0-15-3-15-6-25-17-10-11-17-23-3-10 3-15 0-5-3-6-5-4-5-10 3-10 12-10 1-5-12-10 1-3 5-4 10-1 3-2 0-5-8-3-5-1-1-5M3999 731l11-3 15 1M4796 771l-6 5-10 1-5-1-5-5M4064 789l8 31 8 15 2 10 13 19 8 16 12 14 10 16 19 20 10 15 13 10 1 10 7 15 9 35-1 25-5 15-3 6-10 11-10 7-15 6-15 1-12-1-28-11-15-10-15-13-20-26-16-30-9-10-2-5-1-15-7-19M3670 797l2-4M3665 813l1-4M3660 821l2-3M3650 844l3-4 4-12M3640 865l3-8M3630 878l9-12M3625 889l4-8M1830 902l50 48 66 55 6 10 13 39 6 31 1 25-3 40-7 40-9 35-5 30-1 25 3 50-2 25-5 25-24 80-12 55-12 75-7 75-2 80 4 75 10 70 17 70M3615 904l6-10M3610 912l4-6M4000 940l-2-10-8-18M3565 983l2-5M3560 992l3-5M2956 1960l99-73 24-22 17-20 12-20 32-87 40-88 45-77 25-35 20-24 30-26 35-19 35-12 30-6 15-1 25 4 30 14 25 16 17 16 33 45 39 65 29 55 8 25 14 20 17 40 7 10 68 80 33 35 50 44 56 41M3569 620l-69 69-25 19-20 8-95 19-50 17-15 2-45-5-45 5-15-7-22-22-27-35-22-35-18-35M3695 715l5-1 5 1 5 4 4 6 4 15 12 90 0 15 3 10 3 50 0 45-7 80-3 20-9 25-12 23-20 17-10 6-25 7-25 0-15-5-15-7-20-15-5-8-11-28-1-5 9-15-1-10 9-5 2-5-2-5-13-10 1-5 2-6 8-9 10-30 9-10 3-10 11-10 26-35 28-46 19-54 10-70 6-10M3980 751l14-11 11-5 15-2 10 5M4042 762l2 8 7 15-3 5 2 15 5 20 12 30 16 30 56 80 17 35 3 15-1 10-6 15-7 7-10 5-10 2-15-2-20-11-27-26-19-30-18-35-2-10-6-10-3-16-10-4-3-5-1-5 4-4 3-6-3-2-5 7-10-15-2-15 1-20-7-15-2-17M4795 763l-5 4-16-1M3977 802l-2-4M1830 914l55 51 57 45 5 10 13 40 4 20 2 20-4 50-6 25-14 45-3 45 3 60-3 30-5 25-26 85-13 55-12 70-8 75-4 80 3 75 8 70 15 70M3042 1960l35-25 28-24 20-21 19-25 21-37 43-98 45-90 20-35 17-24 20-22 20-15 20-8 25-4 25 2 20 7 21 14 24 22 29 38 52 95 24 35 70 87 40 47 40 41 46 40M3550 620l-55 58-15 13-15 9-20 7-85 20-50 17-20 3-35-3-45 1-15-6-20-18-24-31-21-35-17-35M4015 740l10 2 10 8 1 40 9 30 2 15 23 55 12 20 38 51 16 29 4 15 0 11-5 10-10 7-10 0-15-5-20-16-15-18-15-24-14-30-22-80-1-15-5-15-6-40 2-15-7-20 0-5 5-5 13-5M3696 775l4-4 4 19 6 31 4 44 0 65-3 30-6 45-12 40-12 20-11 10-10 6-15 4-10 0-15-6-15-14-5-1-13 1-7-5 2-5 13-7 1-3-2-35 2-5 55-115 12-20 18-40 12-35 3-20M1830 926l55 51 50 39 5 9 12 35 7 45-6 45-18 57-2 13-2 45 2 60-3 30-7 30-26 85-14 55-13 70-9 70-4 80 1 75 7 70 13 70M2092 985l3 3 1-3M2074 991l1 4 3-8M2115 994l-4 1 4 3 0-4M2107 1013l-5-3 2-10-4-4-5-3-3 7 1 15M3133 1960l34-35 24-35 13-30 11-40 35-83 20-42 24-40 16-20 20-17 20-9 20-3 20 3 15 6 20 15 20 20 61 85 39 45 34 65 26 41 30 38 35 36M3532 620l-42 46-16 14-17 10-22 8-75 21-50 17-20 3-75-3-10-3-10-6-17-17-19-25-18-30-17-35M4020 815l5-4 5 9 0 5-5 3-5-7 0-6M4037 870l3-2 6 7 4 14 2 16 38 45 26 40 5 15-3 5-3 2-9-2-6-5-25-31-10-16-10-23-7-30-13-21-1-9 3-5M3678 880l7-2 5 3 2 4 3 15-2 20-17 75-6 18-10 15-5 4-10 1-10-8-4-10 3-30 6-18 15-27 3-40 7-10 13-10M1830 938l65 62 26 20 9 9 11 26 10 40 2 15-10 45-14 40-5 20-2 35 2 70-4 35-48 170-14 70-10 70-6 80 0 75 5 70 12 70M2070 1005l0 2 0-2M3233 1960l47-42 30-16 20-7 25-4 85-8 25 3 25 10 25 19 47 45M3515 620l-37 40-18 14-15 8-25 10-105 33-20 5-15 0-55-3-15-4-10-5-15-14-18-24-17-30-14-30M1830 951l34 34 19 25 5 15-8 25 5 9 5 6 10 10 14 10 4 5-7 15 0 5 4 2 5-2 2-5-1-10 4-6 5 1 5 4 5 5 5 11-8 20-5 25-12 35-5 25-2 25 1 80-4 35-7 30-31 100-16 60-16 80-10 79M1830 1893l10 67M3497 620l-18 20-16 15-14 10-19 10-115 41-20 4-20 2-30-2-20-3-10-4-13-8-12-11-15-21-15-26-12-27M1830 964l24 26 14 20 4 15 0 25 2 10 6 11 15 19 3 5 3 20 4 8 14 17 2 10-1 10-11 35-4 20-1 100-4 40-9 35-39 125-22 95" fill="none" stroke="#000" stroke-width="3.8" stroke-opacity="0.7"/>
<path d="M3774 620l-8 86M4341 620l-12 35-8 45-1 5-5 6-5-2-7-9-23-50-12-30M4650 620l13 20 10 20 7 25 3 20-2 15-7 15-9 10-15 10M1830 705l34 70 37 65 34 50 65 88 5 3 10 0 25-14 26-8M3965 710l10-22 15-19 15-10 10-3 10 0 15 5 13 14 8 20 4 25M4776 725l9-1 11 1M4765 730l1-1M4802 727l8 5 15 18 10 8 1 7-3 20 4 20 0 25 2 5 10 15 11 8 15 4 35-4 29 2 71 19 85 14 55 12 32 10 13 6 12 9 12 15 9 15 18 50 18 35 8 30 7 60 10 25 17 25 29 34 30 30 35 31M3595 750l-15 5-15 10-30 30-5 10-1 10 2 10 8 10 21 6 10 0 10-3 20-14 19-24 5-10 6-20-1-15-5-5-9-2-20 2M4614 776l-4-1-5-5-8-15-23-25-13-20-14-40-6-25-2-25M3260 799l-10 0-15 4M3170 809l-35-18-35-9-15 0-10 3-7 5-3 10 1 40 4 25 5 15 10 18 15 16 15 10 20 7 20 2 40-7 35-15 10-6 4-10 6-5 5 0 5 2 5 8 5 1 6-1 29-18 24-22 15-30 3-10-1-10-4-5-9-3M3205 825l-5 1-5-1M4494 825l6 0-5 8-1-8M4144 841l4 6M4151 854l4 4 13 7 14 20 13 24 13 16 7 4 85-5 30-4 85-29 25-5 10 2 14 7 11 12 12 23 10 35 3 25-2 45-7 50-25 90-20 90-7 45-1 30 5 20 7 17 10 15 15 14 15 9 20 6 20 1 20-2 25-8 20-12 25-25 15-25 12-35 11-45 9-65 25-125 16-40 34-60 12-25 8-25 1-15-3-21-15 19-5 2-3-5 3-25 7-15 3-10-12-55 1-20-2-25 2-5 11-7M2523 905l2-2 6 2-1 3-5 1-2-4M2287 932l-5-12-7-6-20-2-15 3-7 5-8 17-14 13 0 5 8 10M3784 931l11 60 7 14 28 19 13 6 17 5 20 0 15-4 15-7 15-14 10-14 10-22 6-19 6-35 1-17M2817 950l8-2 15 2 20 10 15 17 2 8-1 5-6 4-5 0-20-4-8-5-12-10-10-14-1-6 3-5M2294 959l3-4 0-5-3-4M2180 970l8-15 4-25 8-25 10-21 13-19 12-11 16-9 19-3 15 2 15 7 10 7 15 15 8 12 11 20 5 15-4 30 5 5 15 3 10 5 15 17 9 15 6 20 0 25-1 5-14 19-15 15-10 5-25 5-35-2-40-6-50 1-35-1-20-2-30-7-40 2-45-8-10 2-5 3-3 4-2 15 1 55-2 40-6 95 2 35 9 45-5 40 2 40 13 85 26 110 17 60 19 45 14 26 20 30 20 24 25 23 25 19 25 14 25 11 25 6 10 1 10-3 20-11 75-28 15-1 35 0 25-3 95-20 35-12 29-16 76-48 45-35 29-27 16-20 43-65 27-33 26-27 24-33 29-47 14-35 7-35 10-70 2-85-1-45-7-50-6-30-12-30-21-45-3-15 3-14 20-2 15-8 40-31 10-12 8-13 5-20-3-35 0-30-11-45 6-13 11-17 2-10-5-20-15-30-72-105M2221 966l5 3M2246 979l9 3 7 0M3725 620l7 30 17 56M4619 710l6-1 5 2 5 7 1 7-1 10-5 10-5 5-5 2-5-5-3-17 3-15 4-5M3982 717l8-9 10-7 15-4 10 2 10 6 13 17M3665 733l-10-19-15-15-15-7-20 0-20 8-20 14-67 66-8 6-10 1-25-12-20-3-10 1-30 9-35-4-15 0-15 5-12 9M4813 788l-3 10-5 8-5 5-10 4-10 0-10-4-7-6-5-8M3289 795l-19-12-15-3-20 3-19 12M3205 805l-5 3-10-4-35-33-68-56-29-35-36-60M1830 824l48 61 67 74 15 18 15 28 19 65 3 25 0 45-13 135 11 80-2 15-15 60-8 60-2 80 3 90 10 85 17 80 25 70 16 35 17 30M3636 829l4-9M4109 834l13 16 5 10 14 20 10 10 16 25 4 10 10 10M3627 843l8-12M3611 874l3-9 11-16M3602 888l8-12M3519 895l4 0-3 7-5 4 0-6 4-5M3597 898l3-7M3561 949l4-5M4193 947l13 18 53 40 15 20 8 15 3 25-2 35-8 30-10 21-20 29-13 15-12 11-20 14-25 10-120 36-20 3-10 5-15 13-15 3-11 5-9 10-5 10-6 35 0 35 4 35 15 60 17 44 31 61 39 65 53 75 16 15 16 10 24 10 20 5 16 2 30-3 60-16 20 0 65 17 80 29 45 10 40 5 70 4 95 13 40 3 60-1 55-8 60-17 70-29 75-16 60-7 60 0 65 6 65 13 70 20M3979 951l-2-6 1-2M3979 971l0-7M3768 992l-1 28 6 20 0 10 6 10 31 84 15 24 15 14 15 7 15 1 30-3 20-9 21-18 18-25 15-35 8-35 1-35-3-35M2148 997l7 7 5-1 23-13 12-5 10-2 5 1 5 4 20 18 10 5 10 1 10-3 21-14 14-6 25-3 25 4 12 5 10 10 4 10-1 15-10 15-10 8-10 4-15 3-20 0-45-9-90 1-50-12-25 3-25-4-10-3-10-7-8-9-4-12M2043 1002l0-7 7-9M2577 1960l33-29 20-12 35-13 65-19 15-7 85-60 33-30 47-50 20-26 65-96 18-33 27-55 20-53 20-62 17-65 5-40 8-90 20-80 9-65 6-20 7-15 10-15 13-16 20-17 25-14 75-23 20-4 20 0 60 19 25 2 20-3 15-7 45-34 12 52 8 12 5 2 15-15 20-28M3619 620l-39 24-20 15-60 60-20 14-15 3-40 2-65 10-20 6-40 16-30-8-20-2-15 2-35 10-10-4-10-9-52-59-24-35-25-45M3678 728l1-18 4-15 7-8 5-2 10 2 10 7 15 18 12 18 7 45 4 45 3 50-1 65-8 115-5 15 0 10-11 35 1 5 5 10-1 15-2-5-4-2-5 0-5 2-4 10 2 20-3 12-5 6-12 7-10 10-50 60-16 30-10 35-2 30 5 40 32 140 16 55 26 60 41 78 17 37 19 30 39 42 62 53 56 40 54 30M3985 736l15-11 15-3 15 5 10 9M4050 760l0 1M3675 762l0-2M4802 767l-2 9-5 7-10 5-10-2-5-5-5-11M4069 789l11 16 1 15 8 10 0 15 6 9 7 6 5 15 11 10 7 14 7 6 7 10 11 8 5 12 4 5 16 9 15 31 8 30 1 25-6 30-10 20-13 14-10 7-15 6-15 2-15-3-20-8-20-12-15-12-18-19-17-22-30-53 2-25-3-25-9-24M3665 797l6-12 1-12M3640 849l10-14 5-15 6-10 2-8M1830 890l50 50 55 47 15 14 8 14 11 35 7 35 1 30-2 40-5 35-13 55-3 20 4 65-1 25-6 25-21 75-12 55-10 75-6 75-1 80 6 80 13 75 18 65M3985 910l-2-13M3600 917l6-7 16-25 4-10 11-15 3-10M2888 1960l111-90 31-28 15-16 38-71 37-85 36-55 33-70 26-50 28-40 27-25 29-20 146-88 25-22 16-20 15-25 13-30 23-75 3-15 0-20 8-20 0-5-11-10-3-10 2-10 7-10-4-15 0-5 8-10 10-30 14-31" fill="none" stroke="#000" stroke-width="6" stroke-opacity="0.8"/>
</g>
</g>
<path fill="#fff" fill-rule="evenodd" d="M180.0 60.0H542.0V198.0H180.0Z M185.5 104.1C187.0 103.7 191.3 102.5 194.2 101.6C197.1 100.7 200.1 99.6 203.0 98.8C205.9 98.0 208.8 97.8 211.7 97.0C214.6 96.2 217.5 95.2 220.4 94.1C223.3 93.0 226.3 91.3 229.2 90.3C232.1 89.3 235.0 88.7 237.9 88.3C240.8 87.9 243.7 88.0 246.6 88.0C249.5 88.0 252.4 88.4 255.4 88.3C258.3 88.2 261.2 88.2 264.1 87.6C267.0 87.0 269.9 85.6 272.8 84.8C275.7 84.0 278.6 83.3 281.6 82.5C284.5 81.7 287.4 80.4 290.3 80.0C293.2 79.6 296.1 80.1 299.0 80.0C301.9 79.9 304.8 79.6 307.8 79.5C310.7 79.4 313.6 79.6 316.5 79.5C319.4 79.4 322.3 79.3 325.2 79.1C328.1 78.9 331.0 78.5 334.0 78.3C336.9 78.0 339.8 77.9 342.7 77.6C345.6 77.3 348.5 77.1 351.4 76.3C354.3 75.5 357.2 73.8 360.1 73.0C363.1 72.2 366.0 71.5 368.9 71.3C371.8 71.1 374.7 71.5 377.6 71.6C380.5 71.7 383.4 71.9 386.3 72.1C389.3 72.2 392.2 72.4 395.1 72.5C398.0 72.6 400.9 73.0 403.8 72.8C406.7 72.6 409.6 71.7 412.5 71.3C415.5 70.9 418.4 70.9 421.3 70.5C424.2 70.1 427.1 69.0 430.0 68.8C432.9 68.6 435.8 68.9 438.7 69.3C441.7 69.7 444.6 70.6 447.5 71.3C450.4 72.0 453.3 73.1 456.2 73.6C459.1 74.1 462.0 74.3 464.9 74.5C467.9 74.7 470.8 74.8 473.7 74.8C476.6 74.8 479.5 74.8 482.4 74.8C485.3 74.8 488.2 74.8 491.1 74.8C494.0 74.8 497.0 75.1 499.9 75.1C502.8 75.1 505.7 74.8 508.6 74.8C511.5 74.8 514.4 74.8 517.3 74.8C520.2 74.8 523.2 74.8 526.1 74.8C529.0 74.8 533.1 74.8 534.8 74.8C536.5 74.8 535.8 74.8 536.0 74.8L500.2 177.9L487.0 177.9L474.3 177.7L466.0 177.2L457.7 176.0L449.0 174.0L441.0 172.2L434.0 171.5L427.7 171.6L421.0 172.4L416.0 173.7L404.7 174.7L388.0 175.0L371.3 174.5L366.0 174.9L361.3 175.8L353.0 178.3L346.0 179.7L338.0 180.8L321.3 182.0L304.7 182.6L297.0 183.0L290.0 184.0L283.0 186.3L275.0 188.3L265.0 189.3L252.5 190.0L240.0 191.2L229.5 192.6Z"/>
<path d="M185.5 104.1C187.0 103.7 191.3 102.5 194.2 101.6C197.1 100.7 200.1 99.6 203.0 98.8C205.9 98.0 208.8 97.8 211.7 97.0C214.6 96.2 217.5 95.2 220.4 94.1C223.3 93.0 226.3 91.3 229.2 90.3C232.1 89.3 235.0 88.7 237.9 88.3C240.8 87.9 243.7 88.0 246.6 88.0C249.5 88.0 252.4 88.4 255.4 88.3C258.3 88.2 261.2 88.2 264.1 87.6C267.0 87.0 269.9 85.6 272.8 84.8C275.7 84.0 278.6 83.3 281.6 82.5C284.5 81.7 287.4 80.4 290.3 80.0C293.2 79.6 296.1 80.1 299.0 80.0C301.9 79.9 304.8 79.6 307.8 79.5C310.7 79.4 313.6 79.6 316.5 79.5C319.4 79.4 322.3 79.3 325.2 79.1C328.1 78.9 331.0 78.5 334.0 78.3C336.9 78.0 339.8 77.9 342.7 77.6C345.6 77.3 348.5 77.1 351.4 76.3C354.3 75.5 357.2 73.8 360.1 73.0C363.1 72.2 366.0 71.5 368.9 71.3C371.8 71.1 374.7 71.5 377.6 71.6C380.5 71.7 383.4 71.9 386.3 72.1C389.3 72.2 392.2 72.4 395.1 72.5C398.0 72.6 400.9 73.0 403.8 72.8C406.7 72.6 409.6 71.7 412.5 71.3C415.5 70.9 418.4 70.9 421.3 70.5C424.2 70.1 427.1 69.0 430.0 68.8C432.9 68.6 435.8 68.9 438.7 69.3C441.7 69.7 444.6 70.6 447.5 71.3C450.4 72.0 453.3 73.1 456.2 73.6C459.1 74.1 462.0 74.3 464.9 74.5C467.9 74.7 470.8 74.8 473.7 74.8C476.6 74.8 479.5 74.8 482.4 74.8C485.3 74.8 488.2 74.8 491.1 74.8C494.0 74.8 497.0 75.1 499.9 75.1C502.8 75.1 505.7 74.8 508.6 74.8C511.5 74.8 514.4 74.8 517.3 74.8C520.2 74.8 523.2 74.8 526.1 74.8C529.0 74.8 533.1 74.8 534.8 74.8C536.5 74.8 535.8 74.8 536.0 74.8" fill="none" stroke="#111" stroke-width="1.1" stroke-linejoin="round"/>
<clipPath id="clipres"><rect x="181.0" y="261.6" width="360.0" height="136.0"/></clipPath>
<g clip-path="url(#clipres)">
<rect x="181.0" y="261.6" width="360.0" height="136.0" fill="#8000ff"/>
<g transform="scale(.1)">
<path fill="#a000ff" d="M1830 2620l1809 0 16 15 15 18 30 48 5 4 5 1 5-4 5-8 33-74 1647 0 0 1340-3570 0 0-1335z"/>
<path fill="#c400ff" d="M1830 2620l1793 0 22 16 15 15 11 14 27 40 7 7 5 1 5-3 5-7 43-83 1637 0 0 1340-3570 0 0-1335z"/>
<path fill="#e000ff" d="M1830 2620l1770 0 25 11 25 18 20 22 28 39 7 6 5 1 5-2 5-6 52-89 1628 0 0 1340-3570 0 0-1335zM3545 3440l-15 7-10 12-5 16 2 15 9 25 9 15 15 11 10 2 10-1 15-7 10-10 7-15 1-20-6-20-14-20-8-6-10-4-15-1z"/>
<path fill="#f000ff" d="M1830 2620l1714 0 56 11 20 7 15 8 25 20 39 49 6 5 5 1 5-3 8-8 22-37 37-53 1618 0 0 1340-3570 0 0-1335zM3530 3404l-20 8-15 12-14 16-8 15-10 25-4 25-2 25 2 20 7 20 8 15 11 12 15 12 15 8 20 6 20 1 15-2 15-5 15-9 13-13 12-17 27-63 5-25-1-20-3-15-8-15-9-10-11-8-25-11-25-7-20-3-20 2z"/>
<path fill="#f800ff" d="M1830 2620l1640 0 20 9 25 6 20 2 55 2 20 3 15 6 15 8 15 11 40 48 6 5 9 3 5-2 7-6 28-42 43-53 1607 0 0 1340-3570 0 0-1335zM3525 2953l-3 7 3 3 7-3 2-5-4-3zM3535 3359l-25 7-25 14-24 20-20 25-27 45-47 90-10 30-3 30 3 20 8 20 10 13 16 12 35 15 59 19 35 7 35 1 40-7 35-13 26-17 18-20 10-25 14-70 17-60 5-25 1-20-4-25-9-25-14-20-19-16-25-10-50-5-35-8-25-2zM4000 2750l-6 5 6 5 14 0 4-5-5-5-8-1z"/>
<path fill="#ff00ff" d="M1830 2620l1592 0 13 13 15 9 20 7 25 6 35 2 60-9 20 2 15 5 25 14 15 14 27 32 8 7 10 4 5-2 10-9 30-42 49-53 1596 0 0 1340-3570 0 0-1335zM3535 2935l-15 7-8 8-8 15-9 26-3 19 3 18 5 6 10 4 5-2 5-5 5-21 15-25 20-18 6-12 1-10-7-9-10-3-10 1zM4005 2745l-20 5-6 5 6 5 25 5 15-2 7-8-4-5-22-5zM4890 2655l-10 1-7 4-12 15-21 67-2 13 3 10 9 12 15 6 20 11 15 3 25-2 13-5 12-10 10-1 10-4 8-10 3-10-2-10-9-19-30-43-20-18-15-8-10-2zM3555 3258l-15 10-80 74-35 38-75 91-83 79-15 20-11 20-7 20-3 20-3 80 3 30 5 25 9 29 12 26 13 23 20 24 15 13 20 13 15 5 20 4 25 1 30-3 40-5 35-8 60-19 30-13 30-17 30-19 25-20 25-23 20-22 23-34 16-35 7-30 9-60 22-60 6-30 0-35-8-35-16-35-24-30-22-20-28-20-65-35-45-32-15-6-10 0z"/>
<path fill="#ff0000" d="M1830 2620l1558 0 12 26 15 14 20 8 55 10 25 3 15-1 40-17 20-5 20-1 15 4 25 13 45 46 7 5 8 2 6-2 7-5 32-42 48-43 13-15 1021 0-6 10-3 15 4 60-4 50 2 10 10 20 13 10 22 11 15 3 15 1 35-4 25-12 17-14 7-15 3-10-2-14-5-18-20-47-10-16-15-19-25-21 485 0 0 1340-1721 0 21-40 67-115 77-155 31-50 6-15 5-20 3-30-1-25-6-35-16-45-23-45-27-40-26-27-30-25-49-38-56-38-25-20-34-37-13-20-10-20-6-25 3-27 9-28 21-44 11-31 8-30 6-35-2-15 47-12 15-8 4-5-3-5-41-13-40-19-5 2 0 5 8 40-2 5-26 9-60 44-21 22-14 27-6 23 1 35 16 55-3 35-11 65-3 10-22 30-35 65-19 30-18 25-23 25-27 26-50 42-50 37-145 84-16 16-13 20-11 25-10 30-7 30-5 25-2 100 4 90-2 30-5 30-1193 0 0-1335zM1910 3048l-4 7 4 5 10 1 5-1 0-6-5-1-5-4zM3850 2754l-7 6-1 10 4 10 4 3 5 1 5-4 5-15-1-5-4-5-5-2zM3985 2744l-11 6-4 5 5 6 15 6 35 1 5-2 11-11 0-5-13-5-13-2-25 0z"/>
<path fill="#ff4000" d="M1830 2620l1533 0 12 53 5 12 10 10 10 2 40-2 25 1 60 14 10 1 10-5 16-21 14-12 20-8 20-1 15 4 15 7 15 12 32 33 8 6 10 2 9-3 6-5 35-42 52-38 18-20 941 0 6 15 23 31 15 30 6 24 2 40 7 20 5 9 12 11 23 12 15 4 20 1 35-3 11-4 18-10 18-15 10-25 1-10-2-25-10-40-14-35-19-30 447 0 0 1263-20 16-15 16-32 45-1538 0 14-45 18-50 22-50 31-65 33-85 10-20 27-40 7-15 5-20 4-25 0-25-2-20-5-20-9-25-35-69-38-61-32-39-28-26-47-35-30-15-55-18-22-12-29-25-12-15-9-15-7-20 1-25 6-20 12-25 11-30 11-70 0-20 2-10 9-10 31-15 15-10 11-10 4-5 0-5-14-5-45-7-20-7-25-18-35-35-5-1-5 3-4 5-2 10 6 25 10 20-2 5-3 5-20 14-10 11-54 70-15 30-5 20 1 40-6 45-19 75-15 30-87 107-83 83-52 48-25 21-140 103-20 18-18 25-32 70-14 45-11 65 0 60-4 35-11 50-15 45-1090 0 0-1335zM1910 3040l-5 1-5 4-5 5 0 5 5 8 5 4 10 5 10 1 14-3 5-5 0-5-4-11-15-8-10-1zM3845 2744l-8 6-7 10-4 25 4 5 8 5 12 6 5 0 15-8 7-23-2-10-7-10-8-5-10-1zM3990 2740l-10 3-12 7-2 5 1 5 18 10 35 2 12-2 6-10 8-5 3-5-4-3-20-6-30-2z"/>
<path fill="#ff8000" d="M1830 2620l1512 0 17 145 6 23 5 2 7-25 7-15 11-15 10-8 15-7 15-4 15-1 20 1 20 6 15 7 14 11 8 10 6 15-1 30 2 25-11 40-10 25-9 20-24 39-11 26-5 25 2 30-1 11-20 74-13 35-12 25-12 15-30 30-63 70-104 100-53 45-151 115-26 25-13 20-20 40-20 35-22 45-8 30-14 75-12 50-17 50-22 45-1003 0 0-1335zM1905 3038l-10 6-4 6 0 5 4 10 15 10 15 4 10-1 10-5 5-7 0-6-4-10-6-6-15-6-15-2zM3844 2620l847 0-16 33-5 15-3 17 3 39 5 29 4 7 6-5 14-40 8-15 8-10 10-9 15-7 10-2 15 2 20 9 10 9 10 14 10 24 4 30 5 20 5 10 6 8 10 7 25 13 15 4 20 1 35-3 23-10 16-10 11-10 9-20 4-15 1-20-3-45-9-35-15-35 423 0 0 1059-60-7-25 0-20 3-20 5-15 7-15 11-10 12-9 20-5 20-8 130-6 40-9 40-1315 0 8-45 13-50 61-190 10-25 30-45 10-25 5-40-1-20-4-20-16-45-37-70-42-65-15-20-18-20-22-20-20-15-63-40-22-10-55-20-20-11-35-28-21-26-5-15 2-20 22-65 11-65 2-25 3-10 6-6 25-16 50-38 10-10-5-2-40 1-35-3-20-5-20-9-20-17-21-25-4-10-5-25-14-20-4-15 4-15 12-15 17-8 20-1 15 4 15 8 46 42 9 4 10 0 12-9 23-27 15-14 15-11 40-21 10-8 11-14zM3980 2739l-17 11-1 5 1 5 4 5 13 7 10 3 30 1 10-2 5-3 5-10 11-6 2-5-2-5-31-8-35 0zM4180 2710l-5 4-5 8-13 38-11 25-16 25-15 15-15 11-15 7-20 4-20 0-25-4-40-11-90-30-8-7-2-5 0-5 4-15 0-10-4-12-6-8-9-7-15-4-15 4-10 8-9 34-15 30 4 2 20-3 15 2 25 9 30 17 30 7 22 11 13 2 20 9 20 2 50 9 30-2 20-5 20-9 15-11 15-16 15-22 10-22 6-25 15-25 3-10 0-5-4-8-5-3-5-1z"/>
<path fill="#ffc400" d="M1830 2620l1494 0 18 125 10 30 8 15 5 5 5 1 5-4 15-28 15-16 20-12 20-4 25 2 15 5 10 7 9 9 6 10 3 20-2 40-11 35-8 35-25 55-8 25-3 25 3 30-24 70-17 35-15 25-23 25-23 20-92 95-70 64-50 42-115 86-45 37-26 26-14 20-22 40-39 50-16 25-29 70-48 130-17 35-20 35-924 0 0-1335zM1905 3035l-10 6-7 9-1 5 4 10 9 9 10 6 15 3 10 0 16-8 4-10-2-10-7-10-6-4-20-7-10 0zM3859 2620l795 0-11 35-2 15 1 15 10 30 23 48 5 3 5-2 25-37 20-21 20-10 20 0 10 4 10 7 15 19 7 19 9 40 9 15 10 8 25 14 15 4 20 2 30-1 25-7 30-18 7-7 7-10 8-30 6-55-4-40-13-40 404 0 0 930-50-17-45-12-45-9-45-7-40-4-25 0-20 5-11 9-16 45-13 50-10 45-3 30 2 25 25 80 9 50 1 30-2 30-4 30-7 30-1140 0 2-40 6-45 11-50 14-55 8-25 33-84 26-51 8-25 3-20 1-30-3-25-6-20-26-55-40-70-26-40-44-55-37-30-96-50-65-25-30-16-35-28-16-16-7-15 0-15 24-85 7-60 2-10 9-10 41-36 38-24 32-23 25-13 15-2 60 25 30 9 20 9 15 1 15 9 75 16 25-1 25-5 20-7 15-10 15-13 15-18 19-37 6-30 18-25 4-10 0-10-5-15-12-8-15 1-10 6-9 16-6 25-9 25-17 30-14 17-15 13-15 8-15 4-25 1-20-3-50-14-85-28-5-8 6-25 0-10-3-10-13-18-10-7-10-3-5 0-10 4-15 14-7 10-6 30-5 10-17 23-20 16-20 9-30 5-30 0-30-5-20-8-15-11-19-19-9-15-5-30-11-20-3-10 2-15 10-15 10-6 10-3 10 0 15 3 20 12 38 34 12 6 10-1 15-10 25-28 15-12 20-10 34-10 11-5 10-10 11-20zM3985 2734l-20 9-5 5-2 7 3 10 4 4 20 10 35 0 15-5 5-11 14-8 3-5 1-5-5-5-13-1-15-5-35-1z"/>
<path fill="#fff000" d="M1830 2620l1478 0 12 80 9 40 13 30 18 26 9 4 6-2 15-22 15-14 20-11 20-3 21 2 19 10 10 12 4 18-3 20-11 29-4 16 0 30-3 15-20 50-7 25-2 20 0 35-28 60-16 27-25 30-30 27-50 39-70 60-90 73-130 94-47 40-19 20-23 35-36 65-41 55-23 35-56 110-45 100-15 26-24 34-851 0 0-1335zM1900 3035l-10 6-6 9 1 11 10 14 10 7 20 6 10 0 15-5 8-8 2-10-3-10-7-10-10-7-15-5-10-2-10 1zM3873 2620l754 0-6 20-3 20 1 15 3 15 14 25 39 54 5 2 5-2 30-32 25-20 20-6 15 2 15 8 12 14 8 20 7 35 13 16 10 8 25 13 15 4 20 2 30-1 25-6 30-18 10-8 7-10 16-60 6-30-2-40-9-40 387 0 0 833-60-20-55-15-170-25-30-1-25 6-25 13-15 15-11 19-8 25-3 30 1 45 7 80 11 70 19 95 4 45-2 30-5 30-8 32-12 33-979 0-2-35 1-40 4-35 7-35 9-30 17-40 47-125 7-35 2-30-2-30-4-15-13-35-31-60-27-45-44-65-25-30-20-15-15-15-20-10-15-10-45-19-55-26-65-27-30-18-35-27-13-13-5-10 0-15 13-57 11-23 0-15-3-15 4-30 20-30 18-19 15-10 28-16 32-23 20-10 15-4 105 39 20 3 15 9 60 17 15 2 20 1 20-2 20-5 20-9 15-11 18-17 12-15 30-50-8-10-1-5 2-5 7-4 10-2 3-4 7-25 1-15-4-15-6-10-6-5-15-6-10 0-10 4-10 7-10 13-4 12-3 25-13 33-10 18-19 24-21 15-15 4-25 1-20-4-132-41-1-5 10-25 0-10-2-10-12-20-26-30-4-10 2-15 12-35zM3990 2729l-10 2-20 10-5 4-3 10 2 10 6 8 20 11 10 2 30-3 15-7 5-6 0-5 18-10 5-10 0-5-8-6-15 0-15-4-30 0zM4495 2745l-5 4-1 6 6 5 6-5 0-5-1-4-4-1zM3794 2675l16-1 15 3 10 8 2 5-5 15-18 35-6 30-9 15-19 21-10 8-15 8-20 6-35 2-30-3-25-8-20-14-15-16-9-14-5-30-10-25-1-10 3-10 6-10 11-7 10-2 15 1 20 9 40 34 10 5 10 2 9-2 8-5 38-38 10-6 15-5z"/>
<path fill="#fff800" d="M1830 2620l1462 0 14 75 12 45 15 30 26 30 6 4 10-1 5-5 10-14 15-12 15-6 15-3 20 1 14 6 11 9 5 11-3 10-10 15-4 10 0 70-23 70-4 20-3 40-23 48-20 32-25 29-20 19-125 100-290 207-26 20-22 20-20 25-21 35-46 82-53 103-70 130-27 40-35 45-785 0 0-1335zM1910 3029l-10 3-13 8-6 10 0 10 5 10 9 10 15 8 20 5 10-1 18-7 7-10 0-10-3-10-13-15-9-5-25-6zM3888 2620l717 0-7 25-3 20 1 15 5 15 15 20 39 36 15 20 5 4 10 0 20-20 35-24 20-6 15 1 15 8 10 11 5 10 7 35 6 10 12 11 15 11 20 10 20 5 15 1 30-1 25-6 30-16 13-10 7-10 6-15 6-25 13-35 5-20 1-40-7-40 371 0 0 751-65-23-60-15-45-6-70-3-65-7-35 4-40 12-30 16-22 21-19 30-11 30-6 35-1 50 2 55 6 55 13 70 19 75 2 15-1 20-7 35-12 35-18 41-24 44-801 0-7-35-3-35-1-35 1-40 10-70 38-105 10-40 3-50-4-35-6-20-20-40-16-25-12-25-21-30-14-25-23-28-15-22-32-35-48-34-25-10-20-11-25-10-30-15-65-27-32-18-43-31-16-14-6-10-5-35 0-15 4-15 8-12 2-8 3-30-5-15 1-10 17-40 11-15 11-10 35-19 35-25 20-9 15 0 24 8 16 3 30 13 25 9 25 2 15 10 20 8 55 16 35 1 30-5 25-12 25-20 14-15 26-34 22-21 8-15 4-15 4-40-1-15-4-15-5-10-8-10-10-7-10-5-10-1-15 1-10 4-15 12-11 16-5 15-6 35-15 35-15 25-13 13-10 6-15 2-20-2-34-9-9-5-3-5 5-5 16-7 15-10 5-5 2-8 13-6 12-9 6-10-2-5-6-5-10-2-15 0-15-2-35-1-10 2-25 9-9 9-1 10 5 25-2 5-13 0-14-5-6-5-2-5 7-25-1-5-29-50-8-20 0-20 5-25zM4495 2734l-8 6-5 10 3 12 5 6 5 1 5-3 5-6 8-15-2-10-6-3-5 0zM3777 2685l18-4 17 4 6 5 2 5 1 15-11 30-4 25-7 15-19 22-15 11-15 7-30 6-30 1-30-5-20-10-26-22-10-15-6-30-6-20-1-15 4-11 10-9 10-4 15 0 20 9 40 32 10 5 10 2 15-6 30-29 20-13z"/>
<path fill="#ffff00" d="M1830 2620l1447 0 18 80 15 45 7 15 11 15 27 27 10 6 10-1 5-3 15-17 10-6 15-4 20 2 10 5 5 6 2 10-3 20 5 65-3 20-19 55-12 65-25 50-20 30-20 22-20 18-130 102-107 68-133 94-91 56-30 25-25 30-29 48-20 39-47 103-58 101-45 65-69 84-726 0 0-1335zM1900 3030l-15 9-7 11 1 15 10 15 16 11 20 7 10 0 25-6 8-7 3-15-5-15-7-10-9-8-10-5-20-5-15 1zM3903 2620l681 0-17 65-1 10 3 10 11 10 75 45 15 19 5 3 10-1 5-2 15-16 30-16 20-8 20-1 10 4 10 8 5 9 5 26 4 10 31 29 15 9 15 6 20 4 25 1 25-2 25-8 30-18 15-16 7-15 7-30 14-25 9-30 2-35-5-45 356 0 0 678-70-30-55-17-55-9-80-7-30 1-25 3-30 6-30 9-50 21-75 43-20 8-15 3-25 0-27-9-20-15-11-15-2-5-5-3-1 28-5 40-4 70 1 70 3 60 23 145 8 80 11 45 3 30-2 25-7 30-12 30-13 25-581 0-16-40-10-40-5-45 0-45 3-25 7-20 10-20 22-35 11-30 9-40 3-50-3-50-10-55-20-65-20-41-18-29-32-60-25-25-5-3-14 13-11 4-10-1-15-3-95-39-25-8-80-35-55-21-55-36-30-26-10-19-6-21-1-15 12-40 1-20-4-25 13-35 9-15 16-17 33-18 32-23 15-6 15-3 45 8 45 20 15 4 20-1 15 12 25 12 65 19 25 2 20-2 20-6 20-9 34-27 56-55 11-15 8-20 3-20 1-30-3-25-10-25-15-20-20-13-10-3-15-1-15 3-10 4-20 17-15 23-15 35-10 13-5 1-14-9-21-5-25 2-55-1-45 7-10-5-10-12-17-31-5-25 4-30zM4505 2719l-10 5-10 8-6 8-3 10 5 20 5 5 9 2 10-6 18-21 7-10 4-10 0-5-4-6-10-2-10 1zM4780 3100l-15 5-7 5-6 10-2 10 3 20 15 35 0 35 2 6 5 3 5-6 2-8-3-30 8-20 13-20 5-15-1-10-3-10-6-6-10-5zM4095 3179l-5 1-4 5-3 15 2 14 5 10 5 6 5-1 9-19 2-10-2-10-4-7-5-3zM3619 2690l11 0 15 5 39 30 16 8 10 2 15-5 35-32 15-8 10-3 10 0 9 3 6 5 4 10 0 10-11 50-4 10-16 20-18 14-15 8-15 4-35 4-35-5-25-11-25-22-10-17-10-50 1-10 4-8 6-7 9-4zM4067 2755l8-4 15 0 4 4 7 15 1 10-4 15-9 10-9 7-10 2-20-1-20-10-4-3-2-5 6-10 10-10 4-10 21-9z"/>
<path fill="#ffff00" d="M1830 2620l1432 0 12 50 13 45 12 30 11 20 17 20 28 23 10 4 15-2 15-15 10-4 15-2 14 6 6 9 2 11 7 75-2 15-16 40-14 60-6 20-24 50-21 30-36 33-125 97-30 19-80 45-115 81-50 31-70 38-30 23-30 37-33 51-20 40-40 90-22 38-35 54-50 68-97 110-673 0 0-1335zM1910 3024l-20 8-10 8-5 10 1 15 8 15 11 10 20 11 15 4 41-10 6-10 0-15-5-15-17-18-13-7-27-6zM2090 2999l-5 1-6 5-1 10 7 11 10 4 11-5 5-10-3-10-3-4-10-3zM2340 2898l-7 7 0 5 5 5 7 1 5-1 5-5 0-5-4-5-6-2zM2520 2904l-5 3-5 5-4 13 4 15 5 6 5 3 5-1 6-3 4-5 3-10-3-17-5-6-5-2zM2665 2928l-5 7-2 15 4 10 3 4 5 2 8-6 2-5 1-10-1-8-4-7-6-4zM3918 2620l257 0-20 9-15 13-34 48-11 10-13 5-37 8-35 3-55 0-10-3-10-7-11-16-8-20-2-20 3-25zM4212 2620l353 0-12 35-14 25-16 15-33 23-10 10-9 12-4 10 0 10 6 15 7 9 10 4 10-1 10-6 10-12 15-11 20-10 15-3 25 2 40 13 15 8 15 18 10 4 15-3 20-17 10-5 35-11 20-2 10 4 5 5 10 29 6 10 14 10 25 23 15 8 20 6 20 3 20 2 30-5 25-10 29-17 14-15 5-10 11-30 16-28 9-27 4-40-4-50 341 0 0 610-75-39-40-19-30-9-30-3-85 4-55 5-70 12-90 25-15 6-21 18-9 3-5 0-5-4-1-9 14-35 1-15-2-15-4-15-11-20-11-15-16-17-15-10-15-7-35-7-30-1-30 2-20 4-13 6-10 10-4 15 2 20 10 40 0 15-17 210-3 65 7 110 8 50 16 85 9 80 0 35-3 30-5 25-8 25-19 36-15 19-13 15-316 0-24-30-17-30-12-35-5-35 2-40 16-65 11-50 9-70 2-35-1-45-4-40-6-40-8-35-11-35-16-35-47-90-16-45-19-61-10-21-10-11-10-5-10-2-15 2-20 9-20 13-20 16-35 36-15 10-11 4-14 2-20-1-25-3-55-17-35-14-40-13-18-9-52-37-19-18-14-25-6-25 1-10 7-20 3-15-1-15-4-20 0-5 21-45 7-10 10-9 30-15 28-21 12-6 20-4 45 4 5 1 25 15 15 6 15 2 20-1 20 16 20 11 65 25 35 7 30-2 25-9 30-17 37-28 28-27 23-38 11-30 3-40-2-15-5-20-16-35-10-15-14-14-10-8-15-7zM3617 2695l13-1 15 4 40 29 15 7 10 2 10-2 7-4 33-29 15-7 15-2 9 3 6 5 4 10 0 10-6 35-7 20-21 24-15 10-15 7-35 6-35-2-25-8-25-18-13-14-5-10-8-45 0-10 4-10 12-9zM4062 2760l8-3 10 3 13 15 1 10-3 10-9 10-7 4-15 1-10-2-18-13-1-5 2-5 9-10 3-9 15-5z"/>
<path fill="#ffff00" d="M1830 2620l1417 0 14 50 15 45 14 35 11 20 20 20 29 21 10 5 20 1 20-13 10-2 10 3 5 4 5 8 4 13 2 60-1 12-13 33-12 46-15 44-21 50-19 25-40 35-118 90-112 59-115 81-55 32-65 34-30 23-25 28-49 73-22 40-40 85-60 90-48 60-123 130-623 0 0-1335zM1900 3024l-19 11-5 5-4 10 0 15 7 15 6 7 25 17 15 6 10-1 15-4 25-2 5-3 2-5 2-15-2-15-8-15-16-15-13-7-25-6-15 0zM2085 2989l-15 6-11 10-7 10 0 10 7 10 9 5 17 5 15-1 15-6 11-8 6-10 2-10-4-10-6-5-19-7-15 0zM2335 2894l-7 6-2 5 2 10 7 6 15 1 10-7 2-10-2-5-5-5-15-2zM2515 2898l-10 7-6 10-2 10 0 10 3 11 5 9 10 8 10 1 10-5 8-9 4-10 0-10-3-15-5-10-9-7-10-1zM2660 2893l-4 7-8 25-1 15 1 20 5 15 7 12 5 3 5 1 5-2 10-12 6-12 2-10-2-25-11-35-5-4-10 0zM3040 2889l-5 4-1 7 6 11 15 12 15 3 6-1 4-5 0-5-5-9-15-13-15-4zM3215 2877l-7 8 0 10 7 8 10 1 5-3 5-6 0-8-5-9-10-3zM3934 2620l200 0-14 17-25 36-15 14-13 8-27 10-30 4-45-3-10-4-9-7-10-15-5-15-1-20 2-20zM4251 2620l296 0-11 30-15 25-41 44-20 26-10 9-4 1-2 5 11 9 15 26 10 10 10 3 15-3 10-5 25-21 10-4 10-2 20 1 50 6 10 5 20 14 15 3 15-4 30-18 50-8 10 4 17 24 23 14 15 18 15 11 45 14 30 5 20-3 20-6 25-11 22-12 12-10 9-10 26-40 11-40 5-30 1-40-3-40 327 0 0 551-70-43-75-52-25-11-20-4-20 2-10 5-30 21-15 8-15 6-20 3-30-2-50-16-15-3-55 1-20-2-30-9-56-25-89-15-50-14-20-10-17-11-68-58-10-3-5 1-10 7-7 13-6 20-3 20-1 25 3 25 9 40 7 45 2 30 1 30-9 100-14 110-3 70 7 95 10 60 23 125 0 20-4 20-8 20-12 20-15 17-15 11-20 11-20 6-20 2-20-1-15-4-20-9-15-10-13-13-12-15-8-15-8-20-7-30-2-35 8-60 3-40 1-55-1-55-3-55-11-75-16-60-42-115-9-42-8-63-7-25-19-40-15-20-21-25-8-15 0-10 5-10 28-32 15-26 13-32 10-35 26-55 11-35 0-10-3-10-24-50-18-31-20-25zM3616 2700l9-3 15 3 10 4 37 26 13 6 10 1 10-2 10-5 25-22 15-9 15-3 12 4 7 10 2 10-5 35-5 15-16 21-25 18-30 9-35 1-30-6-24-13-21-20-8-20-5-40 3-10 10-10zM4053 2765l12-3 10 0 13 13 2 5-1 10-7 10-7 5-20 1-17-11-2-5 1-5 7-10 1-5 5-4zM3815 2850l15-3 30 1 20-1 9 3 16 13 15 6 15 3 20-4 5 1 15 15 15 12 10 5 26 9 31 20 44 35 13 15 3 15-5 15-22 45-24 35-25 30-26 23-25 16-20 8-30 4-35-3-20-5-35-13-40-10-10-6-59-44-13-15-12-20-6-15-1-10 9-40-1-15-6-20 3-10 21-40 7-10 8-6 30-15 25-19 10-5z"/>
<path fill="#c0ff00" d="M1830 2620l1402 0 13 45 16 45 17 40 13 25 9 11 10 9 45 27 25 3 20-2 11 2 5 10 2 50-3 20-49 150-8 20-8 11-20 19-25 20-115 86-110 54-109 75-81 50-53 30-27 20-22 25-43 60-45 75-35 68-70 95-45 53-145 144-575 0 0-1335zM1905 3020l-23 10-7 7-5 8-2 10 0 10 12 23 25 19 20 8 5 1 25-7 25 2 7-6 3-15-1-25-8-15-10-10-21-14-15-4-25-3zM2075 2985l-18 10-11 10-6 15 0 11 10 14 15 7 20 4 25-4 16-7 14-11 8-14 1-10-1-5-12-15-11-5-25-5-20 3zM2335 2890l-9 5-4 5-2 10 2 5 3 5 7 5 8 2 10 0 13-7 3-5 1-10-7-12-10-4-10 0zM2510 2894l-11 11-7 10-2 10 2 20 6 15 7 9 10 5 15 0 10-6 10-14 4-14-1-10-4-20-7-10-12-7-15-1zM2655 2888l-14 27-3 10 0 30 1 15 9 25 7 9 5 3 10 2 10-3 9-11 14-30-4-25 0-20-14-30-5-4-5-1-15 0zM3040 2879l-10 4-7 7 0 10 4 10 8 11 11 9 10 5 19 4 10-3 6-6 2-10-3-10-10-14-8-6-12-7-15-4zM3210 2859l-10 6-8 10-3 10 1 15 5 10 10 9 10 3 15 0 12-7 8-10 3-10-1-15-7-12-10-8-10-3-10 1zM3950 2625l1-5 154 0-23 40-17 18-15 10-15 7-25 5-15-1-20-4-10-5-6-5-7-10-5-15 0-15 1-15zM4277 2620l253 0-13 35-18 30-39 50-10 9-18 6-4 5-1 5 2 5 16 13 4 12-2 10-12 20-12 25-23 31-10 10-35 23-25 4-10 0-10-5-8-8-4-10-2-15 1-15 10-30 31-50 8-10 14-8 30-6 9-6 3-5-7-7-40-16-20-14-19-23-36-61zM5087 2620l313 0 0 501-140-84-60-24-23-13-19-15-15-15-30-40-14-25-8-20-7-30-4-25 0-30 9-70 2-30 0-35-3-40zM3615 2705l10-4 15 2 10 5 33 22 17 7 10 2 15-5 35-26 10-6 15-2 10 5 6 10 2 10-4 25-4 15-5 10-13 15-20 15-12 5-20 5-35 1-30-6-20-10-22-20-3-5-6-15-4-35 2-10 8-10zM4062 2765l8 0 5 2 11 13 0 5-4 10-7 6-5 2-15-1-11-7-4-5 0-5 8-15 12-5zM4722 2800l13-1 15 2 20-2 10 2 40 19 10 16 15 12 33 12 42 24 15-1 75-25 20-1 11 3 9 8 8 12 49 100 5 15 3 20-3 15-7 10-12 5-23-1-41-14-49 0-20-2-10-2-11-6-9-10-6-15-3-45 2-30-3-8-5-4-5 1-6 6 1 9 5 16-1 10-16 35-13 12-30 14-30 7-35-1-40-10-38-17-22-19-18-21-11-15-7-20-4-20 0-15 3-15 8-25 7-10 14-10 43-20zM3827 2855l38-1 15-4 5 1 20 17 15 6 15 2 20-5 5 1 15 18 15 14 10 5 20 7 11 9 9 10 8 15 7 50 1 25-8 30-13 25-20 25-25 19-35 16-35 10-30-1-30-9-50-12-63-48-19-25-10-20-2-10 6-20 2-20-2-15-5-15 23-46 10-12 30-16 30-22 15-4z"/>
<path fill="#80ff00" d="M1830 2620l1386 0 26 75 40 90 8 12 10 9 40 22 26 12 6 5 6 20 2 30-4 25-11 26-15 26-20 28 0 10 5 25 0 15-4 15-11 14-44 36-46 30-25 20-15 15-185 103-85 58-70 54-15 8-35 25-24 27-42 60-36 55-56 95-90 110-32 35-31 30-94 84-40 31-7 5-518 0 0-1335zM1900 3018l-23 12-8 10-4 10-1 10 1 10 7 15 7 10 19 15 27 10 5 1 15-6 10-2 25 5 5 0 8-8 4-10-2-15 1-20-3-10-3-5-11-10-29-17-30-6-15 0zM2075 2980l-25 13-10 10-6 12-2 10 3 15 10 11 10 7 10 4 25 2 25-4 22-10 11-10 10-20 1-10-2-5-10-15-7-6-9-4-31-5-20 3zM2330 2888l-9 7-5 10 0 5 3 10 6 6 10 5 10 1 10-2 9-5 6-8 2-7-2-10-5-7-10-6-10-2-10 2zM2510 2890l-13 10-11 15-2 15 2 20 6 15 13 13 15 5 15-2 10-7 7-9 8-20 0-10-6-25-6-10-13-10-10-2-10 0zM2655 2883l-7 7-16 25-3 15 0 35 9 35 6 10 6 5 10 6 15 0 10-4 11-12 14-29 3-16-7-20 0-25-16-25-5-6-5-2-20 0zM3035 2874l-13 6-6 10-1 10 5 11 10 15 10 11 25 9 15 1 10-3 9-9 2-10-2-15-14-18-10-8-20-10-15-1zM3210 2840l-10 1-8 4-17 15-14 20-1 15 10 25 5 6 10 7 15 5 35 1 20-3 9-6 4-5 5-10 2-10-1-20-9-20-10-13-14-7-26-5zM3973 2620l103 0-4 10-13 25-14 16-20 12-20 3-20-5-12-11-5-10-1-10 4-25zM4299 2620l215 0-7 25-8 20-34 55-15 18-20 9-9 8-1 5 6 20 0 10-8 20-18 30-15 18-18 17-17 10-15 5-10-1-5-3-5-11 0-15 9-25 21-34 13-16 12-10 20-7 17-18 0-5-7-10-38-25-21-20-18-25-23-44zM5102 2620l298 0 0 460-92-45-78-33-20-10-15-10-15-14-30-38-15-25-11-25-8-25-6-30-3-25 1-55-6-120zM3625 2705l10 0 10 3 34 22 21 8 10 2 17-5 33-25 10-5 10-1 10 3 7 8 3 15-4 25-6 15-17 20-18 13-10 4-25 6-30 0-30-6-22-12-13-11-7-9-7-20-3-30 3-10 9-8zM4052 2770l18-2 9 7 4 10-2 5-6 7-5 2-10 1-12-5-4-5-1-5 7-13zM4719 2820l21-3 30 0 15 3 25 8 5 3 20 22 34 17 9 10 2 10-5 25-2 30-3 10-7 10-13 12-10 7-15 6-20 4-15 0-25-4-25-7-15-8-20-15-11-10-12-15-10-20-4-15-1-15 3-20 5-12 10-13 15-11 15-8zM3821 2865l14-3 45-2 5 2 20 12 15 5 20 1 16-5 4 3 25 32 10 9 20 10 8 11 4 15 3 60-5 25-8 20-12 17-25 23-20 11-35 15-15 3-15 1-50-8-20-5-30-18-19-14-36-33-11-17-2-10 4-30-3-40 3-10 9-20 10-15 5-5 45-29 20-11z"/>
<path fill="#60ff78" d="M1830 2620l1369 0 24 65 36 80 6 20 2 20-4 15-7 5-11 4-15 1-30-6-15 4-15 12-29 30-6 10-2 10 6 35 0 35-9 14-22 16-8 10 6 10 22 20 40 45 20 30 4 10 3 15-1 10-4 10-16 15-54 30-30 12-40 11-75 12-41 20-34 25-20 22-40 55-80 88-60 90-40 70-40 60-120 133-34 32-31 25-55 41-42 29-68 40-440 0 0-1335zM1905 3014l-10 3-16 8-11 10-6 10-2 10 0 10 4 15 6 12 10 11 15 12 25 8 15 2 10-7 10-1 10 1 20 7 22-20 0-5-7-10 0-9 6-21-4-10-11-10-36-20-20-5-25-2zM2075 2974l-30 16-6 5-10 15-4 10-1 10 3 15 3 5 25 19 15 4 35-1 30-9 15-9 10-17 7-22-4-15-13-16-15-9-35-5-20 3zM2335 2884l-10 4-8 7-5 10 1 10 5 10 7 6 10 4 15 1 10-3 10-8 5-10 1-10-5-10-6-6-10-5-15-1zM2515 2884l-12 6-19 20-4 10-1 20 6 25 10 14 15 9 15 2 15-4 10-7 10-17 6-22-8-30-4-10-9-8-10-6-15-2zM2655 2879l-8 6-20 25-4 15-4 35 11 45 6 10 9 9 10 6 10 2 10 0 15-7 17-20 11-25 3-20-10-20-1-10 3-15-2-5-10-10-10-15-6-5-25-1zM2845 2800l-4 10 1 10 3 10 5 4 5-5 3-14-3-14-5-3zM3030 2869l-10 5-6 6-5 15 2 10 19 35 10 8 25 8 10 2 15-2 12-6 9-15 0-10-3-20-19-20-14-9-20-8-10-1-10 1zM4320 2620l178 0-4 25-7 20-25 50-16 20-26 14-5 0-10-15-38-34-13-15-15-25-16-35zM5116 2620l284 0 0 424-60-24-75-24-38-16-12-8-15-12-30-37-14-23-11-22-8-23-7-30-3-30 1-40-7-55-5-75zM4015 2630l5 0 3 5-3 10-5 3-5 0-2-3 0-5 2-6zM3622 2710l8-2 10 1 40 23 20 8 10 1 15-3 35-25 10-4 10-2 10 5 5 8 2 10-3 20-5 15-14 19-25 18-30 8-30 0-25-5-21-10-19-15-7-10-4-10-4-30 2-10 8-9zM4406 2760l4-3 5 3 0 7-5 4-5-1-2-5 2-3zM4052 2775l8-4 10 1 7 8 1 5-2 5-6 5-15 0-7-5-1-5 3-8zM4732 2835l28-3 25 5 25 13 32 30 3 5 1 10-1 25-3 15-5 10-7 7-10 6-15 7-15 2-15 0-30-7-15-8-15-11-17-21-6-15-3-10 0-15 3-10 5-10 8-10 10-8 15-6zM3844 2870l31 0 30 12 20 4 15 0 15-2 5 5 20 32 20 21 6 13 4 40 0 20-4 20-10 20-16 19-20 15-30 15-25 6-30 0-25-2-15-4-25-11-19-13-36-31-10-11-6-13-1-70 4-15 8-16 7-9 13-12 35-22 20-8 15-3z"/>
<path fill="#60ffc8" d="M1830 2620l1351 0 28 70 36 75 4 15 1 10-6 20-3 5-6 4-5 2-10-1-20-12-10 1-10 4-15 12-45 49-10 7-10-1-20-10-20-7-15-2-20 4-15 12-5 12 0 11 12 30 10 35 8 11 15 9 5 6 63 104 4 10 2 15-1 15-4 10-8 10-12 10-27 15-22 10-28 10-62 16-40 4-31 5-19 10-18 15-14 15-8 14-10 25-7 26-7 15-18 25-46 55-18 25-43 70-36 66-20 31-20 28-21 25-44 47-25 23-25 19-45 26-30 20-15 12-46 33-60 50-64 35-38 25-362 0 0-1335zM2075 2969l-25 12-13 9-12 15-15 24-5 2-15-2-40-15-30-4-20 2-25 11-8 7-7 10-4 10-1 10 3 20 11 20 10 10 11 8 45 14 5-2 1-5 4-2 10-2 10 1 20 6 30-18 6-5 1-5-2-4-13-6 0-5 3-7 10-7 10 1 20 11 15 2 40-3 50-11 8-6 2-20 9-25-2-15-7-12-15-16-15-8-35-4-20 3zM2325 2884l-12 11-4 10-1 10 5 10 7 7 15 7 15 1 10-3 11-7 7-10 2-10-2-10-7-10-11-7-15-3-15 2zM2505 2885l-23 20-5 10-3 25 5 25 11 17 15 11 20 3 20-5 12-11 12-30 1-10-6-20-3-15-6-10-15-10-15-4-15 1zM2650 2878l-28 32-10 45 0 10 7 20 4 25 9 15 13 10 10 5 15 2 15-3 10-6 12-13 10-15 8-20 1-25-8-15-4-10 5-20-2-5-12-11-15-21-10-2-25 0zM2840 2775l-5 5-5 10 0 15 5 15 9 15 6 3 5-2 11-21 4-15 0-10-4-10-6-6-5-2-10 0zM4341 2620l142 0-3 25-4 20-17 45-14 20-13 10-12 5-5-3-46-57-14-25-12-35zM5130 2620l270 0 0 391-50-16-70-16-35-14-15-8-15-12-15-16-15-19-23-40-9-25-7-25-3-25-1-45-8-60-3-65zM3620 2715l10-4 10 1 35 20 25 9 10 2 10-2 10-4 35-24 10-2 10 2 7 7 2 10-4 25-10 19-20 18-20 10-30 5-20 0-15-2-25-10-21-15-10-15-6-30 1-10 6-10zM4060 2775l5 1 6 4 1 5-3 5-9 2-5-2-3-5 3-8zM4741 2850l19-2 20 4 19 13 12 15 5 15-2 20-4 7-7 8-18 8-20 1-20-5-15-10-12-14-6-20 1-15 10-15 17-10zM3835 2880l35-2 30 11 50 7 5 5 13 29 14 20 5 10 4 20 1 25-4 20-8 18-14 17-16 13-22 12-23 7-45 2-45-14-10-6-40-33-9-11-6-14-4-16 0-45 3-10 6-11 12-19 8-7 35-21 20-6z"/>
<path fill="#60ffff" d="M1830 2620l1332 0 40 95 30 60 3 10 1 10-1 10-3 5-7 3-6-3-9-9-10-7-10-1-10 2-19 15-41 45-15 9-10 0-40-9-15-1-20 7-14 14-5 10-1 10 12 40-1 15-6 20 5 22 15 44 30 44 7 15 5 20-2 15-10 13-14 12-26 15-23 10-72 20-55 5-25 6-15 5-13 9-13 20-6 15-7 25-9 45-6 15-16 24-62 81-93 150-61 80-29 30-61 50-19 12-14 13-11 5-17 15-18 9-15 11-70 40-55 25-100 70-300 0 0-1335zM2100 2960l-25 4-30 13-11 8-24 26-10 7-15 1-40-10-35-2-15 3-12 5-13 8-8 7-9 15-3 20 3 20 8 15 9 10 15 11 55 15 5-7 5-3 15-1 20 7 20-11 22-6 33-13 30-6 40-4 35 0 110 7 30 1 45-5 15-4 16-6 14-10 5-10-8-15-12-10-15-3-50-1-74 4-36 3-7 2-8 6-5 1-5-1-4-6 7-15-2-15-6-15-10-16-10-10-15-9-15-3-23-2zM2330 2879l-11 6-10 10-4 10 0 15 6 10 14 10 15 4 15-1 10-4 12-9 5-10 1-15-8-15-10-8-15-4-15 0zM2510 2879l-15 9-20 22-6 20 2 25 4 14 5 10 15 16 20 7 20-1 15-5 11-11 12-30 1-15-7-20-2-15-5-10-10-8-15-7-10-2-10 0zM2650 2874l-8 6-23 25-6 15-9 40 10 25 3 30 7 15 11 9 15 9 15 3 15 0 10-4 10-7 15-17 13-23 4-10 0-25-3-10-9-14-2-6 1-10 6-10-3-5-12-11-13-19-7-6-5-1-15 1-15-1zM2850 2750l-15 6-9 9-6 10-3 15 1 10 7 15 18 25 7 3 7-3 14-20 9-20 4-15-1-15-5-10-8-7-15-4zM4363 2620l102 0 2 20-1 20-9 40-13 25-19 16-5 0-5-5-33-51-12-30-7-30zM5145 2620l255 0 0 359-45-13-65-11-30-10-18-10-17-12-15-15-15-19-20-34-8-20-7-25-5-60-7-60-3-65zM3629 2715l11 1 35 18 25 9 10 1 15-3 40-25 10-2 10 3 5 8 1 10-4 20-4 10-7 10-11 9-25 15-25 5-25 0-25-6-20-10-17-13-6-10-3-10-4-15 0-10 5-10 5-4zM4749 2865l11-2 10 2 9 5 5 5 4 10-1 10-6 10-7 5-9 3-15-2-10-6-4-5-4-10 1-10 7-9 5-4zM3828 2890l42-2 10 2 15 8 15 2 14 5 7 5 14 15 11 30 13 15-2 25 2 15-19 34-5 4-15 7-20 15-15-1-30 7-17-6-29-5-14-13-26-17-19-32-2-8 2-15-2-25 17-34 25-18 15-9 10-3z"/>
<path fill="#a0ffff" d="M1830 2620l1310 0 40 95 6 20 3 15-1 10-3 5-25 24-35 44-15 14-10 4-10 1-35-5-20 1-10 3-10 7-16 17-3 10-1 10 2 10 7 15 1 15-2 10-9 20 7 45 3 45-1 20-3 10-7 15-8 9-20 17-20 13-25 11-40 9-20 1-30 5-45 13-25 12-5 5-7 10-5 15-3 55-5 20-2 15-7 20-4 20-12 30-14 25-19 25-27 30-15 15-51 60-54 61-15 20-15 27-32 72-18 23-20 21-10 6-15 14-13 6-12 11-15 6-15 11-15 6-15 9-30 9-35 4-15 6-119 78-49 35-242 0 0-1335zM2095 2955l-20 4-30 12-14 9-26 23-10 6-15 1-45-7-30 1-15 4-15 7-18 15-9 15-4 20 3 20 10 20 13 12 13 8 42 8 15 6 15-10 10 0 20 6 25-10 90-16 185 7 40-1 61-10 19-7 11-8 4-5 2-10-6-20-13-15-17-10-26-5-45-1-45 0-50 5-15-2-10-5-25-40-15-15-20-9-35-3zM2325 2878l-11 7-11 15-3 10 2 15 8 10 15 9 20 4 15-1 15-9 10-13 3-10-3-15-6-10-14-11-15-4-20 1zM2515 2875l-10 3-10 6-21 21-8 20-1 25 5 21 15 26 10 7 20 5 10 1 25-6 10-7 6-7 14-40-2-10-8-20-1-15-4-10-5-6-10-6-20-8-10-1zM2655 2870l-13 5-25 25-5 10-7 25-9 20 2 10 10 20 1 35 4 15 12 12 25 15 10 2 25-1 10-5 15-12 10-11 10-19 12-16 2-10-1-10-6-20-15-25 1-10 7-10-2-5-18-15-10-18-5-5-10-3-15 2-14-1zM2855 2729l-20 8-15 12-11 16-5 20 2 15 5 10 24 25 5 8 5 5 5 1 5-1 5-5 26-33 10-20 5-20-2-15-9-16-15-9-15-1zM2835 3027l-5 3-1 5 3 15 10 15 13 6 10-2 15-7 7-7-1-5-4-5-8-5-34-13zM4390 2620l52 0 6 15 4 20 1 20-4 25-5 15-6 10-13 11-5-1-16-25-13-35-4-25 2-25zM5159 2620l241 0 0 327-45-13-65-11-25-8-20-10-15-11-15-15-15-18-18-31-10-35-2-35-9-60-2-75zM3625 2720l5-2 10 1 31 16 39 11 15-3 40-24 10-2 5 1 5 4 3 8 0 10-6 20-12 16-11 9-14 8-25 7-25 1-25-5-20-8-17-13-10-15-6-25 3-10 5-5zM3826 2900l14-4 15 2 15-2 10 3 15 10 15 3 5 4 10 17 10 12 8 30-1 15-8 25-24 26-35 14-20-2-20 0-15-9-20-10-10-14-14-15-6-35 6-30 4-6 10-9 10-13 10-5 10-2 5-4z"/>
<path fill="#c0ffff" d="M1830 2620l1285 0 37 85 6 20 2 15-3 15-6 15-28 45-13 16-10 7-10 2-40-2-20 3-10 4-10 8-17 22-3 10 0 10 9 25 1 10-5 16-14 14-2 5 1 10 7 20 3 35-4 35-11 23-4-3-3-15-12-15-46-30-35-20-11-10-14-18-10-8-10 0-25 3-40 1-10-3-5-3-25-32 1-10 5-5 3-5-1-5-19-15-14-25-10-5-20 3-20-1-10 5-28 28-12 34-5 6-5 3-5-2-10-15-3-26-5-10-7-6-10-5-25-8-15 2-15 8-23 24-9 15-4 15 2 30 18 50-2 5-22 16-15 7-10-2-40-20-25-5-90-4-50 6-15-1-10-4-5-4-24-34-16-15-20-8-25-3-25 2-30 10-20 10-30 22-15 8-15 2-45-4-25 1-25 8-20 13-15 19-6 20 1 25 9 20 11 12 15 10 15 4 35 5 15 6 20-9 25 5 25-7 85-8 60 3 140 2 35-2 63-6 72-14 55-7 30-7 10-1 35 8 35 1 30 5 45-4 6 4 19 23 15 8 15-2 25-16 10-3 15 3 33 12 4 5-7 4-20 2-55 16-25 13-9 10-5 10-2 10-1 60-7 45-15 55-14 30-22 33-12 12-13 17-15 13-50 60-55 60-17 20-17 30-29 70-12 18-21 22-49 38-50 27-30 12-55 8-101 50-61 35-65 45-183 0 0-1335zM2325 2875l-15 10-12 15-2 15 3 15 9 10 17 8 20 5 15-1 15-8 13-14 4-15-3-15-11-15-13-9-15-3-20 1zM2860 2710l-25 9-21 16-9 11-8 14-5 15-2 10 2 15 9 15 29 24 10 13 10 5 5-1 8-6 7-11 23-24 16-20 9-15 4-20-2-20-5-10-8-10-17-9-10-2-15 0zM5174 2620l226 0 0 295-70-22-45-5-20-5-20-10-15-10-25-24-15-27-8-27-8-75 0-85zM4415 2655l5-2 5 1 5 3 5 8 5 15-1 25-2 10-6 10-6 4-5-3-9-21-4-25 1-10 3-10zM3624 2725l6-3 10 0 30 15 40 11 15-4 35-19 15-4 8 4 3 10-5 20-5 10-9 10-12 9-20 9-30 5-30-4-25-10-18-14-6-10-5-15-1-10 1-5zM3828 2905l12-4 15 3 15-2 9 3 11 7 20 10 19 28 6 25-2 20-9 20-19 19-30 13-35-1-35-17-20-24-5-10-4-20 1-10 4-20 19-26 5-4 20-8zM2581 2965l4-2 5 2 9 10 4 10 1 10-14 50-9 10-11 7-10 3-15-4-40-21-10-10-2-5 7-4 15 2 10 0 30-10 5-4 8-9 6-25 6-9zM2745 3045l5-3 5 2 2 6-2 10-5 6-10 3-3-4 5-15zM2890 3110l20-4 20 2 15-1 2 3-2 2-15 4-20 14-30 6-6-1-7-5 2-5 5-5 16-10z"/>
<path fill="#f0ffff" d="M1830 2620l1254 0 41 85 6 20 1 15-2 20-6 20-13 25-11 14-15 7-45 1-15 4-15 9-20 25-5 10-1 15 9 30 0 10-5 15-16 20-2 10 0 30-3 10-7 6-15-1-20-6-25-12-16-12-9-10-8-15-3-15-2-30-7-12-5-2-7 4-4 5-11 25-8 8-10 5-15 4-25 1-15-3-10-5-13-10-5-10 1-5 10-10 0-5-3-5-15-8-5-6-7-21-3-5-5-3-10-2-20 4-20-1-14 7-27 25-6 10-4 20-4 6-5 3-5-1-7-8-2-10 0-20-6-9-8-6-12-5-25-7-15 2-15 7-20 20-19 28-3 10-1 15 2 15 7 25 0 10-4 10-5 5-7 4-10 3-15-1-40-12-25-4-40 0-45-4-45 7-15 0-15-9-20-29-15-14-20-9-30-4-25 2-25 8-25 11-35 23-15 7-15 2-50-1-20 2-25 9-21 14-15 20-7 25 3 25 9 20 15 15 16 8 15 3 35 2 15 6 5 0 15-6 25 4 25-6 80-2 65 3 170 1 75-4 155-13 60 4 35 7 15 5 15 8 12 10 8 12 6 18 6 40 1 40-5 35-7 30-9 30-14 30-18 26-40 43-65 76-58 65-18 30-32 75-7 10-25 27-40 30-50 29-25 11-15 4-45 6-50 13-46 15-48 20-36 18-35 21-72 51-123 0 0-1335zM2320 2874l-15 11-11 15-3 20 4 15 5 6 10 7 25 9 15 2 15-2 20-14 10-13 2-15-3-15-11-15-18-12-15-3-25 2zM2865 2689l-30 13-15 10-15 15-10 13-10 17-7 18-2 15 2 20 8 10 34 22 20 23 5 3 10 1 10-6 11-18 9-10 43-35 9-10 7-15 5-20-1-15-3-15-7-15-8-10-10-6-15-6-15-2-20 2zM5189 2620l211 0 0 265-65-21-60-8-20-6-25-11-20-18-10-14-6-12-6-35-2-55 3-80zM3634 2725l11 3 20 10 45 11 15-3 40-20 10-2 5 3 2 3 0 10-6 20-6 8-10 9-14 8-26 8-20 1-25-3-16-6-17-10-12-13-7-22 1-10 6-4zM3828 2910l12-4 15 2 20 1 30 16 18 25 5 15 0 25-9 20-14 16-30 15-35-1-35-18-15-19-5-9-3-14-1-15 3-15 5-10 16-19 20-9zM2579 2975l6-5 5 2 3 3 5 10-1 10-7 11-5 3-5-2-3-12 0-15z"/>
<path fill="#ffffff" d="M1830 2620l1210 0 3 15 6 15 36 51 10 18 6 16 2 20-2 15-5 15-6 11-10 9-15 4-45 4-35 11-5-9-1-15 5-60 0-25-2-15-6-15-6-7-10-8-20-7-25-2-30 3-25 8-25 13-20 15-20 20-14 20-10 20-8 20-10 40-8 20 5 3 30-3 20 5 15 9 11 16 5 10 1 10-9 30-8 12-15 9-20 4-30-2-10-3-6-5-3-5 2-5 6-5 3-5 1-5-2-5-4-5-17-8-3-12 3-13 5-5 7-2 4-5 3-5-4-3-15 6-25 0-25 5-20 1-10 4-30 22-10 10-3 5-2 20-5 7-5 0-5-7 3-25-6-10-17-11-25-8-15-2-15 4-15 9-17 18-23 30-4 10-3 15 6 40-4 10-10 6-10 2-10-1-55-14-45 2-45-7-10 1-35 10-15 0-10-4-21-30-19-16-25-9-35-2-25 4-24 8-21 10-35 21-15 6-15 2-55 2-30 8-20 11-12 10-12 15-6 13 0-423zM2325 2868l-20 12-14 15-6 20 1 20 6 10 8 6 45 16 10 1 15-5 25-18 9-15 0-15-8-20-8-10-13-11-15-6-30-1zM5205 2620l195 0 0 238-65-18-60-7-20-4-25-11-10-7-10-10-9-16-6-30 9-130zM3630 2730l10 0 25 12 20 3 25 8 5-1 15-5 35-18 10 0 5 6-5 18-7 12-19 15-19 7-30 4-25-4-25-11-14-11-6-12-4-18zM2923 2825l15 0 17 10 20 1 3 4-2 45 11 40-2 10-4 10-17 20-9 20-5 7-10 4-15-1-15-5-10-6-10-11-9-18-9-55 1-15 15-35 12-14 20-10zM3829 2915l6-3 5-1 15 2 15 0 30 15 5 6 16 26 1 25-2 10-5 9-7 11-8 7-25 12-30 0-10-2-24-12-6-5-16-25-3-15 1-20 18-29 20-9zM2582 2980l3-4 5 3 2 6-2 5-5 1-3-6zM1830 3100l15 22 9 8 11 6 20 5 40 0 15 7 5 0 15-6 5 0 20 4 25-4 35 2 260 4 145-2 110-5 25 1 35 5 20 6 20 10 15 12 10 12 10 18 7 25 3 40-4 30-14 50-12 30-15 25-25 28-17 17-68 80-56 60-19 30-27 65-13 25-24 25-31 25-55 33-30 13-30 7-70 5-35 4-35 7-35 11-47 20-48 27-49 33-51 40-65 0 0-855z"/>
<path d="M3639 2620l25 25M3740 2650l13-30M3635 2620l27 25M3743 2647l13-27M3632 2620l23 20M3747 2643l11-23M3627 2620l25 20M3751 2640l9-20M3623 2620l26 20M3752 2640l11-20M3618 2620l29 20M3754 2640l11-20M3555 3469l-7 6 0 10 7 11 5 3 5 0 5-4 2-5-1-10-6-8-5-3-5 0M3613 2620l31 20M3756 2640l12-20M3550 3459l-9 6-3 5-1 5 2 10 7 15 9 10 5 2 10-1 5-3 6-8 1-10-3-10-8-15-6-5-5-1-10 0M3607 2620l18 9 16 11M3758 2640l12-20M3545 3450l-10 6-6 9-2 10 3 15 10 21 10 11 10 5 15-3 10-7 6-12 2-10-4-15-9-18-10-10-10-3-15 1M3600 2620l20 9 18 11M3761 2639l11-19M3545 3440l-15 7-10 12-5 16 2 15 9 25 9 15 15 11 10 2 10-1 15-7 13-15 5-15 0-20-12-25-11-12-15-8-10-1-10 1M3592 2620l23 9 20 11M3765 2635l10-15M3545 3430l-20 8-12 12-9 20 0 25 8 30 13 21 10 8 10 5 20 2 20-8 10-8 8-10 7-12 4-13 2-15-1-10-4-15-5-10-16-18-20-10-15-3-10 1M3581 2620l29 9 22 11M3767 2637l10-17M3550 3420l-15 2-10 4-13 9-9 10-6 10-5 15-3 30 3 20 4 15 7 15 7 9 10 9 15 9 10 3 15 0 15-3 10-5 15-12 9-10 9-15 8-20 2-15 1-15-4-15-4-10-6-10-10-10-10-8-15-7-15-4-15-1M3565 2620l35 8 29 13M3768 2638l12-18M3530 3414l-15 7-12 9-9 10-9 15-7 20-4 20 0 20 2 20 5 15 7 15 12 15 10 8 12 7 13 5 15 2 15-1 15-5 15-9 13-12 10-15 12-22 9-23 3-20 0-20-4-15-9-15-9-10-16-10-19-8-20-5-20-1-15 3M3544 2620l51 9 33 13M3769 2639l13-19M3530 3404l-15 6-16 10-14 15-10 15-8 20-7 25-3 25 1 25 6 20 7 15 12 15 12 11 16 9 19 7 20 3 15-2 20-6 15-9 13-13 12-17 27-63 5-25-1-20-3-15-8-15-9-10-15-10-25-10-26-7-20-2-20 3M3521 2620l74 12 32 11M3770 2640l15-20M3525 3395l-20 9-16 11-14 16-15 24-11 30-8 30-3 25 2 25 6 20 9 15 13 15 20 15 22 11 20 6 20 2 20-2 20-6 18-11 15-15 12-19 33-86 4-25-1-25-4-15-8-15-10-10-14-8-35-11-35-8-20-1-20 3M3501 2620l29 7 65 7 31 10M3773 2640l14-20M3525 3384l-20 8-20 13-19 20-13 20-16 35-14 40-6 35 0 25 5 20 12 20 16 15 25 18 20 10 25 7 25 4 25-2 25-6 20-11 15-12 13-18 11-25 28-85 6-30-1-25-5-20-7-15-10-13-10-8-20-7-70-14-20-1-20 2M3485 2620l35 11 70 5 33 9M3775 2640l15-20M4013 2758l3-3M3520 3374l-24 11-20 15-19 20-16 25-23 45-21 55-8 35 0 25 6 20 14 20 19 15 27 15 30 13 30 9 30 3 30-3 25-6 25-11 20-15 14-20 9-25 32-110 4-30-1-25-5-20-11-20-13-15-14-9-20-6-40-5-40-8-20-1-20 3M3470 2620l20 9 25 6 20 2 55 2 29 7M3777 2640l16-20M4015 2760l3-5M3525 2953l-3 7 3 3 5-1 4-7-4-3-5 1M3535 3359l-25 7-25 14-24 20-20 25-27 45-47 90-10 30-3 30 3 20 8 20 10 13 16 12 35 15 59 19 35 7 30 1 40-6 35-12 30-18 19-21 10-25 14-70 17-60 5-25 1-20-4-25-9-25-14-20-19-16-15-7-15-4-45-4-45-10-20 0M3456 2620l24 12 30 8 25 2 50-1 15 1 18 5M3779 2640l16-20M3993 2753l-2 2 2 2M4019 2760l2-6M3525 2949l-6 6-2 5 0 5 3 4 10-2 9-7 2-5-2-5-4-3-10 2M3540 3345l-20 4-25 11-25 18-20 19-25 33-94 145-7 20-4 20 0 23 3 22 6 20 7 15 9 11 15 10 25 9 100 26 35 5 35-1 45-9 40-16 20-13 15-12 10-10 10-15 8-25 12-75 17-60 5-25 0-35-4-20-5-15-12-20-12-15-18-15-16-9-20-5-50-4-35-10-25-2M3444 2620l26 15 35 10 25 2 55-4 32 5M3781 2641l17-21M4885 2689l-10 10-10 19-10 23 0 10 20-7 15-3 30-2 30 1 2-5-6-10-11-15-15-15-10-6-10-3-15 3M3991 2751l-4 4 4 4M4023 2760l2-5-2-3M3525 2945l-7 5-5 10-1 10 3 9 5 0 5-2 20-16 3-6 0-5-4-5-9-2-10 2M3530 3330l-25 10-25 16-25 22-20 22-70 97-57 68-8 15-6 15-5 35 2 35 8 35 14 25 17 16 15 9 20 7 40 9 65 18 45 6 25-1 25-4 25-6 30-12 25-13 20-13 20-17 15-16 11-18 8-20 12-80 19-70 6-35-3-35-10-30-20-30-13-14-14-11-21-12-25-7-45-6-45-12-15-1-15 3M3432 2620l12 10 16 9 40 11 30 2 55-6 30 4M3782 2642l19-22M4890 2669l-15 8-10 14-21 54-1 10 2 8 5 5 5 2 10-8 10-5 25 4 20 1 25-5 5 2 15 8 5-1 5-7 0-11-10-18-20-28-15-16-15-11-15-6-10 0M3988 2750l-5 5 6 5M4029 2756l0-1-5-4M4900 2778l-4 2 1 5 3 1 13-1 3-5-16-2M3530 2940l-10 5-5 5-8 15-6 35 1 10 3 6 5-4 7-12 18-24 15-11 7-10-2-10-5-5-10-2-10 2M3540 3304l-20 9-25 16-25 20-25 24-23 27-67 86-67 69-17 30-9 30-2 30 2 40 7 35 11 27 15 22 20 17 20 10 20 7 40 8 50 13 30 5 40 0 45-7 30-10 25-12 25-13 25-18 20-17 20-21 15-21 10-20 8-30 10-70 20-65 6-30 0-20-2-20-5-20-9-20-12-20-17-20-19-17-25-16-25-11-45-13-40-15-15-2-20 3M3422 2620l13 13 15 9 22 8 28 6 30 1 55-8 29 2M3783 2643l21-23M4890 2655l-10 1-10 7-11 17-21 70 1 10 6 12 10 8 10 3 20 11 15 3 25-2 13-5 12-10 10-1 10-4 5-5 5-9 1-11-6-15-15-25-20-27-15-14-20-12-15-2M4032 2755l-4-5M3535 2935l-15 7-8 8-8 15-9 25-3 15 2 20 6 9 5 3 10-1 5-5 5-21 12-20 7-10 16-13 6-12 1-10-7-9-10-3-15 2M3555 3258l-10 5-10 9-60 55-30 31-95 113-83 79-18 25-12 25-6 30-3 75 4 40 10 40 17 40 21 31 25 24 15 10 15 7 20 4 25 2 35-3 45-6 35-8 30-9 30-11 30-14 55-33 25-20 25-23 20-22 15-21 13-23 11-25 7-30 9-60 22-60 6-30 1-25-2-20-5-20-8-20-10-20-15-20-19-20-20-16-25-17-60-32-50-34-15-5-10 2M3412 2620l13 15 15 10 25 10 30 6 30 2 55-11 15-1 17 2M3785 2645l22-25M4875 2644l-10 5-5 6-6 10-4 14-15 76 4 15 6 9 10 7 20 10 11 4 14 1 20 0 15-4 35-16 10-12 4-9 0-10-9-24-20-35-20-25-20-16-20-8-10 0-10 2M3850 2762l-2 3 2 5 5 1 3-6-3-4-5 1M3540 2929l-20 9-11 12-9 15-11 30-1 15 2 23 10 12 15 8 10-1 5-6 5-11 5-25 4-10 7-10 19-21 5-9 3-10-1-15-7-7-15-2-15 3M3515 3960l31-30 79-62 40-35 35-36 30-40 22-37 14-35 8-30 11-55 23-55 5-20 2-20-1-35-9-35-14-30-21-31-15-16-20-18-84-60-71-63-10-7-10-3-10 2-5 4-56 77-134 156-35 34-81 70-23 25-13 20-10 25-12 75-1 90-3 105-3 40-5 30M3403 2620l12 17 17 13 23 9 40 8 30 2 55-15 15-1 16 1M3786 2646l24-26M3850 2759l-4 6 1 5 3 4 5 1 4-5 1-6-5-6-5 1M4835 2766l5 11 7 8 27 15 21 5 30-2 15-3 12-5 24-15 11-20 0-10-2-9-10-25-15-28-25-32-15-13-15-9-15-4-15 0-10 3-9 7-6 8-4 12-8 60-5 30 1 14M3630 2850l-1 5 6 6 10 2 11-3-6-5-20-5M3575 2915l-30 7-25 13-18 20-15 35-3 15 2 30 4 9 23 26 7 19 5 5 5 0 5-8 23-81 24-35 8-20 2-15-2-13-5-5-10-2M3590 3960l28-35 92-106 25-35 20-34 26-55 25-80 24-55 7-30 2-35-6-35-11-35-17-32-20-28-32-30-88-69-55-51-50-54-10-6-5-1-5 1-5 3-5 7-19 55-41 65-45 60-55 65-35 36-35 31-163 123-12 12-8 13-7 20-4 30 3 25 9 40 2 15-11 70-3 90-5 45M3395 2620l11 20 9 9 8 6 22 8 45 9 20 3 15 0 15-4 40-14 15-2 14 1M4861 2620l-9 5-7 7-7 18-3 65-5 38M3787 2647l26-27M3850 2756l-5 4-1 5 1 5 5 8 5 1 5-5 3-9-3-6-5-3-5 0M4830 2756l1 5M4985 2770l5-15-3-15-12-33-15-29-15-22-15-15-15-12-21-9M4835 2772l8 13 14 10 23 10 25 3 25-2 19-6 26-15 10-15M3615 2835l-5 5 3 15 7 10 10 6 15 2 15-2 13-6 4-5-6-5-56-20M3640 3960l22-35 73-105 34-60 29-60 27-64 23-41 7-15 7-30 2-40-5-35-12-40-20-40-22-33-15-17-20-19-60-46-90-76-31-34-22-30-9-15-4-15-1-15 2-20 5-24 10-36 27-50 10-35 2-15-3-10-6-6-10-3-15 5-55 31-18 18-15 30-6 25 1 30 3 9 13 21 6 15 8 45-10 60-3 15-7 15-72 115-23 30-27 30-30 30-35 31-35 28-35 24-130 77-15 15-9 15-8 20-7 25-8 45 0 120 4 85-5 55" fill="none" stroke="#406" stroke-width="2.6" stroke-opacity="0.22"/>
<path d="M3388 2620l12 26 15 14 20 8 55 10 25 3 15-1 40-17 20-5 20-1 14 4M4837 2620l-6 10-3 15 4 65-4 43M3777 2657l26-22 13-15M3850 2754l-7 6-1 10 4 10 4 3 5 1 5-4 5-15-1-5-4-5-10-1M4830 2764l7 16 8 10 28 15 22 5 30-1 20-5 27-14 8-7 5-8 6-15 1-10-7-27-10-26-10-21-15-23-15-17-20-16M1910 3048l-4 7 4 5 10 1 5-1 0-6-15-6M3679 3960l21-40 67-115 77-155 31-50 6-15 5-20 3-30-1-25-6-35-16-45-23-45-27-40-26-27-30-25-49-38-56-38-25-20-34-37-13-20-10-20-6-25 3-27 9-28 21-44 11-31 8-30 6-35-2-15 47-12 15-8 4-5-3-5-41-13-40-19-5 2 0 5 8 40-2 5-26 9-60 44-21 22-14 27-6 23 1 35 16 55-3 35-11 65-3 10-22 30-35 65-19 30-18 25-23 25-27 26-50 42-50 37-145 84-16 16-13 20-11 25-10 30-7 30-5 25-2 100 4 90-2 30-5 30M3379 2620l8 25 8 15 12 10 18 6 85 13 15 1 15-5 25-15 20-8 20-3 18 3M4815 2620l-2 20 12 50 3 20-2 41M3779 2659l23-19 18-20M3845 2753l-6 7-1 5 1 15 6 8 5 2 5 0 10-7 3-8 1-10-4-9-5-4-10-1-5 2M4992 2763l2-13-4-20-15-47-20-36-24-27M4830 2771l10 18 15 10 24 11 26 3 25-2 21-6 18-10 11-9 10-16M1904 3046l-4 9 5 6 10 6 10 0 7-2 3-10-3-5M1925 3045l-1 0M3723 3960l27-60 111-225 48-85 5-15 4-20 2-25-1-20-9-41-23-54-34-60-33-45-34-35-31-25-26-15-54-23-30-19-30-30-22-33-8-25 1-25 6-20 18-34 10-24 12-67 4-35 3-5 6-6 44-19 11-10 0-5-10-5-30-6-20-7-15-9-35-24-5 1 0 5 9 30 0 10-2 10-4 5-23 17-55 50-15 18-13 25-4 15-2 15 4 80-17 85-11 25-67 103-21 27-27 30-95 85-37 28-65 41-62 41-22 20-17 25-25 65-13 50-5 65 1 115-4 35-8 35M3370 2620l8 30 9 20 9 10 14 5 50 3 55 10 15 1 10-4 25-20 15-8 20-5 21 2M4794 2620l4 20 17 39 6 21 3 20 0 24M3780 2660l27-20 18-20M3845 2749l-5 3-5 8-2 20 1 5 5 5 11 6 5 0 11-6 8-20-2-10-7-9-10-4-10 2M4996 2749l-6-36-11-33-14-30-22-30M4830 2776l10 16 21 13 19 8 25 2 25-1 20-6 15-8 14-10 11-15M1904 3064l12 6M1921 3071l10-1 9-5 0-10M3761 3960l22-60 38-85 39-79 36-81 39-65 6-20 3-20 1-25-1-20-4-20-9-25-25-55-41-69-31-41-31-30-39-30-29-15-55-19-25-15-29-26-21-30-7-20-1-25 5-20 28-60 11-70 2-30 7-11 40-19 13-10 7-10-5-5-40-8-25-9-25-16-30-27-5-1-5 3-2 8 4 15 10 25-2 12-6 8-24 18-45 49-19 23-12 25-6 25 1 45-3 40-18 75-8 20-9 15-44 60-36 45-61 63-90 82-100 70-48 35-20 20-14 20-30 70-13 45-8 65 1 70-3 35-7 45-12 40M3363 2620l7 36 8 24 7 11 10 6 65-2 25 4 40 11 10 1 10-5 16-21 19-15 20-6 20 1M4771 2620l6 15 23 31 13 24 7 25 2 27M3781 2661l31-21 18-20M4998 2747l-4-32-9-35-15-34-17-26M3877 2773l0-8-4-10-8-8-5-2-10-1-10 3-10 13-4 25 4 5 18 10 7 1 13-6 2-2 5-15M4830 2781l6 9 11 10 23 12 20 5 25 0 20-2 15-5 21-11M4989 2781l1-2M4976 2795l9-8M3629 2824l-17-14-32-32-5-1-5 3-4 5-2 5 1 10 5 20 10 20-2 5-3 5-20 14-10 11-50 64-15 25-6 16-3 15 1 40-6 45-19 75-15 30-47 60-40 47-30 31-105 100-33 27-130 95-22 20-15 20-35 75-14 45-11 65 0 60-4 35-11 50-15 45M3641 2831l-2-1M3658 2838l-8-3M1923 3073l16-3 5-5 0-6M5400 3883l-20 16-15 16-32 45M3795 3960l14-45 18-50 22-50 31-65 33-85 10-20 27-40 7-15 8-35 2-25-1-20-10-40-28-60-41-70-17-25-21-25-32-30-47-35-30-15-55-18-25-14-30-28-11-15-9-15-5-20 2-20 6-20 12-25 11-30 11-70 0-20 2-10 9-10 39-20 13-10 9-10 0-5-9-4-42-6M3355 2620l15 75 5 13 5 5 5 1 45-11 35 0 32 7 43 19 10 1 3-5 5-25 5-10 9-10 13-9 10-3 23-1M4741 2620l2 10 3 5 39 28 20 24 10 23 5 30M3783 2663l34-23 17-20M4185 2723l-5 3-5 12-3 12 3 4 12-24 0-5-2-2M5000 2745l-3-35-7-30-11-30-17-30M4170 2755l-2 10 2 2 0-12M4165 2770l0 4 0-4M3880 2770l-5-17-7-8-8-4-10-2-10 2-6 4-7 10-8 35 6 5 30 10 15-3 4-7 2-14M4160 2782l0 7 1-4-1-3M3595 2789l-15-22-5 0-10 5-8 8-3 15 8 35-1 10-16 17-26 43-32 45-11 20-7 25 1 45-8 45-20 70-9 20-9 15-89 103-110 107-52 45-140 105-22 20-16 21-36 74-18 50-10 50-5 75-5 30-13 50-18 45M4980 2795l3-3M4150 2803l-1 2 1 3 0-5M4847 2802l5 3M3880 2808l-2 2 3 5 14 10 35 7 20 13 15 3 12 7 36 0-2-5-131-42M4858 2808l3 2M4956 2810l9-5M3616 2811l-14-14M4868 2813l5 2M4944 2815l10-4M4882 2817l28 2 29-3M4135 2823l-2 2 2 2 2-2-2-2M4115 2840l0 4 6-4-1-2-5 2M4110 2845l4 0-4 0M4100 2849l-3 1 3 3 6-3-1-2-5 1M4050 2860l10 0-10 0M1931 3075l6-2M5400 3806l-20 8-15 9-15 12-15 17-25 42-30 66M3826 3960l12-45 15-45 45-110 32-90 12-25 26-40 9-20 8-35 1-20-2-20-4-20-9-25-28-60-42-70-35-45-38-35-53-37-30-14-55-19-25-15-30-27-18-28-5-15 2-20 5-20 21-50 7-40 5-35 1-20 2-9 10-10 25-12 13-9 18-15 8-10-4-5-45-5M3349 2620l16 113 5 21 1-4 12-15 20-15 22-9 30-3 30 5 25 11 22 16 15 20-4 30 4 25-2 15-27 60-35 55-12 25-5 25 2 30-2 15-16 67-12 38-12 25-14 20-29 30-57 65-76 74-75 68-155 118-17 15-14 15-12 20-33 65-20 50-10 40-10 75-7 40-16 50-20 45M4712 2620l-17 36-10 29-5 32-1 28 1 10 5-19 2-26 10-25 8-10 10-8 20-7 15 0 15 3 15 8 10 7 10 12 10 17 5 14 3 19M3784 2664l36-21 10-10 9-13M5002 2743l-2-33-5-30-10-30-15-30M3882 2768l-1-8-4-10-12-12-15-3-15 3-5 3-5 8-6 26-8 20 4 5 20 1 15 6 15 3 30 19 30 7 20 10 14 4M3590 2776l-10-31-15-20-3-10 1-10 6-15 11-12 17-8 20-2M4930 2820l6-1M3970 2855l10 4 25 2 50 7 31-3 17-5 17-9 25-23 10-13 10-18 5-12 8-25 16-30 0-10-4-4-5-1-5 2-5 5-22 58-7 15-15 20-11 12-15 11-25 10-20 3-30-2-55-16-80-25-10-5-7-8 0-12M5400 3737l-35 3-30 8-22 12-18 19-10 16-10 25-39 140M3855 3960l10-45 13-45 69-195 13-30 29-45 7-15 7-35-1-35-4-20-8-25-29-60-45-75-35-45-20-20-24-20-57-38-25-12-55-19-25-14-32-27-13-16-8-14-4-15 2-20 25-68 10-62 4-35 9-10 22-12 24-18 19-15 8-10-11-4-27-1M3342 2620l18 150 4 15 5 5M4691 2620l-16 33-7 27 1 35 5 35 3 7M3785 2665l38-20 11-10 10-15M3585 2745l-11-15-5-10-2-10 4-15 6-10 13-10 10-3 15-2M5004 2741l-1-31-4-30-9-31-13-29M4686 2754l11-34 14-25 9-10 10-7 20-6 10 1 15 4 10 6 10 9 15 23 7 25M3590 2769l-3-17M3884 2766l-3-16-6-9-10-8-10-3-15 1-10 5-7 9-3 13M3817 2773l-16 32 4 2 20-3 10 0 25 9 22 12M3371 2789l8-29 12-20 19-15 25-9 30-1 15 3 17 7 16 10 10 10 6 10 4 10-1 30 2 20-1 15-11 35-11 25-31 54-11 26-5 25 2 30-1 10-18 70-17 45-10 20-8 10-34 35-53 60-109 105-58 50-151 115-26 25-13 20-20 40-20 35-22 45-8 30-14 75-12 50-17 50-22 45M3898 2833l27 6 22 11M3981 2861l19 2 40 8 25 1 17-2 18-5 25-12 25-24 10-14 10-18 5-12 6-25 17-30 1-10-4-8-5-3-5-1-5 2-6 5-4 7-19 53-7 15-14 20-25 23-25 11-20 3-20-1-55-13-95-31-8-7-2-10M5400 3679l-60-7-25 0-20 3-20 5-15 7-15 11-10 12-9 20-5 20-8 130-6 40-9 40M3883 3960l8-45 13-50 61-190 10-25 30-45 9-20 6-35-1-35-5-20-8-25-33-65-46-75-18-25-18-20-20-20-19-15-70-45-22-10-55-20-25-14-35-30-13-16-5-10-3-15 2-15 22-65 11-65 3-30 7-10 26-17 56-43 4-5-5-2-23 0M3336 2620l15 125 4 22 7 20M4676 2620l-13 30-5 30 2 25 13 48M3787 2667l38-18 14-14 10-15M3585 2740l-7-10-6-15 0-10 3-10 7-10 8-7 10-4 13-2M5006 2740l0-30-3-30-7-30-12-30M4690 2750l15-32 15-20 15-12 20-5 20 4 10 6 10 8 11 16 9 25M3886 2766l0-11-6-14-10-10-10-5-10-2-10 2-15 11-5 8M3812 2778l-2 4M3376 2784l9-26 15-19 20-12 25-6 15 0 15 2 25 11 17 16 5 10 2 10 0 25 1 25-2 15-20 60-28 52-9 23-5 25 3 30-1 10-21 70-17 43-10 19-11 13-34 33-66 72-94 90-59 50-151 115-20 18-10 12-10 15-21 40-34 55-13 25-10 30-21 85-16 55-18 45-21 40M3806 2789l-16 23-10 10-10 5-23 6M3736 2835l-7 1M3907 2837l25 8M3938 2848l4 2M3984 2864l56 10 25 1 35-6 15-6 15-10 25-24 20-34 9-35 16-25 3-10 0-10-7-10-6-3-10 2-10 9-22 62-11 20-12 15-10 11-15 11-25 10-15 2-20-1-50-12-95-30-10-6-4-10M5400 3630l-41-10-39-7-35-4-27 1-23 4-20 7-20 13-15 16-14 25-6 30 1 25 12 80 3 45-3 55-10 50M3910 3960l5-40 10-45 37-135 28-80 11-20 20-30 11-30 4-20 1-25-3-25-5-20-22-50-36-65-40-60-29-35-34-30-72-45-26-13-60-22-25-15-25-20-20-20-8-15-2-10 4-25 14-40 7-25 11-80 4-10 55-42 34-23 21-19 30-15 15-4 10 0 25 9 17 9M3330 2620l15 120 5 20 7 22M4664 2620l-11 30-4 30 5 25 15 44M3788 2668l32-11 12-7 10-10 12-20M3580 2728l-5-18 3-15 7-9 7-6 19-6M3585 2736l-2-3M5008 2740l2-30-2-30-7-30-11-30M4692 2750l13-23 15-20 15-12 20-6 20 3 15 9 15 19 8 20M3888 2768l1-13-4-13-9-12-11-8-10-4-10 1-10 5-10 9M3379 2781l11-23 15-16 20-11 25-5 25 3 22 11 15 15 4 10 2 10 0 45-3 15-20 65-22 45-10 25-4 25 3 35-22 70-17 40-14 25-9 10-35 33-72 77-58 56-80 70-160 123-32 31-10 15-23 42-35 48-14 25-15 40-49 150-16 35-22 40M3794 2801l-14 14M3780 2815l-14 9M3764 2825l-7 3M3917 2842l10 3M3992 2867l48 10 30 1 19-3 18-5 13-6 15-10 25-26 19-33 3-10 5-25 17-25 4-10-2-15-6-9-5-3-10-1-10 4-5 5-5 9-7 25-9 25-16 30-23 26-15 10-15 7-15 3-20 0-40-8-110-35-10-7-2-6M5400 3587l-50-14-45-11-40-6-35-2-30 3-20 7-20 15-14 16-12 20-12 25-7 25-3 20 2 30 21 80 7 50 0 55-4 30-7 30M3936 3960l4-40 7-45 30-120 30-85 10-20 23-40 10-30 4-25 0-25-3-20-5-20-23-50-39-70-41-60-28-34-30-27-67-39-37-20-56-21-30-15-25-20-20-18-10-13-4-13 2-20 15-45 7-30 9-70 6-13 55-45 35-22 25-19 25-13 10-3 10-1 36 16M3324 2620l16 115 5 20 8 23M4654 2620l-10 30-3 15 1 15 6 25 18 41M3790 2670l34-10 11-5 13-15 11-20M3581 2724l-3-14 4-15 8-10 5-4 14-5M5010 2740l3-30-1-30-6-30-10-30M4695 2750l15-23 15-17 15-10 15-5 20 3 15 9 12 13 9 20M3889 2769l3-14-4-15-8-13-10-9-10-5-10-1-10 4-15 14M3382 2778l13-21 15-13 20-9 20-3 25 3 19 10 13 15 5 15 0 35-2 20-10 30-10 40-23 50-9 30-2 20 3 30-24 70-17 35-23 35-20 20-15 12-75 78-60 57-79 68-136 103-51 47-14 20-22 40-39 50-16 25-29 70-48 130-17 35-20 35M3776 2815l-4 3M3994 2869l51 11 30 0 35-8 15-7 15-11 19-19 13-20 14-30 4-25 15-20 5-10 2-10 0-10-5-10-5-5-7-3-10-1-10 4-6 5-8 15-11 39-17 36-11 15-15 15-15 10-12 5-15 3-15 0-30-4-125-39-8-5-2-5M5400 3550l-50-17-45-12-45-9-45-7-40-4-25 0-20 5-11 9-16 45-13 50-10 45-3 30 2 25 25 80 9 50 1 30-2 30-4 30-7 30M3961 3960l2-40 6-45 11-50 14-55 8-25 33-84 26-51 8-25 3-20 1-30-3-25-6-20-26-55-40-70-26-40-44-55-38-30-95-50-64-25-26-13-46-37-13-15-4-10 1-20 15-45 8-35 7-60 2-10 3-5 47-41 38-24 32-23 20-11 10-4 10 0 31 13M3318 2620l16 110 7 25 8 20M4644 2620l-9 31-2 14 1 15 8 25 22 41M3790 2672l40-8 10-5 10-11 14-28M3583 2722l-2-12 4-15 8-10 13-6M4060 2745l-5-6M5011 2741l5-31 0-30-5-30-9-30M4697 2750l13-17 15-16 15-11 15-5 15 1 15 6 15 15 9 18M3386 2775l14-18 15-11 20-7 20-2 20 4 16 9 12 15 5 15-2 40-14 40-5 35-23 55-8 25-2 20 2 35-26 68-15 28-28 39-79 70-88 87-72 63-128 95-40 36-30 32-12 17-26 45-40 50-19 30-44 95-46 115-15 30-19 30M3890 2773l5-18-2-15-8-14-15-15-10-5-10-1-10 5-15 16M3983 2780l3 1M3997 2872l48 11 30 0 20-3 20-7 15-8 14-10 16-16 13-19 17-35 0-20 2-5 14-15 7-10 4-15-1-10-3-10-8-10-10-4-10 0-10 3-7 6-8 12-9 38-11 25-10 19-12 16-13 13-15 10-10 4-15 3-15 1-25-4-130-39-5-3-3-7M5400 3515l-55-19-50-13-175-36-20-1-17 4-13 7-14 13-7 15-3 15 1 15 7 40 2 25-3 115 2 15 26 90 5 30 1 25-3 50-12 55M3985 3960l1-40 4-40 8-45 10-40 12-35 62-145 8-25 3-25 0-30-4-25-8-25-27-55-47-80-37-53-33-37-35-25-37-16-60-30-70-29-25-13-50-39-10-13-2-10 2-20 22-75 5-60 3-10 47-45 83-54 15-6 10-1 26 11M3313 2620l17 110 8 25 9 20M4635 2620l-9 35 1 25 9 25 26 43M3790 2674l20-3 25 0 10-4 10-15 14-32M3584 2721l0-16 3-10 8-8 10-6M4061 2745l-1-5-5-3M5013 2743l6-28 1-30-3-30-9-35M4700 2750l15-18 15-14 15-8 15-4 15 2 15 9 10 11 8 14M4495 2750l-2 5 2 1 1-1-1-5M3388 2775l17-18 15-8 15-5 20-1 20 4 15 10 10 13 4 15-1 15-3 18-13 37-4 40-22 55-7 25-3 20 2 35-26 60-14 25-28 38-24 22-56 45-160 142-128 93-33 30-24 26-29 39-31 55-44 55-19 30-47 95-54 125-31 50M3890 2778l7-18 1-10-1-10-11-20-16-16-15-9-10 2-20 26M3968 2775l4 2M3978 2780l10 3M3746 2865l19-11 40-27 20-10 10-1 22 9M3737 2870l7-4M3999 2874l46 11 30 1 20-3 20-6 15-8 15-11 18-18 14-20 18-35-2-20 2-5 5-6 10-6 5-8 5-15 1-15-5-15-6-8-10-6-15-1-10 4-10 7-8 14-8 35-20 45-10 15-15 15-14 10-10 4-15 3-15 1-25-4-50-14-65-22-15-3-5-3-1-6M5400 3483l-55-19-52-14-173-33-30-1-20 5-20 11-13 13-9 15-6 20-2 20 0 25 15 170 23 100 5 50-1 25-3 30-7 30-9 30M4010 3960l1-65 4-35 6-35 14-45 25-56 45-116 5-24 2-24-1-25-3-20-12-35-11-23-65-112-24-35-19-25-32-31-37-24-43-18-55-27-75-31-31-19-34-27-12-13-3-10 0-10 16-65 8-20 1-10-2-15 3-35 4-8 19-22 26-25M3308 2620l17 105 9 30 11 20M4627 2620l-8 35-1 15 3 15 11 25 29 39M3791 2676l14-2 12 1 14 5 4 5 2 5-3 10-9 20M3585 2710l5-15 5-5 10-7M4063 2745l0-5-9-6M4495 2745l-5 4-1 6 6 5 6-5 0-5-1-4-5-1M5014 2744l8-29 2-30-2-30-9-35M3955 2746l-2 6M4701 2751l19-19 15-12 15-7 10-2 15 2 10 5 10 8 11 18M3954 2764l6 9 15 9 10 3 13 0M3391 2776l14-14 15-9 15-4 20-1 15 3 15 9 9 10 5 15-2 20-16 50 0 30-3 15-20 50-7 25-2 20 0 35-29 62-15 25-23 28-27 24-55 44-70 60-90 73-130 94-47 40-19 20-23 35-36 65-41 55-23 35-56 110-45 100-15 26-24 34M3750 2865l18-10 32-23 20-10 15-4 19 8M4002 2877l43 11 30 1 20-3 20-6 15-7 15-11 27-27 31-50 2-5-8-10-1-5 4-7 15-4 3-4 8-35 0-10-4-10-7-11-15-9-15-1-15 7-10 9-6 10-4 15-2 20-13 33-10 18-15 19-15 14-15 8-15 3-20 0-15-3-44-12-93-30-1-5 10-25 0-10-2-10-12-20-26-30-4-10 2-15 13-40M5400 3453l-60-20-55-15-170-25-30-1-25 6-25 13-15 15-11 19-8 25-3 30 1 45 7 80 11 70 19 95 4 45-2 30-5 30-8 32-12 33M4034 3960l-1-65 3-35 5-30 12-45 17-40 50-135 5-30 1-20-1-25-3-20-17-45-30-56-49-79-21-30-25-30-20-15-15-15-20-10-15-10-170-75-30-19-34-26-9-10-5-10 0-15 13-57 11-23 0-15-3-15 4-30 20-30 18-19M3300 2620l12 70 9 40 9 25 13 22M4616 2620l-8 35-1 15 2 15 4 10 10 15 36 41M3793 2678l17 1 12 6 3 5 2 10-5 17M3589 2706l5-11 7-6M3964 2736l-9 5-6 9 2 15 4 9 5 5 15 9 10 3 31-5M4495 2739l-7 6-2 10 4 8 5 1 5-2 5-7 2-10-3-5-4-2-5 1M4067 2745l0-5-3-5-4-3-9-1M5017 2747l10-32 3-30-2-30-7-35M4703 2753l32-26 15-7 10-2 15 2 10 4 10 9 9 13M3393 2778l12-11 15-7 15-4 20 0 14 4 11 6 10 13 3 11-3 13-11 22-3 10-2 20 1 30-2 15-19 50-7 25-2 20-1 30-15 35-24 43-31 37-34 30-140 113-235 172-30 25-20 20-22 30-36 65-49 75-58 111-55 109-18 30-30 40M3801 2835l14-8 15-5 10 1 12 5M3794 2840l4-3M3756 2865l24-15M4005 2881l45 11 35 0 35-8 15-8 15-11 25-25 23-35 15-15 6-10 10-25 5-35 0-15-5-15-9-13-15-9-10-3-10 1-15 5-10 9-11 15-4 15-3 25-3 10-16 35-18 25-15 13-15 6-25 1-20-3-103-32-23-10-2-5 7-25 0-10-6-15-26-40-5-15 1-20 8-30M1950 3086l8-6 4-7M5400 3411l-65-22-60-14-50-6-75-2-55-7-30 3-30 10-25 14-17 18-15 25-8 25-3 30 0 55 8 85 12 65 19 85 2 40-4 35-8 35-12 35-19 40M4072 3960l-4-30-2-35 1-35 3-30 7-35 14-50 41-115 7-25 3-25 1-25-2-25-3-20-22-50-27-50-17-25-14-25-39-55-34-39-20-13-15-13-25-12-15-9-40-17-22-12-58-24-40-20-50-34-19-17-6-15 1-35 3-20 4-10 7-10 3-10 2-25-5-15 1-10 14-35 20-25M3292 2620l13 70 10 40 12 30 13 20M4605 2620l-9 40-1 15 4 15 12 20 46 43M3795 2681l15 3 8 6 4 10-2 15M3594 2701l6-8M3969 2731l-14 5-9 9-1 10 5 25-2 5-8 1-10-2-9-4-6-5-1-10 6-20-1-5-29-50-8-20 0-20 6-30M4495 2734l-8 6-5 10 3 12 5 6 5 1 5-3 8-11 5-10 0-5-2-5-6-3-10 2M4070 2745l3-5-2-5-5-5-11-2-17 0M5019 2749l11-29 6-30-1-35-6-35M4705 2755l30-21 15-7 10-2 15 1 10 4 10 9 7 9M3395 2780l10-8 15-6 25-3 12 2 13 6 10 8 5 11-3 10-10 15-4 10 0 70-23 70-4 20-3 40-16 35-22 38-25 31-20 19-130 105-290 207-32 25-20 20-25 35-53 93-58 112-67 125-26 40-39 50M4676 2775l5 1M4985 2815l17-15 8-15M4972 2823l5-3M3806 2836l24-10 10 1 10 4M3771 2860l9-6M3762 2865l7-4M4005 2884l40 11 25 3 35-4 30-11 15-10 20-18 31-40 24-23 10-17 5-20 3-45-3-15-5-12-10-13-10-7-15-6-15 0-20 8-10 9-8 11-8 20-4 30-10 25-18 35-17 18-10 6-20 2-12-1-33-9-13-6-3-5 5-5 15-6M1950 3089l8-4 4-5 3-10M5400 3371l-65-23-60-15-45-6-70-3-65-7-35 4-40 12-30 16-22 21-19 30-11 30-6 35-1 50 2 55 6 55 13 70 19 75 2 15-1 20-7 35-12 35-18 41-24 44M4110 3960l-7-35-3-35-1-40 2-40 9-65 38-105 10-40 3-50-3-30-5-20-22-45-16-25-12-25-21-30-14-25-23-28-15-22-35-38-45-31-25-10-20-11-25-10-30-15-55-22-33-18-52-36-16-14-7-15-5-40 3-15 10-17 2-8 3-30-5-20 12-35 9-15 9-11M3284 2620l13 65 12 45 13 30 18 23M4594 2620l-11 50 0 15 3 10 6 10 10 10 53 41M3795 2684l10 3 10 8 3 10-1 7M3974 2726l-19 6-20 10-10-11-21-31-11-25-3-25 5-30M4495 2729l-10 7-6 14 2 10 4 8 5 4 5 1 6-3 15-20 5-15-2-5-9-5-15 4M4073 2748l5-3 2-5 0-5-5-6-15-5-25 1M3929 2755l6-4 4 9 0 5-4 7-5 0-4-7 3-10M5020 2755l14-30 8-30 0-35-5-40M4705 2759l35-21 20-7 10 0 10 3 10 6 10 11M4670 2775l5 3 8 0M5015 2777l2-9M3395 2783l20-10 15-3 10 0 20 7 9 8 2 5-1 5-10 25 4 60-1 20-21 60-11 65-18 40-18 30-20 25-25 24-130 104-115 77-110 79-99 66-19 15-15 15-22 28-25 41-25 48-52 108-63 112-38 58-52 65M4965 2830l20-11 15-12 9-12 5-14M4956 2834l9-4M3808 2838l22-8 20 3M4942 2838l11-3M4904 2841l27-1M4004 2886l41 13 30 4 30-3 30-9 18-11 18-15 39-44 23-21 10-15 7-20 3-50-4-20-6-15-11-15-12-10-15-6-20-1-15 5-10 6-10 9-9 12-9 20-7 35-11 25-10 30-6 10-8 9-15 8-25-1-29-11-4-5 1-5 4-5M3705 2935l9-25 13-18M3700 2945l5-10M3700 2960l-1-5 1-9M1951 3091l12-6 3-5 2-10M5400 3334l-70-27-60-16-110-16-60-2-25 2-25 6-30 9-25 11-20 10-19 14-37 35-23 30-13 30-7 35-3 55 2 55 7 60 12 60 22 85 1 25-7 30-15 40-23 50-24 45M4152 3960l-11-40-7-40-3-45 0-45 2-25 4-20 37-95 7-25 5-25 2-35-1-30-5-30-8-20-51-90-38-55-43-50-37-35-51-30-29-11-20-11-25-9-30-15-60-24-35-22-50-38-9-15-8-40 2-15 10-20 3-32M3277 2620l15 70 14 45 14 30 20 22M4584 2620l-17 65-1 10 3 10 11 10 75 45M3795 2687l9 3 6 5 3 5 2 10M4505 2719l-18 11-11 15 0 10 3 10 6 9 5 3 10-1 5-5 22-26 7-15 0-5-4-6-10-2-15 2M3978 2722l-38 6-10-5-10-12-15-26-6-20 0-20 4-25M4075 2751l15 0 4 4 8 20-2 14M4661 2766l5 9 9 7 10-1 9-6M4700 2767l10-7 30-16 15-5 10-2 10 1 10 4 10 8 5 9M4801 2766l4 19M3395 2787l15-8 20-2 15 4 10 9 2 10-3 20 5 70-3 15-17 50-14 70-19 40-18 30-18 22-25 24-130 103-35 23-77 48-133 94-91 56-30 25-25 30-29 48-20 39-47 103-58 101-45 65-69 84M4100 2790l-5 9M4046 2811l-20-11-2-5 2-4M3810 2840l20-7 20 3M4901 2844l29-1 25-5 35-19 12-9 8-10 7-15 7-30 14-25 9-30 2-35-5-45M4001 2889l49 15 30 5 30-2 30-10 15-9 20-15 65-63 13-20 8-25 2-45-3-20-5-15-8-15-12-15-15-10-15-6-15-1-15 3-15 8-10 8-18 23-17 40-10 13-5 1-14-9-16-5-38 2M3710 2930l8-20 11-16M1954 3094l9-4 5-5 2-5 1-11M4780 3100l-15 5-7 5-6 10-2 10 3 20 15 35 0 35 2 6 5 3 5-6 2-8-3-30 8-20 13-20 5-15-2-15-6-10-7-5-10 0M4095 3179l-5 1-4 5-3 15 2 14 5 10 5 6 5-1 9-19 2-10-2-10-2-5-6-5-6-1M5400 3298l-70-30-55-17-55-9-80-7-30 1-25 3-30 6-30 9-50 21-75 43-20 8-15 3-25 0-27-9-20-15-11-15-2-5-5-3-1 28-5 40-4 70 1 70 3 60 23 145 8 80 11 45 3 30-2 25-7 30-12 30-13 25M4199 3960l-16-40-10-40-5-45 0-45 3-25 7-20 10-20 22-35 11-30 9-40 3-50-3-50-10-55-20-65-20-41-18-29-32-60-15-16-15-12-14 13-11 4-15-2-20-6-85-35-25-8-85-37-45-17-33-19-47-35-10-10-7-10-10-35 1-15 11-30 1-24M3269 2620l17 70 16 50 17 30 21 21M4574 2620l-17 50-12 22-10 8-40 19-10 8-10 13-3 15 4 15 9 10 10 2 7-2 6-5 7-10 30-26 10-6 15-3 25 6 45 20 15 9 10 15 5 4 10 2 10-3 15-16 15-7 35-14 20-1 10 4 10 9 10 35M3795 2690l10 5 6 11M3982 2718l-22 3-15 0-10-5-11-11-11-20-6-20-1-20 4-25M4075 2755l5 1 5 4 9 10 3 5 0 7M3390 2795l15-9 15-3 15 3 10 9 3 10 6 85-2 15-18 50-14 65-21 45-18 30-17 20-24 22-130 102-30 20-80 47-115 82-50 31-64 36-32 25-28 35-31 49-20 39-43 97-57 95-46 65-85 100M4037 2802l-4-2-4-6M3812 2842l18-5 20 2M4889 2846l36 1 25-4 35-16 17-12 10-10 8-15 8-30 19-35 6-20 3-40-5-45M3999 2891l61 20 25 5 30-1 30-10 20-11 19-14 61-56 10-13 9-16 9-30 2-25-2-25-5-20-8-20-10-16-15-16-15-9-15-5-15-1-10 1-15 6-10 6-19 19-26 42-10 9-10 3-67 4M2340 2905l6 5 1-5-7 0M2520 2912l-5 4-2 9 2 6 5 4 5 0 5-5 1-10-6-8-5 0M3713 2930l8-20 10-14M1956 3096l14-6 4-10-1-13M5400 3263l-80-37-50-17-45-7-90-2-50 4-50 12-60 22-75 38-20 4-15-1-10-4-12-10-7-10-6-15-1-15 1-15 10-50 1-15-3-20-10-20-9-10-14-10-10-3-15-3-20 1-15 3-15 6-10 8-8 13-3 15 5 65-7 205 1 70 7 95 23 150 9 85 3 45-3 30-6 30-12 30-17 30M4253 3960l-18-34-13-36-8-35-2-35 2-25 5-20 31-76 8-29 7-35 4-35 1-35-1-40-4-40-10-52-15-48-13-30-49-95-12-30-15-50-6-15-10-13-10-6-15-3-15 3-15 8-10 8-30 38-10 9-15 6-15 0-20-2-50-13-45-17-40-18-40-13-21-12-49-35-15-13-9-12-10-25-4-20 2-10 9-25 1-21M3262 2620l19 75 18 50 8 15 10 15 23 20M4175 2620l-20 9-15 13-34 48-11 10-13 5-37 8-25 2M4565 2620l-12 35-14 25-16 15-33 23-10 10-9 12-4 10 0 10 6 15 7 9 10 4 10-1 10-6 10-12 15-11 20-10 15-3 25 2 40 13 15 8 15 18 10 4 15-3 20-17 10-5 35-11 15-3 10 2 10 8 10 29 5 8M3800 2695l5 5M3985 2715l-25 1-10-1-10-5-10-10-9-15-6-20-1-20 4-25M4080 2760l2 2M3385 2807l10-12 15-6 15 1 9 5 4 5 4 10 2 20 5 65-2 10-16 40-18 75-21 45-18 30-18 20-21 19-130 101-30 19-80 45-115 81-50 31-70 38-30 23-30 37-33 51-20 40-40 90-22 38-35 54-50 68-97 110M3814 2844l16-4 20 2M4887 2848l38 3 30-5 20-9 20-11 14-11 9-10 5-10 11-30 16-28 9-27 4-40-4-50M3774 2871l2-1M3997 2893l83 30 25 3 25-2 30-11 25-15 43-33 22-22 20-32 13-31 3-30-1-30-10-35-17-30-13-15-10-8-23-12M2349 2899l-7-1M2337 2900l-4 5 0 5 5 5 7 1 5-1 5-5 0-5-4-5M2520 2904l-5 3-7 8-2 15 4 10 4 5 6 4 5-1 5-2 5-5 3-16-2-10-3-5-7-5-6-1M2665 2928l-5 7-2 15 4 10 3 4 5 2 5-3 5-8 1-15-6-11-5-3-5 2M3716 2931l9-21 8-12M2090 2999l-5 1-6 5-1 10 7 11 5 3 10 0 6-4 4-5 0-11-7-9-13-1M1959 3099l11-3 5-6 2-10-1-16M5400 3230l-75-39-40-19-30-9-30-3-85 4-55 5-70 12-90 25-15 6-21 18-9 3-5 0-5-4-1-9 12-30 3-10 0-15-3-15-8-20-9-15-12-15-16-15-16-10-15-6-20-4-25-2-30 0-25 3-15 5-14 9-6 10-2 15 3 20 9 35 0 15-18 220-2 70 7 95 8 50 17 95 8 65 0 35-5 45-11 40-19 36-15 19-13 15M4321 3960l-24-30-17-30-12-35-5-35 2-40 16-65 11-50 9-70 2-35-1-45-4-40-6-40-8-35-11-35-16-35-47-90-16-45-18-60-10-20-11-13-10-5-15-2-20 6-20 11-20 14-50 49-10 6-15 5-20 1-25-3-55-14-45-18-50-17-57-40-17-15-14-20-10-30 0-15 9-25 1-20M3254 2620l21 75 21 55 8 15 11 14 30 24M4151 2620l-21 20-28 40-12 11-17 9-28 9-35 3-50-1-10-3-10-8-10-15-7-20-1-20 4-25M4556 2620l-13 35-12 20-14 15-32 28-10 11M4473 2732l-11 18-2 10 13 25 7 7 5 2 10 1 10-2 30-25 15-6 15-4 30 2 40 8 10 6 16 16 14 5 15-3 20-15 10-5 40-11 10-1 10 3 5 4 10 23 10 12M3384 2811l16-13 10-3 15 3 7 7 4 10 3 15 4 65-2 10-14 35-22 80-19 45-19 30-17 18-20 18-128 99-27 16-83 44-117 82-50 31-71 37-29 22-30 36-38 57-21 40-41 90-20 34-40 59-45 59-113 123M4851 2840l7 3M3812 2848l18-4 20 1M4863 2845l3 1M4881 2850l19 4 20 2 30-4 25-9 20-11 15-10 12-12 18-35 11-15 13-40 4-20 2-25-4-55M3767 2878l21-13M3757 2883l6-3M2665 2898l-1 2 0 10-11 20-1 20 3 14 5 10 5 5 5 1 7-5 7-10 3-10 0-10-2-16-9-19-1-10-5-4-5 2M3995 2895l35 13 40 21 20 8 20 4 20 1 25-6 30-14 40-25 25-22 10-15 35-75 4-20 1-30-7-30-18-40-20-28-19-17M2520 2900l-10 5-4 5-5 15 4 20 5 7 10 5 10-2 6-5 6-10 1-10-1-10-4-10-8-8-8-2M3050 2903l0 2 5 3 3-3-8-2M2329 2906l3 9 8 5 5 0M2345 2920l11-5 3-5-1-7M3718 2933l17-33M2085 2994l-12 6-7 10 0 5 7 15 7 5 10 3 10-1 10-4 8-8 3-5-1-15-3-5-12-7-10-1-10 2M1961 3101l14-3 5-8 1-15-3-13M5400 3200l-135-80-20-10-15-4-10-1-15 2-60 22-45 7-25 0-20-2-55-15-45 5-15 0-15-4-15-6-65-44-30-12-155-26-20 1-10 6-5 7-3 9-3 25 4 30 12 55 1 35-23 210-2 80 2 45 5 40 25 125 7 45 2 30-2 30-7 30-12 30-16 27-20 22-25 19-25 13-30 10-27 4M4467 3960l-22-3-26-7-24-11-20-14-17-15-16-20-12-20-10-25-6-35-1-35 5-45 14-95 4-60-2-65-7-60-9-45-12-40-14-35-47-100-13-40-17-80-8-20-10-15-12-13-15-9-15-4-15 3-10 5-15 12-85 82-25 20-15 7-20 4-20 1-25-3-35-9-40-15-45-14-12-7-58-43-17-22-8-16-4-14 0-15 8-25 1-20M3247 2620l25 85 11 30 12 25 10 15 10 10 38 28M4134 2620l-14 17-25 36-15 14-13 8-27 10-30 4-45-3-10-4-10-8-9-14-6-20 0-20 4-20M4547 2620l-11 30-11 20-12 15-38 40M4467 2735l-12 15-9 5-2 5 11 9 20 32 10 6 10 0 15-4 29-23 16-6 20-1 55 7 10 5 20 14 15 3 15-4 30-18 45-8 10 1 5 3 13 19 12 11M3357 2815l4 1M3373 2817l12-2 20-12 10 0 10 6 5 8 4 13 2 60-1 12-13 33-22 76-20 51-16 28-14 15-22 20-131 100-112 59-115 81-55 32-65 34-30 23-25 28-49 73-22 40-40 85-60 90-48 60-123 130M4838 2835l12 8 15 6 40 11 25 2 25-5 25-10 25-13 19-14 9-10 26-40 10-35 5-25 3-30-1-30-3-30M3806 2854l19-6 28 0M3215 2877l-7 8 0 10 7 8 10 1 5-3 5-6 0-10-5-7-5-2-10 1M3040 2889l-5 4-1 7 5 10 5 5 16 10 10 1 6-1 4-5 0-5-10-14-15-10-15-2M3752 2888l23-11 23-17M2660 2893l-4 7-8 25-1 30 3 14 5 11 5 7 5 3 5 1 10-7 11-19 2-10-2-25-11-35-5-4-5-1-10 3M3989 2895l11 6 26 9 37 25 38 30 10 10 5 10 1 10-5 15-20 40-15 25-19 25-23 25-20 18-20 13-20 9-15 4-20 2-40-4-20-5-30-12-35-9-15-7-59-44-11-12-12-18-6-15-3-15 1-10 7-20 0-22M2511 2900l-9 10-5 15 3 21 5 9 5 5 5 3 10 1 9-4 5-5 8-15-1-19M2326 2909l0 2M2545 2917l-5-11-7-6M3720 2935l15-30 7-10M2085 2989l-15 6-16 15-3 10 3 10 14 10 17 5 20-3 15-7 10-10 4-10 0-5-4-10-6-5-19-7-20 1M1964 3104l11-1 5-3 2-5 2-20-4-16M5400 3171l-70-43-75-52-25-11-20-4-20 2-10 5-30 21-15 8-15 6-20 3-30-2-50-16-15-3-55 1-20-2-30-9-56-25-94-16-47-14-18-9-17-11-68-58-10-3-10 3-7 8-7 15-5 20-2 20 1 40 14 70 5 40 1 30-9 110-14 110-3 65 7 95 10 65 23 125 0 25-9 29-15 26-19 20-21 14-25 10-25 3-25-2-25-9-25-17-20-25-14-29-9-35-2-40 9-70 3-95-4-95-14-90-13-45-42-115-9-42-8-63-7-25-19-40-15-20-21-25-8-15 0-10 5-10 28-32 15-26 13-32 10-35 26-55 11-35 0-10-3-10-27-55-20-33-19-22M3239 2620l29 90 14 35 13 25 12 15 13 10 30 20 15 5M4120 2620l-30 45-20 19-31 16-19 4-15 1-37-5-10-5-10-10-7-15-3-15 0-15 4-20M4538 2620l-10 30-11 20-42 50M4460 2740l-14 9M4441 2750l-2 1M4432 2755l0 5 3 5 15 8 4 7 5 20-1 15-14 35-15 25-12 25-19 20-2 5 4 2 5-1 25-17 15-5 10-1 20 3 6 4 8 10 3 10 4 20 1 60-4 25-13 30-2 10 5 10 23 25 5 10 3 15-2 15-4 10-8 8-10 6-15 3-10-1-10-3-15-10-10-10-8-13-4-15-2-25-4-10-32-30-20-25-18-35-12-45-3-5-22-15-10-11-5-9-5-15 2-30 5-25 13-30 29-50 11-11 10-5 10-2 20 2 8-4-13-5-25-2-15-10-10-9-15-19-32-55-18-25M4546 2805l14-4 10 3 10 11 1 10-5 10-14 10-17 6-15 1-5-3-3-4-1-10 9-15 16-15M3366 2820l19-1 20-8 10 2 5 4 7 13 1 60-2 15-13 35-8 30-28 80-11 25-10 15-16 16-23 19-122 93-113 57-115 80-58 35-65 35-29 21-21 24-44 62-32 53-43 88-65 92-45 55-136 140M4834 2835l11 9 15 7 50 16 20 2 20-3 25-9 45-20 19-12 13-15 13-23 6-17 5-25 5-30 3-30-1-30-3-35M3210 2869l-7 6-4 10 1 15 5 7 10 6 15-1 5-3 7-9 2-10-2-10-7-10-5-2-10-2-10 3M3035 2885l-6 5-1 10 4 10 9 10 14 9 10 4 10 1 10-5 2-4 0-10-12-17-20-13-10-2-10 2M2652 2898l-9 27 0 40 7 19 5 9 5 5 10 3 10-5 5-7 11-19 2-10-4-40-11-27M3984 2895l16 10 27 10 13 10 15 15 10 15 7 20 4 20 0 20-4 25-8 20-11 20-18 25-15 15-20 15-20 11-20 8-30 6-35-2-45-14-35-8-13-6-22-19-35-24-15-19-10-16-5-12-3-15 8-25 0-25M2496 2914l-3 16 4 20 8 13 10 6 15-1 10-6 10-17 1-14M2550 2927l0-2M3720 2941l19-36 11-13 30-14 30-23 20-4 26 0M2090 2984l-20 7-19 14-3 5-4 10 1 10 8 10 7 4 25 7 20-3 19-8 11-9 5-7 3-14-3-8-5-7-9-5-16-5-20-1M1987 3078l-2-13-5-12M1973 3108l9-3 3-5 2-8M5400 3145l-70-43-75-51-25-10-40-11-15-2-10 1-10 8-18 23-12 9-15 6-20 2-20-3-40-13-15-3-55-1-20-2-75-23-55-1-35-4-35-9-35-14-20-14-29-30-11-15-8-15-9-30-4-20 3-45 3-10 4-5 8-5 43-7 30-16 15-4 40-2 10 5 17 14 8 5M4447 3480l8-3 10 2 10 6 10 10 10 14 8 16 6 30 1 25-3 20-24 65-8 48-5 7-5 2-5-2-5-9-9-41-26-57-5-15-3-18 0-30 6-25 12-27 10-13 7-5M3232 2620l15 50 20 55 18 39 14 21 16 13 35 22 10 3 20 2 25-2 6 2 5 10 2 50-1 15-51 155-11 25-25 25-140 106-110 54-109 75-81 50-53 30-27 20-22 25-43 60-45 75-35 68-70 95-45 53-145 144M4105 2620l-23 40-19 20-28 15-15 4-15 1-30-5-10-5-10-10-5-10-3-15 0-15 4-20M4530 2620l-8 25-10 20-37 51M4400 2742l-10-6-35-14-20-14-19-23-39-65M4455 2740l-1 1M4428 2755l-1 5 2 5 16 13 4 12-2 10-12 20-12 25-28 36-30 22-10 6-10 3-25 1-15-9-6-9-2-10 0-25 12-35 29-45 8-10 14-8 30-6 9-6 2-4M4829 2834l16 14 33 12 37 22 10 2 15-2 47-17 28-8 15 0 15 6 13 17 53 110 4 15 0 15-3 10-7 10-15 5-15 0-45-15-65-1-15-3-10-6-10-10-6-15-3-45 2-30-3-8-5-4-5 1-6 6 1 9 5 16-1 10-16 35-8 8-10 7-35 15-35 4-40-6-45-16-15-9-15-12-27-31-9-15-5-15-4-25 0-15 15-42 9-8 8-5 33-16 15-5 25 2 15-2 10 1 34 14M3210 2859l-10 6-10 15-1 15 3 10 8 10 10 6 15 1 10-2 10-8 7-12 1-10-3-14-5-8-10-8-15-3-10 2M3040 2879l-13 6-5 10 3 10 10 16 11 9 14 6 15 3 12-4 4-5 2-10-3-10-7-10-19-15-13-5-11-1M3980 2895l15 12 22 8 9 5 17 20 8 20 4 40 1 15-2 20-6 20-7 15-13 20-13 15-15 12-20 12-20 9-25 9-20 3-25-1-30-9-46-10-9-5-17-15-38-27-20-24-12-24-1-15 5-15 2-15-1-15-3-11M2646 2904l-8 21 0 30 1 15 7 20 6 10 8 7 10 2 10-3 6-6 13-25 4-10-4-25 0-20-9-20M2491 2919l-1 5M2490 2925l2 20 6 15 9 10 13 5 15-4 8-6 9-15 2-16M3718 2958l0-8 22-41 10-12 30-16 30-22 20-4 29-1M2065 2990l-15 10-7 10-4 15 1 6 6 9 13 10 19 5 17 0 20-5 19-10 9-10 6-15-1-10-8-12-10-6-25-6-17 1M1989 3076l-2-16-7-11M1976 3111l9-3 5-13M5400 3121l-140-84-60-24-23-13-19-15-15-15-30-40-14-25-8-20-7-30-4-25 0-30 9-70 2-30 0-40-4-40M3224 2620l29 85 24 55 13 24 16 16 39 23 39 12 6 3 5 7 5 15 4 25-3 20-16 51-19 49-11 49-9 21-13 15-18 15-40 30-45 30-35 28-130 69-192 128-38 23-30 22-23 25-42 60-47 75-42 75-81 104-47 51-113 107-32 28M4091 2620l-18 35-18 20-15 10-10 5-25 4-25-5-10-6-7-8-5-10-2-15 1-15 4-15M4522 2620l-8 25-9 20-32 48M4393 2733l-35-18-23-20-15-20-32-55M4424 2755l-1 5 2 7 11 13 3 10-4 10-26 45-24 29-25 18-20 8-10 1-10-2-11-9-3-10-1-10 4-20 10-25 26-39 10-11 10-6 25-8 14-12M4816 2821l9 14 10 11 15 10 26 9 13 10 5 10 0 10-6 20-2 35-6 15-6 10-14 13-20 11-20 6-25 2-30-5-30-10-20-11-20-16-14-15-11-15-7-15-5-15-1-15 1-15 5-20 8-15 10-10 14-9 15-7 15-5 45-1 45 12M3210 2849l-15 6-10 10-6 10-3 15 3 15 10 15 11 7 20 3 20-2 12-8 9-15 2-15-4-15-9-14-10-7-15-5-15 0M3888 2858l5 5M3030 2879l-5 3-5 6-1 12 7 15 13 15 11 7 20 6 15-2 9-6 3-10-1-10-5-10-11-13-10-8-15-6-15-2-10 3M4984 2890l11-1 15 3 10 7 10 11 16 25 11 25 5 25-2 11-15 3-50 0-17-4-12-10-6-13-3-17 2-40 6-15 6-5 13-5M3976 2895l19 17 20 8 7 5 8 10 7 15 4 55 0 20-6 25-13 25-17 20-20 16-20 11-40 15-15 3-17 0-73-16-8-4-53-40-19-19-12-16-5-10-2-10 5-20 1-15-1-15-4-20 19-40 12-15 62-38 15-3 44-4M2642 2905l-6 10-2 10-1 35 9 35 6 10 7 7 10 4 10-1 10-5 8-10 12-25 3-10-6-28M2487 2928l1 17 5 15 7 9 10 8 15 2 12-4 11-10 7-14M2702 2928l0-13-4-7M2556 2949l1-12M2052 2995l-10 10-6 15 0 10 8 15 11 8 15 5 15 2 20-2 20-7 15-9 9-12 6-15-2-10-11-15-7-5-18-5M1992 3075l-1-15-11-16M5400 3100l-129-70-46-19-25-12-19-14-15-15-30-40-15-25-10-25-9-30-5-30-2-30 3-100-3-70M1889 3100l3 2M1980 3115l5-1 5-6 3-13M3216 2620l26 75 33 76 10 19 10 12 10 7 61 31 6 5 4 10 4 35-2 20-6 20-12 25-30 45 0 10 6 35-3 15-5 10-14 15-24 20-21 15-39 25-25 20-15 15-185 103-85 58-70 54-15 8-35 25-24 27-42 60-36 55-56 95-90 110-37 40-80 74-50 44-37 27M4076 2620l-13 30-17 20-21 13-20 3-10-1-12-5-8-7-5-8-3-20 6-25M4514 2620l-7 25-8 20-28 46M4390 2728l-28-18-21-20-18-25-24-45M4421 2755l-1 5 6 20 0 10-8 20-18 30-25 28-16 12-19 9-15 0-6-4-5-15 2-15 9-23 20-31 13-16 12-10 20-7 17-18M4719 2820l36-4 20 1 15 4 25 10 20 22 34 17 6 5 3 5 2 10-5 25-3 35-5 10-12 13-15 11-20 7-25 3-20-2-25-6-20-8-20-13-20-19-14-21-7-20-2-20 3-19 5-13 10-13 15-11 19-9M3210 2840l-10 1-10 5-15 14-11 15-5 15 9 25 11 15 16 7 45 2 16-4 12-10 6-15 1-20-7-20-8-13-10-8-20-7-20-2M3907 2875l5 2M3015 2898l3 10M3972 2895l18 20 26 15 9 15 4 55 0 20-5 25-10 20-22 25-17 14-15 7-40 16-25 3-65-11-35-20-19-14-31-28-14-17-4-15 3-25 0-20-2-20 3-15 9-20 10-16 19-14 51-30 15-3 45-2 5 2 19 12M2638 2905l-6 10-2 10-1 40 11 39 5 7 10 7 10 4 10-1 10-4 10-11 17-36 1-10-5-12M3020 2911l10 15 10 11 15 6 20 5 10-2 10-6 6-10-1-15-4-10-13-15-13-9-15-7-15-1-10 2-10 7-5 12M2706 2924l0-9-3-5M2485 2944l5 16 5 9 10 9 10 4 15 0 10-4 9-8 6-11M2039 3004l-7 16 0 10 7 15 11 10 10 5 15 4 20 0 20-4 20-9 10-7 9-14 5-15-2-10-10-15-12-9-13-3M1995 3075l1-10-3-10-13-14M5400 3080l-92-45-78-33-20-10-17-12-16-15-30-40-14-25-11-25-8-30-5-25-2-25 1-50-6-125M1885 3100l13 10M1980 3118l5 0 8-8 3-5 0-10M3208 2620l21 60 51 121 6 9 9 7 37 18 15 10 4 5 3 10-8 35-6 14-10 12-15 7-10-2-5-6-9-30-17-35-8-10-11-6-45-7-15 1-10 5-10 9-30 33-1 5 1 10 13 40 7 11 5 4 10 3 40-5 10 2 22 10 7 10 0 10-4 10-10 15-15 11-20 9-6 5-3 5 0 10 4 15 22 30 3 10-4 15-15 25-16 20-15 14-75 40-60 24-15 4-40 4-10 3-8 6-33 40-93 85-51 39-24 26-65 95-73 120-118 137-40 39-80 67-40 30-44 27M4057 2620l-6 20-11 19-14 11-16 5-15-3-9-7-3-5-2-10 0-10 7-20M4506 2620l-6 25-7 20-24 45M4390 2724l-25-19-19-20-16-25-20-40M4418 2753l0 17-3 6-7 4-3 5-2 20-13 25-10 13-24 22-11 7-10 3-6-5 1-15 5-14 15-26 10-14 10-11 22-10 7-15 12-15M4740 2825l25-1 25 6 25 13 15 14 27 18 5 5 2 10-6 50-7 15-11 10-15 9-20 6-20 1-20-3-20-6-15-7-21-15-14-15-12-20-4-15-1-20 4-15 8-15 15-13 15-8 20-4M2850 2830l2-5-2-8-2 8 2 5M3965 2890l20 28 25 20 5 12 4 65-3 20-8 20-15 20-18 16-15 9-30 14-15 4-15 2-53-5-22-7-32-18-43-37-11-13-6-15 1-40-1-25 2-15 10-21 11-14 14-11 30-19 25-12 20-2 25-1 15 3 20 10 17 4M2633 2907l-6 13-3 40 11 45 7 10 8 7 10 4 15 1 10-4 9-8 11-15 10-25 2-10-2-10M2710 2920l-1-6M3023 2922l7 11 10 9 30 10 15-1 10-4 6-7 4-10 0-15-4-10-21-22-20-10-10-3-10 0-14 4M2485 2956l5 12 6 7 9 7 10 4 15 0 10-4 9-7 6-9M2037 3002l-8 18-1 10 5 15 10 10 12 8 15 5 25 0 20-4 20-7 11-7 9-12 8-23-2-10-11-16-11-9-14-5M5400 3061l-59-26-92-35-29-13-15-10-15-13-31-39-12-20-11-25-9-25-7-30-3-30 2-40-10-135M1998 3078l2-13-2-10-7-10-11-8M1881 3100l11 10M1997 3110l4-5-2-10M3199 2620l22 60 40 90 5 25-1 20-2 5-7 5-16 5-15-1-25-5-10 1-15 10-34 35-6 10-2 10 6 35 0 35-9 14-22 16-8 10 6 10 22 20 40 45 20 30 4 10 3 15-1 10-4 10-16 15-54 30-30 12-40 11-75 12-41 20-29 20-24 25-44 60-56 60-21 25-60 90-40 70-32 50-21 25-87 97-54 53-56 45-80 55-60 35M4498 2620l-4 25-7 20-22 45M4015 2630l6 0 2 5 0 5-3 5-5 3-5 0-2-3 0-5 2-6 5-4M4390 2720l-23-20-16-20-15-25-16-35M4406 2760l4-3 5 4 0 6-5 4-5-1-2-5 3-5M2857 2823l0-18-2-4-5-3-5 2-3 5 0 17M4732 2835l28-3 25 5 25 13 32 30 4 10-1 35-5 15-10 12-15 9-15 5-15 2-20-2-15-4-15-7-15-10-15-15-9-15-6-15-1-15 3-15 5-10 8-10 14-10 13-5M3844 2870l31 0 30 12 20 4 15 0 15-2 5 5 20 32 18 19 6 10 4 15 2 45-3 20-6 15-13 20-15 15-18 12-30 14-20 4-30 0-25-2-20-6-25-12-14-10-40-35-10-15-3-25 0-50 4-15 8-16 7-9 13-12 35-22 20-8 19-3M2626 2914l-1 2M2624 2921l-5 39 11 45 10 15 15 10 15 2 10-1 15-10 10-13 7-13 7-20 2-14M3021 2924l9 16 10 8 25 8 10 2 15-2 10-5 9-11 3-10-4-25-23-23-10-6-20-8-15-1-11 2M2485 2965l7 10 8 8 15 6 15 0 10-3 9-6 6-7M2035 3000l-8 15-3 10 3 20 8 10 20 14 10 3 30 1 15-3 30-9 9-6 10-15 7-20 1-10-8-15-14-15-11-5M5400 3044l-60-24-75-24-38-16-12-8-15-12-18-20-14-20-13-21-11-24-8-25-7-30-2-25 1-40-7-55-5-80M2000 3080l5-15-1-10-6-10-21-13M1877 3100l11 10M2001 3111l6-6 0-5-6-6M3190 2620l23 60 41 90 3 15 0 10-7 20-10 8-10 2-15-3-15-6-10 1-7 3-13 10-34 35-16 25-5 4-10-2-24-17-21-9-15-2-18 3M4491 2620l-4 25-5 20-20 45M4392 2718l-22-23-15-20-13-25-11-30M4409 2765l1-2 1 2-2 0M2861 2820l3-15-1-10-3-6-5-4-5-1-5 1-5 4-3 6-2 10 3 15M4730 2845l20-5 25 3 20 8 20 16 13 18 3 15-1 15-2 10-11 15-12 8-10 4-15 2-15-1-25-9-14-9-11-10-11-20-3-15 0-10 3-10 6-10 10-10 10-5M3839 2875l31-1 40 13 45 4 5 6 14 28 16 20 5 9 4 16 2 30-2 20-4 15-10 18-15 17-15 11-20 11-20 7-20 3-35-1-20-4-25-9-15-9-40-34-12-15-6-25 0-45 2-15 6-12 12-18 13-11 35-21 15-6 14-2M2620 2925l0 1M3019 2926l9 19 7 9 50 17 2 4-4 20 2 15 10 17 42 53 28 40 5 15 0 6-5 9-28 20-22 11-35 13-50 15-130 29-10 4-10 8-15 16-13 19-30 60-83 105-48 75-51 89-25 36-26 30-59 63-40 36-64 41-116 93-82 47M2619 2931l-4 29 8 25 3 20 9 16 10 9 10 5 15 2 10-1 10-5 7-6 18-26 7-19 2-16M2485 2971l15 16 10 5 10 1 20-3 10-6 6-8M2160 2991l-11-11M2035 2996l-12 19-8 31-40-19M5400 3027l-50-18-75-20-35-14-15-8-15-12-19-20-15-20-15-25-9-20-9-25-6-25-2-25 0-40-7-60-5-75M2003 3083l12-26 5-3 30 19 15 5 40-1 42-12 8-7 14-33 2-10-4-13M1866 3091l17 19M2003 3113l10-8 1-5-11-8M3181 2620l26 65 39 85 4 20-2 10-7 15-6 4-10 2-10-3-15-10-15 2-15 10-50 54-10 7-10-1-20-10-25-8-15-1-15 4M4483 2620l-3 25-4 20-17 45M4394 2716l-18-21-13-20-12-25-10-30M4071 2781l1 4-3 5M2864 2820l6-20-2-15-3-7-5-4-10-3-10 4-5 5-5 10 0 15 5 15M4741 2850l19-2 20 4 13 8 15 15 7 15 1 15-5 15-8 10-18 8-10 2-15-1-20-8-19-16-9-20-1-10 2-10 10-15 18-10M3835 2880l35-2 30 11 50 7 5 5 13 29 17 25 5 15 2 25-1 15-5 20-8 15-8 11-15 14-17 10-23 10-15 3-35 1-20-4-25-8-15-8-40-33-11-16-8-25 0-45 4-12 14-23 9-10 41-25 21-5M3017 2928l8 31 5 11 5 6 15 9 5 6 63 104 5 15 0 20-2 10-6 10-9 10-24 15-45 20-77 21-40 4-31 5-12 5-20 15-15 15-10 15-11 25-10 35-9 15-78 100-43 70-36 66-25 38-23 31-36 40-31 32-25 21-90 57-15 12-46 33-59 50-65 35-38 25M2616 2934l-5 26 8 25 4 25 5 10 7 7 10 8 10 5 10 2 15-1 10-4 10-9 10-12 9-16 6-15 2-18M2485 2975l15 16 10 4 10 1 15-1 10-4 8-6 5-7M2033 2993l-25 37-3 1-10 0-22-8M5400 3011l-50-16-70-16-35-14-15-8-15-12-15-16-15-19-23-40-9-25-7-25-3-25-1-45-8-60-4-70M1859 3084l10 16 10 11M2005 3115l10-5 6-5 1-5-2-4-13-6 0-5 3-7 10-7 10 1 20 11 15 2 40-3 53-12 5-5 2-20 8-20 1-10-2-10M3172 2620l30 75 38 79 3 16-5 20-5 5-8 2-6-2-19-13-10-1-10 3-15 11-45 48-15 9-10-1-30-10-15-3-15 1-12 4M4474 2620l0 25-3 20-7 25-8 20M4397 2715l-18-25-11-20-10-25-6-25M4066 2780l1 5-2 2-5 1-4-3 2-5M2868 2820l7-20 1-20-6-13-5-4-10-3-10 1-7 4-8 7-5 8-2 10 0 10 9 20M4739 2860l11-4 15 0 15 5 10 7 8 12 3 10-1 15-6 10-14 9-15 2-15-3-15-8-11-15-2-15 5-15 12-10M3831 2885l39-2 30 11 15 2 30 8 5 6 13 30 16 25 3 40-2 12-5 13-10 15-10 12-39 23-11 3-40 3-50-14-21-17-21-15-18-29-4-16 2-15-2-25 4-10 14-25 6-7 38-23 18-5M3014 2930l3 20-3 20 6 23 15 25 23 22 12 16 15 24 8 20 2 15 0 10-6 15-7 10-26 20-43 20-53 15-55 7-30 6-25 11-15 10-13 16-8 15-8 20-10 40-10 20-77 100-74 128-20 32-25 33-40 47-40 38-100 68-20 16-15 8-29 20-61 45-60 30-65 45M2612 2938l-4 22 3 11M2483 2977l7 10 10 7 20 5 15-1 10-3 10-7 6-7M2615 2980l5 32 3 8 7 9 20 14 10 3 15 0 10-2 10-5 15-16 16-28 3-10 1-15M2031 2991l-26 32-5 1-10 0-20-5M5400 2995l-45-13-70-14-30-11-20-11-15-12-15-15-15-20-22-39-15-45-3-25-1-40-8-65-4-65M2350 3049l-10 6-1 5 2 10 4 5 10 3 10-2 10-4 7-7 0-5-1-5-6-5-10-3-15 2M2230 3054l-17 6-4 5-1 5 4 5 18 6 25 3 45-2 10-2 6-5 1-5 1-10-2-5-11-4-55 0-20 3M1855 3080l7 15 15 18M2007 3117l18-7 15-11 10-3 80-12 35-3 10-2 5-4 1-5-10-15-1-5 0-5 8-20 0-10-3-10M3162 2620l40 95 32 65 2 15-1 10-5 6-5 2-6-3-9-9-10-7-10-1-10 2-19 15-41 45-15 9-15 0-40-10-15 1-14 6M4465 2620l2 20-2 25-5 25-7 20M4400 2715l-15-25-10-20-8-25-4-25M2871 2821l11-26 2-15-1-10-5-10-5-5-8-4-10-2-10 2-10 5-9 9-6 10-3 10 1 15 11 21M4749 2865l11-2 10 2 9 5 5 5 4 10-1 10-2 5-10 9-10 4-10 0-10-4-9-9-4-10 1-10 7-9 9-6M3828 2890l42-2 10 2 15 8 15 2 14 5 7 5 14 15 11 30 13 15-2 25 2 15-19 34-5 4-15 7-19 15-21 0-25 6-17-6-29-5-14-13-26-17-19-32-2-8 2-15-2-25 17-34 40-27 13-4M3011 2930l1 15-7 25 5 22 10 33 5 11 30 44 10 25 1 20-1 5-7 10-17 15-25 15-31 13-65 17-55 5-25 6-13 4-12 7-7 8-14 25-8 30-9 45-6 15-16 24-62 81-93 150-65 85-25 25-24 20-70 55-11 5-17 15-18 9-15 11-70 40-55 25-100 70M2609 2940l-5 20 3 10M2481 2979l14 16 10 5 15 3 15-2 15-5 8-6 5-7M5400 2979l-45-13-65-11-30-10-18-10-17-12-15-15-15-19-20-34-8-20-7-25-5-60-7-60-3-70M2030 2989l-20 22-10 7-15 1-15-4M2614 2991l4 29 11 15 26 15 10 1 15 0 10-4 10-7 15-17 13-23 4-10 1-23M1851 3076l7 19 7 10 10 10M2010 3120l55-19 50-8 55-1 130 8 50-5 20-5 15-7 13-13 2-5-1-5-12-15-7-5-10-2-55-2-74 4-36 3-7 2-8 6-5 1-5-1-4-6 5-10 2-10-5-20M3151 2620l62 150 13 20 2 10-1 5-2 1-2-1-9-15-9-8-15 0-15 6-10 8-40 46-10 9-10 5-15 2-30-6-15-1-15 2-13 7M4455 2620l4 20 0 25-3 25-7 21M4404 2715l-14-25-9-25-5-25-1-20M2873 2823l11-18 6-15 2-15-1-10-3-10-8-9-10-5-10-2-15 2-10 5-11 9-10 15-4 15 1 10 6 15 10 13M4753 2875l12-1 7 6 1 10-3 6-10 4-5 0-7-5-3-5 0-5 2-5 6-5M3827 2895l13-3 15 3 20-2 10 4 10 7 20 4 8 7 7 15 10 10 4 10 6 25-1 15-10 30-24 27-40 15-20-3-15 1-10-2-15-11-20-10-10-14-12-13-4-10 0-10-4-20 9-35 6-9 20-18 27-13M3008 2930l0 15-8 20 0 10 15 75 2 30-3 15-11 20-13 14-15 13-25 17-25 13-35 8-30-1-30 4-40 12-10 5-10 9-5 8-4 13-3 45-7 45-12 35-13 25-26 39-156 186-19 30-33 65-18 25-36 35-28 22-14 8-11 10-15 7-19 13-31 16-35 13-25 5-15 7-144 99M2606 2940l-5 15 2 13M2122 2958l-9 0M2575 2957l1-3M5400 2963l-45-12-65-11-30-11-15-8-15-11-15-14-17-21-18-30-13-40-4-45-8-65-3-75M2475 2975l15 21 10 6 15 3 15 0 19-5 11-8 5-7M2030 2985l-20 20-10 7-15 3-19-4M2612 2993l1 27 5 10 7 8 20 13 10 4 10 2 15-1 10-3 10-6 10-9 9-13 15-25 4-10 0-10-3-15M1847 3072l3 13 5 11 6 9 12 12M2012 3122l68-17 35-4 170 8 40-2 46-7 15-5 14-8 5-4 4-8 0-15-11-15-18-11-20-4-45-1-45 1-50 5-20-2-5-1-5-6-9-22M3140 2620l45 110 4 20-1 10-3 5-25 24-35 44-15 14-10 4-10 1-35-5-15 0-15 4-12 9M4442 2620l8 21 3 24-3 30-7 22M4407 2715l-11-25-7-25-2-25 3-20M2875 2825l14-20 7-15 5-15 0-15-6-15-10-10-10-5-15-1-15 3-15 8-15 15-8 15-3 15 2 15 5 10 14 16M3826 2900l7-3M3846 2896l9 2 20-1 14 8M3819 2905l2-1M3803 2910l11-4M3892 2907l18 5 9 8 6 13 7 7 6 10 5 25 0 10-7 25-6 10-13 15-7 6-30 13-10 2-15-3-15 1-10-3-10-7-19-9-5-5-6-10M3005 2930l-2 15-9 20 7 45 3 40-2 30-9 20-8 9-20 17-20 13-25 11-40 9-20 1-30 5-45 13-25 12-5 5-7 10-5 15-3 55-5 20-2 15-7 20-4 20-12 30-15 27-18 23-27 30-15 15-51 60-53 60-16 21-20 37-24 57-21 28-20 21-10 6-15 14-13 6-12 11-15 6-15 11-15 6-15 9-30 9-35 4-15 6-119 78-49 35M2604 2939l-8 16 2 10M3775 2945l4-10 10-9M5400 2947l-45-13-65-11-25-8-20-10-15-11-15-15-15-18-18-31-10-35-2-35-9-60-2-80M2124 2956l-14-1M2142 2960l-10-3M3773 2957l2-10M2152 2965l-4-2M2467 2962l5 13 11 20 7 6 10 4 20 5 15-2 20-7 10-11M2576 2961l4-11M2030 2981l-25 22-10 6-15 1-15-2M2609 2995l0 30 4 10 7 8 25 16 10 5 20 0 10-1 10-5 20-17 27-41 2-15-6-23M3790 3020l-10-10-5-10-5-25 1-14M2835 3027l-5 3 0 15 5 11 10 11 10 4 10-2 15-7 7-7-1-5-4-5-8-5-24-10-15-3M1844 3069l3 16 4 10 9 13 11 11M2014 3124l66-12 30-3 45 3 90 1 45 3 30-1 60-9 20-6 10-5 6-5 6-10-1-10-3-10-10-15-13-10-9-5-26-5-45-1-45 0-45 4-15 0-10-3-5-3-12-20M3128 2620l32 74 10 26 4 25-4 15-45 64-16 16-9 5-10 1-40-3-15 1-10 3-10 7-16 17M4411 2716l-11-31-2-30 2-13 5-9 5-5 10-2 10 5 5 6 5 9 5 16 2 18-1 15-8 25M4430 2730l-5 3-3-1M2875 2829l16-19 13-20 6-20 1-15-5-15-11-13-15-7-15-1-20 4-20 12-15 15-10 20-3 15 3 15 9 15 17 16M2838 2845l7 6 5 2 5-1 7-7M2995 2878l-1 3M3868 2900l4 0M3898 2913l7 2 8 5 9 15 8 10 5 10 4 30-6 20-5 10-18 20-35 16-35-1-10-4-9-6M3003 2930l-4 15-14 20 9 35 2 45-3 30-9 20-29 26-40 19-35 8-20 1-35 6-35 9-35 15-14 11-6 10-2 10-3 55-8 45-16 55-15 30-20 30-15 15-11 15-17 15-48 58-55 60-15 19-20 35-26 63-14 21-20 22-25 21-25 18-55 29-30 12-45 6-10 3-124 73-74 50M5400 2931l-60-18-55-8-20-6-20-10-15-11-27-28-17-30-8-30-10-85-2-85M2602 2937l-12 16-5-3-3-7M3781 2939l4-6M2462 2952l3 13 6 15 9 18 10 10 25 6 15 0 25-8 5-3 8-10M2578 2963l7-7 5 0 5 9M2163 2970l-13-9-10-5-15-3-18-1M2035 2974l-30 24-10 6-15 2-15-1M3775 2981l-1-17M2606 2995l-2 35 6 23 5 7 40 22 10 0 25-9 10-6 23-22 17-29 20-16 5 0 10 11 9 14 20 50 14 15 22 16 10 4 30-18 20-6 15-1 30 4 8-4 3-5-1-5-5-7-25-17-25-21-35-18-25-22-15-5-40-1-8 1-12 8-10-8-15-25M3790 3015l-9-10-3-7M3819 3039l-14-6-8-8M1841 3066l2 14 5 15 9 15 13 11M2015 3127l90-11 45 4 95 0 50 2 35-1 47-6 28-6 23-9 32-18 50-2 10-5-1-5-4-2-40-9-5 1-15 10-10 0-10-6-16-19-13-10-16-9-15-4-20-3-75-1-65 5-15-4-5-4-10-15M3115 2620l31 70 11 30 2 25-6 20-30 50-8 11-10 9-15 5-45-2-20 5-10 6-15 16-7 10-3 10M4418 2723l-8-23-3-20 3-18 5-7 5-2 5 1 5 3 5 8 5 15-1 25-6 17M4430 2726l-5 3-5-3M2870 2839l23-24 16-20 9-15 4-20-2-20-10-17-15-11-20-4-25 4-25 14-20 20-12 24-3 20 4 15 12 15 24 19M2833 2843l7 9 10 5 10-4 7-10M3903 2918l7 4 7 10M5400 2915l-70-22-45-5-20-5-20-10-15-10-25-24-15-27-8-27-8-75 0-90M3000 2930l-5 15-5 7-9 8-2 5 1 10 7 20 3 35-4 35-11 23-4-3-3-15-12-15-46-30-35-20-11-10-19-23-10-4-30 4-45 1-10-6-10-12M2599 2934l-9 9-6-2M2459 2939l2 26 18 50-2 5-32 22-10 1-40-20-30-7-90-4-50 6-15-1-10-4-13-15M3925 2944l4 6 4 10 2 20-1 10-7 20-16 20-11 7-25 10-35-1-14-6M2580 2965l5-2 8 4M2035 2971l-40 28-15 3-18 0M2171 2975l-11-11-15-9-20-5-21-1M2604 2994l-9 38-5 14-5 6-10 7-15 6-10-2-45-23-10-10-2-5 7-4 15 2 10 0 30-10 10-9 5-9M3814 3034l-8-4M2745 3045l5-3 5 2 1 11-1 5-5 6-10 3-3-4 0-5 8-15M1839 3059l0 16 5 20 11 17 15 12M2890 3110l20-4 20 2 15-1 2 3-2 2-15 4-20 14-30 6-6-1-7-5 2-5 11-9 10-6M2015 3130l85-7 55 3 170 1 68-7 72-14 55-7 30-7 10-1 35 8 35 1 30 5 45-4 6 4 19 23 15 8 15-2 25-16 10-3 15 3 33 12 4 5-7 4-20 2-55 16-25 13-9 10-5 10-2 10-1 60-7 45-15 55-14 30-22 33-12 12-13 17-15 13-50 60-55 60-17 20-17 30-29 70-12 18-20 21-50 39-50 27-30 12-55 8-101 50-61 35-65 45M3101 2620l34 75 9 25 2 25-7 25-18 35-16 21-5 4-10 3-50 0-20 7-10 7-19 23-4 10 0 8M4419 2685l1-2 5-2 5 4 3 10 0 10-2 10-6 7-5-5-3-12 0-10 2-10M2865 2699l-15 4-15 7-25 20-17 25-6 15-3 15 0 15 8 15 34 25 14 18 10 4 10-3 15-20 44-44 10-15 5-20 0-15-3-15-5-10-9-10-12-7-10-4-15-1-15 1M2704 2870l-4-4-7-3M5400 2900l-65-22-55-7-20-6-30-15-22-20-15-25-5-15-3-20-5-60 1-90M2294 2924l1 3M2997 2927l-3 13-9 13M2298 2933l7 8M2598 2933l-8 5-5-1M2385 2939l8-12M2456 2936l1 24 9 30 2 15-3 8-6 7-9 7-10 4-15-1-35-14-30-6-90-3-55 6-15-5-11-12M3924 2946l6 14 2 20-1 10-8 20-13 16-10 7-25 11-35-1-9-4M2369 2951l2-1M2349 2956l10-1M2041 2964l-46 30-15 5-22-1M2975 2965l-1 10 6 25 0 25-5 14-5 3-10-2-30-14-40-21-15-12-13-18-10-20-3-10 6-20-2-5-3-2-5 5-1 17-2 5-14 10-13 5-20 4-30 0-10-2-12-10M2583 2968l2-1 6 2M2175 2975l-15-15-15-8-20-5-24-1M2601 2991l-6 19-10 16-10 9-10 3-13-3-1-5 14-13 5-9 3-13M1837 3057l-1 23 6 20 13 17 10 8 10 5M2012 3133l83-4 60 3 165 1 70-5 165-19 80 7 50 12 15 9 12 13 5 15-1 30 2 65-6 45-8 30-8 25-14 30-20 30-42 45-65 76-35 37-20 24-16 28-32 75-11 15-21 23-45 34-55 30-30 12-50 7-77 29-48 22-68 38-64 45M3084 2620l8 20 29 55 9 25 2 25-2 15-5 15-15 32-6 8-9 8-15 4-45 1-15 5-10 7-23 30-4 15 2 12M2865 2689l-30 13-15 10-15 15-10 13-10 17-7 18-2 15 1 15 3 8 5 6 35 23 20 23 10 4 10-2 5-4 11-18 9-10 48-40 10-15 6-25-1-15-3-15-7-15-8-10-15-9-15-4-15-1-20 3M2710 2875l-5-10-5-3-10-2M5400 2885l-65-21-60-8-20-6-25-11-20-18-10-14-6-12-6-35-2-55 3-85M2610 2893l-3 5M2992 2917l2 8-2 10-8 14M2291 2921l4 14 10 10M2455 2930l-2 10 0 15 8 35 0 10-6 12-15 9-15 1-45-13-25-4-40 0-45-4-40 7-15 1-15-6-10-10M2596 2931l-6 3-3-1M3922 2948l5 12 1 30-6 15-12 17-10 7-25 12-30 0-12-4M2056 2954l-23 11-43 27-15 3-20 0M2346 2959l9 0 10-2 15-10 13-12 4-10 0-7M2973 2963l-3 12 1 20-2 15-4 7-10 5-20-4-25-11-20-12-10-9-8-11-6-15-4-40-7-12-5-2-7 4-4 5-11 25-8 8-10 5-15 4-25 1-15-3-10-5M2185 2985l-15-20-20-14-25-7-26 0M2598 2988l-3 12-5 6-5 3-5-2-3-14M1835 3051l-3 24 7 25 14 20 12 9 10 4M2010 3136l85-2 60 3 165 1 80-4 155-13 25 1 50 5 25 7 20 8 15 11 9 12 6 17 7 43 1 45-5 30-7 30-9 30-14 30-18 26-40 43-65 76-58 65-18 30-32 75-7 10-23 25-42 32-50 29-25 11-15 4-45 6-50 13-46 15-48 20-36 18-35 21-72 51M3065 2620l10 25 28 50 11 25 4 25-3 25-10 26-6 9-9 9-15 5-45 3-15 5-11 8-18 25-5 10-1 20 5 17M5400 2871l-65-20-60-8-20-4-25-11-20-17-12-21-7-35 6-135M2714 2879l-2-14-5-5-7-3-13 0M2616 2884l-11 11-4 9M2578 2893l-3-5M2987 2912l3 8 0 10-8 17M2288 2918l1 12 5 10 6 6 11 5M2452 2927l-3 13-1 10 7 35 0 11-4 9-6 5-15 5-15-2-50-12-50-1-40-5-15 1-35 8-15-1-10-4-5-4-20-30-20-15-25-8-34-1M2593 2928l-3 2M2061 2949l-26 12-45 27-15 4-23 0M3917 2947l7 13 1 30-7 15-10 15-8 6-25 11-30 1-10-3M2336 2960l14 3 10-1 20-10 17-17 4-10-1-11M2971 2961l-5 9-6 28-5 6-5 3-10 1-10-2-30-13-15-13-9-15-4-15-3-30-11-30 0-5 12-16 10-20 7-9 18-15 35-18 10-7 6-10 6-20 3-20-1-20-3-15-6-15-9-10-11-8-15-5-15-3-15 1-20 3-20 8-15 7-15 11-15 14-20 26-10 21-6 20-2 20 3 15 5 6 31 14 14 9 24 31 2 5 0 5-11 17-10 24-5 6-10 8-15 5-15 1-25-2-10-3M2595 2985l0 5-5 8-5 1-5-9M1833 3048l-3 12M1830 3084l5 16 10 17 15 13 16 6M2010 3139l305 4 100-3 145-9 25 1 40 5 20 6 20 9 15 11 10 12 10 22 7 28 2 15 0 35-4 25-15 54-11 26-15 25-168 190-19 30-25 60-10 20-7 10-20 22-35 27-25 16-30 17-25 11-35 8-50 6-50 10-46 13-44 18-35 17-40 24-37 26-39 30M3040 2620l3 15 6 15 39 55 8 15 5 15 2 15-2 20-6 18-9 12-6 5-10 3-45 4-40 12-5-9-1-15 5-65 0-25-4-17-8-13-17-12-15-5-15-2-30 2-35 9-20 10-20 14-16 14-16 20-19 35-16 55-8 20 5 3 25-3 15 2 15 5 11 8 10 15 6 15-1 10-10 30-11 11-10 5-10 3-40-1-10-3M5400 2858l-65-18-60-7-20-4-25-11-10-7-10-10-9-16-6-30 10-135M2620 2877l-20 18-3 5 0 8M2717 2882l3-15 5-5 7-2 7-10-4-3-15 6-25 0-11 2M2582 2907l1-12-8-12M2742 2907l-5-7-4-2M2285 2914l0 16 7 15 13 8 19 6M2450 2925l-4 10-3 10 1 15 5 25-1 10-8 9-15 4-65-15-45 2-45-7-10 1-35 10-15 0-10-4-25-34-20-14-15-6-15-2-20-1-21 2M2591 2926l-4 1M3908 2938l13 22 1 20-2 15-12 20-8 7-25 12-35 0-11-5M2065 2945l-30 13-35 21-15 6-20 4-26 0M2970 2957l-6 8-12 25-7 5-5 1-15-1-15-5-10-6-10-11-10-22-9-56 3-15 11-25 6-10 9-9 10-6 20-6 10 2 15 9 20 1 3 9-3 25 1 15 11 40-2 10-5 10M2327 2960l18 7 10 1 10-2 15-9 15-12 8-10 2-10-3-17M2591 2981l-1 9-5 1-3-8M3821 3025l-11-6M1830 3098l9 17 11 12 15 9 21 5M2008 3142l37 2 260 4 145-2 110-5 25 1 35 5 25 8 18 10 16 15 11 15 7 15 6 25 2 35-3 25-7 30-10 30-10 25-15 25-25 28-17 17-68 80-56 60-19 30-27 65-10 20-28 31-30 24-25 16-30 17-25 12-35 8-75 5-40 6-45 11-40 15-41 20-42 25-43 30-44 35" fill="none" stroke="#333" stroke-width="2.8" stroke-opacity="0.3"/>
<path d="M3860 2682l-2-9M3147 3340l-116 84M3030 3425l-67 55-33 40-45 80-64 90-56 110-45 100-39 60M5400 3453l-60-20-55-15-170-25-30-1-25 6-25 13-15 15-11 19-8 25-2 75 7 80 30 165 4 45-7 60-20 65M4034 3960l-1-75 11-70 9-30 64-165 6-30 2-55-10-40M3101 3370l-5 4M3081 3385l-3 2M3045 3410l-1 1M3011 3435l-3 2M5400 3444l-60-20-60-15-175-23-25 0-25 7-23 12-17 16-12 19-8 25-3 30 0 50 8 80 31 165 2 45-7 60-22 65M2998 3445l-41 35-23 25-52 90-57 80-56 105-55 120-40 60M4125 3513l-2-5M4042 3960l-3-65 8-65 11-45 64-170 7-45-2-48M5400 3436l-61-21-59-15-175-20-30 1-25 7-23 12-17 16-14 24-8 25-2 80 7 75 31 165 3 45-9 65-23 65M2974 3460l-28 25-22 25-48 85-56 80-56 105-56 120-41 60M4049 3960l-3-70 7-65 13-45 60-165 6-35 0-43M5400 3428l-65-23-60-14-175-18-25 1-30 9-25 14-18 18-13 25-7 25-2 80 7 75 31 160 2 45-9 65-26 70M2962 3465l-27 25-20 25-45 80-52 75-58 109-56 116-44 65M4136 3579l0-28M4057 3960l-4-75 8-70 11-40 56-155 7-40M4218 2772l2-5M5400 3419l-65-22-60-14-180-17-30 4-30 10-20 12-17 18-15 25-7 25-3 30 1 55 7 80 30 150 3 45-4 35-7 35-28 70M2951 3470l-26 25-16 20-46 80-48 72-117 228-44 65M4139 3576l1-21M4064 3960l-5-75 8-70 21-75 43-120 8-36M5400 3411l-65-22-60-14-50-6-75-2-55-7-30 3-30 10-25 14-17 18-15 25-8 25-3 30 0 55 8 85 31 150 2 40-4 35-8 35-31 75M2940 3475l-1 1M2935 3480l-35 40-43 75-46 70-116 226-48 69M4142 3577l1-25M4072 3960l-6-75 7-70 19-75 43-120 7-37M5400 3403l-65-23-60-14-55-6-70 0-55-8-30 3-35 12-25 15-18 18-15 25-8 25-3 30-1 55 8 90 32 150 1 40-5 35-9 35-32 75M2929 3480l-24 25-21 30-84 141-110 214-49 70M4079 3960l-6-70 5-75 18-75 44-125 6-35 0-36M3977 2800l-3-1M5400 3395l-65-23-60-14-55-6-70 0-55-7-30 2-35 11-25 14-20 18-16 25-11 30-4 30-1 50 8 100 12 65 21 85 0 35-4 35-10 35-15 39-20 41M2924 3480l-25 25-21 30-79 135-112 215-53 75M4148 3528l-3-16M4087 3960l-8-70 5-75 14-70 47-135 5-40-1-29M5400 3387l-65-23-60-14-55-6-65-1-65-7-35 5-35 12-25 15-16 17-17 25-10 30-5 35-1 50 8 100 13 70 20 80 1 30-5 35-12 40-37 80M2919 3480l-29 30-21 30-74 128-110 211-57 81M4095 3960l-9-65 2-70 14-80 39-110 9-35 3-50-3-30-5-19M5400 3379l-65-23-60-14-50-6-70-2-60-7-35 3-35 11-27 14-23 21-19 29-11 30-5 35-1 50 9 110 11 60 20 80 1 35-5 32-12 38-18 43-23 42M2908 3485l-24 25-21 30-68 120-113 215-26 40-35 45M4103 3960l-11-80 5-85 9-50 45-130 6-45-4-55-13-33M5400 3371l-65-23-60-15-180-16-35 4-40 12-30 16-22 21-19 30-11 30-6 35-1 50 8 110 13 70 19 75 1 35-7 35-12 35-42 85M4126 3446l-1-1M4132 3457l-2-4M4136 3466l-1-3M2903 3485l-24 25-21 30-58 102-120 227-26 41-39 50M4110 3960l-7-40-4-45 0-45 5-50 6-35 42-120 9-55-4-55-17-40M5400 3364l-65-24-60-15-180-18-35 4-45 14-30 17-24 23-20 30-11 30-6 40-2 50 9 115 12 65 20 75 1 30-6 30-13 39-46 91M4086 3376l-1-2M4103 3398l-8-11M4110 3410l-5-9M4114 3419l-4-9M4119 3429l-4-8M2898 3485l-25 25-23 33-170 318-29 44-42 55M4119 3960l-9-40-4-45-1-45 5-56 5-30 44-129 7-55-4-40-5-20-37-69M4077 3352l-7-11M5400 3356l-65-24-60-15-175-19-40 4-45 14-35 19-25 23-21 32-12 30-7 40-3 55 10 115 12 65 20 75 1 30-7 30-13 36-48 94M2893 3485l-25 25-23 33-165 309-31 48-46 60M4127 3960l-10-45-5-45 3-100 5-26 44-129 6-65-4-35-8-25-49-90-29-43M5400 3349l-65-25-60-16-125-16-50-3-45 6-46 15-34 19-29 26-21 30-13 30-7 40-3 60 2 55 7 60 12 65 21 75 1 25-7 30-13 36-51 99M2887 3485l-28 30-29 45-92 180-68 121-30 44-43 55M4135 3960l-10-40-6-45-1-45 2-55 5-30 36-100 10-35 5-45-3-40-10-35-49-90-40-60-24-27M5400 3341l-65-25-60-16-110-15-65-5-45 7-53 18-35 20-32 30-22 30-15 35-6 35-3 60 2 55 7 60 13 65 20 75 1 25-7 30-15 39-49 96M2877 3490l-23 25-24 36-70 138M2759 3691l-4 8M2738 3732l-3 6M2733 3742l-73 127-69 91M4144 3960l-11-40-7-45-2-45 2-55 6-35 36-95 9-35 5-45-4-45-11-35-51-90-37-55-44-52M5400 3334l-70-27-60-16-110-16-60-2-50 8-55 20-39 24-37 35-23 30-13 30-7 35-3 55 2 55 7 60 12 60 22 85 1 25-7 30-15 40-47 95M2872 3490l-23 25-24 37-65 129M2724 3751l-4 8M2718 3762l-64 108-69 90M4152 3960l-11-40-7-45-2-95 7-40 33-85 12-40 4-50-4-50-12-35-53-90-38-55-39-45-22-21M3935 2766l-4-1 4-6M5400 3326l-70-27-65-17-110-15-65-1-55 12-55 23-42 29-47 45-19 25-12 30-6 35-1 50 9 100 14 75 19 75 2 35-6 30-16 45-41 85M2862 3495l-22 26-24 39-51 102M2709 3771l-60 99-70 90M4161 3960l-12-40-8-45-4-45 1-50 7-40 34-80 13-45 4-50-4-50-14-40-54-90-40-55-41-45-28-25M4578 2693l2 6M5400 3319l-75-30-65-17-110-14-65 1-55 13-55 24-49 34-72 60-13 20-10 30-3 40 1 50 8 75 34 165 3 35-5 35-12 40-16 40-20 40M2841 3514l-36 57-35 72M2768 3647l-3 7M2700 3780l-56 90-71 90M4170 3960l-13-40-8-45-5-50 1-45 8-40 34-75 13-45 5-55-6-55-16-45-52-85-42-55-44-45-31-26M4574 2690l6 15M4115 2737l-4 7M4110 2746l-6 14M5400 3312l-75-30-65-18-105-13-65 1-50 10-55 22-95 61-55 29-13 11-11 20-6 30-2 50 2 55 8 65 35 195 2 30-4 30-9 35-30 65M2827 3528l-7 11M2818 3542l-48 92M2693 3785l-53 85-73 90M4179 3960l-13-40-10-45-4-45 0-45 8-42 36-73 13-45 5-60-7-65-19-50-25-45-23-35-42-50-49-45-39-28M4570 2690l2 10 8 10M4115 2728l-15 32M4090 2745l3-5-3-7M4775 3110l-10 9-2 11 4 10 8 5 12-5 8-15-5-15-15 0M5400 3305l-75-31-60-17-95-13-70 0-40 6-45 14-45 21-85 50-30 10-42 5-13 7-10 18-7 40-1 70 3 60 24 150 7 70 12 50 2 25-2 30-8 30-27 60M2801 3564l-6 11M2795 3575l-5 9M2789 3586l-4 8M2784 3596l-4 8M2779 3606l-4 9M2771 3624l-1 2M2689 3786l-54 84-73 90M4189 3960l-14-38-10-42-5-45-1-40 3-25 6-25 37-69 15-56 4-40-1-35-12-70-31-79-18-31-32-43-20-17-105-65M4566 2690l3 15 11 10M4113 2723l-8 10-5 1-8-6M4534 2729l-4-10M4780 3100l-22 10-8 20 3 20 15 35 0 35 2 6 5 3 7-14-3-30 8-20 13-20 5-15-2-15-6-10-7-5-10 0M4095 3179l-9 6-3 15 2 14 10 16 5-1 11-29-4-15-12-6M5400 3298l-70-30-55-17-55-9-80-7-55 4-60 15-50 21-75 43-35 11-25 0-27-9-20-15-13-20-5-3-10 138 4 130 23 145 8 80 11 45 3 30-2 25-7 30-25 55M2679 3796l-49 74-74 90M4199 3960l-14-35-11-40-6-45-1-40 8-48 39-72 16-60 3-45-2-45-11-65-22-70-18-36-55-95-25-22-15 13-15 4-25-6-40-17M4562 2690l-1 15 16 13M4110 2720l-5 5-11 1M4538 2730l1-10-9-5M5400 3291l-75-33-55-16-70-10-80-4-50 6-55 16-40 18-60 34-25 11-25 5-20-3-15-6-16-14-12-20-6-20 2-65 14-50-2-25-11-15-14-6-20 4-15 9-8 13-2 15 8 60 5 315 5 60 19 115 9 85 13 80-2 25-6 30-25 55M2669 3805l-48 70-71 85M4209 3960l-15-35-11-40-6-40-2-40 3-25 6-25 38-70 16-60 3-50-2-45-13-80-21-66-74-144-9-50-9-15-8-4-10-1-15 10-7 15-8 32-10 12-20 1-34-9M4558 2690l-8 18-16 3M4108 2718l-10 4M4542 2730l8-13 10-1 15 4M5400 3284l-75-33-55-18-60-8-85-4-55 7-55 15-35 15-65 36-25 10-20 3-20-3-15-7-13-12-9-15-6-20 1-55 12-55 0-15-6-15-14-15-15-5-25 4-18 11-9 15-1 15 6 60 3 305 6 70 20 125 18 155-2 30-6 25-24 55M2665 3805l-45 65-75 90M4219 3960l-15-35-11-35-7-40-2-35 7-50 40-80 10-35 6-40 2-45-4-55-7-50-15-55-17-40-58-115-18-64-10-16-10-6-10-1-19 7-11 15-16 35-13 10-16 2-29-6M4553 2692l-8 10-10 5M4546 2730l9-7 17 0M4793 3088l-23-2-26 9-15 15-5 20 5 65-2 230 3 85 7 70 20 125 16 140-2 30-7 30-25 55M5400 3277l-75-34-55-18-55-8-90-3-45 5-45 11-55 21-80 41-25 6-20-3-23-15-14-25-3-40 12-65 0-20-10-25-18-15M2655 3815l-40 56-76 89M4230 3960l-16-35-12-35-6-35-3-35 6-50 40-85 9-35 6-40 2-45-3-60-8-50-15-54-15-37-53-104-12-30-12-45-13-21-15-8-20 3-20 16-20 34-10 11-15 5-30-3M4546 2695l-7 6M4553 2730l15-3M4777 3082l-22 3-23 10-12 15-3 15 4 65-4 225 2 85 7 75 22 135 13 130-2 30-6 30-11 30-16 30M5400 3270l-75-35-55-18-50-7-90-3-45 4-50 12-55 20-80 41-20 5-20-2-20-12-15-26-3-34 11-60 1-20-8-25-20-20M2648 3820l-38 51-76 89M4241 3960l-17-35-12-35-7-35-3-35 6-45 39-90 15-75 1-50-3-55-9-55-13-50-17-40-53-105-26-80-16-20-16-6-20 4-22 17-23 34-10 10-15 5-27-1M4769 3079l-24 4-20 9-11 13-5 15 5 70-7 215 2 80 8 90 23 145 10 115-3 35-6 30-12 30-17 30M5400 3263l-80-37-50-17-45-7-90-2-50 4-50 12-60 22-75 38-20 4-15-1-20-12-13-22-3-30 11-55 0-25-9-25-20-21M2640 3825l-35 46-76 89M4253 3960l-16-30-14-35-8-35-3-35 7-50 27-65 11-35 12-70 1-50-4-60-8-50-14-50-15-35-53-105-29-85-17-22-20-5-20 5-23 17-37 44-15 6-25-1M4766 3076l-28 4-21 10-12 14-3 16 5 65-9 215 1 80 8 95 25 160 7 95-2 35-9 35-12 30-18 30M5400 3256l-80-38-50-17-45-7-85-1-55 4-50 12-65 23-70 36-20 4-15-2-20-15-9-25 1-25 11-50-2-25-13-25-19-19M2632 3830l-109 130M4265 3960l-17-30-13-31-9-34-4-35 4-45 36-100 9-45 5-40 0-55-4-55-8-50-14-50-15-35-52-100-31-90-17-23-20-6-25 7-24 17-29 35-12 10-15 5-20 1M4220 2857l14-12M4758 3073l-28 4-19 8-11 11-6 19 6 65-11 215 0 80 8 95 27 175 5 80-3 35-8 35-15 35-20 30M5400 3250l-80-39-50-19-40-6-90 0-60 5-55 13-65 23-60 33-15 4-15-1-19-13-8-20 1-20 11-50-3-30-13-25-21-20M2623 3837l-105 123M4278 3960l-19-30-14-32-9-33-4-35 5-50 23-65 12-45 11-75 0-60-5-55-9-50-14-46-65-129-32-95-18-24-20-7-25 6-29 20-41 44-15 7-20 1M4210 2870l28-25M4754 3069l-29 4-20 7-15 15-4 15 8 70-14 215-1 75 9 100 28 180 3 65-4 45-9 35-16 35-22 30M5400 3243l-85-42-50-18-35-5-80 0-70 6-60 14-65 22-60 33-15 2-10-1-15-12-5-17 13-60-1-25-14-30-24-25M2617 3840l-104 120M4291 3960l-20-30-14-30-11-35-4-30 4-50 22-70 13-55 9-75-1-60-6-55-10-50-14-45-61-120-37-105-16-21-20-7-30 8-29 20-45 45-16 7-16 2M4205 2878l38-33M4751 3066l-36 4-20 7-14 13-4 15 10 70-16 220-1 75 8 100 21 120 8 65 3 55-5 45-10 37-19 38-23 30M5400 3237l-75-39-45-19-35-9-35-1-112 6-73 13-75 23-25 11-30 20-20 3-10-5-7-15 14-55-3-30-15-30-27-27M2604 3850l-96 110M4306 3960l-21-28-17-32-10-30-6-35 4-50 19-66 14-64 7-75-1-60-6-55-10-50-15-45-61-120-38-109-10-15-10-8-20-4-30 10-30 22-45 44-15 8-20 2M4194 2891l36-28 18-18M4748 3063l-33 2-24 5-15 10-7 15 0 20 11 45 0 15-18 220-1 80 8 95 29 180 2 55-5 45-11 40-19 36-28 34M5400 3230l-115-58-30-9-30-3-140 9-70 12-90 25-15 6-21 18-14 3-5-4-1-9 15-40-3-30-8-20-13-20-31-29M2599 3851l-96 109M4321 3960l-24-30-17-30-12-35-5-35 2-40 27-115 9-70 1-80-10-80-19-70-63-125-38-115-9-15-13-11-15-4-20 4-40 23-60 56-15 7-15 2M4180 2905l50-36 22-24M4168 2912l4-2M4744 3059l-39 1-23 5-15 10-7 15-1 20 12 45 2 20-21 225-1 80 8 90 27 155 5 75-7 50-13 40-21 36-31 34M5400 3224l-110-58-30-11-25-5-30 1-185 18-80 15-25-1-10-8-18-35-16-25-18-20-21-17M2591 3855l-94 105M4338 3960l-27-30-19-30-13-35-6-35 2-45 25-120 8-65 0-80-10-80-9-40-14-38-61-122-37-115-9-15-13-11-15-4-20 4-45 29-60 55-15 7-15 4M4151 2924l29-15 40-27 20-17 16-19M4144 2926l4-1M4741 3056l-41-1-25 3-15 8-10 19 0 25 13 50 1 20-21 225-1 80 7 90 29 160 3 65-8 50-15 40-26 40-33 30M4046 3150l-31 28-30 12M5400 3218l-115-62-25-11-25-6-25 1-110 15-95 3-55 7-20-1-20-12-45-52-31-24M2578 3865l-86 95M4357 3960l-27-25-22-30-16-35-8-35 0-45 26-145 6-75-7-105-10-50-11-40-66-135-16-45-19-70-17-29-20-11-20 2-30 16-40 33M4132 2933l33-11 40-24 35-26 18-24M4737 3052l-47-3-25 2-16 9-9 20 1 25 13 55 2 25-23 220-1 85 7 85 29 160 3 65-9 50-20 45-27 35-39 30M4036 3155l-26 22-25 10M5400 3212l-120-67-45-17-25 0-65 15-50 6-45 0-50-5-45 5-20-2-25-12-50-45-23-17M2569 3870l-82 90M4379 3960l-32-25-25-30-18-35-9-35-1-50 24-145 4-80-8-105-10-50-13-40-61-126-15-44-19-75-9-20-12-15-20-12-20 2-30 18-40 34M2669 2900l1 0M2673 2915l-8 0M4117 2938l33-5 40-20 45-30 25-31M4734 3049l-59-7-20 0-15 8-9 20 0 30 13 60 2 30-23 220-1 90 7 80 30 155 2 65-13 55-23 44-35 36-43 25M4031 3155l-26 20-20 8M5400 3206l-125-72-40-16-25-1-62 18-48 7-45 0-55-11-60 4-30-12-71-52M2555 3880l-73 80M4408 3960l-33-18-30-27-23-35-14-35-4-30 0-35 20-135 5-60-1-65-7-60-19-85-16-40-51-106-34-124-11-20-10-12-15-10-15-3-15 5-15 9-55 48M3052 2907l3 1 3-3-9-1M4105 2940l20 2 20-3 40-17 50-32 15-15 12-18M4730 3045l-85-13-16 8-9 25 1 35 13 60 3 30-24 220-2 85 7 80 32 175 1 40-6 39-9 26-13 25-15 20-20 20-23 16-25 13-25 7-27 4M4026 3155l-21 16-20 8M5400 3200l-135-80-30-13-30 0-60 22-45 7-45-2-55-15-60 5-35-13-65-44M2550 3880l-73 80M4467 3960l-48-10-44-25-33-35-22-45-6-35-1-35 18-135 5-60-2-60-6-60-9-50-11-40-65-145-12-40-13-65-9-25-12-20-15-15-17-9-15-2-15 5-15 11-55 52M3066 2916l2-3M4102 2943l18 4 20-1 40-14 55-35 15-15 14-23M2063 3017l2 5M4726 3041l-91-22-15 5-9 16-1 45 15 80 1 30-23 220-2 90 7 75 31 160 1 57-6 28-11 30-15 25-18 20-20 17-25 14-25 10-25 4-50-2-25-8-25-12-23-18-17-19-13-21-11-25-7-30-2-35 20-185 0-65-7-70-11-55-11-40-64-145-21-100-11-30-13-20-19-17-20-9-15-1-15 6-15 11-55 58M4021 3155l-16 12-20 9M5400 3194l-140-85-30-13-15-1-15 2-45 21-30 9-50 3-25-5-50-15-50 5-25-4-25-11-60-37M2541 3885l-68 75M4306 2761l1-28M4096 2945l19 6 20 2 20-3 20-8 60-37 20-21 10-19M4721 3036l-31-8-65-25-15 3-11 19-2 40 17 100 2 35-24 220-2 90 6 70 33 165 1 45-5 25-10 27-13 23-17 21-20 17-20 12-25 10-25 6-25 0-25-3-25-8-20-11-20-16-16-18-14-22-9-23-7-30-2-35 17-175-1-70-6-65-10-55-13-45-59-141-21-104-11-30-17-25-21-19-20-9-20-1-15 6-15 12-55 64M4015 3155l-30 17M5400 3188l-145-90-25-11-15-2-15 2-50 25-24 8-46 4-25-4-55-17-50 3-25-3-25-9-60-34M2527 3895l-59 65M4309 2764l1-34M4089 2946l41 15 15 1 20-5 40-21 30-21 20-22 13-25M4717 3032l-37-13-65-34-10-1-10 6-9 20-1 40 17 110 3 35-5 62-20 163-2 85 7 75 33 170 1 35-13 45-26 41-20 18-20 12-20 8-25 6-45-2-25-8-20-11-20-16-15-18-20-41-7-34-2-35 12-105 4-60-2-70-6-65-10-55-11-40-58-145-18-100-15-40-18-25-24-21-25-12-20 0-15 7-15 13-55 71M4010 3155l-25 14M5400 3182l-70-42-75-50-30-13-15-1-15 3-45 26-20 7-45 6-30-5-50-16-55 2-25-3-25-9-60-31M2518 3900l-55 60M4313 2765l3-20-3-15M4577 2770l26 3M4086 2949l45 26 6 5 2 10-74 107M4712 3027l-38-17-69-46-16 1-13 20-5 25 1 30 17 105 4 50-8 89-16 131-2 80 5 75 34 180 1 35-9 30-13 25-20 24-20 16-25 12-25 7-30 0-25-5-30-15-25-24-19-30-11-35-5-60 11-80 3-75-6-120-10-60-11-45-54-140-20-115-10-25-18-28-20-21-37-31-5-10 12-15 45-33 15-15 25-44M4004 3155l-19 10M5400 3177l-70-43-75-51-30-13-30 0-60 34-20 6-25 2-30-4-55-17-55 1-25-3-25-8-60-28M2504 3910l-46 50M4316 2765l4-20-3-17M4572 2773l46 5M4629 2780l1 0M4083 2950l28 25 5 10 1 10-25 55-27 42M4706 3021l-38-21-63-55-10-6-10 1-8 5-12 22-6 33 0 35 16 88 5 67-24 220-1 75 6 85 33 185 0 20-5 25-12 25-17 22-20 16-20 11-25 7-25 1-25-5-25-12-25-22-18-28-11-30-6-55 10-95 1-105-3-65-11-75-16-60-42-115-9-42-8-63-7-25-19-40-36-45-8-15 2-15 36-44 20-44M5400 3171l-70-43-75-52-30-13-20-2-15 2-55 34-20 7-25 2-25-3-60-18-55 1-25-3-85-34M2490 3920l-37 40M4320 2765l6-20-7-19M4552 2778l23-1 50 7 13 4M4544 2781l2-1M4475 2805l2 2M4483 2810l17 0M4079 2951l20 24 5 10 0 15-15 45-26 43M4700 3015l-25-15-28-25-42-50-10-8-10-2-15 8-10 12-6 15-6 35-1 50 16 85 4 55-24 220-2 60 11 125 26 170 1 25-6 20-10 20-13 17-20 16-20 10-20 5-20 0-20-4-28-14-22-22-16-28-10-35-3-30 8-85 0-155-10-100-15-60-38-115-22-125-14-35-31-55-5-15 2-20 14-35 12-43M5400 3166l-70-43-75-52-35-15-20-2-15 3-55 36-20 6-20 1-25-4-55-16-60 0-25-4-85-31M2485 3920l-37 40M4326 2760l5-20-8-15M4526 2799l19-14 20-4 40 8 25 1 20 10M4470 2805l10 10 10 2 15-4 14-8M4076 2954l17 26 2 25-11 40-23 41M4692 3007l-22-17-31-30-34-56-10-9-15-1-19 11-12 15-8 20-5 40-1 65 15 75 3 40-24 200-3 75 35 330-4 20-7 14-25 28-15 8-20 6-35-2-25-13-20-19-15-27-9-30-2-25 5-70-2-100 2-85-6-75-12-60-31-111-21-119-48-120 0-55 4-40M5400 3161l-70-44-75-52-40-15-20-2-15 2-50 37-20 6-20 1-25-3-55-16-60-1-25-4-85-28M2471 3930l-27 30M4330 2760l8-15-7-15M4466 2805l9 17 10 4 25-9 30-24 15-7 20 2 35 12 20-3 20 7M4072 2955l15 30 1 25-9 35-19 36M4675 2990l-37-40-28-60-5-9-10-7-20 3-23 13-14 15-9 20-5 40-3 95 16 60 3 30-4 25-22 80-9 150 4 45 19 95 4 105 8 105-6 25-19 24-25 11-30 0-20-9-17-16-13-21-8-24-3-25 2-65-6-90 8-115-6-85-19-100-17-110-15-45-46-105-21-80-1-32M5400 3155l-70-43-75-52-20-9-25-7-20-3-15 3-45 36-20 7-20 2-25-4-50-15-85-5-70-23-20-4M2462 3935l-23 25M4334 2760l13-15-1-5-9-10M4463 2807l-1 23-14 40 2 9 10 2 22-6 18-40 39-35 11-6 10-2 16 3 29 19 10 0 20-7 19 2M5045 2813l14-22M4069 2956l10 24 3 30-6 30-16 35M4670 2980l-33-40-15-40-10-40-7-10-10-1-10 4-54 27-13 10-6 20-2 95-7 65 4 15 17 35 3 20-2 15-10 24-15 18-25 17-20 5-15-10-25-31-34-68-42-65-16-35-14-50-24-40-3-23M5400 3150l-70-43-76-52-23-10-31-8-15-2-15 2-40 36-15 7-20 3-25-3-55-16-80-4-70-22-25-3M4443 3290l7 0 5 11 18 109 37 100 9 45 1 35-7 65 3 65-1 25-5 15-10 14-10 7-15 4-15-3-15-8-13-14-8-15-5-25-3-65-13-75 3-50 27-125 4-95 6-20M2453 3940l-19 20M4349 2734l-6-4M4365 2740l-14-5M4344 2755l16-8 12 1M4546 2805l14-4 10 3 10 11 1 10-5 10-14 10-17 6-15 1-8-7-1-10 9-15 16-15M4459 2810l-13 35-29 55-21 25 9 1 25-17 25-6 20 3 10 8 5 9 6 32 1 55-4 25-15 40 5 10 23 25 8 25-4 21-15 16-15 5-15-1-20-9-14-12-10-20-9-45-32-30-20-25-18-35-12-45-35-31-10-24M5035 2828l14-13 14-25M4650 2953l-16-33-8-30-2-20 6-45 10-9 15-3M4066 2959l8 26 2 30-4 25-12 28M5224 3039l-39-10-20 0-40 40-15 6-20 2-20-3-50-15-75-3-75-23-30-2M5231 3041l-4-1M5248 3048l-6-3M5258 3053l-5-3M5273 3063l-12-8M5400 3145l-124-80M4447 3480l8-3 10 2 20 16 18 30 6 30-2 45-24 65-8 48-5 7-5 2-5-2-5-9-9-41-26-57-8-33 0-30 6-25 12-27 17-18M2444 3945l-15 15M4455 2810l-18 40-27 40-50 42-20 3-25-4-15-10-10-16M5029 2836l23-16 15-30M4443 2925l12-4 8 4 8 10 9 33 3 37-4 20-9 16-15 11-20 3-25-8-21-17-18-30-11-35 5-6 20 3 20-4 20-13 18-20M4640 2927l-9-37 0-25 9-35 5-7 12-6M4645 2939l-3-7M4064 2961l6 29 2 25-4 25-8 20M5211 3031l-36-10-15 0-10 7-13 22-12 12-15 7-20 2-20-3-50-15-75-3-65-22-40 0M4452 3100l13-3 10 2 22 16 7 20-2 10-8 10-14 6-15 0-15-7-9-9-6-15 0-10 5-12 12-8M5400 3140l-118-75M4445 3510l20-4 15 8 12 16 7 20 1 25-5 22-15 21-15 8-15-2-10-6-13-18-6-20-1-25 3-15 11-20 11-10M2434 3950l-10 10M4446 2819l-6 14M4439 2836l-34 51-45 34-20 5-20-1-15-7-11-13M5022 2843l33-16 7-12 9-24M4635 2890l0-20 10-35 6-10 9-5M4640 2914l-1-5M4061 2964l6 46-7 42M4434 2980l11-3 5 2 8 11 4 20-2 10-5 4-10 2-10-2-14-14-1-15 14-15M5206 3026l-41-15-15 0-26 44-14 8-20 2-20-2-50-16-75-3-55-24-20 0-30 5M4454 3110l16-3 17 8 7 15-4 15-10 6-10 2-17-8-7-10-1-10 4-10 5-5M5400 3135l-105-65M4451 3525l14-1 10 4 10 12 5 15 1 20-5 15-11 13-10 4-15-1-9-6-7-10-5-15 3-30 8-12 11-8M2430 3950l-10 10M4431 2844l-1 2M5016 2849l44-11 7-13 7-31M4416 2864l-6 9M4641 2864l10-29 9-11M4406 2879l-26 21M4638 2882l2-14M4380 2900l-20 15-15 4-25 1-18-10M4058 2972l5 38-3 30M5200 3020l-50-24-10-2-4 6-6 30-6 15-14 11-20 3-20-2-45-15-75-3-20-8-25-19-10-3-50 11M4462 3115l8-1 12 6 4 10-6 12-15 2-10-9-2-10 9-10M5400 3131l-91-56M4451 3540l9-2 10 3 10 14 0 22-5 9-10 6-15-1-11-16 0-20 12-15M2425 3950l-10 10M4655 2835l5-7M5011 2854l19-4 15 1 25 15 4-11 3-60M4344 2915l-28 0M4055 2975l4 24M5183 3008l-27-18-46-40 12 45 1 25-6 20-7 7-10 4-25 1-50-17-55 1-20-4-22-12-23-29-25 13-35 13M4463 3125l7-3 5 3 1 5-8 5-6-5 1-5M5400 3126l-85-51M4454 3555l11 0 4 5 1 10-5 7-10 0-5-6 0-11 4-5M2420 3950l-10 10M5006 2859l19-3 15 3 10 9 8 12 54 115 3 25-3 10-7 10-15 5-15 0-45-15-65-1-25-9-10-10-6-15-3-45 2-30-3-8-5-4-5 1-6 6 5 35-16 35-13 12-32 15M4913 2880l12 4 20-4M5180 3002l-22-17-19-20-38-55-10-25-7-30-4-55M5400 3121l-78-46M2415 3950l-10 10" fill="none" stroke="#660" stroke-width="3.2" stroke-opacity="0.3"/>
<clipPath id="wclip"><path d="M1830 2620l1210 0 9 30 46 69 6 16 2 20-7 30-6 11-10 9-15 4-45 4-35 11-5-9-1-15 5-85-8-30-16-15-20-7-25-2-30 3-25 8-25 13-20 15-20 20-24 40-26 80 5 3 30-3 20 5 15 9 11 16 6 20-9 30-8 12-15 9-20 4-30-2-16-8-3-5 2-5 6-5 4-10-6-10-17-8-3-12 3-13 16-12 3-5-4-3-15 6-25 0-55 10-40 32-5 25-5 7-5 0-5-7 3-25-6-10-17-11-40-10-15 4-15 9-40 48-7 25 6 40-4 10-10 6-20 1-55-14-45 2-45-7-45 11-15 0-10-4-21-30-19-16-25-9-35-2-25 4-24 8-71 37-70 4-30 8-32 21-18 28 0-423zM2325 2868l-20 12-14 15-6 20 1 20 6 10 8 6 45 16 10 1 15-5 25-18 9-15 0-15-8-20-21-21-15-6-30-1zM5205 2620l195 0 0 238-65-18-80-11-25-11-20-17-9-16-6-30 9-130zM3630 2730l10 0 25 12 45 11 20-6 35-18 10 0 5 6-5 18-7 12-19 15-19 7-30 4-25-4-25-11-14-11-10-30zM2923 2825l15 0 17 10 20 1 3 4-2 45 11 40-6 20-17 20-9 20-5 7-10 4-15-1-15-5-20-17-9-18-9-55 1-15 15-35 12-14 20-10zM3829 2915l11-4 30 2 35 21 16 26 1 25-7 19-15 18-25 12-30 0-10-2-30-17-16-25-2-35 18-29 20-9zM2582 2980l3-4 5 3 2 6-2 5-5 1-3-6zM1830 3100l15 22 20 14 20 5 40 0 15 7 25-6 20 4 25-4 295 6 255-7 60 6 40 16 25 24 10 18 7 25 3 40-4 30-14 50-12 30-15 25-166 185-19 30-40 90-24 25-31 25-55 33-30 13-30 7-105 9-70 18-47 20-48 27-49 33-51 40-65 0 0-855z"/></clipPath>
<path clip-path="url(#wclip)" d="M5400 3023l-75-26-115-34-50-20-55-30-100-71-50-30-65-33-70-27-90-28-95-20-95-12-90-4-90 6-45 7-40 9-35 11-35 14-30 16-26 19-27 30-14 30-6 30-3 75-4 35-11 40-16 35-26 35-34 30-38 21-45 14-30 3-35 0-35-5-30-7-35-13-30-15-100-64-45-23-30-11-30-7-30-4-35 0-30 3-35 7-70 22-75 32-162 77-73 28-40 11-35 6-40 3-35-1-55-10-25-9-20-11-35-26-59-56-36-24-35-10-30 2-15 6-12 11-4 10 2 15 20 25 9 3 30 3 31 14 25 20 16 20 17 30 11 35 4 35-4 35-19 60-20 40-167 195-22 35-27 60-15 23-25 23-30 22-40 24-35 16-25 5-60 8-160 38-85 18-70 12-70 7M5400 3013l-75-26-110-32-55-22-50-29-95-70-50-32-70-35-75-30-95-29-100-22-95-12-95-4-95 7-45 7-45 11-40 13-35 15-30 17-26 20-25 30-12 30-3 30 5 70-1 40-7 40-14 35-23 35-34 32-40 23-40 13-35 4-35-1-35-6-35-10-30-13-32-17-88-62-35-21-50-19-55-10-30-1-35 4-35 6-40 12-90 37-165 82-55 24-65 21-65 9-30 1-30-3-50-13-20-10-25-15-78-67-32-20-20-8-20-5-20-2-20 3-17 7-12 10-7 15 1 10 5 10 20 21 10 5 26 4 21 10 25 20 20 25 18 35 10 35 3 35-5 35-15 50-20 40-163 195-25 40-27 55-13 19-25 23-35 24-40 22-30 12-90 14-235 52-70 11-70 7M5400 3003l-75-26-110-31-50-20-52-31-88-68-55-37-70-36-80-32-100-31-100-22-100-13-95-4-55 3-50 5-45 8-45 11-40 13-40 18-34 20-25 20-25 30-7 15-4 20 0 25 13 70 3 40-4 40-13 40-22 35-32 31-35 21-45 15-30 3-35-1-35-5-35-11-30-14-30-17-85-65-40-25-25-11-30-10-55-10-30 0-35 4-35 7-35 11-95 40-165 85-50 23-65 22-60 9-55-1-25-5-25-8-45-24-80-64-33-20-22-8-25-6-20-1-20 3-18 7-13 10-10 15 0 15 7 10 24 23 10 5 26 7 24 15 20 20 14 20 16 35 10 35 3 35-5 35-15 50-18 35-92 115-68 80-22 35-29 55-14 20-25 22-35 24-40 21-30 10-90 14-235 49-70 10-65 6M1895 2944l-5 4-2 7 4 10 9 10 14 9 10 3 10 1 6-3 3-10-6-10-8-8-20-12-15-1M5400 2993l-70-24-110-31-50-20-48-28-92-74-50-34-75-40-85-35-100-31-105-23-105-14-100-4-55 2-55 6-50 10-45 12-45 16-39 19-32 20-29 25-15 17-10 17-6 16-2 15 3 25 22 70 6 35 0 40-10 40-19 35-29 32-36 23-44 15-30 4-35-1-35-6-35-11-30-15-30-19-85-71-35-22-25-12-30-11-30-7-30-4-30-1-35 4-35 7-40 13-95 42-169 90-46 22-60 21-55 9-50 0-25-5-25-7-45-22-82-63-34-20-24-8-25-5-25-1-20 3-20 7-18 14-9 15 0 15 7 10 30 24 35 16 15 10 20 20 17 25 15 35 10 40 1 35-5 35-13 40-17 35-85 110-72 85-23 35-28 50-15 20-25 22-30 20-40 21-30 10-95 15-230 46-70 9-65 6M4343 2620l-48 5-50 9-45 12-42 14-43 19-35 21-30 22-23 23-15 20-7 15-4 15 0 15 6 25 27 60 10 35 4 40-7 40-7 20-12 20-26 30-36 24-40 14-30 4-35 0-35-7-35-12-30-15-27-18-83-76-35-24-30-14-30-11-35-9-30-3-30-1-35 4-35 9-40 13-100 47-205 111-55 20-55 11-30 1-30-2-25-5-25-9-45-25-77-57-43-21-25-6-30-2-25 2-25 8-15 10-13 14-6 15 1 10 8 12 20 11 20 17 37 20 20 20 13 20 17 35 10 40 2 35-4 40-14 45-19 35-75 100-76 90-61 95-25 24-30 20-35 18-35 12-105 16-220 42-70 9-65 5M1830 2969l26 21 23 15 26 13 25 8 25 2 25-4 15-9 6-15-5-20-15-25-21-24-25-21-25-16-30-14-25-7-25 0M5400 2983l-70-24-110-29-50-21-46-29-79-68-50-36-65-36-80-36-90-31-90-24-95-19-92-10M4222 2620l-77 24-65 32-29 19-26 21-24 24-14 20-11 25-1 25 7 20 33 57 15 33 8 40-2 35-6 20-8 20-13 20-13 15-18 15-18 12-40 15-30 4-35 0-35-7-35-12-30-17-28-20-77-78-35-25-34-17-36-13-35-8-30-4-30 0-35 4-35 9-40 15-50 23-60 31-192 108-53 21-50 11-30 2-25-2-30-5-25-8-40-21-85-61-24-12-21-7-30-6-30 0-25 3-25 9-16 11-13 15-6 15 1 15 9 10 25 10 20 17 29 18 20 20 13 20 16 35 10 40 3 35-4 40-14 45-21 40-69 95-80 95-58 86-25 23-30 19-35 17-35 11-110 17-210 38-70 8-65 5M5400 2973l-70-23-105-28-50-20-45-29-75-67-40-31-57-35-68-33-70-28-70-24-70-19-74-16M1830 3001l34 19 34 15 27 8 30 3 35-2 25-7 13-12 4-15-7-24-15-27-25-32-30-31-30-25-30-19-35-17-30-9M4156 2620l-66 28-55 35-25 20-23 22-16 20-12 20-9 25 2 25 10 20 37 50 17 30 10 35 1 40-4 20-8 20-12 20-12 15-31 24-40 16-30 5-35 0-35-7-35-13-30-17-25-20-23-23-47-56-35-28-35-18-45-17-35-10-35-4-30 0-35 5-35 10-40 15-50 24-70 38-180 106-50 21-45 11-30 2-25-1-30-4-25-8-40-21-85-59-23-11-22-7-30-5-35-1-30 5-21 8-19 13-15 17-6 15 0 15 6 11 7 4 28 7 43 33 15 15 17 25 15 35 10 40 3 40-5 40-6 25-10 25-30 50-57 80-76 90-57 80-22 20-35 22-35 16-35 11-112 16-208 35-65 7-65 4M5400 2964l-70-23-100-25-41-16-27-15-27-19-65-62-34-29-36-24-40-24-65-32-70-29-75-25-74-21M1830 3022l70 28 30 7 30 2 45-2 30-7 16-10 6-15-5-25-19-35-28-41-35-40-35-32-35-26-35-21-35-15M4107 2620l-57 31-53 39-42 45-14 20-10 20-5 25 4 20 13 20 42 45 17 25 14 35 3 35-2 20-6 20-10 20-11 15-15 15-20 14-20 10-20 6-30 5-35-2-35-8-30-12-30-18-23-20-23-25-44-59-30-25-40-21-50-21-40-11-35-5-30 1-35 6-35 10-40 16-55 28-85 48-160 99-45 20-45 11-30 3-25-1-25-4-25-7-40-20-85-57-22-11-23-7-35-5-35 0-30 5-25 10-20 13-16 19-7 20 1 15 6 10 6 4 30 3 10 5 42 38 21 30 16 40 9 40 2 40-6 40-8 30-11 25-47 75-37 50-68 80-58 77-25 23-30 19-35 15-35 11-320 48-65 7-65 3M5400 2955l-70-23-100-25-40-15-25-14-23-18-62-62-30-27-61-41-54-30-65-30-70-27-71-23M1830 3038l46 17 34 9 30 4 35 1 50-3 31-6 18-10 6-15-6-25-24-45-35-52-35-43-35-35-35-29-40-27-40-21M4068 2620l-53 34-47 41-38 45-21 40-4 25 5 20 12 15 48 44 17 21 18 35 6 35-1 20-5 20-9 20-11 15-14 15-16 12-20 10-20 7-30 5-35-1-35-9-30-12-30-20-23-22-20-25-37-58-25-23-40-23-65-28-40-13-35-5-30 0-35 6-35 10-40 17-60 31-105 62-145 93-40 18-40 11-30 3-25-1-25-4-25-8-40-20-80-53-25-12-25-7-30-3-40 1-34 6-25 10-21 15-17 20-8 20 1 15 4 10 10 9 10 1 25 0 10 4 36 36 17 25 15 35 11 45 3 40-5 45-8 30-11 25-48 80-33 45-65 75-57 73-25 23-30 19-35 15-40 12-315 45-70 7-60 2M5400 2946l-70-23-100-24-40-16-22-13-23-19-55-59-25-23-55-40-50-29-60-30-60-26-66-24M1830 3052l55 16 30 7 35 3 50 0 44-3 31-5 20-10 4-5 3-10-7-25-30-55-40-61-40-51-35-38-40-35-40-29-40-23M4035 2620l-53 40-44 45-33 46-12 24-6 20-1 20 5 15 14 15 45 34 22 21 20 30 9 30 1 35-5 20-7 15-20 27-30 21-35 12-35 4-40-6-36-13-32-20-26-25-18-25-33-62-11-13-14-12-32-18-93-43-35-12-35-5-30 1-35 6-35 11-40 18-60 33-125 75-125 86-35 16-40 12-25 3-25 0-25-3-25-7-40-19-80-53-25-11-20-6-25-4-30 0-35 3-30 7-27 12-24 20-18 25-3 20 5 15 12 13 15 2 25-3 10 3 31 35 16 25 16 40 9 45 2 45-7 45-7 25-14 30-48 80-34 45-109 129-25 23-30 19-35 16-40 11-315 42-70 6-60 2M5400 2937l-70-23-95-21-44-18-35-25-71-79-55-43-45-28-55-29-55-26-63-25M1830 3064l60 15 30 5 100 1 50-3 35-7 17-10 3-10-8-25-57-94-40-61-35-45-35-39-40-37-40-30-40-25M4007 2620l-47 40-45 50-31 50-11 25-5 20 0 20 7 12 15 13 45 28 25 21 20 26 13 30 2 35-4 20-6 15-20 28-30 21-35 12-35 2-40-7-35-14-30-21-23-26-18-30-24-57-10-13-10-9-25-15-125-62-30-10-30-4-35 1-35 7-35 12-40 19-55 31-145 90-110 80-35 18-35 10-25 3-25 1-25-4-25-7-35-16-80-52-25-11-20-6-25-4-35 1-40 5-30 7-30 15-23 20-18 25-3 10-1 10 9 20 10 10 6 3 15 1 25-5 10 4 29 37 12 20 15 40 8 45 2 45-6 45-9 30-13 30-48 80-34 45-101 115-30 27-30 18-35 14-40 11-310 39-70 5-60 1M5400 2928l-70-23-95-20-40-16-35-26-60-72-22-21-28-22-40-26-50-29-55-27-58-26M1830 3075l90 16 130 1 45-3 35-6 18-8 4-10-6-15-40-60-66-107-55-77-35-40-40-38-40-32-40-25M3982 2620l-47 45-40 51-30 53-16 46 1 15 9 15 61 33 25 18 23 24 15 30 4 15 2 20-7 30-7 15-11 15-14 13-15 10-35 12-35 3-40-7-35-15-30-23-23-28-14-30-16-55-7-13-10-9-21-13-69-32-75-43-30-11-30-4-35 1-35 7-40 14-40 19-45 26-169 108-101 79-30 15-30 9-25 4-25 0-25-3-20-5-35-16-80-51-25-11-25-7-25-3-30 2-45 5-30 8-30 14-25 20-24 30-4 10 0 10 10 20 18 16 15 3 30-7 8 3 34 50 15 40 10 50 1 45-6 45-8 30-13 30-42 75-38 50-91 101-30 28-30 19-40 17-40 11-315 37-65 4-60 0M5400 2919l-70-22-90-18-25-9-20-10-32-25-53-69-45-40-40-28-45-27-102-51M1830 3085l90 13 135 0 68-3 40-5 18-5 8-5 1-5-7-10-33-32-25-32-95-156-55-75-35-39-35-34-35-28-40-27M3960 2620l-45 48-38 52-28 55-14 35-5 20 1 10 9 11 65 27 34 22 20 20 15 25 5 15 3 20-5 30-6 15-11 15-15 14-15 10-35 12-35 2-35-7-35-16-30-25-21-30-11-30-8-57-5-11-6-7-16-10-83-35-90-58-25-9-30-4-35 1-40 8-40 14-40 20-225 146-25 20-46 42-19 14-25 14-30 10-25 4-25 1-25-3-20-5-32-15-79-50-24-11-25-7-25-2-25 1-55 8-30 7-30 14-26 20-32 35-5 10 0 10 4 10 13 15 11 10 10 6 15 2 30-7 5 1 26 38 16 40 10 50 3 50-5 50-8 30-12 30-19 40-21 35-38 50-77 83-35 33-30 21-35 16-45 12-50 8-265 27-70 4-60 0M5400 2911l-70-22-90-17-40-17-31-25-45-65-19-20-23-20-34-25-43-27-99-53M1830 3094l95 10 160 0 140-7 95 1 25-4 9-4 5-5-1-5-8-8-25-9-25-2-55 4-30-4-25-11-25-17-20-21-20-27-90-156-55-78-30-36-35-35-35-30-41-30M3939 2620l-39 46-35 52-52 107-6 20 5 10 9 5 64 18 35 16 26 21 19 25 6 15 4 20 0 20-4 15-7 15-12 15-27 21-30 10-35 2-35-7-35-17-18-14-12-13-18-32-7-30-1-20 4-40-2-10-4-5-12-7-65-20-35-16-28-17-52-42-20-12-25-9-30-4-35 1-40 7-40 14-45 23-45 28-100 70-90 58-20 17-42 44-18 15-25 14-25 9-25 4-25 1-25-3-20-5-30-14-75-47-25-11-25-8-20-2-25 2-95 17-25 10-27 18-48 45-13 15-1 5 2 5 52 39 20 4 30-8 8 5 12 20 17 40 12 55 3 55-5 50-7 30-11 30-33 65-36 51-65 70-40 38-35 26-35 16-45 14-60 9-260 25-70 3-60-2M5400 2902l-70-21-85-15-40-16-15-11-15-14-40-63-37-37-33-26-40-27-92-52M1830 3103l95 6 395-1 30-1 39-7 13-5 6-5 0-5-12-10-27-15-19-7-35-5-65 3-30-2-30-11-25-18-19-20-20-30-76-139-50-79-30-40-30-34-30-30-32-28M3921 2620l-31 39-27 41-18 32-25 55-15 25-25 30-15 11-10 4-25 3-35-4-30-7-30-11-37-23-53-51-15-9-20-9-45-9-50 3-35 7-35 13-35 17-35 21-126 92-89 56-20 18-34 41-15 15-21 15-25 11-25 6-25 1-25-2-20-4-28-12-53-35-39-20-30-11-30-3-25 2-75 15-35 10-30 16-55 44-15 7-15 3-20-5-40-15-25-5-30-1-60 5-25-3-25-8-23-16-19-20-20-30-78-150-45-75-50-67-50-53M3794 2875l46 0 40 8 35 15 17 12 16 15 10 15 7 15 3 15 1 20-3 15-6 15-20 24-20 13-20 8-20 3-25 0-25-5-25-10-20-13-16-15-14-20-9-20-4-20 1-25 7-25 11-20 14-13 19-7M5400 2894l-70-21-85-14-20-7-20-10-25-23-34-59-32-35-69-52-88-53M1830 3112l95 2 390 2 125-7 20 5 25 18 15 5 15 0 25-5 5 3 10 16 15 39 11 55 3 50-4 50-10 45-20 50-25 45-33 45-52 55-45 41-40 27-25 12-30 10-35 8-40 5-280 25-60 2-55-3M3903 2620l-28 39-25 41-15 30-19 45-12 20-14 18-15 13-30 15-25 4-30-1-30-7-25-10-32-22-48-55-20-14-20-9-25-7-25-3-25-1-30 3-35 7-35 13-35 17-40 24-130 100-90 55-15 15-27 40-17 20-19 15-22 10-25 6-25 2-25-2-20-4-25-11-45-31-35-18-35-15-30-5-30 4-115 27-30 15-50 38-15 7-15 3-20-3-45-15-25-5-30 0-55 5-25-1-25-8-22-14-22-25-19-30-72-148-40-71-40-60-47-56M3805 2885l40-3 35 6 35 16 15 11 15 15 9 15 6 15 3 15 0 15-3 15-7 15-18 21-20 13-20 7-25 3-20-1-25-6-20-9-19-13-15-15-13-20-7-20-3-20 3-20 8-20 11-15 15-12 20-8M5400 2886l-70-20-80-13-20-6-20-10-25-23-30-58-30-34-65-51-81-51M1830 3120l155-2 365 3 105-1 30 18 10 4 15 2 25-5 10 7 11 24 9 35 7 45 3 45-3 50-9 45-19 50-24 45-30 41-45 48-45 40-40 27-30 14-30 10-35 8-45 6-275 22-60 1-55-3M3887 2620l-22 33-25 44-16 33-16 40-11 20-12 13-15 12-30 15-25 4-25 0-30-7-25-11-27-21-30-45-13-14-20-14-25-13-25-7-30-5-30-1-35 3-40 9-35 13-37 19-38 25-129 105-31 20-60 33-11 12-24 45-14 20-16 14-20 10-20 5-25 2-30-1-20-4-20-10-35-25-20-11-65-29-25-4-25 4-55 16-70 16-30 15-50 36-15 5-15 2-20-4-45-14-25-4-30 0-55 6-25-1-25-8-20-14-18-22-21-35-66-145-35-68-35-57-41-55M5400 2878l-65-18-85-13-35-15-15-12-10-11-8-14-16-40-26-31-60-51-80-53M3817 2890l38-2 35 9 30 16 22 22 9 15 5 15 2 15-1 15-10 25-7 10-15 13-15 8-20 6-25 3-20-2-25-8-19-10-19-15-13-15-8-15-6-20 0-20 5-20 8-15 15-15 17-10 17-5M1830 3129l80-6 385 2 160 3 35 19 15 3 25-1 10 6 9 20 8 35 7 45 2 45-3 50-9 45-18 50-21 40-30 41-45 47-40 33-40 26-30 13-30 10-40 8-45 6-270 20-60 0-55-4M3872 2620l-42 75-36 85-9 11-15 13-15 9-20 8-25 4-25-1-25-6-25-12-23-21-22-42-14-18-26-20-30-15-30-9-30-5-35-1-35 3-35 8-30 10-30 14-30 16-50 37-110 98-35 22-55 27-10 13-13 37-13 25-14 16-20 12-15 4-20 1-40-1-20-4-15-8-20-19-15-9-50-19-40-19-20-4-20 4-70 24-70 17-30 15-45 32-25 5-20-3-45-15-25-4-30 0-65 7-20 0-20-7-20-14-17-21-20-35-63-148-32-67-33-58-32-47M2825 2719l-20 10-18 16-12 20-2 20 4 10 12 10 51 26 15 2 15-12 22-31 6-15-1-20-12-20-15-12-20-6-25 2M5400 2871l-65-18-80-12-20-6-19-10-21-21-7-14-11-35-27-34-55-49-75-52M3821 2895l34-2 35 8 25 14 15 13 10 12 7 15 5 15 0 25-11 25-21 20-15 8-20 6-20 1-20-2-20-5-20-10-17-13-13-15-9-15-6-20 0-20 4-15 8-15 15-15 18-11 16-4M1830 3138l80-11 420 3 125 7 40 20 30 5 10 8 7 20 9 45 4 34 1 36-2 50-9 45-14 45-21 39-30 41-40 42-35 28-45 27-30 13-35 10-45 9-45 5-260 18-60-1-55-5M3857 2620l-37 73-15 35-10 32-8 15-8 10-14 12-35 16-20 3-25-1-25-6-20-10-21-19-8-15-11-30-15-20-25-21-35-20-35-12-35-7-40-1-40 4-35 8-30 10-35 16-30 17-55 43-78 78-29 25-33 20-40 14-10 6-8 15-6 35-11 25-14 20-16 11-15 4-15 0-60-13-5-6-1-6 5-30-4-24-15 19-10 8-15 4-15 0-20-2-20-6-19-9-26-19-15-3-15 4-75 35-60 14-25 8-25 13-40 28-20 4-20-3-50-17-25-4-30 1-65 9-20-1-20-7-15-12-16-20-18-35-61-152-30-67-25-48-29-48M2825 2679l-20 7-15 9-15 13-15 17-12 20-9 20-6 25-1 20 4 10 6 5 48 6 20 8 15 11 25 27 5 1 15-17 25-36 10-9 25-15 6-6 5-15-1-25-5-20-10-20-10-13-15-12-15-8-20-5-20-1-20 3M5400 2863l-65-17-75-10-20-6-19-10-12-10-9-11-6-14-9-32-25-34-55-50-66-49M3820 2900l35-3 30 7 25 12 24 24 12 25 1 25-9 25-18 20-15 8-20 6-20 2-20-2-20-5-15-8-16-11-14-15-9-15-5-15-2-15 4-20 7-15 15-15 15-10 15-5M1830 3147l80-16 420 3 55 3 65 9 63 29 12 12 10 31 7 32 4 70-3 45-8 45-13 40-17 33-27 37-38 40-35 27-40 22-35 15-35 10-45 9-50 6-255 15-60-1-55-6M3843 2620l-33 73-14 37-7 25-7 15-12 13-15 10-20 10-25 5-35-3-20-7-15-9-15-16-15-43-25-33-35-28-45-22-25-7-30-6-55-1-55 8-59 19-51 26-48 34-37 36-63 74-30 25-22 11-25 4-15-4-15-16-5 1 0 9 10 10 3 10-5 60-11 25-10 15-12 9-15 4-10-1-15-5-13-12-16-40-1-50 3-10 13-25 9-11 10-8 15-4 35 6 5-2 9-66-1-25-3-20-9-20-11-17-15-15-20-14-20-8-25-5-25 0-20 4-25 9-25 16-21 20-19 27-15 32-10 31-12 90-9 20-12 15-25 20-34 20-28 11-45 9-25 8-25 12-40 28-15 3-20-2-40-16-30-6-35 0-80 10-20-3-15-10-16-19-18-35-76-199-28-61-30-55M2759 2845l21-2 20 5 15 12 10 15 3 20-5 20-13 16-15 10-20 2-20-5-19-13-10-15-3-25 4-15 18-18 14-7M5400 2856l-65-16-70-9-21-6-19-10-19-20-5-10-6-30-10-17-15-19-50-49-64-50M3817 2905l33-5 30 6 25 12 20 17 14 25 4 25-7 25-16 19-15 9-15 6-20 3-20-1-20-5-15-6-15-10-15-15-10-15-5-15-1-15 2-15 7-15 8-10 14-12 17-8M1830 3156l80-20 415 3 60 4 43 7 22 6 20 10 25 19 13 15 15 30 7 25 5 80-2 40-8 45-10 30-20 38-20 27-40 41-25 19-40 21-35 14-40 12-50 9-50 7-245 14-60-2-60-7M2749 2620l-19 20-15 20-23 45-16 55-18 110-7 20-14 20-22 20-25 14-75 18-25 11-35 20-15 3-15-3-40-17-25-5-40 0-85 12-14-3-11-9-15-23-14-33-64-195-40-100M3204 2620l-74 25-35 6-15-2-15-4-44-25M3813 2620l-18 54-19 71-7 15-14 15-15 9-20 6-20 2-30-5-15-7-10-8-10-17-15-46-17-29-28-33-37-27M5400 2841l-60-13-65-7-21-6-19-10-11-10-7-10-15-45-22-34-40-42-51-44M2919 2850l11-1 15 7 14 19 6 20-1 30-5 20-14 19-15 5-15-4-10-11-9-19-4-20-1-25 4-15 10-16 14-9M2764 2865l11-3 10 1 11 7 7 10 1 15-3 10-6 7-10 6-10 2-10-2-10-7-5-9-2-12 2-10 7-10 7-5M3828 2910l27-2 25 5 23 12 19 20 9 20 2 25-9 20-14 15-15 8-15 5-15 1-20-1-30-12-15-11-10-11-8-14-4-15 0-15 4-15 6-10 12-12 15-9 13-4M1830 3180l66-25 19-4 85 3 325 0 25 1 50 10 26 10 21 15 13 15 20 32 11 23 8 25 5 35 2 35-1 40-6 35-9 28-15 27-25 31-25 23-28 16-36 15-81 26-50 11-40 5-235 14-65-4-60-11M2684 2620l-19 40-12 40-9 50-10 105-9 30-11 20-19 20-15 8-60 13-60 20-15 2-15-2-35-14-20-3-45-2-75 7-15-2-15-10-15-24-14-38-49-180-26-80M3782 2620l-17 105-8 25-8 10-14 9-15 5-20 3-15-2-15-5-10-6-7-9-26-85-12-25-18-25M5400 2827l-50-9-70-8-20-6-15-8-15-18-18-48-18-30-34-40-41-40M2923 2865l7 0 10 5 7 10 4 15-1 20-5 20-7 10-8 3-10-3-7-10-8-35 1-15 4-10 5-6 8-4M2773 2885l2-2 5 2 0 6-5 1-2-2 0-5M3834 2915l21-1 25 6 20 12 16 18 8 20-1 20-8 18-15 14-15 7-15 3-30-3-15-5-14-9-18-20-8-25 2-15 4-10 7-10 12-11 24-9M1830 3208l45-17 25-4 35 7 80-1 170 5 65 5 60 9 25 6 40 15 30 16 21 16 19 20 12 20 8 25 2 25-3 30-9 35-15 30-18 25-32 32-29 23-31 18-35 15-50 14-45 8-210 14-45 0-40-4-40-8-35-10M2631 2620l-11 40-7 45-6 145-4 20-8 20-11 15-19 12-85 20-25 3-20-3-40-11-25-4-95-5-15-5-15-12-15-25-15-45-48-210M3742 2620l4 75-3 35-3 10-10 10-15 7-15 1-15-3-9-5-10-15-9-80-8-35M5400 2812l-40-6-70-5-20-6-15-9-14-16-20-50-17-30-24-32-35-38M2929 2885l1 6-5 0 0-5 4-1M3839 2920l21 0 20 6 20 14 11 15 5 20-2 15-8 15-16 13-25 7-25-3-25-12-10-10-7-10-5-15-1-10 6-20 17-17 24-8M1830 3243l30-14 25-7 70-3 205 5 65 6 50 8 35 9 30 12 25 13 24 18 18 20 12 20 6 20 2 20-3 25-9 30-16 30-19 24-25 24-25 17-30 16-35 12-40 9-40 6-205 10-40-3-40-6-35-10-35-14M2577 2620l-5 70 4 135-2 20-5 20-9 17-18 13-35 10-37 4-30-3-125-27-22-9-18-15-15-25-15-45-27-165M5400 2798l-100-8-20-4-11-6-11-10-6-10-21-50-16-30-20-29-26-31M3844 2925l21 1 15 7 16 12 9 15 3 15-3 16-10 14-15 9-25 4-20-4-20-12-12-17-4-20 7-20 18-15 20-5M1830 3286l25-17 25-11 30-8 40-5 175 1 55 4 50 7 36 8 31 10 28 14 20 13 18 18 13 20 8 20 3 25-3 25-9 25-15 24-19 21-21 16-30 17-30 11-35 9-70 9-65 1-75 4-50-2-40-7-35-10-30-13-30-20M2511 2620l4 50 14 105 0 45-6 20-13 15-20 9-20 2-44-6-61-20-28-15-20-20-15-30-9-35-5-45-3-75M5400 2783l-95-6-25-8-16-19-21-50-16-30-35-50M3845 2930l15 1 15 5 12 9 10 15 3 15-4 15-7 10-14 8-20 4-20-4-18-13-9-15-2-20 8-15 12-10 19-5M1830 3358l14-28 18-20 28-19 30-12 25-5 25-2 115-1 45 2 40 4 50 10 35 10 30 14 27 19 18 20 9 20 3 25-4 25-11 20-17 21-25 20-30 16-30 11-35 7-45 5-140 1-35-4-35-8-35-14-31-20-24-25-15-29M5400 2767l-85-6-15-4-10-6-13-16-35-70-29-45M3846 2935l14 1 15 7 11 12 5 10 0 15-5 10-11 10-10 4-15 1-17-5-13-10-7-15 0-15 5-10 12-11 16-4M1961 3300l39-4 75 3 105 11 45 11 35 17 23 22 12 25 1 15-3 15-14 25-24 22-30 17-40 12-50 7-90-1-45-4-40-10-35-16-27-22-16-25-5-15-2-15 1-15 4-15 16-25 14-13 15-9 36-13M5400 2750l-65-7-15-3-15-8-10-9-9-13-30-55-21-35M3833 2945l12-4 10 0 10 3 9 6 6 10 3 10-2 10-7 10-9 6-15 3-10-2-11-7-7-10-3-15 4-10 10-10M1988 3320l87-3 60 6 55 14 30 14 20 16 8 13 4 10-2 20-12 20-16 15-27 14-30 10-35 4-55 1-45-5-37-9-28-13-22-17-13-20-5-20 5-25 13-20 20-15 25-10M5400 2731l-50-8-15-4-16-9-19-20-43-70M3839 2950l16-2 10 5 5 7 1 15-6 9-5 4-15 2-10-5-4-5-3-15 5-10 6-5M2068 3330l57 2 35 11 15 7 18 15 10 15 2 15-5 15-15 15-20 10-25 7-30 3-30 1-30-4-25-7-21-10-17-15-9-15-1-20 7-15 11-10 15-8 58-12M5400 2710l-40-10-25-12-23-23-32-45M2065 3345l50-2 13 2 30 15 7 15-1 10-16 15-23 9-35 3-35-7-10-6-10-9-6-15 4-10 4-5 28-15M5400 2686l-30-10-20-11-20-18-23-27M5400 2658l-30-14-29-24" fill="none" stroke="#555" stroke-width="2.8" stroke-opacity="0.45"/>
</g>
</g>
<path fill="#fff" fill-rule="evenodd" d="M180.0 260.6H542.0V398.6H180.0Z M185.5 304.7C187.0 304.3 191.3 303.1 194.2 302.2C197.1 301.3 200.1 300.2 203.0 299.4C205.9 298.6 208.8 298.4 211.7 297.6C214.6 296.8 217.5 295.8 220.4 294.7C223.3 293.6 226.3 291.9 229.2 290.9C232.1 289.9 235.0 289.3 237.9 288.9C240.8 288.5 243.7 288.6 246.6 288.6C249.5 288.6 252.4 289.0 255.4 288.9C258.3 288.8 261.2 288.8 264.1 288.2C267.0 287.6 269.9 286.3 272.8 285.4C275.7 284.6 278.6 283.9 281.6 283.1C284.5 282.3 287.4 281.0 290.3 280.6C293.2 280.2 296.1 280.7 299.0 280.6C301.9 280.5 304.8 280.2 307.8 280.1C310.7 280.0 313.6 280.2 316.5 280.1C319.4 280.0 322.3 279.9 325.2 279.7C328.1 279.5 331.0 279.2 334.0 278.9C336.9 278.7 339.8 278.5 342.7 278.2C345.6 277.9 348.5 277.7 351.4 276.9C354.3 276.1 357.2 274.4 360.1 273.6C363.1 272.8 366.0 272.1 368.9 271.9C371.8 271.7 374.7 272.1 377.6 272.2C380.5 272.3 383.4 272.6 386.3 272.7C389.3 272.9 392.2 273.0 395.1 273.1C398.0 273.2 400.9 273.6 403.8 273.4C406.7 273.2 409.6 272.3 412.5 271.9C415.5 271.5 418.4 271.5 421.3 271.1C424.2 270.7 427.1 269.6 430.0 269.4C432.9 269.2 435.8 269.5 438.7 269.9C441.7 270.3 444.6 271.2 447.5 271.9C450.4 272.6 453.3 273.7 456.2 274.2C459.1 274.7 462.0 274.9 464.9 275.1C467.9 275.3 470.8 275.4 473.7 275.4C476.6 275.5 479.5 275.4 482.4 275.4C485.3 275.4 488.2 275.4 491.1 275.4C494.0 275.5 497.0 275.7 499.9 275.7C502.8 275.7 505.7 275.5 508.6 275.4C511.5 275.4 514.4 275.4 517.3 275.4C520.2 275.4 523.2 275.4 526.1 275.4C529.0 275.4 533.1 275.4 534.8 275.4C536.5 275.4 535.8 275.4 536.0 275.4L500.2 378.5L487.0 378.5L474.3 378.3L466.0 377.8L457.7 376.6L449.0 374.6L441.0 372.8L434.0 372.1L427.7 372.2L421.0 373.0L416.0 374.3L404.7 375.3L388.0 375.6L371.3 375.1L366.0 375.5L361.3 376.4L353.0 378.9L346.0 380.3L338.0 381.4L321.3 382.6L304.7 383.2L297.0 383.6L290.0 384.6L283.0 386.9L275.0 388.9L265.0 389.9L252.5 390.6L240.0 391.8L229.5 393.2Z"/>
<path d="M185.5 304.7C187.0 304.3 191.3 303.1 194.2 302.2C197.1 301.3 200.1 300.2 203.0 299.4C205.9 298.6 208.8 298.4 211.7 297.6C214.6 296.8 217.5 295.8 220.4 294.7C223.3 293.6 226.3 291.9 229.2 290.9C232.1 289.9 235.0 289.3 237.9 288.9C240.8 288.5 243.7 288.6 246.6 288.6C249.5 288.6 252.4 289.0 255.4 288.9C258.3 288.8 261.2 288.8 264.1 288.2C267.0 287.6 269.9 286.3 272.8 285.4C275.7 284.6 278.6 283.9 281.6 283.1C284.5 282.3 287.4 281.0 290.3 280.6C293.2 280.2 296.1 280.7 299.0 280.6C301.9 280.5 304.8 280.2 307.8 280.1C310.7 280.0 313.6 280.2 316.5 280.1C319.4 280.0 322.3 279.9 325.2 279.7C328.1 279.5 331.0 279.2 334.0 278.9C336.9 278.7 339.8 278.5 342.7 278.2C345.6 277.9 348.5 277.7 351.4 276.9C354.3 276.1 357.2 274.4 360.1 273.6C363.1 272.8 366.0 272.1 368.9 271.9C371.8 271.7 374.7 272.1 377.6 272.2C380.5 272.3 383.4 272.6 386.3 272.7C389.3 272.9 392.2 273.0 395.1 273.1C398.0 273.2 400.9 273.6 403.8 273.4C406.7 273.2 409.6 272.3 412.5 271.9C415.5 271.5 418.4 271.5 421.3 271.1C424.2 270.7 427.1 269.6 430.0 269.4C432.9 269.2 435.8 269.5 438.7 269.9C441.7 270.3 444.6 271.2 447.5 271.9C450.4 272.6 453.3 273.7 456.2 274.2C459.1 274.7 462.0 274.9 464.9 275.1C467.9 275.3 470.8 275.4 473.7 275.4C476.6 275.5 479.5 275.4 482.4 275.4C485.3 275.4 488.2 275.4 491.1 275.4C494.0 275.5 497.0 275.7 499.9 275.7C502.8 275.7 505.7 275.5 508.6 275.4C511.5 275.4 514.4 275.4 517.3 275.4C520.2 275.4 523.2 275.4 526.1 275.4C529.0 275.4 533.1 275.4 534.8 275.4C536.5 275.4 535.8 275.4 536.0 275.4" fill="none" stroke="#111" stroke-width="1.1" stroke-linejoin="round"/>
<text transform="translate(211.0 108.3) rotate(0)" font-size="2.9" text-anchor="middle" fill="#111" fill-opacity="0.85">8.8</text>
<text transform="translate(219.6 104.6) rotate(0)" font-size="2.9" text-anchor="middle" fill="#111" fill-opacity="0.85">22.8</text>
<text transform="translate(231.5 188.2) rotate(-8)" font-size="2.9" text-anchor="middle" fill="#111" fill-opacity="0.85">10.6</text>
<text transform="translate(290.6 171.2) rotate(-50)" font-size="2.9" text-anchor="middle" fill="#111" fill-opacity="0.85">21.1</text>
<text transform="translate(313.0 166.0) rotate(-62)" font-size="2.9" text-anchor="middle" fill="#111" fill-opacity="0.85">29.8</text>
<text transform="translate(373.3 171.0) rotate(72)" font-size="2.9" text-anchor="middle" fill="#111" fill-opacity="0.85">29.8</text>
<text transform="translate(471.6 103.0) rotate(-62)" font-size="2.9" text-anchor="middle" fill="#111" fill-opacity="0.85">10.6</text>
<text transform="translate(367.6 99.5) rotate(-80)" font-size="2.9" text-anchor="middle" fill="#111" fill-opacity="0.85">33.3</text>
<text transform="translate(418.0 109.2) rotate(-25)" font-size="2.9" text-anchor="middle" fill="#111" fill-opacity="0.85">29.8</text>
<text transform="translate(216.0 318.6) rotate(0)" font-size="2.7" text-anchor="middle" fill="#444" fill-opacity="0.75">14000</text>
<text transform="translate(224.0 318.6) rotate(0)" font-size="2.7" text-anchor="middle" fill="#444" fill-opacity="0.75">15000</text>
<text transform="translate(232.0 319.0) rotate(0)" font-size="2.7" text-anchor="middle" fill="#444" fill-opacity="0.75">16000</text>
<text transform="translate(217.0 323.2) rotate(0)" font-size="2.7" text-anchor="middle" fill="#444" fill-opacity="0.75">18000</text>
<text transform="translate(226.0 323.6) rotate(0)" font-size="2.7" text-anchor="middle" fill="#444" fill-opacity="0.75">19000</text>
<text transform="translate(219.0 328.0) rotate(0)" font-size="2.7" text-anchor="middle" fill="#444" fill-opacity="0.75">21000</text>
<text transform="translate(228.0 328.6) rotate(0)" font-size="2.7" text-anchor="middle" fill="#444" fill-opacity="0.75">22000</text>
<text transform="translate(212.0 332.6) rotate(0)" font-size="2.7" text-anchor="middle" fill="#444" fill-opacity="0.75">24000</text>
<text transform="translate(222.0 333.0) rotate(0)" font-size="2.7" text-anchor="middle" fill="#444" fill-opacity="0.75">25000</text>
<text transform="translate(233.0 324.5) rotate(0)" font-size="2.7" text-anchor="middle" fill="#444" fill-opacity="0.75">20000</text>
<text transform="translate(285.0 316.6) rotate(0)" font-size="2.7" text-anchor="middle" fill="#444" fill-opacity="0.75">5738</text>
<text transform="translate(336.5 303.5) rotate(-72)" font-size="2.7" text-anchor="middle" fill="#444" fill-opacity="0.75">1762</text>
<text transform="translate(375.0 314.5) rotate(30)" font-size="2.7" text-anchor="middle" fill="#444" fill-opacity="0.75">1312</text>
<text transform="translate(401.0 312.5) rotate(25)" font-size="2.7" text-anchor="middle" fill="#444" fill-opacity="0.75">2744</text>
<text transform="translate(252.0 382.0) rotate(-42)" font-size="2.7" text-anchor="middle" fill="#444" fill-opacity="0.75">4272</text>
<text transform="translate(262.0 377.0) rotate(-45)" font-size="2.7" text-anchor="middle" fill="#444" fill-opacity="0.75">3180</text>
<text transform="translate(471.0 366.5) rotate(-85)" font-size="2.7" text-anchor="middle" fill="#444" fill-opacity="0.75">2043</text>
<text transform="translate(244.0 387.5) rotate(-40)" font-size="2.7" text-anchor="middle" fill="#444" fill-opacity="0.75">6650</text>
<path d="M184.1 99.4h2.8l-1.4 2.7zM192.8 96.9h2.8l-1.4 2.7zM201.6 94.1h2.8l-1.4 2.7zM210.3 92.3h2.8l-1.4 2.7zM219.0 89.4h2.8l-1.4 2.7zM227.8 85.6h2.8l-1.4 2.7zM236.5 83.6h2.8l-1.4 2.7zM245.2 83.3h2.8l-1.4 2.7zM254.0 83.6h2.8l-1.4 2.7zM262.7 82.9h2.8l-1.4 2.7zM271.4 80.1h2.8l-1.4 2.7zM280.2 77.8h2.8l-1.4 2.7zM288.9 75.3h2.8l-1.4 2.7zM297.6 75.3h2.8l-1.4 2.7zM306.4 74.8h2.8l-1.4 2.7zM315.1 74.8h2.8l-1.4 2.7zM323.8 74.4h2.8l-1.4 2.7zM332.6 73.6h2.8l-1.4 2.7zM341.3 72.9h2.8l-1.4 2.7zM350.0 71.6h2.8l-1.4 2.7zM358.8 68.3h2.8l-1.4 2.7zM367.5 66.6h2.8l-1.4 2.7zM376.2 66.9h2.8l-1.4 2.7zM384.9 67.4h2.8l-1.4 2.7zM393.7 67.8h2.8l-1.4 2.7zM402.4 68.1h2.8l-1.4 2.7zM411.1 66.6h2.8l-1.4 2.7zM419.9 65.8h2.8l-1.4 2.7zM428.6 64.1h2.8l-1.4 2.7zM437.3 64.6h2.8l-1.4 2.7zM446.1 66.6h2.8l-1.4 2.7zM454.8 68.9h2.8l-1.4 2.7zM463.5 69.8h2.8l-1.4 2.7zM472.3 70.1h2.8l-1.4 2.7zM481.0 70.1h2.8l-1.4 2.7zM489.7 70.1h2.8l-1.4 2.7zM498.5 70.4h2.8l-1.4 2.7zM507.2 70.1h2.8l-1.4 2.7zM515.9 70.1h2.8l-1.4 2.7zM524.7 70.1h2.8l-1.4 2.7zM533.4 70.1h2.8l-1.4 2.7z" fill="#f00"/>
<g font-size="4.6" fill="#222" stroke="#222" stroke-width=".1"><text transform="translate(184.1 95.8) rotate(-90) scale(.77 1)">260000E</text><text transform="translate(187.6 95.4) rotate(-90) scale(.745 1)">4353110N</text></g>
<g font-size="4.6" fill="#222" stroke="#222" stroke-width=".1"><text transform="translate(201.5 90.5) rotate(-90) scale(.77 1)">260100E</text><text transform="translate(205.0 90.1) rotate(-90) scale(.745 1)">4353110N</text></g>
<g font-size="4.6" fill="#222" stroke="#222" stroke-width=".1"><text transform="translate(219.0 85.8) rotate(-90) scale(.77 1)">260200E</text><text transform="translate(222.5 85.4) rotate(-90) scale(.745 1)">4353110N</text></g>
<g font-size="4.6" fill="#222" stroke="#222" stroke-width=".1"><text transform="translate(236.4 80.0) rotate(-90) scale(.77 1)">260300E</text><text transform="translate(239.9 79.6) rotate(-90) scale(.745 1)">4353110N</text></g>
<g font-size="4.6" fill="#222" stroke="#222" stroke-width=".1"><text transform="translate(253.9 80.0) rotate(-90) scale(.77 1)">260400E</text><text transform="translate(257.4 79.6) rotate(-90) scale(.745 1)">4353110N</text></g>
<g font-size="4.6" fill="#222" stroke="#222" stroke-width=".1"><text transform="translate(271.4 76.5) rotate(-90) scale(.77 1)">260500E</text><text transform="translate(274.9 76.1) rotate(-90) scale(.745 1)">4353110N</text></g>
<g font-size="4.6" fill="#222" stroke="#222" stroke-width=".1"><text transform="translate(288.8 71.7) rotate(-90) scale(.77 1)">260600E</text><text transform="translate(292.3 71.3) rotate(-90) scale(.745 1)">4353110N</text></g>
<g font-size="4.6" fill="#222" stroke="#222" stroke-width=".1"><text transform="translate(446.0 63.0) rotate(-90) scale(.77 1)">261500E</text><text transform="translate(449.5 62.6) rotate(-90) scale(.745 1)">4353110N</text></g>
<g font-size="4.6" fill="#222" stroke="#222" stroke-width=".1"><text transform="translate(463.5 66.2) rotate(-90) scale(.77 1)">261600E</text><text transform="translate(467.0 65.8) rotate(-90) scale(.745 1)">4353110N</text></g>
<g font-size="4.6" fill="#222" stroke="#222" stroke-width=".1"><text transform="translate(481.0 66.5) rotate(-90) scale(.77 1)">261700E</text><text transform="translate(484.5 66.1) rotate(-90) scale(.745 1)">4353110N</text></g>
<g font-size="4.6" fill="#222" stroke="#222" stroke-width=".1"><text transform="translate(498.4 66.8) rotate(-90) scale(.77 1)">261800E</text><text transform="translate(501.9 66.4) rotate(-90) scale(.745 1)">4353110N</text></g>
<g font-size="4.6" fill="#222" stroke="#222" stroke-width=".1"><text transform="translate(515.9 66.5) rotate(-90) scale(.77 1)">261900E</text><text transform="translate(519.4 66.1) rotate(-90) scale(.745 1)">4353110N</text></g>
<g font-size="4.6" fill="#222" stroke="#222" stroke-width=".1"><text transform="translate(533.3 66.5) rotate(-90) scale(.77 1)">262000E</text><text transform="translate(536.8 66.1) rotate(-90) scale(.745 1)">4353110N</text></g>
<path d="M184.1 300.0h2.8l-1.4 2.7zM192.8 297.5h2.8l-1.4 2.7zM201.6 294.7h2.8l-1.4 2.7zM210.3 292.9h2.8l-1.4 2.7zM219.0 290.0h2.8l-1.4 2.7zM227.8 286.2h2.8l-1.4 2.7zM236.5 284.2h2.8l-1.4 2.7zM245.2 283.9h2.8l-1.4 2.7zM254.0 284.2h2.8l-1.4 2.7zM262.7 283.5h2.8l-1.4 2.7zM271.4 280.7h2.8l-1.4 2.7zM280.2 278.4h2.8l-1.4 2.7zM288.9 275.9h2.8l-1.4 2.7zM297.6 275.9h2.8l-1.4 2.7zM306.4 275.4h2.8l-1.4 2.7zM315.1 275.4h2.8l-1.4 2.7zM323.8 275.0h2.8l-1.4 2.7zM332.6 274.2h2.8l-1.4 2.7zM341.3 273.5h2.8l-1.4 2.7zM350.0 272.2h2.8l-1.4 2.7zM358.8 268.9h2.8l-1.4 2.7zM367.5 267.2h2.8l-1.4 2.7zM376.2 267.5h2.8l-1.4 2.7zM384.9 268.0h2.8l-1.4 2.7zM393.7 268.4h2.8l-1.4 2.7zM402.4 268.7h2.8l-1.4 2.7zM411.1 267.2h2.8l-1.4 2.7zM419.9 266.4h2.8l-1.4 2.7zM428.6 264.7h2.8l-1.4 2.7zM437.3 265.2h2.8l-1.4 2.7zM446.1 267.2h2.8l-1.4 2.7zM454.8 269.5h2.8l-1.4 2.7zM463.5 270.4h2.8l-1.4 2.7zM472.3 270.7h2.8l-1.4 2.7zM481.0 270.7h2.8l-1.4 2.7zM489.7 270.7h2.8l-1.4 2.7zM498.5 271.0h2.8l-1.4 2.7zM507.2 270.7h2.8l-1.4 2.7zM515.9 270.7h2.8l-1.4 2.7zM524.7 270.7h2.8l-1.4 2.7zM533.4 270.7h2.8l-1.4 2.7z" fill="#f00"/>
<g font-size="4.6" fill="#222" stroke="#222" stroke-width=".1"><text transform="translate(184.1 296.4) rotate(-90) scale(.77 1)">260000E</text><text transform="translate(187.6 296.0) rotate(-90) scale(.745 1)">4353110N</text></g>
<g font-size="4.6" fill="#222" stroke="#222" stroke-width=".1"><text transform="translate(201.5 291.1) rotate(-90) scale(.77 1)">260100E</text><text transform="translate(205.0 290.7) rotate(-90) scale(.745 1)">4353110N</text></g>
<g font-size="4.6" fill="#222" stroke="#222" stroke-width=".1"><text transform="translate(219.0 286.4) rotate(-90) scale(.77 1)">260200E</text><text transform="translate(222.5 286.0) rotate(-90) scale(.745 1)">4353110N</text></g>
<g font-size="4.6" fill="#222" stroke="#222" stroke-width=".1"><text transform="translate(236.4 280.6) rotate(-90) scale(.77 1)">260300E</text><text transform="translate(239.9 280.2) rotate(-90) scale(.745 1)">4353110N</text></g>
<g font-size="4.6" fill="#222" stroke="#222" stroke-width=".1"><text transform="translate(253.9 280.6) rotate(-90) scale(.77 1)">260400E</text><text transform="translate(257.4 280.2) rotate(-90) scale(.745 1)">4353110N</text></g>
<g font-size="4.6" fill="#222" stroke="#222" stroke-width=".1"><text transform="translate(271.4 277.1) rotate(-90) scale(.77 1)">260500E</text><text transform="translate(274.9 276.7) rotate(-90) scale(.745 1)">4353110N</text></g>
<g font-size="4.6" fill="#222" stroke="#222" stroke-width=".1"><text transform="translate(288.8 272.3) rotate(-90) scale(.77 1)">260600E</text><text transform="translate(292.3 271.9) rotate(-90) scale(.745 1)">4353110N</text></g>
<g font-size="4.6" fill="#222" stroke="#222" stroke-width=".1"><text transform="translate(306.3 271.8) rotate(-90) scale(.77 1)">260700E</text><text transform="translate(309.8 271.4) rotate(-90) scale(.745 1)">4353110N</text></g>
<g font-size="4.6" fill="#222" stroke="#222" stroke-width=".1"><text transform="translate(323.8 271.4) rotate(-90) scale(.77 1)">260800E</text><text transform="translate(327.3 271.0) rotate(-90) scale(.745 1)">4353110N</text></g>
<g font-size="4.6" fill="#222" stroke="#222" stroke-width=".1"><text transform="translate(341.2 269.9) rotate(-90) scale(.77 1)">260900E</text><text transform="translate(344.7 269.5) rotate(-90) scale(.745 1)">4353110N</text></g>
<g font-size="4.6" fill="#222" stroke="#222" stroke-width=".1"><text transform="translate(358.7 265.3) rotate(-90) scale(.77 1)">261000E</text><text transform="translate(362.2 264.9) rotate(-90) scale(.745 1)">4353110N</text></g>
<g font-size="4.6" fill="#222" stroke="#222" stroke-width=".1"><text transform="translate(376.2 263.9) rotate(-90) scale(.77 1)">261100E</text><text transform="translate(379.7 263.5) rotate(-90) scale(.745 1)">4353110N</text></g>
<g font-size="4.6" fill="#222" stroke="#222" stroke-width=".1"><text transform="translate(393.6 264.8) rotate(-90) scale(.77 1)">261200E</text><text transform="translate(397.1 264.4) rotate(-90) scale(.745 1)">4353110N</text></g>
<g font-size="4.6" fill="#222" stroke="#222" stroke-width=".1"><text transform="translate(411.1 263.6) rotate(-90) scale(.77 1)">261300E</text><text transform="translate(414.6 263.2) rotate(-90) scale(.745 1)">4353110N</text></g>
<g font-size="4.6" fill="#222" stroke="#222" stroke-width=".1"><text transform="translate(428.6 261.1) rotate(-90) scale(.77 1)">261400E</text><text transform="translate(432.1 260.7) rotate(-90) scale(.745 1)">4353110N</text></g>
<g font-size="4.6" fill="#222" stroke="#222" stroke-width=".1"><text transform="translate(446.0 263.6) rotate(-90) scale(.77 1)">261500E</text><text transform="translate(449.5 263.2) rotate(-90) scale(.745 1)">4353110N</text></g>
<g font-size="4.6" fill="#222" stroke="#222" stroke-width=".1"><text transform="translate(463.5 266.8) rotate(-90) scale(.77 1)">261600E</text><text transform="translate(467.0 266.4) rotate(-90) scale(.745 1)">4353110N</text></g>
<g font-size="4.6" fill="#222" stroke="#222" stroke-width=".1"><text transform="translate(481.0 267.1) rotate(-90) scale(.77 1)">261700E</text><text transform="translate(484.5 266.7) rotate(-90) scale(.745 1)">4353110N</text></g>
<g font-size="4.6" fill="#222" stroke="#222" stroke-width=".1"><text transform="translate(498.4 267.4) rotate(-90) scale(.77 1)">261800E</text><text transform="translate(501.9 267.0) rotate(-90) scale(.745 1)">4353110N</text></g>
<g font-size="4.6" fill="#222" stroke="#222" stroke-width=".1"><text transform="translate(515.9 267.1) rotate(-90) scale(.77 1)">261900E</text><text transform="translate(519.4 266.7) rotate(-90) scale(.745 1)">4353110N</text></g>
<g font-size="4.6" fill="#222" stroke="#222" stroke-width=".1"><text transform="translate(533.3 267.1) rotate(-90) scale(.77 1)">262000E</text><text transform="translate(536.8 266.7) rotate(-90) scale(.745 1)">4353110N</text></g>
<path d="M169.8 59.9V214.7" stroke="#4a4a4a" stroke-width="1.05" fill="none"/>
<path d="M550.7 59.9V214.7" stroke="#4a4a4a" stroke-width="1.0" fill="none"/>
<text x="167.20" y="215.58" font-size="3.80" text-anchor="end" fill="#111" stroke="#111" stroke-width=".12">400</text>
<text x="553.20" y="215.58" font-size="3.80" fill="#111" stroke="#111" stroke-width=".12">400</text>
<text x="167.20" y="198.46" font-size="3.80" text-anchor="end" fill="#111" stroke="#111" stroke-width=".12">500</text>
<text x="553.20" y="198.46" font-size="3.80" fill="#111" stroke="#111" stroke-width=".12">500</text>
<text x="167.20" y="181.34" font-size="3.80" text-anchor="end" fill="#111" stroke="#111" stroke-width=".12">600</text>
<text x="553.20" y="181.34" font-size="3.80" fill="#111" stroke="#111" stroke-width=".12">600</text>
<text x="167.20" y="164.22" font-size="3.80" text-anchor="end" fill="#111" stroke="#111" stroke-width=".12">700</text>
<text x="553.20" y="164.22" font-size="3.80" fill="#111" stroke="#111" stroke-width=".12">700</text>
<text x="167.20" y="147.10" font-size="3.80" text-anchor="end" fill="#111" stroke="#111" stroke-width=".12">800</text>
<text x="553.20" y="147.10" font-size="3.80" fill="#111" stroke="#111" stroke-width=".12">800</text>
<text x="167.20" y="129.98" font-size="3.80" text-anchor="end" fill="#111" stroke="#111" stroke-width=".12">900</text>
<text x="553.20" y="129.98" font-size="3.80" fill="#111" stroke="#111" stroke-width=".12">900</text>
<text x="167.20" y="112.86" font-size="3.80" text-anchor="end" fill="#111" stroke="#111" stroke-width=".12">1000</text>
<text x="553.20" y="112.86" font-size="3.80" fill="#111" stroke="#111" stroke-width=".12">1000</text>
<text x="167.20" y="95.74" font-size="3.80" text-anchor="end" fill="#111" stroke="#111" stroke-width=".12">1100</text>
<text x="553.20" y="95.74" font-size="3.80" fill="#111" stroke="#111" stroke-width=".12">1100</text>
<text x="167.20" y="78.62" font-size="3.80" text-anchor="end" fill="#111" stroke="#111" stroke-width=".12">1200</text>
<text x="553.20" y="78.62" font-size="3.80" fill="#111" stroke="#111" stroke-width=".12">1200</text>
<text x="167.20" y="61.50" font-size="3.80" text-anchor="end" fill="#111" stroke="#111" stroke-width=".12">1300</text>
<text x="553.20" y="61.50" font-size="3.80" fill="#111" stroke="#111" stroke-width=".12">1300</text>
<path d="M168.2 214.3H170M550.7 214.3H552.4M168.2 197.2H170M550.7 197.2H552.4M168.2 180.0H170M550.7 180.0H552.4M168.2 162.9H170M550.7 162.9H552.4M168.2 145.8H170M550.7 145.8H552.4M168.2 128.7H170M550.7 128.7H552.4M168.2 111.6H170M550.7 111.6H552.4M168.2 94.4H170M550.7 94.4H552.4M168.2 77.3H170M550.7 77.3H552.4M168.2 60.2H170M550.7 60.2H552.4" stroke="#4a4a4a" stroke-width="0.7" fill="none"/>
<path d="M176.4 214.3H543.9" stroke="#4a4a4a" stroke-width="1.0" fill="none"/>
<path d="M176.77 214.3V212.4M180.26 214.3V213.0M183.75 214.3V213.0M187.25 214.3V213.0M190.74 214.3V213.0M194.23 214.3V212.4M197.73 214.3V213.0M201.22 214.3V213.0M204.71 214.3V213.0M208.20 214.3V213.0M211.70 214.3V212.4M215.19 214.3V213.0M218.68 214.3V213.0M222.18 214.3V213.0M225.67 214.3V213.0M229.16 214.3V212.4M232.66 214.3V213.0M236.15 214.3V213.0M239.64 214.3V213.0M243.13 214.3V213.0M246.63 214.3V212.4M250.12 214.3V213.0M253.61 214.3V213.0M257.11 214.3V213.0M260.60 214.3V213.0M264.09 214.3V212.4M267.59 214.3V213.0M271.08 214.3V213.0M274.57 214.3V213.0M278.06 214.3V213.0M281.56 214.3V212.4M285.05 214.3V213.0M288.54 214.3V213.0M292.04 214.3V213.0M295.53 214.3V213.0M299.02 214.3V212.4M302.52 214.3V213.0M306.01 214.3V213.0M309.50 214.3V213.0M312.99 214.3V213.0M316.49 214.3V212.4M319.98 214.3V213.0M323.47 214.3V213.0M326.97 214.3V213.0M330.46 214.3V213.0M333.95 214.3V212.4M337.45 214.3V213.0M340.94 214.3V213.0M344.43 214.3V213.0M347.92 214.3V213.0M351.42 214.3V212.4M354.91 214.3V213.0M358.40 214.3V213.0M361.90 214.3V213.0M365.39 214.3V213.0M368.88 214.3V212.4M372.38 214.3V213.0M375.87 214.3V213.0M379.36 214.3V213.0M382.85 214.3V213.0M386.35 214.3V212.4M389.84 214.3V213.0M393.33 214.3V213.0M396.83 214.3V213.0M400.32 214.3V213.0M403.81 214.3V212.4M407.31 214.3V213.0M410.80 214.3V213.0M414.29 214.3V213.0M417.78 214.3V213.0M421.28 214.3V212.4M424.77 214.3V213.0M428.26 214.3V213.0M431.76 214.3V213.0M435.25 214.3V213.0M438.74 214.3V212.4M442.24 214.3V213.0M445.73 214.3V213.0M449.22 214.3V213.0M452.71 214.3V213.0M456.21 214.3V212.4M459.70 214.3V213.0M463.19 214.3V213.0M466.69 214.3V213.0M470.18 214.3V213.0M473.67 214.3V212.4M477.17 214.3V213.0M480.66 214.3V213.0M484.15 214.3V213.0M487.64 214.3V213.0M491.14 214.3V212.4M494.63 214.3V213.0M498.12 214.3V213.0M501.62 214.3V213.0M505.11 214.3V213.0M508.60 214.3V212.4M512.10 214.3V213.0M515.59 214.3V213.0M519.08 214.3V213.0M522.57 214.3V213.0M526.07 214.3V212.4M529.56 214.3V213.0M533.05 214.3V213.0M536.55 214.3V213.0M540.04 214.3V213.0M543.53 214.3V212.4" stroke="#4a4a4a" stroke-width="0.75" fill="none"/>
<text x="176.77" y="211.78" font-size="4.50" text-anchor="middle" fill="#111" stroke="#111" stroke-width=".14">-50</text>
<text x="194.23" y="211.78" font-size="4.50" text-anchor="middle" fill="#111" stroke="#111" stroke-width=".14">50</text>
<text x="211.70" y="211.78" font-size="4.50" text-anchor="middle" fill="#111" stroke="#111" stroke-width=".14">150</text>
<text x="229.16" y="211.78" font-size="4.50" text-anchor="middle" fill="#111" stroke="#111" stroke-width=".14">250</text>
<text x="246.63" y="211.78" font-size="4.50" text-anchor="middle" fill="#111" stroke="#111" stroke-width=".14">350</text>
<text x="264.09" y="211.78" font-size="4.50" text-anchor="middle" fill="#111" stroke="#111" stroke-width=".14">450</text>
<text x="281.56" y="211.78" font-size="4.50" text-anchor="middle" fill="#111" stroke="#111" stroke-width=".14">550</text>
<text x="299.02" y="211.78" font-size="4.50" text-anchor="middle" fill="#111" stroke="#111" stroke-width=".14">650</text>
<text x="316.49" y="211.78" font-size="4.50" text-anchor="middle" fill="#111" stroke="#111" stroke-width=".14">750</text>
<text x="333.95" y="211.78" font-size="4.50" text-anchor="middle" fill="#111" stroke="#111" stroke-width=".14">850</text>
<text x="351.42" y="211.78" font-size="4.50" text-anchor="middle" fill="#111" stroke="#111" stroke-width=".14">950</text>
<text x="368.88" y="211.78" font-size="4.50" text-anchor="middle" fill="#111" stroke="#111" stroke-width=".14">1050</text>
<text x="386.35" y="211.78" font-size="4.50" text-anchor="middle" fill="#111" stroke="#111" stroke-width=".14">1150</text>
<text x="403.81" y="211.78" font-size="4.50" text-anchor="middle" fill="#111" stroke="#111" stroke-width=".14">1250</text>
<text x="421.28" y="211.78" font-size="4.50" text-anchor="middle" fill="#111" stroke="#111" stroke-width=".14">1350</text>
<text x="438.74" y="211.78" font-size="4.50" text-anchor="middle" fill="#111" stroke="#111" stroke-width=".14">1450</text>
<text x="456.21" y="211.78" font-size="4.50" text-anchor="middle" fill="#111" stroke="#111" stroke-width=".14">1550</text>
<text x="473.67" y="211.78" font-size="4.50" text-anchor="middle" fill="#111" stroke="#111" stroke-width=".14">1650</text>
<text x="491.14" y="211.78" font-size="4.50" text-anchor="middle" fill="#111" stroke="#111" stroke-width=".14">1750</text>
<text x="508.60" y="211.78" font-size="4.50" text-anchor="middle" fill="#111" stroke="#111" stroke-width=".14">1850</text>
<text x="526.07" y="211.78" font-size="4.50" text-anchor="middle" fill="#111" stroke="#111" stroke-width=".14">1950</text>
<text x="543.53" y="211.78" font-size="4.50" text-anchor="middle" fill="#111" stroke="#111" stroke-width=".14">2050</text>
<text transform="translate(155.0 116.5) rotate(-90)" font-size="7.05" font-weight="bold" text-anchor="middle" fill="#000">Elevation (m)</text>
<text transform="translate(571.2 116.4) rotate(-90)" font-size="7.05" font-weight="bold" text-anchor="middle" fill="#000">Elevation (m)</text>
<path d="M169.8 260.2V415.0" stroke="#4a4a4a" stroke-width="1.05" fill="none"/>
<path d="M550.7 260.2V415.0" stroke="#4a4a4a" stroke-width="1.0" fill="none"/>
<text x="167.20" y="415.88" font-size="3.80" text-anchor="end" fill="#111" stroke="#111" stroke-width=".12">400</text>
<text x="553.20" y="415.88" font-size="3.80" fill="#111" stroke="#111" stroke-width=".12">400</text>
<text x="167.20" y="398.76" font-size="3.80" text-anchor="end" fill="#111" stroke="#111" stroke-width=".12">500</text>
<text x="553.20" y="398.76" font-size="3.80" fill="#111" stroke="#111" stroke-width=".12">500</text>
<text x="167.20" y="381.64" font-size="3.80" text-anchor="end" fill="#111" stroke="#111" stroke-width=".12">600</text>
<text x="553.20" y="381.64" font-size="3.80" fill="#111" stroke="#111" stroke-width=".12">600</text>
<text x="167.20" y="364.52" font-size="3.80" text-anchor="end" fill="#111" stroke="#111" stroke-width=".12">700</text>
<text x="553.20" y="364.52" font-size="3.80" fill="#111" stroke="#111" stroke-width=".12">700</text>
<text x="167.20" y="347.40" font-size="3.80" text-anchor="end" fill="#111" stroke="#111" stroke-width=".12">800</text>
<text x="553.20" y="347.40" font-size="3.80" fill="#111" stroke="#111" stroke-width=".12">800</text>
<text x="167.20" y="330.28" font-size="3.80" text-anchor="end" fill="#111" stroke="#111" stroke-width=".12">900</text>
<text x="553.20" y="330.28" font-size="3.80" fill="#111" stroke="#111" stroke-width=".12">900</text>
<text x="167.20" y="313.16" font-size="3.80" text-anchor="end" fill="#111" stroke="#111" stroke-width=".12">1000</text>
<text x="553.20" y="313.16" font-size="3.80" fill="#111" stroke="#111" stroke-width=".12">1000</text>
<text x="167.20" y="296.04" font-size="3.80" text-anchor="end" fill="#111" stroke="#111" stroke-width=".12">1100</text>
<text x="553.20" y="296.04" font-size="3.80" fill="#111" stroke="#111" stroke-width=".12">1100</text>
<text x="167.20" y="278.92" font-size="3.80" text-anchor="end" fill="#111" stroke="#111" stroke-width=".12">1200</text>
<text x="553.20" y="278.92" font-size="3.80" fill="#111" stroke="#111" stroke-width=".12">1200</text>
<text x="167.20" y="261.80" font-size="3.80" text-anchor="end" fill="#111" stroke="#111" stroke-width=".12">1300</text>
<text x="553.20" y="261.80" font-size="3.80" fill="#111" stroke="#111" stroke-width=".12">1300</text>
<path d="M168.2 414.6H170M550.7 414.6H552.4M168.2 397.5H170M550.7 397.5H552.4M168.2 380.3H170M550.7 380.3H552.4M168.2 363.2H170M550.7 363.2H552.4M168.2 346.1H170M550.7 346.1H552.4M168.2 329.0H170M550.7 329.0H552.4M168.2 311.9H170M550.7 311.9H552.4M168.2 294.7H170M550.7 294.7H552.4M168.2 277.6H170M550.7 277.6H552.4M168.2 260.5H170M550.7 260.5H552.4" stroke="#4a4a4a" stroke-width="0.7" fill="none"/>
<path d="M176.4 414.6H543.9" stroke="#4a4a4a" stroke-width="1.0" fill="none"/>
<path d="M176.77 414.6V412.7M180.26 414.6V413.3M183.75 414.6V413.3M187.25 414.6V413.3M190.74 414.6V413.3M194.23 414.6V412.7M197.73 414.6V413.3M201.22 414.6V413.3M204.71 414.6V413.3M208.20 414.6V413.3M211.70 414.6V412.7M215.19 414.6V413.3M218.68 414.6V413.3M222.18 414.6V413.3M225.67 414.6V413.3M229.16 414.6V412.7M232.66 414.6V413.3M236.15 414.6V413.3M239.64 414.6V413.3M243.13 414.6V413.3M246.63 414.6V412.7M250.12 414.6V413.3M253.61 414.6V413.3M257.11 414.6V413.3M260.60 414.6V413.3M264.09 414.6V412.7M267.59 414.6V413.3M271.08 414.6V413.3M274.57 414.6V413.3M278.06 414.6V413.3M281.56 414.6V412.7M285.05 414.6V413.3M288.54 414.6V413.3M292.04 414.6V413.3M295.53 414.6V413.3M299.02 414.6V412.7M302.52 414.6V413.3M306.01 414.6V413.3M309.50 414.6V413.3M312.99 414.6V413.3M316.49 414.6V412.7M319.98 414.6V413.3M323.47 414.6V413.3M326.97 414.6V413.3M330.46 414.6V413.3M333.95 414.6V412.7M337.45 414.6V413.3M340.94 414.6V413.3M344.43 414.6V413.3M347.92 414.6V413.3M351.42 414.6V412.7M354.91 414.6V413.3M358.40 414.6V413.3M361.90 414.6V413.3M365.39 414.6V413.3M368.88 414.6V412.7M372.38 414.6V413.3M375.87 414.6V413.3M379.36 414.6V413.3M382.85 414.6V413.3M386.35 414.6V412.7M389.84 414.6V413.3M393.33 414.6V413.3M396.83 414.6V413.3M400.32 414.6V413.3M403.81 414.6V412.7M407.31 414.6V413.3M410.80 414.6V413.3M414.29 414.6V413.3M417.78 414.6V413.3M421.28 414.6V412.7M424.77 414.6V413.3M428.26 414.6V413.3M431.76 414.6V413.3M435.25 414.6V413.3M438.74 414.6V412.7M442.24 414.6V413.3M445.73 414.6V413.3M449.22 414.6V413.3M452.71 414.6V413.3M456.21 414.6V412.7M459.70 414.6V413.3M463.19 414.6V413.3M466.69 414.6V413.3M470.18 414.6V413.3M473.67 414.6V412.7M477.17 414.6V413.3M480.66 414.6V413.3M484.15 414.6V413.3M487.64 414.6V413.3M491.14 414.6V412.7M494.63 414.6V413.3M498.12 414.6V413.3M501.62 414.6V413.3M505.11 414.6V413.3M508.60 414.6V412.7M512.10 414.6V413.3M515.59 414.6V413.3M519.08 414.6V413.3M522.57 414.6V413.3M526.07 414.6V412.7M529.56 414.6V413.3M533.05 414.6V413.3M536.55 414.6V413.3M540.04 414.6V413.3M543.53 414.6V412.7" stroke="#4a4a4a" stroke-width="0.75" fill="none"/>
<text x="176.77" y="412.08" font-size="4.50" text-anchor="middle" fill="#111" stroke="#111" stroke-width=".14">-50</text>
<text x="194.23" y="412.08" font-size="4.50" text-anchor="middle" fill="#111" stroke="#111" stroke-width=".14">50</text>
<text x="211.70" y="412.08" font-size="4.50" text-anchor="middle" fill="#111" stroke="#111" stroke-width=".14">150</text>
<text x="229.16" y="412.08" font-size="4.50" text-anchor="middle" fill="#111" stroke="#111" stroke-width=".14">250</text>
<text x="246.63" y="412.08" font-size="4.50" text-anchor="middle" fill="#111" stroke="#111" stroke-width=".14">350</text>
<text x="264.09" y="412.08" font-size="4.50" text-anchor="middle" fill="#111" stroke="#111" stroke-width=".14">450</text>
<text x="281.56" y="412.08" font-size="4.50" text-anchor="middle" fill="#111" stroke="#111" stroke-width=".14">550</text>
<text x="299.02" y="412.08" font-size="4.50" text-anchor="middle" fill="#111" stroke="#111" stroke-width=".14">650</text>
<text x="316.49" y="412.08" font-size="4.50" text-anchor="middle" fill="#111" stroke="#111" stroke-width=".14">750</text>
<text x="333.95" y="412.08" font-size="4.50" text-anchor="middle" fill="#111" stroke="#111" stroke-width=".14">850</text>
<text x="351.42" y="412.08" font-size="4.50" text-anchor="middle" fill="#111" stroke="#111" stroke-width=".14">950</text>
<text x="368.88" y="412.08" font-size="4.50" text-anchor="middle" fill="#111" stroke="#111" stroke-width=".14">1050</text>
<text x="386.35" y="412.08" font-size="4.50" text-anchor="middle" fill="#111" stroke="#111" stroke-width=".14">1150</text>
<text x="403.81" y="412.08" font-size="4.50" text-anchor="middle" fill="#111" stroke="#111" stroke-width=".14">1250</text>
<text x="421.28" y="412.08" font-size="4.50" text-anchor="middle" fill="#111" stroke="#111" stroke-width=".14">1350</text>
<text x="438.74" y="412.08" font-size="4.50" text-anchor="middle" fill="#111" stroke="#111" stroke-width=".14">1450</text>
<text x="456.21" y="412.08" font-size="4.50" text-anchor="middle" fill="#111" stroke="#111" stroke-width=".14">1550</text>
<text x="473.67" y="412.08" font-size="4.50" text-anchor="middle" fill="#111" stroke="#111" stroke-width=".14">1650</text>
<text x="491.14" y="412.08" font-size="4.50" text-anchor="middle" fill="#111" stroke="#111" stroke-width=".14">1750</text>
<text x="508.60" y="412.08" font-size="4.50" text-anchor="middle" fill="#111" stroke="#111" stroke-width=".14">1850</text>
<text x="526.07" y="412.08" font-size="4.50" text-anchor="middle" fill="#111" stroke="#111" stroke-width=".14">1950</text>
<text x="543.53" y="412.08" font-size="4.50" text-anchor="middle" fill="#111" stroke="#111" stroke-width=".14">2050</text>
<text transform="translate(155.0 316.8) rotate(-90)" font-size="7.05" font-weight="bold" text-anchor="middle" fill="#000">Elevation (m)</text>
<text transform="translate(571.2 316.7) rotate(-90)" font-size="7.05" font-weight="bold" text-anchor="middle" fill="#000">Elevation (m)</text>
<linearGradient id="lg1" x1="0" y1="0" x2="0" y2="1"><stop offset="0.0000" stop-color="#ff97ff"/><stop offset="0.0276" stop-color="#ff8eff"/><stop offset="0.0552" stop-color="#ff3cff"/><stop offset="0.0552" stop-color="#ff31ff"/><stop offset="0.0807" stop-color="#ff00e4"/><stop offset="0.1063" stop-color="#ff009d"/><stop offset="0.1063" stop-color="#ff0093"/><stop offset="0.1318" stop-color="#ff004e"/><stop offset="0.1573" stop-color="#ff0020"/><stop offset="0.1573" stop-color="#ff0010"/><stop offset="0.1828" stop-color="#ff0500"/><stop offset="0.2084" stop-color="#ff2600"/><stop offset="0.2084" stop-color="#ff2a00"/><stop offset="0.2339" stop-color="#ff4b00"/><stop offset="0.2594" stop-color="#ff6300"/><stop offset="0.2594" stop-color="#ff6400"/><stop offset="0.2849" stop-color="#ff7600"/><stop offset="0.3105" stop-color="#ff8800"/><stop offset="0.3105" stop-color="#ff8800"/><stop offset="0.3360" stop-color="#ff9400"/><stop offset="0.3615" stop-color="#ffa000"/><stop offset="0.3615" stop-color="#ffa000"/><stop offset="0.3870" stop-color="#ffb000"/><stop offset="0.4126" stop-color="#ffc000"/><stop offset="0.4126" stop-color="#ffc000"/><stop offset="0.4381" stop-color="#ffd100"/><stop offset="0.4636" stop-color="#ffe200"/><stop offset="0.4636" stop-color="#ffe200"/><stop offset="0.4891" stop-color="#fffa00"/><stop offset="0.5147" stop-color="#ecff00"/><stop offset="0.5147" stop-color="#eaff00"/><stop offset="0.5402" stop-color="#c6ff00"/><stop offset="0.5657" stop-color="#a1ff00"/><stop offset="0.5657" stop-color="#9fff00"/><stop offset="0.5912" stop-color="#7dff00"/><stop offset="0.6168" stop-color="#5bff00"/><stop offset="0.6168" stop-color="#59ff00"/><stop offset="0.6423" stop-color="#3cff00"/><stop offset="0.6678" stop-color="#1fff00"/><stop offset="0.6678" stop-color="#1eff00"/><stop offset="0.6933" stop-color="#0fff0f"/><stop offset="0.7189" stop-color="#00ff1e"/><stop offset="0.7189" stop-color="#00ff1f"/><stop offset="0.7444" stop-color="#00ff4b"/><stop offset="0.7699" stop-color="#00ff77"/><stop offset="0.7699" stop-color="#00ff79"/><stop offset="0.7954" stop-color="#00ffaf"/><stop offset="0.8210" stop-color="#00ffe5"/><stop offset="0.8210" stop-color="#00ffe6"/><stop offset="0.8465" stop-color="#00ffff"/><stop offset="0.8720" stop-color="#00e2ff"/><stop offset="0.8720" stop-color="#00e0ff"/><stop offset="0.8975" stop-color="#00b6ff"/><stop offset="0.9231" stop-color="#008dff"/><stop offset="0.9231" stop-color="#008bff"/><stop offset="0.9486" stop-color="#0067ff"/><stop offset="0.9741" stop-color="#002aff"/><stop offset="0.9741" stop-color="#0000ff"/><stop offset="0.9871" stop-color="#0000ff"/><stop offset="1.0000" stop-color="#0000ff"/></linearGradient>
<rect x="584.2" y="67.20" width="14.2" height="128.60" fill="url(#lg1)"/>
<text x="601.30" y="76.10" font-size="4.75" fill="#111">33.3</text>
<text x="601.30" y="82.66" font-size="4.75" fill="#111">31.5</text>
<text x="601.30" y="89.23" font-size="4.75" fill="#111">29.8</text>
<text x="601.30" y="95.80" font-size="4.75" fill="#111">28.0</text>
<text x="601.30" y="102.36" font-size="4.75" fill="#111">26.3</text>
<text x="601.30" y="108.92" font-size="4.75" fill="#111">24.5</text>
<text x="601.30" y="115.49" font-size="4.75" fill="#111">22.8</text>
<text x="601.30" y="122.05" font-size="4.75" fill="#111">21.1</text>
<text x="601.30" y="128.62" font-size="4.75" fill="#111">19.3</text>
<text x="601.30" y="135.19" font-size="4.75" fill="#111">17.6</text>
<text x="601.30" y="141.75" font-size="4.75" fill="#111">15.8</text>
<text x="601.30" y="148.31" font-size="4.75" fill="#111">14.1</text>
<text x="601.30" y="154.88" font-size="4.75" fill="#111">12.3</text>
<text x="601.30" y="161.44" font-size="4.75" fill="#111">10.6</text>
<text x="601.30" y="168.01" font-size="4.75" fill="#111">8.8</text>
<text x="601.30" y="174.58" font-size="4.75" fill="#111">7.1</text>
<text x="601.30" y="181.14" font-size="4.75" fill="#111">5.4</text>
<text x="601.30" y="187.71" font-size="4.75" fill="#111">3.6</text>
<text x="601.30" y="194.27" font-size="4.75" fill="#111">1.9</text>
<path d="M584.2 74.30H598.4M584.2 80.86H598.4M584.2 87.43H598.4M584.2 94.00H598.4M584.2 100.56H598.4M584.2 107.12H598.4M584.2 113.69H598.4M584.2 120.25H598.4M584.2 126.82H598.4M584.2 133.38H598.4M584.2 139.95H598.4M584.2 146.51H598.4M584.2 153.08H598.4M584.2 159.64H598.4M584.2 166.21H598.4M584.2 172.78H598.4M584.2 179.34H598.4M584.2 185.91H598.4M584.2 192.47H598.4" stroke="#000" stroke-opacity="0.5" stroke-width="0.7" fill="none"/>
<rect x="584.2" y="67.20" width="14.2" height="128.60" fill="none" stroke="#444" stroke-opacity="0.55" stroke-width="0.6"/>
<text x="592.30" y="59.40" font-size="6.10" text-anchor="middle" fill="#111">Chargeability</text>
<text x="592.50" y="65.30" font-size="4.30" text-anchor="middle" fill="#444" font-style="italic">mV/v</text>
<linearGradient id="lg2" x1="0" y1="0" x2="0" y2="1"><stop offset="0.0000" stop-color="#ffffff"/><stop offset="0.0226" stop-color="#ffffff"/><stop offset="0.0451" stop-color="#ffffff"/><stop offset="0.0451" stop-color="#f0ffff"/><stop offset="0.0650" stop-color="#f0ffff"/><stop offset="0.0849" stop-color="#f0ffff"/><stop offset="0.0849" stop-color="#c0ffff"/><stop offset="0.1048" stop-color="#c0ffff"/><stop offset="0.1247" stop-color="#c0ffff"/><stop offset="0.1247" stop-color="#a0ffff"/><stop offset="0.1446" stop-color="#a0ffff"/><stop offset="0.1645" stop-color="#a0ffff"/><stop offset="0.1645" stop-color="#60ffff"/><stop offset="0.1844" stop-color="#60ffff"/><stop offset="0.2044" stop-color="#60ffff"/><stop offset="0.2044" stop-color="#60ffc8"/><stop offset="0.2243" stop-color="#60ffc8"/><stop offset="0.2442" stop-color="#60ffc8"/><stop offset="0.2442" stop-color="#60ff78"/><stop offset="0.2641" stop-color="#60ff78"/><stop offset="0.2840" stop-color="#60ff78"/><stop offset="0.2840" stop-color="#80ff00"/><stop offset="0.3039" stop-color="#80ff00"/><stop offset="0.3238" stop-color="#80ff00"/><stop offset="0.3238" stop-color="#c0ff00"/><stop offset="0.3437" stop-color="#c0ff00"/><stop offset="0.3636" stop-color="#c0ff00"/><stop offset="0.3636" stop-color="#ffff00"/><stop offset="0.3835" stop-color="#ffff00"/><stop offset="0.4034" stop-color="#ffff00"/><stop offset="0.4034" stop-color="#ffff00"/><stop offset="0.4233" stop-color="#ffff00"/><stop offset="0.4432" stop-color="#ffff00"/><stop offset="0.4432" stop-color="#ffff00"/><stop offset="0.4631" stop-color="#ffff00"/><stop offset="0.4830" stop-color="#ffff00"/><stop offset="0.4830" stop-color="#fff800"/><stop offset="0.5030" stop-color="#fff800"/><stop offset="0.5229" stop-color="#fff800"/><stop offset="0.5229" stop-color="#fff000"/><stop offset="0.5428" stop-color="#fff000"/><stop offset="0.5627" stop-color="#fff000"/><stop offset="0.5627" stop-color="#ffc400"/><stop offset="0.5826" stop-color="#ffc400"/><stop offset="0.6025" stop-color="#ffc400"/><stop offset="0.6025" stop-color="#ff8000"/><stop offset="0.6224" stop-color="#ff8000"/><stop offset="0.6423" stop-color="#ff8000"/><stop offset="0.6423" stop-color="#ff4000"/><stop offset="0.6622" stop-color="#ff4000"/><stop offset="0.6821" stop-color="#ff4000"/><stop offset="0.6821" stop-color="#ff0000"/><stop offset="0.7020" stop-color="#ff0000"/><stop offset="0.7219" stop-color="#ff0000"/><stop offset="0.7219" stop-color="#ff00ff"/><stop offset="0.7418" stop-color="#ff00ff"/><stop offset="0.7617" stop-color="#ff00ff"/><stop offset="0.7617" stop-color="#f800ff"/><stop offset="0.7816" stop-color="#f800ff"/><stop offset="0.8016" stop-color="#f800ff"/><stop offset="0.8016" stop-color="#f000ff"/><stop offset="0.8215" stop-color="#f000ff"/><stop offset="0.8414" stop-color="#f000ff"/><stop offset="0.8414" stop-color="#e000ff"/><stop offset="0.8613" stop-color="#e000ff"/><stop offset="0.8812" stop-color="#e000ff"/><stop offset="0.8812" stop-color="#c400ff"/><stop offset="0.9011" stop-color="#c400ff"/><stop offset="0.9210" stop-color="#c400ff"/><stop offset="0.9210" stop-color="#a000ff"/><stop offset="0.9409" stop-color="#a000ff"/><stop offset="0.9608" stop-color="#a000ff"/><stop offset="0.9608" stop-color="#8000ff"/><stop offset="0.9804" stop-color="#8000ff"/><stop offset="1.0000" stop-color="#8000ff"/></linearGradient>
<rect x="584.2" y="267.90" width="14.2" height="128.60" fill="url(#lg2)"/>
<text x="601.30" y="275.50" font-size="4.75" fill="#111">10354</text>
<text x="601.30" y="280.62" font-size="4.75" fill="#111">8933</text>
<text x="601.30" y="285.74" font-size="4.75" fill="#111">7708</text>
<text x="601.30" y="290.86" font-size="4.75" fill="#111">6650</text>
<text x="601.30" y="295.98" font-size="4.75" fill="#111">5738</text>
<text x="601.30" y="301.10" font-size="4.75" fill="#111">4951</text>
<text x="601.30" y="306.22" font-size="4.75" fill="#111">4272</text>
<text x="601.30" y="311.34" font-size="4.75" fill="#111">3686</text>
<text x="601.30" y="316.46" font-size="4.75" fill="#111">3180</text>
<text x="601.30" y="321.58" font-size="4.75" fill="#111">2744</text>
<text x="601.30" y="326.70" font-size="4.75" fill="#111">2367</text>
<text x="601.30" y="331.82" font-size="4.75" fill="#111">2043</text>
<text x="601.30" y="336.94" font-size="4.75" fill="#111">1762</text>
<text x="601.30" y="342.06" font-size="4.75" fill="#111">1521</text>
<text x="601.30" y="347.18" font-size="4.75" fill="#111">1312</text>
<text x="601.30" y="352.30" font-size="4.75" fill="#111">1132</text>
<text x="601.30" y="357.42" font-size="4.75" fill="#111">977</text>
<text x="601.30" y="362.54" font-size="4.75" fill="#111">843</text>
<text x="601.30" y="367.66" font-size="4.75" fill="#111">727</text>
<text x="601.30" y="372.78" font-size="4.75" fill="#111">627</text>
<text x="601.30" y="377.90" font-size="4.75" fill="#111">541</text>
<text x="601.30" y="383.02" font-size="4.75" fill="#111">467</text>
<text x="601.30" y="388.14" font-size="4.75" fill="#111">403</text>
<text x="601.30" y="393.26" font-size="4.75" fill="#111">348</text>
<path d="M584.2 273.70H598.4M584.2 278.82H598.4M584.2 283.94H598.4M584.2 289.06H598.4M584.2 294.18H598.4M584.2 299.30H598.4M584.2 304.42H598.4M584.2 309.54H598.4M584.2 314.66H598.4M584.2 319.78H598.4M584.2 324.90H598.4M584.2 330.02H598.4M584.2 335.14H598.4M584.2 340.26H598.4M584.2 345.38H598.4M584.2 350.50H598.4M584.2 355.62H598.4M584.2 360.74H598.4M584.2 365.86H598.4M584.2 370.98H598.4M584.2 376.10H598.4M584.2 381.22H598.4M584.2 386.34H598.4M584.2 391.46H598.4" stroke="#000" stroke-opacity="0.5" stroke-width="0.7" fill="none"/>
<rect x="584.2" y="267.90" width="14.2" height="128.60" fill="none" stroke="#444" stroke-opacity="0.55" stroke-width="0.6"/>
<text x="592.30" y="260.10" font-size="6.10" text-anchor="middle" fill="#111">Resistivity</text>
<text x="592.40" y="265.70" font-size="3.90" text-anchor="middle" fill="#333">Ohm.m</text>
<text x="370.00" y="18.50" font-size="10.10" font-weight="bold" text-anchor="middle" fill="#000">2D IP Chargeability Model</text>
<text x="369.80" y="240.90" font-size="10.10" font-weight="bold" text-anchor="middle" fill="#000">2D Resistivity Model</text>
<text x="170.20" y="50.70" font-size="9.90" font-weight="bold" fill="#000">W</text>
<text x="546.00" y="50.30" font-size="9.80" font-weight="bold" fill="#000">E</text>
<text x="369.80" y="426.80" font-size="7.30" font-weight="bold" text-anchor="middle" fill="#000">Station Offset (m)</text>
<rect x="266.8" y="26.8" width="88.8" height="33.5" fill="#fff" stroke="#f00" stroke-width="1"/>
<text x="311.30" y="35.90" font-size="9.15" font-weight="bold" text-anchor="middle" fill="#f00">Copper-Tungsten</text>
<text x="311.30" y="44.90" font-size="9.15" font-weight="bold" text-anchor="middle" fill="#f00">+/- Ag Skarn</text>
<text x="311.30" y="53.90" font-size="9.15" font-weight="bold" text-anchor="middle" fill="#f00">Exposed Nearby</text>
<rect x="381.8" y="42.5" width="57.2" height="14.6" fill="#fff" stroke="#f00" stroke-width="1"/>
<text x="410.50" y="52.30" font-size="8.40" font-weight="bold" text-anchor="middle" fill="#f00">No Outcrop</text>
<path d="M355.6 60.3L361.4 67.9" stroke="#f00" stroke-width="1.1" fill="none"/><path d="M364.2 71.6L359.0 68.5L362.6 65.8z" fill="#f00"/>
<path d="M411.0 57.4L406.3 67.8" stroke="#f00" stroke-width="1.1" fill="none"/><path d="M404.4 72.0L404.6 65.9L408.8 67.8z" fill="#f00"/>
<text x="339.80" y="396.20" font-size="11.30" font-weight="bold" text-anchor="middle" fill="#000">500 m</text>
<path d="M295 392.6H317.5M359.5 392.6H381.6" stroke="#000" stroke-width="1.1" fill="none"/>
<path d="M291.9 392.6l5.6 -2.4v4.8zM384.6 392.6l-5.6 -2.4v4.8z" fill="#000"/>
</svg>
</body></html>
